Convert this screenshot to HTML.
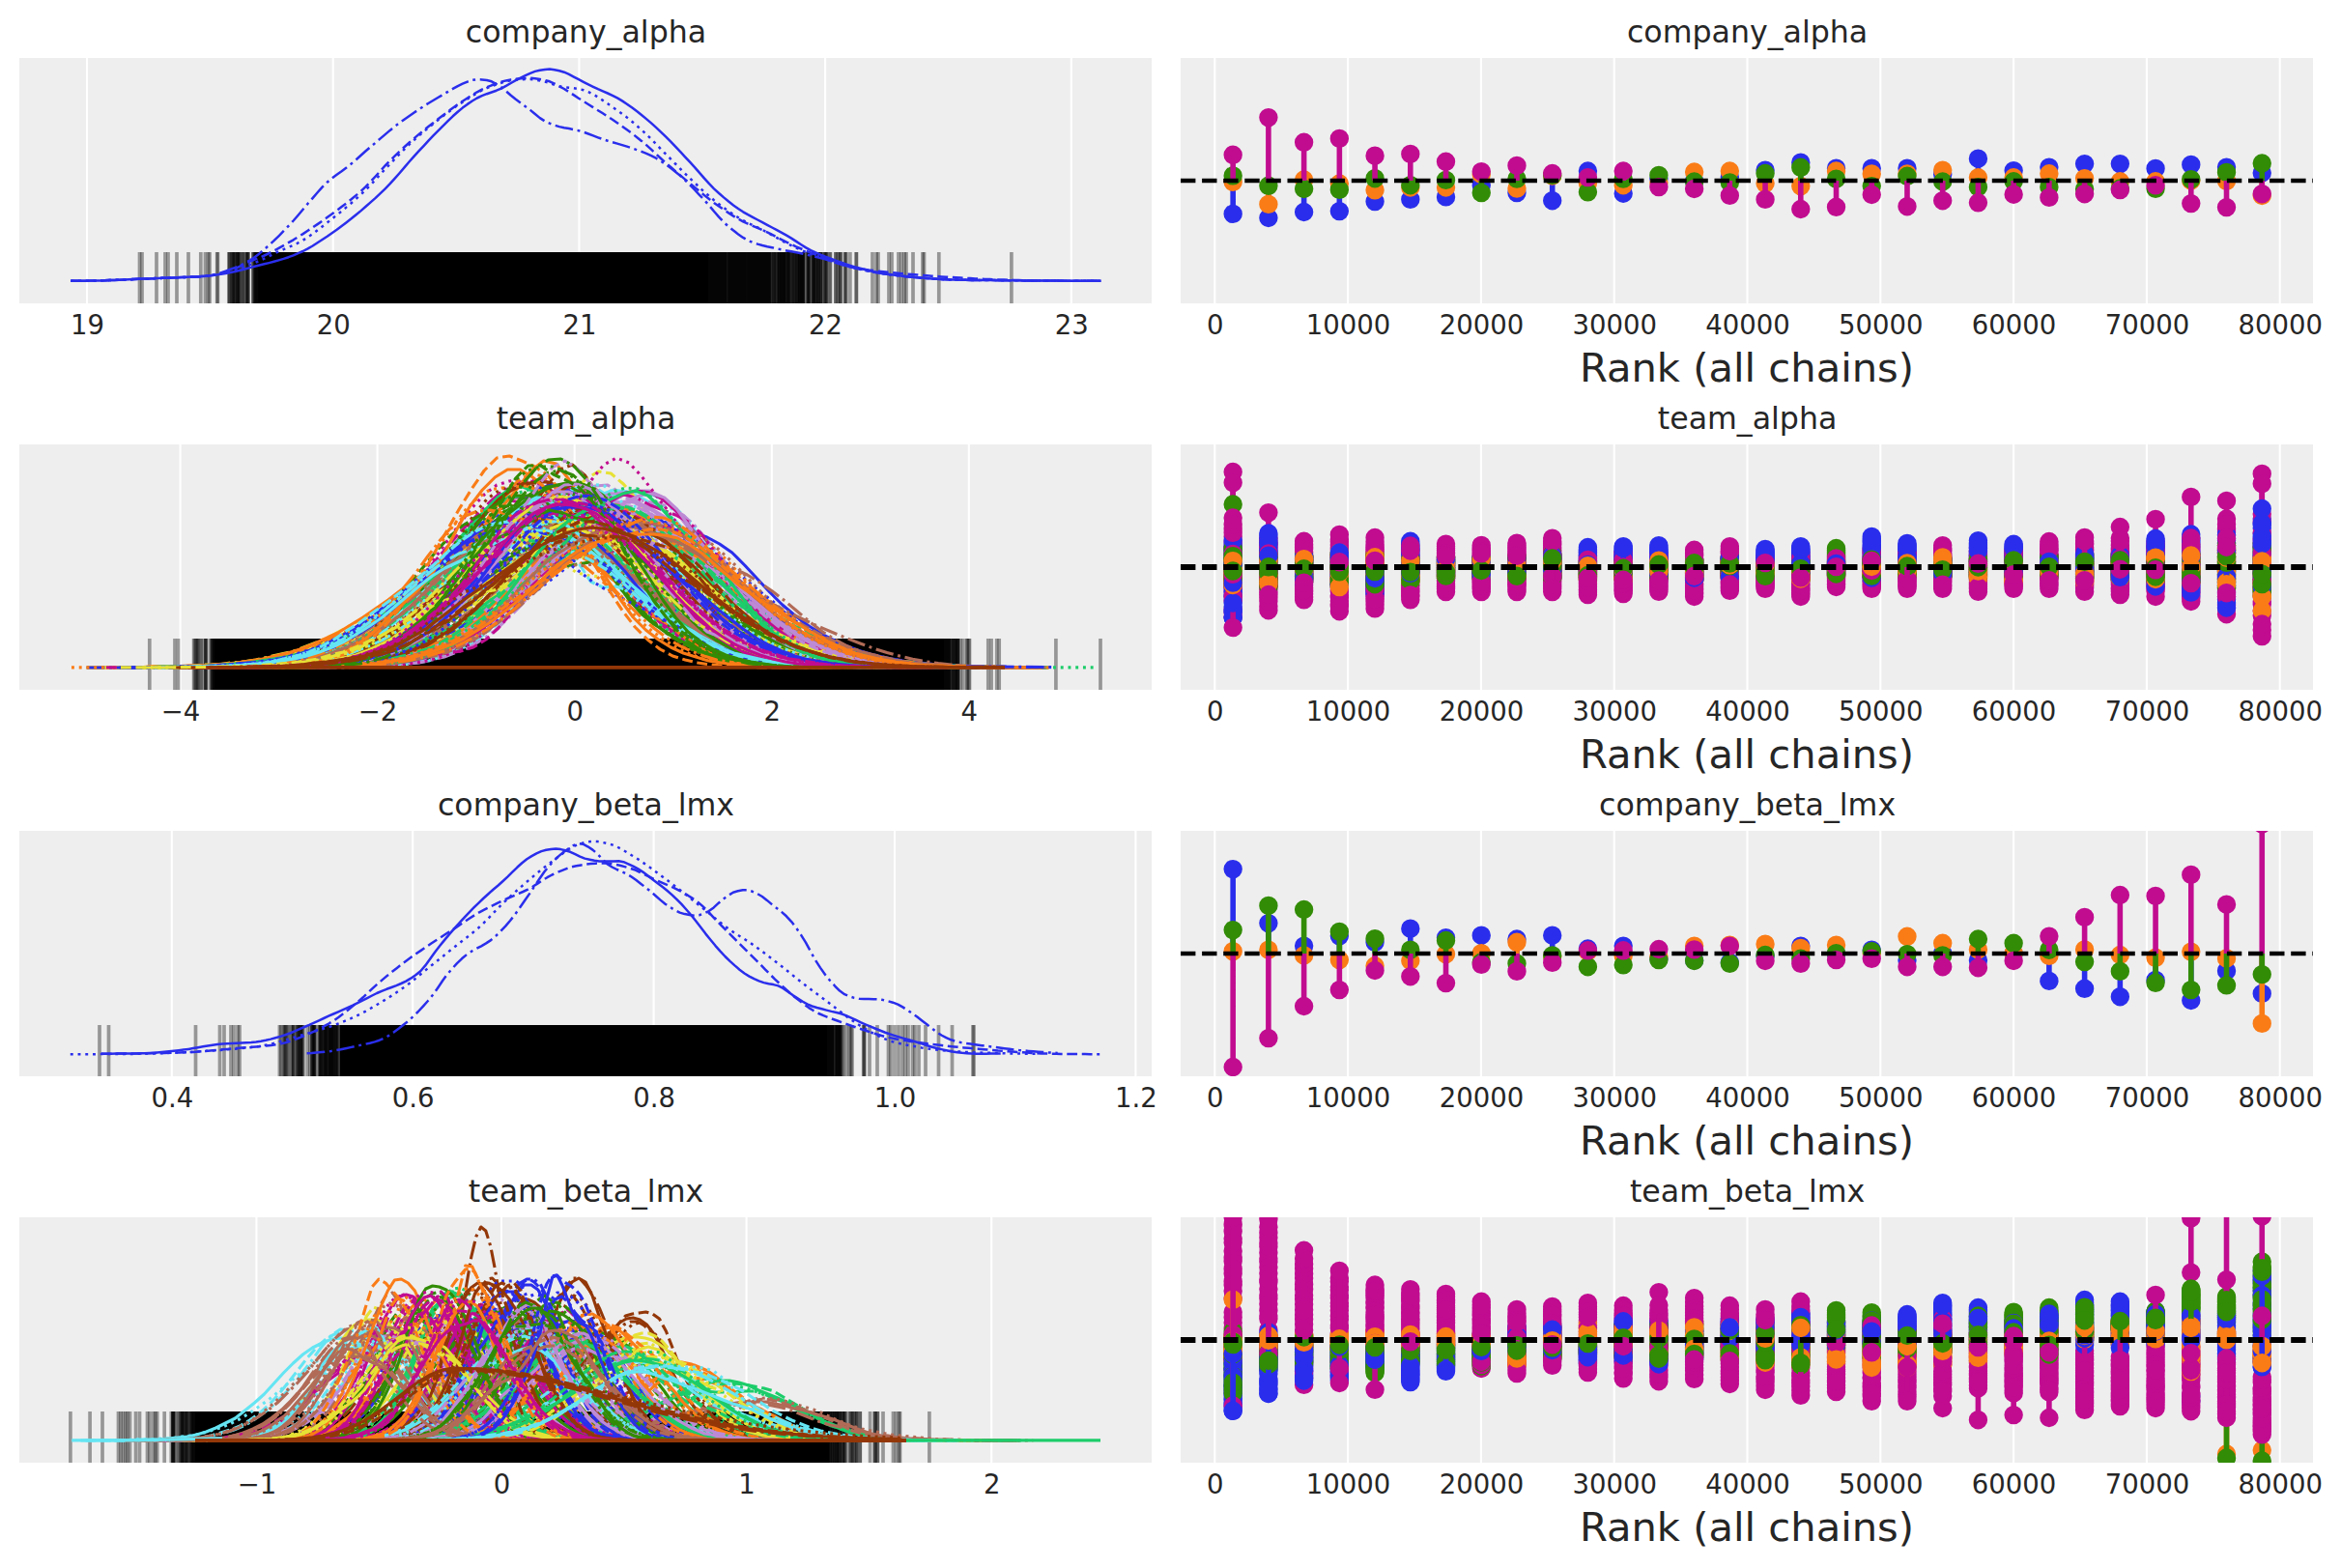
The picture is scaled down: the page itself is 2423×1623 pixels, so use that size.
<!DOCTYPE html>
<html lang="en"><head><meta charset="utf-8"><title>Trace plot</title>
<style>html,body{margin:0;padding:0;background:#fff}svg{display:block}text{font-family:"DejaVu Sans","Liberation Sans",sans-serif;fill:#262626}.tk{font-size:27.5px;text-anchor:middle}.tt{font-size:31.65px;text-anchor:middle}.xl{font-size:41.65px;text-anchor:middle}.k{fill:none;stroke-width:2.50;stroke-linejoin:round;vector-effect:non-scaling-stroke}.g{stroke:#fff;stroke-width:2.1}.d{fill:none;stroke-width:19.4;stroke-linecap:round;vector-effect:non-scaling-stroke}.s{fill:none;stroke-width:5.6;vector-effect:non-scaling-stroke}.w .k{stroke-width:3.1}.c0{stroke:#2a2eec}.c1{stroke:#fa7c17}.c2{stroke:#328c06}.c3{stroke:#c10c90}.c4{stroke:#933708}.c5{stroke:#65e5f3}.c6{stroke:#e6e135}.c7{stroke:#1ccd6a}.c8{stroke:#bd8ad5}.c9{stroke:#b16b57}.d1{stroke-dasharray:2.92 4.82}.d2{stroke-dasharray:10.80 4.67}.d3{stroke-dasharray:18.69 4.67 2.92 4.67}</style></head><body>
<svg width="2423" height="1623" viewBox="0 0 2423 1623">
<rect width="2423" height="1623" fill="#fff"/>
<defs>
<clipPath id="cl0"><rect x="20" y="60" width="1172" height="254"/></clipPath>
<clipPath id="cr0"><rect x="1222" y="60" width="1172" height="254"/></clipPath>
<clipPath id="cl1"><rect x="20" y="460" width="1172" height="254"/></clipPath>
<clipPath id="cr1"><rect x="1222" y="460" width="1172" height="254"/></clipPath>
<clipPath id="cl2"><rect x="20" y="860" width="1172" height="254"/></clipPath>
<clipPath id="cr2"><rect x="1222" y="860" width="1172" height="254"/></clipPath>
<clipPath id="cl3"><rect x="20" y="1260" width="1172" height="254"/></clipPath>
<clipPath id="cr3"><rect x="1222" y="1260" width="1172" height="254"/></clipPath>
</defs>
<rect x="20" y="60" width="1172" height="254" fill="#eee"/>
<path class="g" d="M90,60v254M344.7,60v254M599.4,60v254M854.1,60v254M1108.8,60v254"/>
<rect x="1222" y="60" width="1172" height="254" fill="#eee"/>
<path class="g" d="M1257.3,60v254M1395.1,60v254M1532.9,60v254M1670.7,60v254M1808.5,60v254M1946.3,60v254M2084.1,60v254M2221.9,60v254M2359.7,60v254"/>
<rect x="20" y="460" width="1172" height="254" fill="#eee"/>
<path class="g" d="M186.6,460v254M390.6,460v254M594.7,460v254M798.8,460v254M1002.8,460v254"/>
<rect x="1222" y="460" width="1172" height="254" fill="#eee"/>
<path class="g" d="M1257.3,460v254M1395.1,460v254M1532.9,460v254M1670.7,460v254M1808.5,460v254M1946.3,460v254M2084.1,460v254M2221.9,460v254M2359.7,460v254"/>
<rect x="20" y="860" width="1172" height="254" fill="#eee"/>
<path class="g" d="M177.8,860v254M427.2,860v254M676.6,860v254M926,860v254M1175.4,860v254"/>
<rect x="1222" y="860" width="1172" height="254" fill="#eee"/>
<path class="g" d="M1257.3,860v254M1395.1,860v254M1532.9,860v254M1670.7,860v254M1808.5,860v254M1946.3,860v254M2084.1,860v254M2221.9,860v254M2359.7,860v254"/>
<rect x="20" y="1260" width="1172" height="254" fill="#eee"/>
<path class="g" d="M265.4,1260v254M519,1260v254M772.6,1260v254M1026.2,1260v254"/>
<rect x="1222" y="1260" width="1172" height="254" fill="#eee"/>
<path class="g" d="M1257.3,1260v254M1395.1,1260v254M1532.9,1260v254M1670.7,1260v254M1808.5,1260v254M1946.3,1260v254M2084.1,1260v254M2221.9,1260v254M2359.7,1260v254"/>
<g clip-path="url(#cl0)">
<rect x="267.5" y="261" width="465.5" height="54"/>
<path d="M144.5,261v54M212.5,261v54M240,261v54M245.4,261v54M251.8,261v54M262,261v54M266,261v54M269.3,261v54M732.1,261v54M733.6,261v54M736.6,261v54M738.2,261v54M740.5,261v54M741.7,261v54M744.8,261v54M747.1,261v54M748.8,261v54M750.8,261v54M755.2,261v54M757.1,261v54M760.1,261v54M763.6,261v54M766,261v54M768.1,261v54M770.5,261v54M773.6,261v54M777,261v54M780.2,261v54M782.4,261v54M784.9,261v54M788.4,261v54M790.5,261v54M793.4,261v54M795.7,261v54M800.6,261v54M806.3,261v54M809.1,261v54M812.1,261v54M816.6,261v54M822.1,261v54M827.6,261v54M829.9,261v54M835.5,261v54M841.9,261v54M846.5,261v54M853.7,261v54M865.1,261v54M879.9,261v54M930,261v54M1046.9,261v54" stroke="#000" stroke-opacity="0.37" stroke-width="3.7" fill="none"/>
<path d="M147,261v54M215.5,261v54M240.6,261v54M246.1,261v54M253.8,261v54M263.1,261v54M266.4,261v54M269.6,261v54M732.3,261v54M733.7,261v54M736.6,261v54M738.8,261v54M740.6,261v54M741.8,261v54M745.1,261v54M747.2,261v54M749.5,261v54M751,261v54M755.5,261v54M757.4,261v54M761,261v54M763.7,261v54M766.3,261v54M768.4,261v54M770.8,261v54M775,261v54M778,261v54M780.4,261v54M783.2,261v54M785,261v54M788.7,261v54M791,261v54M794.2,261v54M796.1,261v54M801.5,261v54M806.5,261v54M809.5,261v54M812.4,261v54M817,261v54M822.8,261v54M827.8,261v54M830.8,261v54M836.5,261v54M842,261v54M846.9,261v54M853.8,261v54M867.2,261v54M886.2,261v54M933,261v54" stroke="#000" stroke-opacity="0.37" stroke-width="3.7" fill="none"/>
<path d="M162,261v54M217,261v54M241.2,261v54M246.2,261v54M255.1,261v54M264,261v54M267.9,261v54M731.2,261v54M732.8,261v54M733.9,261v54M736.7,261v54M739,261v54M740.7,261v54M742.1,261v54M745.1,261v54M747.2,261v54M749.8,261v54M751.8,261v54M755.6,261v54M758,261v54M761.3,261v54M764.1,261v54M766.4,261v54M769,261v54M771,261v54M775.1,261v54M778.3,261v54M780.7,261v54M783.3,261v54M785.5,261v54M789.1,261v54M791.3,261v54M794.4,261v54M796.1,261v54M801.5,261v54M806.6,261v54M810.1,261v54M813.6,261v54M817.9,261v54M824.1,261v54M828,261v54M831,261v54M836.8,261v54M842.2,261v54M847.5,261v54M855.1,261v54M868.8,261v54M886.5,261v54M936,261v54" stroke="#000" stroke-opacity="0.37" stroke-width="3.7" fill="none"/>
<path d="M171,261v54M224.7,261v54M241.3,261v54M247.1,261v54M255.9,261v54M264.1,261v54M268.2,261v54M731.8,261v54M733,261v54M733.9,261v54M737,261v54M739.3,261v54M740.9,261v54M742.7,261v54M745.5,261v54M747.3,261v54M749.9,261v54M752.4,261v54M756.2,261v54M758,261v54M761.4,261v54M764.3,261v54M766.8,261v54M769.2,261v54M771.8,261v54M775.1,261v54M778.5,261v54M780.9,261v54M783.3,261v54M786.2,261v54M789.1,261v54M791.3,261v54M794.8,261v54M796.2,261v54M801.5,261v54M806.9,261v54M810.8,261v54M813.8,261v54M818.8,261v54M824.8,261v54M828,261v54M831.1,261v54M837.3,261v54M842.6,261v54M849.1,261v54M855.3,261v54M870,261v54M903,261v54M938,261v54" stroke="#000" stroke-opacity="0.37" stroke-width="3.7" fill="none"/>
<path d="M174,261v54M225.4,261v54M242.1,261v54M247.5,261v54M256.1,261v54M264.9,261v54M268.4,261v54M731.8,261v54M733.1,261v54M734.6,261v54M737.6,261v54M739.4,261v54M741,261v54M742.9,261v54M745.6,261v54M747.4,261v54M749.9,261v54M752.8,261v54M756.2,261v54M758.8,261v54M761.4,261v54M764.5,261v54M766.9,261v54M769.3,261v54M772.1,261v54M775.3,261v54M779,261v54M780.9,261v54M783.4,261v54M787.1,261v54M789.2,261v54M792.4,261v54M794.8,261v54M797.8,261v54M803.2,261v54M807.1,261v54M811.1,261v54M815.4,261v54M819.6,261v54M825.3,261v54M828.2,261v54M831.2,261v54M837.4,261v54M843.8,261v54M849.4,261v54M855.7,261v54M870.1,261v54M907,261v54M945,261v54" stroke="#000" stroke-opacity="0.37" stroke-width="3.7" fill="none"/>
<path d="M183,261v54M237,261v54M243.2,261v54M248,261v54M256.9,261v54M264.9,261v54M268.6,261v54M731.9,261v54M733.1,261v54M736.1,261v54M737.8,261v54M740,261v54M741,261v54M742.9,261v54M745.7,261v54M747.5,261v54M750,261v54M754.2,261v54M756.3,261v54M759.1,261v54M762.1,261v54M765.1,261v54M767.6,261v54M770,261v54M773.1,261v54M775.7,261v54M779.1,261v54M781.1,261v54M784.2,261v54M787.4,261v54M789.7,261v54M792.7,261v54M794.9,261v54M797.9,261v54M804.2,261v54M808.3,261v54M811.3,261v54M815.4,261v54M820.8,261v54M825.4,261v54M829.7,261v54M831.4,261v54M838,261v54M844.6,261v54M849.5,261v54M858.9,261v54M874.3,261v54M909,261v54M955,261v54" stroke="#000" stroke-opacity="0.37" stroke-width="3.7" fill="none"/>
<path d="M195,261v54M237.5,261v54M243.5,261v54M250.3,261v54M257,261v54M265.5,261v54M269,261v54M731.9,261v54M733.1,261v54M736.1,261v54M737.9,261v54M740.1,261v54M741.1,261v54M743.9,261v54M745.9,261v54M747.8,261v54M750.2,261v54M754.6,261v54M756.6,261v54M759.4,261v54M762.3,261v54M765.2,261v54M767.6,261v54M770,261v54M773.1,261v54M776.1,261v54M779.2,261v54M782.1,261v54M784.7,261v54M787.8,261v54M789.7,261v54M792.9,261v54M794.9,261v54M798,261v54M804.2,261v54M808.6,261v54M811.3,261v54M815.5,261v54M820.8,261v54M825.6,261v54M829.7,261v54M832.4,261v54M841.1,261v54M845.1,261v54M850,261v54M859.5,261v54M875,261v54M920,261v54M956.5,261v54" stroke="#000" stroke-opacity="0.37" stroke-width="3.7" fill="none"/>
<path d="M207.8,261v54M237.7,261v54M245.2,261v54M251.1,261v54M261.9,261v54M265.9,261v54M269.2,261v54M731.9,261v54M733.3,261v54M736.3,261v54M738.1,261v54M740.5,261v54M741.3,261v54M744.6,261v54M747,261v54M748.6,261v54M750.4,261v54M755,261v54M756.9,261v54M759.8,261v54M762.8,261v54M765.9,261v54M767.8,261v54M770.2,261v54M773.2,261v54M776.6,261v54M780,261v54M782.3,261v54M784.8,261v54M788.2,261v54M790.3,261v54M792.9,261v54M795.2,261v54M800,261v54M805.5,261v54M808.6,261v54M811.3,261v54M815.8,261v54M821.9,261v54M827.4,261v54M829.9,261v54M835.3,261v54M841.2,261v54M845.9,261v54M851.9,261v54M864.9,261v54M876,261v54M923,261v54M971.8,261v54" stroke="#000" stroke-opacity="0.37" stroke-width="3.7" fill="none"/>
</g>
<g clip-path="url(#cl0)">
<path class="k c0" d="M73.3,290.8l5,0 5-0.1 5,0 5-0.1 5-0.1 5-0.1 5-0.2 5-0.1 5.1-0.2 5-0.2 5-0.2 5-0.3 5-0.2 5-0.3 5-0.1 5-0.2 5-0.2 5-0.2 5-0.2 5-0.1 5-0.2 5-0.2 5-0.2 5-0.3 5-0.2 5-0.2 5.1-0.3 5-0.4 5-0.5 5-0.6 5-0.8 5-0.9 5-0.9 5-1 5-1.2 5-1.3 5-1.4 5-1.3 5-1.3 5-1.2 5-1.2 5-1.3 5-1.4 5-1.5 5.1-1.7 5-1.9 5-2.1 5-2.2 5-2.6 5-2.9 5-3.2 5-3.3 5-3.3 5-3.5 5-3.5 5-3.7 5-3.8 5-3.9 5-4.1 5-4.1 5-4.3 5-4.4 5.1-4.5 5-4.7 5-4.9 5-5.1 5-5.5 5-5.7 5-5.9 5-5.8 5-5.6 5-5.5 5-5.4 5-5.4 5-5.2 5-5.1 5-5 5-5 5-4.8 5.1-4.6 5-4.1 5-3.7 5-3.4 5-3 5-2.4 5-1.9 5-1.7 5-1.8 5-2.1 5-2.7 5-2.9 5-2.8 5-2.6 5-2.5 5-2.3 5-1.9 5-1.2 5.1-0.8 5-0.3 5,0.6 5,1.1 5,1.4 5,2.2 5,2.7 5,2.6 5,2.6 5,2.5 5,2.5 5,2.4 5,2.2 5,2.1 5,2.3 5,2.6 5,3 5,3.3 5.1,3.6 5,3.8 5,3.9 5,4.1 5,4.3 5,4.5 5,4.7 5,4.8 5,5 5,5.2 5,5.3 5,5.4 5,5.4 5,5.5 5,5.7 5,5.7 5,5.6 5,5.1 5.1,4.7 5,4.4 5,4.1 5,3.9 5,3.6 5,3.3 5,2.9 5,2.7 5,2.6 5,2.6 5,2.7 5,2.7 5,2.7 5,2.7 5,2.8 5,2.9 5,3.3 5.1,3.3 5,3.2 5,2.8 5,2.3 5,2.1 5,2 5,1.9 5,1.9 5,1.8 5,1.8 5,1.6 5,1.5 5,1.4 5,1.3 5,1.3 5,1.1 5,0.9 5,0.8 5.1,0.8 5,0.7 5,0.7 5,0.6 5,0.5 5,0.5 5,0.5 5,0.4 5,0.5 5,0.4 5,0.3 5,0.3 5,0.2 5,0.2 5,0.1 5,0.1 5,0.1 5,0.1 5.1,0 5,0.1 5,0 5,0.1 5,0 5,0.1 5,0 5,0.1 5,0 5,0 5,0.1 5,0 5,0.1 5,0 5,0 5,0.1 5,0 5,0 5.1,0.1 5,0 5,0 5,0 5,0 5,0.1 5,0 5,0 5,0"/>
<path class="k c0 d1" d="M73.3,290.8l5,0 5-0.1 5,0 5-0.1 5-0.1 5-0.1 5-0.2 5-0.1 5.1-0.2 5-0.2 5-0.2 5-0.3 5-0.2 5-0.3 5-0.1 5-0.2 5-0.2 5-0.2 5-0.2 5-0.1 5-0.2 5-0.2 5-0.2 5-0.2 5-0.2 5-0.3 5.1-0.3 5-0.4 5-0.5 5-0.9 5-1.1 5-1.2 5-1.3 5-1.3 5-1.6 5-1.8 5-1.9 5-2 5-2.1 5-2.3 5-2.4 5-2.5 5-2.5 5-2.2 5.1-2.2 5-2.1 5-2.4 5-2.7 5-3.2 5-3.4 5-3.8 5-3.9 5-3.9 5-4 5-3.9 5-4 5-4.2 5-4.2 5-4.4 5-4.5 5-4.8 5-5.1 5.1-5.5 5-5.5 5-5.5 5-5.2 5-5.2 5-5.2 5-5 5-4.9 5-4.6 5-4.5 5-4.2 5-4.1 5-4.1 5-3.9 5-3.9 5-3.8 5-3.8 5.1-3.6 5-3.3 5-3.2 5-3.2 5-3 5-2.7 5-2.3 5-2 5-1.8 5-1.7 5-1.4 5-1 5-0.6 5-0.4 5-0.3 5-0.1 5,0.6 5,1 5.1,1.1 5,1.3 5,1.8 5,1.6 5,0.9 5,0.6 5,0.5 5,0.7 5,1.2 5,1.9 5,2.5 5,3 5,3.3 5,3.4 5,3.5 5,3.5 5,3.5 5,3.8 5.1,4.1 5,4.3 5,4.4 5,4.6 5,5 5,5.1 5,5.2 5,5.1 5,5 5,5.1 5,5.1 5,5 5,4.9 5,4.7 5,4.8 5,4.6 5,4.4 5,4.2 5.1,4 5,3.8 5,3.6 5,3.4 5,3.2 5,2.9 5,2.6 5,2.4 5,2.4 5,2.4 5,2.6 5,2.8 5,2.8 5,2.9 5,2.7 5,2.5 5,2.4 5.1,2.3 5,2.1 5,1.9 5,1.6 5,1.5 5,1.5 5,1.6 5,1.7 5,1.7 5,1.6 5,1.6 5,1.3 5,1.3 5,1.2 5,1.1 5,1 5,0.9 5,0.7 5.1,0.8 5,0.7 5,0.6 5,0.6 5,0.5 5,0.4 5,0.5 5,0.4 5,0.4 5,0.4 5,0.3 5,0.3 5,0.2 5,0.2 5,0.1 5,0.1 5,0.1 5,0.1 5.1,0 5,0.1 5,0 5,0.1 5,0 5,0.1 5,0 5,0.1 5,0 5,0 5,0.1 5,0 5,0.1 5,0 5,0 5,0.1 5,0 5,0 5.1,0.1 5,0 5,0 5,0 5,0 5,0.1 5,0 5,0 5,0"/>
<path class="k c0 d2" d="M73.3,290.8l5,0 5-0.1 5,0 5-0.1 5-0.1 5-0.1 5-0.2 5-0.1 5.1-0.2 5-0.2 5-0.2 5-0.3 5-0.2 5-0.3 5-0.1 5-0.2 5-0.2 5-0.2 5-0.2 5-0.1 5-0.2 5-0.2 5-0.2 5-0.2 5-0.2 5-0.3 5.1-0.3 5-0.4 5-0.6 5-1 5-1.3 5-1.4 5-1.6 5-1.8 5-2.4 5-2.5 5-2.3 5-2.1 5-2 5-2.2 5-2.4 5-2.5 5-2.7 5-2.8 5.1-2.9 5-2.9 5-3.1 5-3.1 5-3.3 5-3.3 5-3.4 5-3.4 5-3.6 5-3.6 5-3.7 5-3.7 5-3.8 5-4 5-4.2 5-4.3 5-4.6 5-5.2 5.1-5.5 5-5.6 5-5.5 5-5.2 5-4.8 5-4.8 5-4.6 5-4.5 5-4.4 5-4.2 5-4.1 5-4 5-3.8 5-3.9 5-3.9 5-3.8 5-3.7 5.1-3.6 5-3.4 5-3.2 5-3.2 5-3 5-2.7 5-2.3 5-2 5-1.8 5-1.7 5-1.4 5-1 5-0.6 5-0.5 5-0.4 5-0.1 5,0.4 5,0.8 5.1,0.9 5,1.4 5,2.3 5,2.7 5,2.7 5,3.1 5,3.3 5,3.3 5,3.2 5,3.1 5,3.1 5,3.1 5,3.1 5,3.2 5,3.3 5,3.4 5,3.5 5,3.6 5.1,3.7 5,3.9 5,4 5,4.2 5,4.6 5,4.6 5,4.7 5,4.5 5,4.3 5,4.3 5,4.3 5,4.2 5,4.1 5,4.2 5,4.1 5,4.1 5,4 5,3.8 5.1,3.6 5,3.5 5,3.4 5,3.2 5,3 5,2.7 5,2.3 5,2.2 5,2.1 5,2.2 5,2.3 5,2.5 5,2.6 5,2.6 5,2.5 5,2.4 5,2.3 5.1,2.2 5,2.1 5,2 5,2 5,2.1 5,2.1 5,2 5,1.8 5,1.8 5,1.5 5,1.2 5,1 5,0.9 5,0.7 5,0.8 5,0.6 5,0.6 5,0.5 5.1,0.6 5,0.4 5,0.5 5,0.5 5,0.5 5,0.4 5,0.4 5,0.4 5,0.4 5,0.4 5,0.3 5,0.4 5,0.3 5,0.3 5,0.3 5,0.3 5,0.3 5,0.2 5.1,0.3 5,0.3 5,0.2 5,0.2 5,0.2 5,0.2 5,0.1 5,0.2 5,0.1 5,0.1 5,0.2 5,0.1 5,0.1 5,0.1 5,0 5,0.1 5,0 5,0 5.1,0.1 5,0 5,0 5,0 5,0.1 5,0 5,0 5,0 5,0"/>
<path class="k c0 d3" d="M73.3,290.8l5,0 5-0.1 5,0 5-0.1 5-0.1 5-0.1 5-0.2 5-0.1 5.1-0.2 5-0.2 5-0.2 5-0.3 5-0.2 5-0.3 5-0.1 5-0.2 5-0.2 5-0.2 5-0.2 5-0.1 5-0.2 5-0.2 5-0.2 5-0.2 5-0.2 5-0.3 5.1-0.3 5-0.4 5-0.7 5-1.1 5-1.5 5-1.8 5-1.8 5-1.9 5-2.1 5-2.5 5-2.8 5-3.3 5-3.8 5-4.2 5-4.4 5-4.6 5-4.9 5-5.1 5.1-5.3 5-5.4 5-5.8 5-6 5-5.9 5-5.7 5-5.8 5-5.6 5-5 5-4.2 5-3.7 5-3.5 5-3.7 5-4.1 5-4.3 5-4.5 5-4.4 5-4.4 5.1-4.2 5-4.3 5-4.3 5-4.2 5-4 5-3.8 5-3.7 5-3.5 5-3.4 5-3.4 5-3.2 5-3.2 5-3 5-3 5-2.9 5-2.9 5-3 5.1-2.8 5-2.4 5-2.1 5-1.8 5-0.6 5,0.2 5,0.6 5,1.3 5,2.8 5,3.2 5,4.1 5,4.4 5,4 5,3.7 5,3.7 5,3.7 5,4.1 5,4.1 5.1,3.3 5,2.3 5,1.9 5,1.5 5,1.1 5,0.9 5,1 5,1.1 5,1.5 5,1.8 5,1.9 5,1.9 5,1.8 5,1.6 5,1.5 5,1.4 5,1.5 5,1.5 5.1,1.7 5,1.8 5,1.8 5,2 5,2.3 5,2.5 5,3 5,3.4 5,3.7 5,3.9 5,4.2 5,4.5 5,4.9 5,5.2 5,5.3 5,5.3 5,5.6 5,6 5.1,5.9 5,5.4 5,4.6 5,4 5,3.8 5,3.5 5,2.9 5,2.2 5,1.6 5,1.4 5,1.2 5,1 5,1.1 5,1.1 5,1 5,0.9 5,0.9 5.1,1.1 5,1.1 5,1.2 5,1.2 5,1.3 5,1.3 5,1.4 5,1.6 5,1.6 5,1.5 5,1.5 5,1.3 5,1.2 5,1.1 5,1.1 5,0.9 5,0.9 5,0.7 5.1,0.8 5,0.6 5,0.7 5,0.5 5,0.6 5,0.4 5,0.5 5,0.4 5,0.4 5,0.4 5,0.3 5,0.3 5,0.2 5,0.2 5,0.1 5,0.1 5,0.1 5,0.1 5.1,0 5,0.1 5,0 5,0.1 5,0 5,0.1 5,0 5,0.1 5,0 5,0 5,0.1 5,0 5,0.1 5,0 5,0 5,0.1 5,0 5,0 5.1,0.1 5,0 5,0 5,0 5,0 5,0.1 5,0 5,0 5,0"/>
</g>
<g clip-path="url(#cr0)">
<g transform="translate(1276.17 187) scale(36.7267 1)">
<path class="s c0" d="M0,0V34.4M1,0V38.5M2,0V32.5M3,0V31.6M4,0V21.6M5,0V19.4M6,0V16.9M7,0V4.7M8,0V12.6M9,0V20.7M10,0V-10M11,0V13.2M12,0V-1.9M13,0V0M14,0V-3.8M15,0V-10.9M16,0V-18.8M17,0V-12.8M18,0V-12.8M19,0V-12.8M20,0V-6.6M21,0V-22.8M22,0V-10.4M23,0V-13.9M24,0V-17.4M25,0V-17.4M26,0V-12.6M27,0V-16.6M28,0V-13.9M29,0V-8"/>
<path class="d c0" d="M0,34.4h0M1,38.5h0M2,32.5h0M3,31.6h0M4,21.6h0M5,19.4h0M6,16.9h0M7,4.7h0M8,12.6h0M9,20.7h0M10-10h0M11,13.2h0M12-1.9h0M13,0h0M14-3.8h0M15-10.9h0M16-18.8h0M17-12.8h0M18-12.8h0M19-12.8h0M20-6.6h0M21-22.8h0M22-10.4h0M23-13.9h0M24-17.4h0M25-17.4h0M26-12.6h0M27-16.6h0M28-13.9h0M29-8h0"/>
<path class="s c1" d="M0,0V1.3M1,0V24.4M2,0V-1M3,0V3M4,0V9.8M5,0V7M6,0V7M7,0V-6.6M8,0V8.1M9,0V-5M10,0V2.8M11,0V4.7M12,0V2M13,0V-9M14,0V-10M15,0V2.8M16,0V5.6M17,0V-10M18,0V-7.1M19,0V-7.1M20,0V-10.9M21,0V-3.2M22,0V-3.2M23,0V-7.2M24,0V-2.4M25,0V0.8M26,0V0.8M27,0V0M28,0V0.3M29,0V15.5"/>
<path class="d c1" d="M0,1.3h0M1,24.4h0M2-1h0M3,3h0M4,9.8h0M5,7h0M6,7h0M7-6.6h0M8,8.1h0M9-5h0M10,2.8h0M11,4.7h0M12,2h0M13-9h0M14-10h0M15,2.8h0M16,5.6h0M17-10h0M18-7.1h0M19-7.1h0M20-10.9h0M21-3.2h0M22-3.2h0M23-7.2h0M24-2.4h0M25,0.8h0M26,0.8h0M27,0h0M28,0.3h0M29,15.5h0"/>
<path class="s c2" d="M0,0V-5.1M1,0V5.3M2,0V8.5M3,0V9.4M4,0V-2.3M5,0V4.7M6,0V-0.6M7,0V12.6M8,0V-1.9M9,0V-5.6M10,0V11.8M11,0V-1.9M12,0V-5.6M13,0V1M14,0V1.9M15,0V-7.5M16,0V-13.7M17,0V-1.9M18,0V5.6M19,0V-4.7M20,0V1M21,0V6.7M22,0V0.8M23,0V6.7M24,0V8.8M25,0V8M26,0V8.3M27,0V-1.3M28,0V-8.6M29,0V-18"/>
<path class="d c2" d="M0-5.1h0M1,5.3h0M2,8.5h0M3,9.4h0M4-2.3h0M5,4.7h0M6-0.6h0M7,12.6h0M8-1.9h0M9-5.6h0M10,11.8h0M11-1.9h0M12-5.6h0M13,1h0M14,1.9h0M15-7.5h0M16-13.7h0M17-1.9h0M18,5.6h0M19-4.7h0M20,1h0M21,6.7h0M22,0.8h0M23,6.7h0M24,8.8h0M25,8h0M26,8.3h0M27-1.3h0M28-8.6h0M29-18h0"/>
<path class="s c3" d="M0,0V-26.7M1,0V-65.4M2,0V-39.7M3,0V-43.6M4,0V-25.8M5,0V-27.6M6,0V-19.7M7,0V-9.4M8,0V-15.6M9,0V-7.5M10,0V-3.4M11,0V-10M12,0V6.6M13,0V8.5M14,0V15.4M15,0V19.4M16,0V29.5M17,0V27.3M18,0V14.5M19,0V26.7M20,0V20.7M21,0V22.8M22,0V14.2M23,0V17.4M24,0V13.7M25,0V9.6M26,0V4.8M27,0V23.6M28,0V27.6M29,0V13.7"/>
<path class="d c3" d="M0-26.7h0M1-65.4h0M2-39.7h0M3-43.6h0M4-25.8h0M5-27.6h0M6-19.7h0M7-9.4h0M8-15.6h0M9-7.5h0M10-3.4h0M11-10h0M12,6.6h0M13,8.5h0M14,15.4h0M15,19.4h0M16,29.5h0M17,27.3h0M18,14.5h0M19,26.7h0M20,20.7h0M21,22.8h0M22,14.2h0M23,17.4h0M24,13.7h0M25,9.6h0M26,4.8h0M27,23.6h0M28,27.6h0M29,13.7h0"/>
</g>
<path d="M1222,187H2394" stroke="#000" stroke-width="4.3" stroke-dasharray="15.4 6.7" fill="none"/>
</g>
<g clip-path="url(#cl2)">
<rect x="352" y="1061" width="504" height="54"/>
<path d="M103,1061v54M248,1061v54M298.5,1061v54M308.1,1061v54M313.9,1061v54M325,1061v54M331.9,1061v54M337,1061v54M341.7,1061v54M343.2,1061v54M347.8,1061v54M353.5,1061v54M855.8,1061v54M857.6,1061v54M861.1,1061v54M864.2,1061v54M868.1,1061v54M871.9,1061v54M894.6,1061v54M937,1061v54M1007,1061v54" stroke="#000" stroke-opacity="0.37" stroke-width="3.7" fill="none"/>
<path d="M112.5,1061v54M289.4,1061v54M301,1061v54M308.4,1061v54M318.2,1061v54M325.4,1061v54M332.3,1061v54M337.2,1061v54M342,1061v54M343.7,1061v54M347.9,1061v54M854.1,1061v54M856.1,1061v54M857.7,1061v54M861.3,1061v54M865.9,1061v54M868.3,1061v54M873.3,1061v54M900,1061v54M940,1061v54M1008,1061v54" stroke="#000" stroke-opacity="0.37" stroke-width="3.7" fill="none"/>
<path d="M202.5,1061v54M290.8,1061v54M302.3,1061v54M310.2,1061v54M320.9,1061v54M325.7,1061v54M332.7,1061v54M337.8,1061v54M342,1061v54M344.5,1061v54M348.6,1061v54M854.4,1061v54M856.3,1061v54M858.1,1061v54M861.4,1061v54M866,1061v54M868.3,1061v54M876.5,1061v54M908,1061v54M944.5,1061v54" stroke="#000" stroke-opacity="0.37" stroke-width="3.7" fill="none"/>
<path d="M227.5,1061v54M293.3,1061v54M303.7,1061v54M310.8,1061v54M322.6,1061v54M326.4,1061v54M334.2,1061v54M337.9,1061v54M342.2,1061v54M344.5,1061v54M349.3,1061v54M855.1,1061v54M856.4,1061v54M858.4,1061v54M861.5,1061v54M866.2,1061v54M868.7,1061v54M879.3,1061v54M919.5,1061v54M947,1061v54" stroke="#000" stroke-opacity="0.37" stroke-width="3.7" fill="none"/>
<path d="M232,1061v54M294.4,1061v54M304,1061v54M311.4,1061v54M323.3,1061v54M330,1061v54M334.5,1061v54M338.8,1061v54M342.5,1061v54M345.1,1061v54M349.8,1061v54M855.3,1061v54M856.5,1061v54M858.9,1061v54M861.8,1061v54M866.3,1061v54M869.1,1061v54M880.8,1061v54M922,1061v54M951,1061v54" stroke="#000" stroke-opacity="0.37" stroke-width="3.7" fill="none"/>
<path d="M239,1061v54M295,1061v54M304,1061v54M311.7,1061v54M323.3,1061v54M330.5,1061v54M335.6,1061v54M338.9,1061v54M342.8,1061v54M345.9,1061v54M349.9,1061v54M855.3,1061v54M856.6,1061v54M859.2,1061v54M861.8,1061v54M866.4,1061v54M869.1,1061v54M882,1061v54M926,1061v54M958,1061v54" stroke="#000" stroke-opacity="0.37" stroke-width="3.7" fill="none"/>
<path d="M242,1061v54M295.9,1061v54M307.8,1061v54M311.9,1061v54M324.4,1061v54M331.3,1061v54M335.6,1061v54M340.6,1061v54M342.8,1061v54M346.6,1061v54M352.8,1061v54M855.4,1061v54M856.8,1061v54M859.6,1061v54M861.9,1061v54M866.8,1061v54M870.1,1061v54M893.7,1061v54M930,1061v54M971.5,1061v54" stroke="#000" stroke-opacity="0.37" stroke-width="3.7" fill="none"/>
<path d="M246,1061v54M297.2,1061v54M308,1061v54M313.2,1061v54M324.6,1061v54M331.8,1061v54M336.4,1061v54M340.7,1061v54M343,1061v54M346.7,1061v54M353.3,1061v54M855.4,1061v54M857,1061v54M860.9,1061v54M863.2,1061v54M866.9,1061v54M870.2,1061v54M894.5,1061v54M934,1061v54M985.5,1061v54" stroke="#000" stroke-opacity="0.37" stroke-width="3.7" fill="none"/>
</g>
<g clip-path="url(#cl2)">
<path class="k c0" d="M104.9,1090.7l5,0 5,0 5-0.1 5,0 5-0.1 5,0 5-0.1 5-0.1 5-0.1 5-0.2 5-0.3 5.1-0.4 5-0.5 5-0.5 5-0.6 5-0.5 5-0.6 5-0.7 5-0.8 5-0.9 5-0.9 5-0.9 5-0.7 5-0.6 5-0.5 5-0.3 5-0.3 5-0.2 5-0.3 5-0.3 5-0.3 5-0.5 5-0.7 5-0.9 5.1-1.2 5-1.3 5-1.4 5-1.6 5-1.8 5-2.1 5-2.2 5-2.2 5-2.1 5-2.3 5-2.3 5-2.3 5-2.3 5-2.2 5-2.2 5-2.2 5-2.3 5-2.2 5-2.4 5-2.5 5-2.6 5-2.6 5-2.5 5-2.2 5.1-2 5-1.8 5-1.9 5-2.1 5-2.4 5-2.9 5-3.4 5-4.1 5-5.8 5-6.9 5-7 5-6.4 5-6.2 5-6 5-5.8 5-5.6 5-5.4 5-5.3 5-5.1 5-4.9 5-4.8 5-4.5 5-4.5 5.1-4.3 5-4.5 5-4.6 5-4.9 5-4.9 5-4.5 5-4 5-3.2 5-2.8 5-2.2 5-1.3 5-0.9 5-0.4 5,0.6 5,1.2 5,1.5 5,2.3 5,2.5 5,2 5,1.1 5,1.1 5,0.6 5,0.2 5.1-0.1 5-0.1 5-0.1 5,0.9 5,2.1 5,2.4 5,2.6 5,3.3 5,3.7 5,3.9 5,3.7 5,3.9 5,4 5,4.3 5,4.7 5,5.1 5,5.6 5,5.7 5,6.3 5,6.6 5,6.5 5,6.2 5,6 5.1,5.8 5,5.4 5,4.9 5,4.5 5,4.3 5,3.8 5,3.1 5,2.6 5,2.2 5,1.7 5,1.1 5,0.9 5,1.3 5,2.5 5,3.5 5,3.7 5,3.2 5,3.2 5,2.9 5,2.1 5,1.5 5,1.3 5,1.3 5,1.3 5.1,1.1 5,1.3 5,1.8 5,2.2 5,2.3 5,2.5 5,2.2 5,2.1 5,2.1 5,2 5,2 5,1.8 5,1.6 5,1.5 5,1.5 5,1.4 5,1.5 5,1.5 5,1.6 5,1.6 5,1.5 5,1.3 5,1.1 5.1,1.1 5,1 5,0.7 5,0.6 5,0.4 5,0.4 5,0.1 5,0 5,0 5-0.1 5-0.1 5-0.1"/>
<path class="k c0 d1" d="M72.8,1091.2l5,0 5,0 5,0 5,0 5,0 5-0.1 5,0 5.1,0 5,0 5-0.1 5,0 5,0 5-0.1 5-0.1 5-0.1 5-0.1 5-0.1 5-0.2 5-0.1 5-0.2 5-0.2 5-0.2 5-0.2 5.1-0.2 5-0.3 5-0.3 5-0.3 5-0.3 5-0.4 5-0.4 5-0.3 5-0.4 5-0.4 5-0.4 5-0.4 5-0.5 5-0.5 5-0.6 5.1-0.6 5-0.9 5-1.1 5-1.2 5-1.4 5-1.4 5-1.5 5-1.5 5-1.5 5-1.5 5-1.4 5-1.4 5-1.5 5-1.5 5-1.5 5.1-1.7 5-1.8 5-1.9 5-2.1 5-2.1 5-2.3 5-2.4 5-2.7 5-2.8 5-2.9 5-3 5-3 5-3.1 5-3.3 5-3.3 5-3.5 5.1-3.7 5-4 5-4.1 5-4.1 5-4.1 5-4 5-4 5-4 5-4 5-4 5-3.9 5-3.9 5-3.9 5-4 5-4.1 5.1-4.5 5-5 5-5.1 5-5.3 5-5.1 5-4.8 5-4.6 5-4.6 5-4.4 5-4.3 5-4.3 5-4.2 5-4.1 5-4.1 5-3.8 5-3.7 5.1-3.8 5-3.8 5-3.6 5-2.9 5-2.1 5-1.5 5-1.2 5-0.5 5,0.3 5,0.8 5,1.2 5,1.3 5,2 5,2.6 5,3 5.1,3.2 5,3 5,3.3 5,3.5 5,3.6 5,3.6 5,3.7 5,3.7 5,3.8 5,3.8 5,3.9 5,3.9 5,4 5,4 5,4 5.1,4.1 5,4 5,4.2 5,4.1 5,4 5,3.7 5,3.5 5,3.2 5,3.1 5,3.2 5,3.3 5,3.6 5,3.7 5,3.7 5,3.9 5,3.8 5.1,3.9 5,4 5,4.1 5,4 5,4 5,3.9 5,3.8 5,3.7 5,3.7 5,3.7 5,3.8 5,3.9 5,3.9 5,3.8 5,3.7 5.1,3.4 5,3.4 5,3.2 5,3 5,2.7 5,2.5 5,2.3 5,2.1 5,1.6 5,1.3 5,1.2 5,1 5,0.9 5,0.9 5,0.9 5.1,0.8 5,0.7 5,0.6 5,0.5 5,0.5 5,0.4 5,0.4 5,0.3 5,0.3 5,0.3 5,0.2 5,0.1 5,0.2 5,0.1 5,0.2 5,0.1 5.1,0.1 5,0.2 5,0.1 5,0 5,0.1 5,0.1 5,0 5,0"/>
<path class="k c0 d2" d="M104.9,1090.7l5,0 5,0 5-0.1 5.1,0 5,0 5-0.1 5-0.1 5,0 5-0.1 5.1-0.1 5-0.1 5-0.1 5-0.1 5-0.2 5-0.1 5.1-0.1 5-0.2 5-0.2 5-0.2 5-0.4 5-0.4 5.1-0.4 5-0.4 5-0.5 5-0.5 5-0.4 5-0.5 5-0.4 5.1-0.4 5-0.4 5-0.4 5-0.4 5-0.4 5-0.5 5.1-0.6 5-0.7 5-0.8 5-1.1 5-1.5 5-1.9 5.1-2.1 5-2.1 5-2.1 5-2.3 5-2.5 5-2.6 5.1-2.9 5-3.1 5-3.5 5-3.7 5-4 5-4.1 5-4.2 5.1-4.4 5-4.7 5-4.7 5-4.5 5-4.3 5-4.2 5.1-4.1 5-3.9 5-3.9 5-3.8 5-3.6 5-3.5 5.1-3.5 5-3.4 5-3.4 5-3.3 5-3.2 5-3.3 5.1-3.2 5-3.2 5-3.4 5-3.4 5-3.3 5-3.2 5-3 5.1-2.7 5-2.5 5-2.5 5-2.4 5-2.4 5-2.3 5.1-2.1 5-2.2 5-2.2 5-2.4 5-2.8 5-3.2 5.1-3.3 5-3.1 5-2.7 5-2.3 5-2.1 5-2 5.1-1.7 5-1.2 5-0.8 5-0.7 5-0.6 5-0.4 5-0.3 5.1-0.1 5,0.4 5,0.9 5,1.1 5,1.4 5,1.4 5.1,1.7 5,2.3 5,2.4 5,2.6 5,2.4 5,2.2 5.1,2.2 5,2.1 5,2.3 5,2.4 5,2.7 5,2.9 5.1,3.2 5,3.5 5,4.2 5,4.9 5,5.4 5,5.3 5.1,5.1 5,5 5,5 5,5 5,5 5,5 5,5 5.1,5.1 5,5 5,5.1 5,5.1 5,5 5,4.7 5.1,4.6 5,4.5 5,4.3 5,3.9 5,3.9 5,3.6 5.1,3.2 5,2.7 5,2.2 5,2 5,1.8 5,1.8 5.1,1.8 5,1.8 5,1.8 5,1.7 5,1.7 5,1.6 5,1.6 5.1,1.7 5,1.5 5,1.3 5,1.1 5,1 5,0.9 5.1,0.8 5,0.8 5,0.7 5,0.7 5,0.7 5,0.6 5.1,0.6 5,0.6 5,0.6 5,0.5 5,0.5 5,0.5 5.1,0.5 5,0.4 5,0.5 5,0.4 5,0.5 5,0.4 5,0.4 5.1,0.5 5,0.3 5,0.4 5,0.4 5,0.3 5,0.3 5.1,0.4 5,0.3 5,0.3 5,0.2 5,0.2 5,0.1 5.1,0.1 5,0.1 5,0 5,0.1 5,0.1 5,0 5.1,0 5,0.1 5,0 5,0"/>
<path class="k c0 d3" d="M317.6,1090.2l5-0.2 5-0.4 5-0.5 5.1-0.5 5-0.6 5-0.8 5-0.9 5-1.1 5-1.1 5-1.1 5-1.1 5.1-1.1 5-1.1 5-1.3 5-1.7 5-2.1 5-2.9 5-3.4 5.1-3.7 5-4 5-4.1 5-4.6 5-4.9 5-5.4 5-5.6 5.1-6.2 5-7.1 5-7.4 5-6.9 5-5.8 5-5.4 5-4.9 5-4.2 5.1-3.4 5-2.8 5-2.6 5-2.9 5-3.3 5-4.2 5-4.9 5.1-5.4 5-5.8 5-6.5 5-7 5-7.3 5-7.1 5-7.6 5.1-7.6 5-7.2 5-6.2 5-5.4 5-4.8 5-4.1 5-3.5 5-3.3 5.1-2 5,0.5 5,2.6 5,3.3 5,4.3 5,5.3 5,4.9 5.1,3.4 5,2.5 5,2.2 5,2.3 5,3 5,3.5 5,3.9 5,4 5.1,4 5,4.3 5,4.4 5,4.1 5,3.3 5,3.1 5,2.5 5.1,1.5 5,1 5,0.6 5-0.4 5-1.8 5-2.4 5-3.7 5.1-4.7 5-4.2 5-3.6 5-3.1 5-1.6 5-1 5,0 5,1.6 5.1,2.3 5,2.9 5,3.9 5,4.2 5,3.9 5,3.9 5,4.4 5.1,5.5 5,6.5 5,7.3 5,8 5,9.3 5,9 5,7.7 5,7.1 5.1,6.3 5,5.5 5,5.1 5,3.6 5,2.1 5,1.6 5,0.9 5.1,0.2 5,0.1 5,0.1 5,0.2 5,0.7 5,1.2 5,1.4 5.1,1.9 5,2.8 5,3.2 5,3.4 5,3.6 5,3.9 5,3.8 5,4 5.1,4 5,3.2 5,2.6 5,2.2 5,1.6 5,1.1 5,0.9 5.1,0.7 5,0.7 5,0.6 5,0.7 5,0.6 5,0.7 5,0.7 5.1,0.6 5,0.6 5,0.6 5,0.6 5,0.4 5,0.5 5,0.4 5,0.4 5.1,0.3 5,0.4 5,0.3 5,0.2"/>
</g>
<g clip-path="url(#cr2)">
<g transform="translate(1276.17 987) scale(36.7267 1)">
<path class="s c0" d="M0,0V-87.4M1,0V-31.4M2,0V-7.9M3,0V-18.2M4,0V-11.7M5,0V-25.8M6,0V-16.4M7,0V-18.8M8,0V-15M9,0V-18.8M10,0V-5M11,0V-7.9M12,0V5M13,0V7M14,0V9M15,0V2.5M16,0V-7.9M17,0V0M18,0V-3.8M19,0V7.1M20,0V-0.4M21,0V7.1M22,0V0M23,0V28.4M24,0V36.3M25,0V44.7M26,0V27.4M27,0V48.5M28,0V17.9M29,0V41.4"/>
<path class="d c0" d="M0-87.4h0M1-31.4h0M2-7.9h0M3-18.2h0M4-11.7h0M5-25.8h0M6-16.4h0M7-18.8h0M8-15h0M9-18.8h0M10-5h0M11-7.9h0M12,5h0M13,7h0M14,9h0M15,2.5h0M16-7.9h0M17,0h0M18-3.8h0M19,7.1h0M20-0.4h0M21,7.1h0M22,0h0M23,28.4h0M24,36.3h0M25,44.7h0M26,27.4h0M27,48.5h0M28,17.9h0M29,41.4h0"/>
<path class="s c1" d="M0,0V-2.3M1,0V-3.8M2,0V1.9M3,0V6.6M4,0V12.8M5,0V7.5M6,0V0.6M7,0V-0.4M8,0V-11.7M9,0V3M10,0V-2M11,0V2.4M12,0V3M13,0V-7.9M14,0V-8.8M15,0V-9.8M16,0V-5.6M17,0V-8.8M18,0V0M19,0V-17.7M20,0V-10.7M21,0V-4.1M22,0V-0.4M23,0V2.4M24,0V-4.1M25,0V1.5M26,0V4.3M27,0V-1.9M28,0V4.9M29,0V72.4"/>
<path class="d c1" d="M0-2.3h0M1-3.8h0M2,1.9h0M3,6.6h0M4,12.8h0M5,7.5h0M6,0.6h0M7-0.4h0M8-11.7h0M9,3h0M10-2h0M11,2.4h0M12,3h0M13-7.9h0M14-8.8h0M15-9.8h0M16-5.6h0M17-8.8h0M18,0h0M19-17.7h0M20-10.7h0M21-4.1h0M22-0.4h0M23,2.4h0M24-4.1h0M25,1.5h0M26,4.3h0M27-1.9h0M28,4.9h0M29,72.4h0"/>
<path class="s c2" d="M0,0V-24.4M1,0V-49.6M2,0V-45.5M3,0V-22.6M4,0V-15.4M5,0V-3.8M6,0V-13.5M7,0V9M8,0V10.3M9,0V1.9M10,0V13.7M11,0V11.8M12,0V6.6M13,0V7.5M14,0V10.3M15,0V1.5M16,0V5.3M17,0V-0.4M18,0V-2.3M19,0V0.6M20,0V1.9M21,0V-15M22,0V-10.7M23,0V-3.8M24,0V8.6M25,0V18.4M26,0V30.3M27,0V37.6M28,0V32.9M29,0V21.6"/>
<path class="d c2" d="M0-24.4h0M1-49.6h0M2-45.5h0M3-22.6h0M4-15.4h0M5-3.8h0M6-13.5h0M7,9h0M8,10.3h0M9,1.9h0M10,13.7h0M11,11.8h0M12,6.6h0M13,7.5h0M14,10.3h0M15,1.5h0M16,5.3h0M17-0.4h0M18-2.3h0M19,0.6h0M20,1.9h0M21-15h0M22-10.7h0M23-3.8h0M24,8.6h0M25,18.4h0M26,30.3h0M27,37.6h0M28,32.9h0M29,21.6h0"/>
<path class="s c3" d="M0,0V117.5M1,0V87.6M2,0V54.5M3,0V37.6M4,0V17.5M5,0V23.7M6,0V30.6M7,0V11.3M8,0V18.4M9,0V9.4M10,0V-3.2M11,0V-3.2M12,0V-4.5M13,0V-4.1M14,0V-7.9M15,0V7.5M16,0V10.3M17,0V6.6M18,0V5.3M19,0V13.7M20,0V13.7M21,0V14.7M22,0V7.5M23,0V-17.9M24,0V-37.6M25,0V-60.5M26,0V-59.6M27,0V-81.6M28,0V-50.8M29,0V-134"/>
<path class="d c3" d="M0,117.5h0M1,87.6h0M2,54.5h0M3,37.6h0M4,17.5h0M5,23.7h0M6,30.6h0M7,11.3h0M8,18.4h0M9,9.4h0M10-3.2h0M11-3.2h0M12-4.5h0M13-4.1h0M14-7.9h0M15,7.5h0M16,10.3h0M17,6.6h0M18,5.3h0M19,13.7h0M20,13.7h0M21,14.7h0M22,7.5h0M23-17.9h0M24-37.6h0M25-60.5h0M26-59.6h0M27-81.6h0M28-50.8h0M29-134h0"/>
</g>
<path d="M1222,987H2394" stroke="#000" stroke-width="4.3" stroke-dasharray="15.4 6.7" fill="none"/>
</g>
<g clip-path="url(#cl1)">
<rect x="221.7" y="661" width="755.3" height="54"/>
<path d="M154.8,661v54M205.2,661v54M219.2,661v54M222,661v54M977.4,661v54M980.6,661v54M982,661v54M988,661v54M992,661v54M1026.1,661v54" stroke="#000" stroke-opacity="0.37" stroke-width="3.7" fill="none"/>
<path d="M181,661v54M208.1,661v54M219.3,661v54M223.6,661v54M978.2,661v54M980.8,661v54M982.9,661v54M988.1,661v54M993.9,661v54M1031.7,661v54" stroke="#000" stroke-opacity="0.37" stroke-width="3.7" fill="none"/>
<path d="M184.5,661v54M208.7,661v54M219.8,661v54M223.9,661v54M978.3,661v54M980.8,661v54M983.9,661v54M989.4,661v54M996.7,661v54M1034.2,661v54" stroke="#000" stroke-opacity="0.37" stroke-width="3.7" fill="none"/>
<path d="M200.6,661v54M212.2,661v54M220.5,661v54M975.5,661v54M978.7,661v54M981.2,661v54M984.3,661v54M989.5,661v54M1000.5,661v54M1092.9,661v54" stroke="#000" stroke-opacity="0.37" stroke-width="3.7" fill="none"/>
<path d="M201.5,661v54M212.8,661v54M221.1,661v54M976.2,661v54M979.1,661v54M981.4,661v54M985,661v54M990.9,661v54M1001.2,661v54M1139,661v54" stroke="#000" stroke-opacity="0.37" stroke-width="3.7" fill="none"/>
<path d="M202.8,661v54M213.1,661v54M221.6,661v54M976.5,661v54M979.9,661v54M981.5,661v54M986.6,661v54M990.9,661v54M1002.7,661v54" stroke="#000" stroke-opacity="0.37" stroke-width="3.7" fill="none"/>
<path d="M204,661v54M213.1,661v54M221.9,661v54M976.5,661v54M980.2,661v54M981.6,661v54M986.6,661v54M991,661v54M1003.5,661v54" stroke="#000" stroke-opacity="0.37" stroke-width="3.7" fill="none"/>
<path d="M204.8,661v54M217.2,661v54M221.9,661v54M977.1,661v54M980.4,661v54M981.9,661v54M987,661v54M991.1,661v54M1022.8,661v54" stroke="#000" stroke-opacity="0.37" stroke-width="3.7" fill="none"/>
</g>
<g class="w" clip-path="url(#cl1)">
<path class="k c0" transform="scale(13 1)" d="M14.104,690l1,0 1,0 1-1 1,0 1-1 1-2 1-1 1-3 1-2 1-4 1-4 1-5 1-6 1-7 1-8 1-9 1-10 1-10 1-10 1-10 1-8 1-8 1-9 1-9 1-7 1-2 1,2 1,2 1,1 1,0 1,2 1,5 1,8 1,8 1,10 1,12 1,13 1,12 1,11 1,8 1,7 1,6 1,6 1,5 1,4 1,3 1,3 1,3 1,1 1,2 1,1 1,0 1,1 1,0 1,0 1,1 1,0 1,0 1,0 1,0 1,0"/>
<path class="k c0 d1" transform="scale(13 1)" d="M14.997,690l1,0 1,0 1-1 1,0 1-1 1-2 1-1 1-2 1-3 1-4 1-4 1-6 1-6 1-8 1-8 1-9 1-9 1-10 1-10 1-10 1-10 1-10 1-11 1-9 1-8 1-5 1-3 1-1 1,0 1,2 1,6 1,12 1,15 1,15 1,12 1,11 1,10 1,11 1,9 1,9 1,8 1,7 1,5 1,5 1,3 1,3 1,3 1,1 1,2 1,1 1,0 1,1 1,0"/>
<path class="k c0 d2" transform="scale(13 1)" d="M16.972,690l1,0 1,0 1-1 1-1 1-1 1-1 1-3 1-3 1-3 1-5 1-6 1-8 1-9 1-10 1-11 1-13 1-14 1-15 1-16 1-14 1-12 1-7 1-6 1-4 1-3 1,0 1,2 1,7 1,11 1,15 1,16 1,16 1,15 1,13 1,12 1,11 1,10 1,9 1,7 1,5 1,4 1,3 1,3 1,2 1,2 1,1 1,1 1,1 1,0 1,0 1,1 1,0"/>
<path class="k c0 d3" transform="scale(13 1)" d="M11.662,691l1,0 1,0 1,0 1-1 1,0 1,0 1-1 1-1 1-1 1-2 1-2 1-3 1-3 1-5 1-5 1-6 1-7 1-8 1-8 1-10 1-12 1-13 1-14 1-13 1-13 1-10 1-9 1-6 1-5 1-2 1,1 1,4 1,6 1,9 1,11 1,12 1,13 1,13 1,12 1,12 1,11 1,10 1,8 1,8 1,6 1,6 1,4 1,4 1,2 1,2 1,2 1,1 1,1 1,1 1,0"/>
<path class="k c1" transform="scale(13 1)" d="M22.021,690l1,0 1,0 1-1 1,0 1-1 1-1 1-2 1-2 1-2 1-3 1-4 1-5 1-6 1-8 1-10 1-10 1-10 1-9 1-6 1-7 1-7 1-7 1-8 1-10 1-10 1-10 1-10 1-5 1-1 1,5 1,9 1,10 1,11 1,11 1,11 1,11 1,12 1,10 1,10 1,8 1,8 1,6 1,5 1,5 1,5 1,4 1,3 1,3 1,2 1,2 1,1 1,1 1,1 1,1 1,0 1,0 1,0 1,1 1,0 1,0"/>
<path class="k c1 d1" transform="scale(13 1)" d="M18.299,691l1,0 1,0 1,0 1-1 1,0 1,0 1-1 1,0 1-1 1-1 1-2 1-2 1-2 1-4 1-3 1-5 1-5 1-6 1-7 1-8 1-8 1-9 1-10 1-9 1-9 1-9 1-8 1-6 1-5 1-2 1-2 1-3 1-4 1-5 1,0 1,6 1,12 1,12 1,11 1,7 1,7 1,8 1,9 1,9 1,8 1,8 1,7 1,6 1,5 1,5 1,3 1,4 1,2 1,2 1,2 1,1 1,1 1,0 1,1 1,0 1,0"/>
<path class="k c1 d2" transform="scale(13 1)" d="M15.135,691l1,0 1,0 1,0 1,0 1,0 1,0 1-1 1,0 1,0 1-1 1,0 1-1 1-1 1-2 1-2 1-2 1-3 1-4 1-5 1-5 1-7 1-8 1-9 1-7 1-6 1-5 1-7 1-9 1-12 1-12 1-11 1-9 1-7 1-4 1-2 1,0 1,2 1,3 1,6 1,7 1,9 1,9 1,10 1,10 1,9 1,8 1,8 1,8 1,8 1,8 1,8 1,6 1,5 1,5 1,3 1,2 1,2 1,2 1,1 1,1 1,0 1,1 1,0 1,0 1,1 1,0 1,0 1,0"/>
<path class="k c1 d3" transform="scale(13 1)" d="M16.522,691l1,0 1,0 1,0 1,0 1,0 1,0 1-1 1,0 1,0 1-1 1-1 1-1 1-1 1-2 1-2 1-3 1-4 1-4 1-5 1-6 1-7 1-8 1-9 1-10 1-12 1-12 1-14 1-15 1-15 1-14 1-11 1-5 1-1 1,3 1,6 1,7 1,7 1,7 1,7 1,9 1,11 1,13 1,11 1,11 1,10 1,9 1,9 1,8 1,7 1,5 1,5 1,5 1,3 1,3 1,2 1,1 1,2 1,1 1,0 1,1 1,0 1,0 1,1 1,0 1,0 1,0 1,0"/>
<path class="k c2" transform="scale(13 1)" d="M19.414,691l1,0 1-1 1,0 1,0 1-1 1-1 1-1 1-2 1-2 1-3 1-3 1-5 1-6 1-7 1-8 1-10 1-11 1-11 1-11 1-12 1-12 1-12 1-10 1-7 1-6 1-4 1-1 1,4 1,9 1,12 1,10 1,9 1,8 1,9 1,10 1,9 1,6 1,7 1,8 1,8 1,8 1,7 1,5 1,5 1,3 1,3 1,2 1,1 1,2 1,0 1,1 1,0 1,0"/>
<path class="k c2 d1" transform="scale(13 1)" d="M22.740,690l1,0 1-1 1,0 1-1 1-2 1-2 1-3 1-3 1-5 1-6 1-7 1-8 1-10 1-11 1-12 1-13 1-12 1-10 1-6 1-9 1-13 1-14 1-9 1-3 1,1 1,4 1,7 1,10 1,11 1,11 1,11 1,13 1,13 1,13 1,12 1,10 1,9 1,8 1,6 1,6 1,4 1,3 1,3 1,2 1,1 1,1 1,1 1,0 1,0 1,1 1,0"/>
<path class="k c2 d2" transform="scale(13 1)" d="M21.296,691l1,0 1-1 1,0 1,0 1-1 1-1 1-2 1-2 1-2 1-4 1-5 1-6 1-8 1-9 1-10 1-11 1-11 1-13 1-14 1-14 1-12 1-8 1-4 1-2 1-5 1-4 1-1 1,3 1,6 1,8 1,9 1,10 1,11 1,12 1,13 1,12 1,12 1,11 1,9 1,8 1,6 1,5 1,4 1,3 1,3 1,1 1,1 1,1 1,1 1,0 1,0 1,1 1,0 1,0"/>
<path class="k c2 d3" transform="scale(13 1)" d="M19.843,691l1,0 1-1 1,0 1,0 1-1 1-1 1-1 1-2 1-2 1-4 1-4 1-5 1-6 1-8 1-9 1-10 1-12 1-12 1-13 1-14 1-14 1-14 1-14 1-10 1-5 1,2 1,8 1,10 1,9 1,6 1,6 1,8 1,8 1,10 1,10 1,11 1,11 1,11 1,10 1,9 1,7 1,6 1,5 1,4 1,3 1,2 1,2 1,1 1,1 1,1 1,0 1,0"/>
<path class="k c3" transform="scale(13 1)" d="M17.902,690l1,0 1-1 1-1 1-1 1-2 1-2 1-3 1-3 1-5 1-6 1-8 1-9 1-11 1-12 1-13 1-13 1-14 1-14 1-15 1-15 1-13 1-9 1-5 1,0 1,4 1,7 1,11 1,13 1,14 1,16 1,17 1,15 1,13 1,12 1,10 1,10 1,8 1,6 1,6 1,4 1,3 1,2 1,2 1,1 1,0 1,1"/>
<path class="k c3 d1" transform="scale(13 1)" d="M20.553,690l1,0 1-1 1-1 1-2 1-3 1-4 1-5 1-7 1-9 1-11 1-14 1-16 1-19 1-19 1-18 1-18 1-17 1-14 1-10 1-4 1-2 1,3 1,9 1,13 1,16 1,16 1,16 1,16 1,16 1,15 1,16 1,14 1,12 1,10 1,7 1,6 1,3 1,3 1,1 1,1 1,1 1,0 1,1 1,0 1,0 1,0"/>
<path class="k c3 d2" transform="scale(13 1)" d="M15.681,691l1,0 1-1 1,0 1-1 1,0 1-1 1-2 1-2 1-3 1-4 1-6 1-6 1-8 1-10 1-11 1-12 1-14 1-15 1-15 1-15 1-15 1-13 1-10 1-7 1-2 1,3 1,8 1,10 1,10 1,11 1,11 1,12 1,12 1,12 1,12 1,12 1,11 1,11 1,9 1,8 1,6 1,5 1,3 1,2 1,2 1,1 1,1 1,0 1,0 1,1 1,0 1,0 1,0"/>
<path class="k c3 d3" transform="scale(13 1)" d="M18.045,691l1,0 1-1 1,0 1,0 1-1 1-2 1-2 1-2 1-4 1-5 1-7 1-9 1-11 1-13 1-15 1-17 1-18 1-18 1-17 1-17 1-13 1-11 1-7 1-4 1-1 1,6 1,14 1,19 1,18 1,19 1,18 1,17 1,16 1,15 1,13 1,10 1,9 1,6 1,5 1,3 1,3 1,1 1,1 1,1 1,0 1,1 1,0 1,0"/>
<path class="k c4" transform="scale(13 1)" d="M13.795,691l1,0 1,0 1-1 1,0 1,0 1-1 1,0 1-2 1-1 1-2 1-3 1-4 1-4 1-5 1-6 1-6 1-7 1-9 1-12 1-14 1-16 1-16 1-14 1-12 1-9 1-4 1,2 1,8 1,7 1,3 1-1 1,0 1,4 1,9 1,10 1,12 1,13 1,12 1,12 1,10 1,10 1,8 1,6 1,6 1,4 1,4 1,2 1,2 1,2 1,1 1,0 1,1 1,0 1,1 1,0 1,0 1,0 1,0 1,0"/>
<path class="k c4 d1" transform="scale(13 1)" d="M13.317,691l1,0 1,0 1,0 1-1 1,0 1,0 1-1 1-1 1-1 1-2 1-2 1-3 1-4 1-5 1-6 1-8 1-9 1-10 1-10 1-10 1-8 1-8 1-7 1-8 1-10 1-11 1-10 1-7 1-5 1-3 1,0 1,3 1,7 1,9 1,11 1,12 1,13 1,13 1,12 1,11 1,11 1,9 1,8 1,7 1,5 1,5 1,4 1,2 1,3 1,1 1,1 1,1 1,1 1,0 1,0 1,1 1,0 1,0 1,0 1,0 1,0"/>
<path class="k c4 d2" transform="scale(13 1)" d="M13.507,691l1,0 1,0 1,0 1,0 1,0 1-1 1,0 1,0 1-1 1-1 1-2 1-2 1-3 1-4 1-6 1-6 1-9 1-10 1-12 1-14 1-16 1-16 1-16 1-15 1-15 1-13 1-6 1,3 1,9 1,9 1,4 1,2 1,2 1,6 1,10 1,14 1,15 1,15 1,14 1,13 1,11 1,9 1,7 1,6 1,5 1,4 1,3 1,2 1,2 1,1 1,1 1,0 1,0"/>
<path class="k c4 d3" transform="scale(13 1)" d="M15.934,691l1,0 1-1 1,0 1-1 1,0 1-1 1-2 1-2 1-2 1-4 1-4 1-5 1-7 1-8 1-9 1-10 1-12 1-12 1-13 1-14 1-12 1-12 1-10 1-8 1-7 1-4 1-2 1,0 1,2 1,3 1,6 1,10 1,13 1,16 1,16 1,16 1,14 1,12 1,11 1,10 1,7 1,6 1,5 1,4 1,3 1,2 1,2 1,1 1,1 1,1 1,0 1,0 1,1"/>
<path class="k c5" transform="scale(13 1)" d="M25.863,691l1-1 1,0 1-1 1,0 1-1 1-2 1-2 1-4 1-4 1-5 1-7 1-9 1-9 1-11 1-12 1-12 1-13 1-15 1-17 1-20 1-20 1-14 1-5 1,2 1,5 1,7 1,8 1,11 1,13 1,16 1,16 1,16 1,15 1,14 1,12 1,11 1,9 1,7 1,6 1,5 1,3 1,2 1,2 1,1 1,1 1,1 1,0 1,1 1,0"/>
<path class="k c5 d1" transform="scale(13 1)" d="M21.831,691l1,0 1,0 1,0 1,0 1-1 1,0 1,0 1-1 1-1 1-1 1-2 1-3 1-3 1-5 1-7 1-8 1-11 1-14 1-15 1-16 1-15 1-13 1-14 1-13 1-12 1-8 1-3 1,0 1-1 1-1 1,1 1,4 1,10 1,14 1,18 1,19 1,18 1,16 1,14 1,11 1,10 1,8 1,6 1,5 1,4 1,3 1,2 1,2 1,1 1,1 1,0 1,0 1,1 1,0 1,0"/>
<path class="k c5 d2" transform="scale(13 1)" d="M27.207,690l1,0 1,0 1-1 1-1 1-2 1-2 1-3 1-4 1-5 1-6 1-8 1-10 1-11 1-11 1-13 1-12 1-14 1-18 1-20 1-18 1-14 1-7 1-2 1,1 1,3 1,7 1,12 1,16 1,18 1,17 1,16 1,15 1,13 1,11 1,11 1,9 1,8 1,6 1,6 1,4 1,3 1,2 1,2 1,1 1,0 1,1 1,0 1,1 1,0"/>
<path class="k c5 d3" transform="scale(13 1)" d="M28.127,690l1,0 1,0 1-1 1-1 1-2 1-2 1-4 1-5 1-6 1-8 1-10 1-11 1-14 1-16 1-17 1-19 1-19 1-17 1-14 1-8 1-5 1-2 1,1 1,3 1,7 1,12 1,16 1,18 1,17 1,18 1,16 1,15 1,13 1,11 1,9 1,7 1,6 1,4 1,3 1,2 1,1 1,1 1,1 1,0 1,1 1,0 1,0 1,0"/>
<path class="k c6" transform="scale(13 1)" d="M9.218,691l1,0 1,0 1,0 1,0 1-1 1,0 1,0 1-1 1-1 1-1 1-2 1-1 1-3 1-3 1-4 1-5 1-6 1-6 1-7 1-7 1-6 1-7 1-9 1-12 1-12 1-13 1-13 1-11 1-9 1-6 1-3 1,1 1,3 1,5 1,5 1,7 1,9 1,9 1,11 1,11 1,10 1,9 1,8 1,7 1,10 1,10 1,8 1,6 1,5 1,3 1,3 1,3 1,1 1,2 1,1 1,0 1,1 1,0 1,0 1,1 1,0 1,0 1,0 1,0"/>
<path class="k c6 d1" transform="scale(13 1)" d="M8.968,691l1,0 1,0 1,0 1,0 1-1 1,0 1,0 1-1 1-1 1-1 1-1 1-1 1-2 1-3 1-3 1-3 1-3 1-3 1-4 1-8 1-10 1-11 1-12 1-10 1-11 1-10 1-9 1-9 1-8 1-6 1-5 1-1 1,2 1,6 1,11 1,12 1,8 1,3 1,1 1,2 1,5 1,6 1,7 1,7 1,8 1,10 1,9 1,8 1,7 1,5 1,5 1,3 1,3 1,2 1,2 1,1 1,1 1,1 1,1 1,0 1,0 1,0 1,1 1,0 1,0 1,0 1,0 1,0 1,0"/>
<path class="k c6 d2" transform="scale(13 1)" d="M6.900,691l1,0 1,0 1,0 1,0 1-1 1,0 1,0 1,0 1-1 1-1 1,0 1-2 1-1 1-2 1-2 1-3 1-4 1-4 1-5 1-6 1-7 1-7 1-8 1-9 1-9 1-9 1-10 1-9 1-10 1-10 1-10 1-10 1-9 1-9 1-7 1-4 1,0 1,7 1,14 1,17 1,17 1,15 1,13 1,12 1,10 1,8 1,6 1,5 1,4 1,4 1,5 1,5 1,6 1,5 1,4 1,3 1,3 1,1 1,2 1,1 1,0 1,1 1,0 1,0 1,1"/>
<path class="k c6 d3" transform="scale(13 1)" d="M7.378,691l1,0 1,0 1,0 1,0 1-1 1,0 1,0 1-1 1-1 1,0 1-2 1-1 1-2 1-3 1-3 1-3 1-5 1-5 1-6 1-7 1-7 1-7 1-7 1-6 1-7 1-10 1-10 1-10 1-8 1-6 1-5 1-4 1-4 1-2 1,0 1,2 1,4 1,6 1,7 1,8 1,10 1,10 1,9 1,10 1,10 1,8 1,8 1,7 1,6 1,5 1,5 1,4 1,3 1,2 1,2 1,2 1,1 1,1 1,1 1,1 1,0 1,0 1,0 1,1 1,0 1,0 1,0 1,0"/>
<path class="k c7" transform="scale(13 1)" d="M14.608,691l1-1 1,0 1,0 1-1 1,0 1-1 1-1 1-2 1-1 1-3 1-2 1-4 1-6 1-7 1-9 1-11 1-11 1-13 1-13 1-14 1-16 1-16 1-16 1-15 1-13 1-9 1-2 1,5 1,10 1,11 1,12 1,11 1,10 1,10 1,10 1,12 1,13 1,13 1,12 1,12 1,10 1,8 1,7 1,5 1,4 1,3 1,3 1,1 1,2 1,1 1,0 1,1 1,0 1,0 1,1 1,0 1,0 1,0"/>
<path class="k c7 d1" transform="scale(13 1)" d="M16.713,691l1-1 1,0 1-1 1,0 1-1 1-2 1-2 1-3 1-4 1-5 1-7 1-7 1-7 1-6 1-7 1-8 1-14 1-18 1-20 1-18 1-15 1-10 1-6 1,0 1,1 1,3 1,3 1,5 1,9 1,13 1,17 1,19 1,15 1,13 1,11 1,10 1,9 1,8 1,6 1,5 1,4 1,4 1,2 1,1 1,2 1,0 1,1 1,0 1,1"/>
<path class="k c7 d2" transform="scale(13 1)" d="M18.690,690l1,0 1-1 1-1 1-1 1-1 1-3 1-3 1-4 1-5 1-7 1-8 1-9 1-11 1-12 1-14 1-15 1-16 1-17 1-16 1-14 1-11 1-6 1-2 1,1 1,3 1,3 1,5 1,10 1,15 1,19 1,20 1,18 1,17 1,14 1,11 1,9 1,6 1,6 1,5 1,4 1,4 1,2 1,2 1,1 1,1 1,1 1,0 1,0"/>
<path class="k c7 d3" transform="scale(13 1)" d="M11.307,691l1,0 1,0 1,0 1,0 1-1 1,0 1,0 1-1 1,0 1-1 1-2 1-2 1-2 1-4 1-4 1-5 1-6 1-8 1-9 1-10 1-11 1-13 1-16 1-17 1-17 1-16 1-13 1-10 1-8 1-5 1-4 1,1 1,4 1,9 1,14 1,16 1,17 1,17 1,15 1,13 1,13 1,11 1,10 1,9 1,7 1,7 1,5 1,4 1,3 1,3 1,2 1,1 1,2 1,0 1,1 1,0 1,0"/>
<path class="k c8" transform="scale(13 1)" d="M25.674,690l1,0 1,0 1-1 1-1 1-1 1-2 1-2 1-4 1-4 1-5 1-7 1-8 1-9 1-11 1-12 1-13 1-15 1-14 1-13 1-13 1-13 1-11 1-11 1-8 1-4 1,0 1,6 1,13 1,17 1,20 1,19 1,18 1,15 1,12 1,8 1,6 1,6 1,7 1,7 1,8 1,6 1,5 1,3 1,2 1,2 1,1 1,1 1,0 1,0 1,1 1,0 1,0 1,0 1,0"/>
<path class="k c8 d1" transform="scale(13 1)" d="M27.213,690l1,0 1-1 1,0 1-2 1-1 1-3 1-3 1-4 1-6 1-6 1-9 1-10 1-12 1-14 1-15 1-16 1-16 1-15 1-12 1-7 1-2 1-1 1,1 1,2 1,3 1,6 1,9 1,10 1,12 1,12 1,13 1,14 1,13 1,12 1,10 1,9 1,8 1,6 1,4 1,4 1,2 1,2 1,1 1,1 1,1 1,0"/>
<path class="k c8 d2" transform="scale(13 1)" d="M20.467,691l1,0 1,0 1,0 1,0 1,0 1-1 1,0 1-1 1,0 1-1 1-2 1-2 1-2 1-4 1-4 1-5 1-7 1-9 1-10 1-13 1-14 1-14 1-16 1-15 1-14 1-11 1-7 1-2 1,3 1,6 1,5 1-1 1,0 1,4 1,9 1,12 1,14 1,14 1,14 1,12 1,12 1,10 1,9 1,7 1,6 1,5 1,3 1,3 1,2 1,2 1,1 1,0 1,1 1,0 1,1"/>
<path class="k c8 d3" transform="scale(13 1)" d="M25.379,691l1,0 1,0 1-1 1,0 1,0 1-1 1-2 1-1 1-3 1-3 1-5 1-5 1-8 1-9 1-12 1-13 1-15 1-17 1-20 1-27 1-29 1-17 1-1 1,8 1,6 1,3 1,2 1,4 1,8 1,12 1,15 1,16 1,17 1,15 1,15 1,14 1,11 1,10 1,9 1,6 1,5 1,4 1,3 1,2 1,1 1,1 1,1 1,0 1,1 1,0 1,0 1,0"/>
<path class="k c9" transform="scale(13 1)" d="M17.394,691l1,0 1,0 1,0 1-1 1,0 1,0 1-1 1-1 1-1 1-1 1-2 1-3 1-3 1-4 1-5 1-7 1-7 1-8 1-10 1-10 1-11 1-12 1-13 1-14 1-16 1-15 1-11 1-3 1,3 1,7 1,4 1,1 1,2 1,5 1,9 1,12 1,14 1,13 1,12 1,10 1,10 1,9 1,8 1,8 1,6 1,6 1,5 1,3 1,3 1,3 1,1 1,2 1,1 1,0 1,1 1,0 1,0 1,1 1,0 1,0"/>
<path class="k c9 d1" transform="scale(13 1)" d="M20.441,690l1,0 1,0 1-1 1-1 1-1 1-1 1-2 1-3 1-3 1-4 1-5 1-6 1-8 1-8 1-10 1-10 1-12 1-12 1-12 1-13 1-13 1-12 1-11 1-7 1-5 1,0 1,2 1,6 1,8 1,10 1,14 1,16 1,16 1,15 1,13 1,9 1,7 1,5 1,6 1,5 1,5 1,5 1,4 1,4 1,3 1,2 1,2 1,1 1,1 1,0 1,1 1,0 1,1 1,0 1,0 1,0 1,0"/>
<path class="k c9 d2" transform="scale(13 1)" d="M20.996,690l1,0 1,0 1-1 1-1 1-1 1-2 1-2 1-3 1-3 1-4 1-5 1-6 1-7 1-9 1-9 1-10 1-11 1-11 1-12 1-11 1-12 1-11 1-9 1-8 1-8 1-5 1-3 1,1 1,4 1,7 1,11 1,12 1,14 1,14 1,13 1,14 1,12 1,10 1,10 1,8 1,7 1,6 1,5 1,4 1,3 1,3 1,2 1,1 1,1 1,1 1,1 1,0 1,0 1,1 1,0 1,0 1,0"/>
<path class="k c9 d3" transform="scale(13 1)" d="M13.986,691l1,0 1,0 1,0 1,0 1,0 1-1 1,0 1,0 1-1 1-1 1-1 1-1 1-2 1-2 1-3 1-4 1-4 1-5 1-7 1-8 1-9 1-10 1-10 1-9 1-9 1-9 1-9 1-9 1-7 1-7 1-7 1-6 1-5 1,0 1,3 1,6 1,7 1,9 1,11 1,13 1,14 1,11 1,7 1,6 1,6 1,8 1,7 1,7 1,7 1,5 1,4 1,4 1,2 1,3 1,1 1,2 1,1 1,0 1,1 1,0 1,0 1,1 1,0 1,0 1,0 1,0"/>
<path class="k c0" transform="scale(13 1)" d="M19.686,691l1-1 1,0 1,0 1-1 1-1 1-2 1-2 1-2 1-4 1-5 1-6 1-7 1-9 1-10 1-12 1-13 1-14 1-15 1-15 1-14 1-13 1-11 1-9 1-9 1-10 1-5 1,3 1,12 1,17 1,20 1,18 1,16 1,15 1,14 1,13 1,12 1,10 1,9 1,7 1,6 1,5 1,4 1,2 1,2 1,2 1,1 1,1 1,0 1,0 1,1 1,0 1,0 1,0 1,0"/>
<path class="k c0 d1" transform="scale(13 1)" d="M16.541,691l1,0 1,0 1-1 1,0 1,0 1-1 1-1 1-1 1-2 1-2 1-3 1-4 1-4 1-7 1-8 1-9 1-12 1-12 1-13 1-15 1-14 1-14 1-14 1-13 1-10 1-8 1-2 1,3 1,7 1,8 1,8 1,10 1,13 1,16 1,17 1,14 1,11 1,9 1,9 1,8 1,7 1,6 1,5 1,4 1,4 1,3 1,3 1,2 1,1 1,1 1,0 1,0 1,1 1,0 1,0 1,0"/>
<path class="k c0 d2" transform="scale(13 1)" d="M16.580,691l1,0 1-1 1,0 1,0 1-1 1,0 1-1 1-2 1-2 1-2 1-4 1-4 1-5 1-6 1-7 1-8 1-9 1-10 1-9 1-9 1-9 1-11 1-14 1-16 1-13 1-10 1-7 1-3 1-1 1,4 1,8 1,9 1,11 1,11 1,12 1,13 1,13 1,13 1,11 1,11 1,9 1,8 1,7 1,5 1,5 1,3 1,3 1,2 1,2 1,1 1,1 1,1 1,0 1,0 1,1 1,0"/>
<path class="k c0 d3" transform="scale(13 1)" d="M16.280,691l1,0 1,0 1,0 1-1 1,0 1,0 1-1 1-1 1-1 1-2 1-3 1-4 1-5 1-5 1-7 1-9 1-9 1-12 1-13 1-16 1-16 1-16 1-14 1-11 1-9 1-7 1-5 1-2 1,1 1,4 1,7 1,10 1,13 1,16 1,18 1,17 1,16 1,13 1,12 1,10 1,8 1,6 1,5 1,4 1,3 1,2 1,1 1,1 1,1 1,0 1,0"/>
<path class="k c1" transform="scale(13 1)" d="M20.288,691l1,0 1-1 1,0 1,0 1-1 1-2 1-2 1-3 1-4 1-6 1-8 1-10 1-13 1-15 1-17 1-19 1-20 1-18 1-17 1-15 1-16 1-17 1-10 1,3 1,16 1,20 1,23 1,24 1,23 1,20 1,15 1,13 1,12 1,11 1,9 1,7 1,6 1,4 1,3 1,2 1,1 1,1 1,0 1,1 1,0 1,0"/>
<path class="k c1 d1" transform="scale(13 1)" d="M22.896,691l1-1 1,0 1-1 1-1 1-1 1-3 1-4 1-5 1-7 1-9 1-12 1-16 1-18 1-20 1-21 1-20 1-16 1-11 1-5 1-3 1-4 1-7 1-2 1,7 1,16 1,20 1,22 1,22 1,20 1,18 1,16 1,12 1,10 1,8 1,5 1,4 1,3 1,1 1,1 1,1 1,0 1,1 1,0 1,0"/>
<path class="k c1 d2" transform="scale(13 1)" d="M21.220,691l1,0 1-1 1,0 1-1 1-1 1-1 1-2 1-4 1-6 1-9 1-12 1-14 1-15 1-17 1-18 1-21 1-20 1-20 1-17 1-14 1-8 1,3 1,12 1,16 1,12 1,9 1,12 1,18 1,20 1,20 1,18 1,15 1,12 1,10 1,8 1,5 1,4 1,3 1,1 1,1 1,1 1,0 1,1 1,0 1,0"/>
<path class="k c1 d3" transform="scale(13 1)" d="M20.021,691l1,0 1,0 1-1 1,0 1-1 1-1 1-1 1-2 1-3 1-4 1-6 1-9 1-11 1-14 1-17 1-19 1-22 1-23 1-22 1-19 1-12 1-1 1,6 1,7 1,8 1,6 1,7 1,10 1,17 1,21 1,21 1,19 1,16 1,14 1,10 1,8 1,6 1,5 1,2 1,2 1,1 1,1 1,0 1,1 1,0"/>
<path class="k c2" transform="scale(13 1)" d="M19.311,691l1,0 1,0 1,0 1,0 1-1 1,0 1-1 1,0 1-1 1-2 1-2 1-3 1-4 1-5 1-6 1-7 1-9 1-11 1-12 1-13 1-14 1-14 1-15 1-13 1-12 1-10 1-7 1-4 1-1 1,3 1,7 1,9 1,11 1,13 1,13 1,11 1,11 1,11 1,12 1,13 1,12 1,12 1,9 1,7 1,5 1,2 1,1 1,1 1,1 1,1 1,1 1,0 1,0 1,1 1,0 1,0 1,0 1,0"/>
<path class="k c2 d1" transform="scale(13 1)" d="M20.844,691l1-1 1,0 1,0 1-1 1-1 1-1 1-1 1-3 1-2 1-4 1-4 1-6 1-7 1-8 1-9 1-11 1-11 1-12 1-13 1-13 1-12 1-12 1-11 1-8 1-5 1,2 1,9 1,13 1,13 1,8 1,5 1,2 1,4 1,6 1,10 1,11 1,12 1,10 1,10 1,8 1,7 1,6 1,5 1,4 1,3 1,2 1,2 1,1 1,1 1,1 1,0 1,0 1,1 1,0 1,0 1,0 1,0"/>
<path class="k c2 d2" transform="scale(13 1)" d="M14.895,691l1,0 1,0 1,0 1,0 1,0 1,0 1-1 1,0 1,0 1-1 1-1 1-1 1-2 1-2 1-3 1-4 1-4 1-6 1-8 1-8 1-10 1-10 1-11 1-11 1-13 1-13 1-15 1-15 1-13 1-9 1-5 1-1 1,2 1,3 1,5 1,6 1,9 1,9 1,8 1,7 1,8 1,11 1,15 1,16 1,15 1,13 1,9 1,7 1,6 1,4 1,4 1,2 1,2 1,2 1,1 1,1 1,1 1,0"/>
<path class="k c2 d3" transform="scale(13 1)" d="M19.864,691l1-1 1,0 1,0 1-1 1-1 1-1 1-2 1-2 1-2 1-4 1-4 1-5 1-6 1-7 1-8 1-9 1-10 1-11 1-13 1-13 1-13 1-11 1-9 1-6 1-4 1-2 1-1 1,2 1,3 1,5 1,6 1,7 1,9 1,10 1,10 1,11 1,11 1,10 1,10 1,9 1,8 1,7 1,6 1,5 1,4 1,3 1,3 1,2 1,1 1,1 1,1 1,1 1,0 1,0 1,1 1,0 1,0 1,0 1,0"/>
<path class="k c3" transform="scale(13 1)" d="M12.149,691l1,0 1,0 1-1 1,0 1,0 1,0 1-1 1-1 1-1 1-1 1-2 1-2 1-3 1-4 1-4 1-6 1-6 1-7 1-8 1-8 1-9 1-8 1-9 1-10 1-11 1-11 1-10 1-7 1-6 1-4 1-2 1,0 1,3 1,5 1,8 1,9 1,9 1,11 1,10 1,9 1,10 1,8 1,8 1,8 1,7 1,6 1,6 1,5 1,5 1,3 1,3 1,2 1,2 1,1 1,1 1,1 1,1 1,0 1,0 1,1 1,0 1,0 1,0 1,0"/>
<path class="k c3 d1" transform="scale(13 1)" d="M15.128,690l1,0 1,0 1,0 1-1 1-1 1-1 1-1 1-2 1-2 1-3 1-3 1-4 1-5 1-6 1-7 1-8 1-9 1-9 1-10 1-11 1-10 1-11 1-11 1-11 1-11 1-11 1-8 1-5 1,0 1,4 1,7 1,10 1,14 1,16 1,17 1,16 1,11 1,7 1,5 1,4 1,5 1,5 1,7 1,6 1,5 1,5 1,4 1,3 1,3 1,2 1,1 1,2 1,1 1,0 1,1 1,0 1,0 1,1 1,0 1,0 1,0 1,0"/>
<path class="k c3 d2" transform="scale(13 1)" d="M10.128,691l1,0 1,0 1,0 1,0 1-1 1,0 1,0 1-1 1,0 1-1 1-1 1-2 1-2 1-2 1-4 1-3 1-5 1-5 1-6 1-7 1-8 1-9 1-9 1-10 1-10 1-9 1-10 1-9 1-7 1-5 1-5 1-3 1-3 1-2 1,1 1,1 1,3 1,4 1,8 1,9 1,11 1,11 1,11 1,11 1,11 1,9 1,8 1,7 1,6 1,4 1,4 1,3 1,3 1,3 1,3 1,2 1,2 1,1 1,1 1,1 1,0 1,0 1,1 1,0 1,0 1,0 1,0 1,0"/>
<path class="k c3 d3" transform="scale(13 1)" d="M10.797,691l1,0 1,0 1,0 1,0 1,0 1,0 1-1 1,0 1,0 1-1 1-1 1-1 1-2 1-2 1-3 1-3 1-5 1-5 1-6 1-8 1-8 1-10 1-10 1-11 1-11 1-11 1-9 1-9 1-7 1-6 1-5 1-3 1-2 1,0 1,2 1,4 1,7 1,8 1,10 1,10 1,11 1,10 1,10 1,10 1,10 1,8 1,8 1,7 1,5 1,5 1,4 1,2 1,3 1,1 1,2 1,1 1,0 1,1 1,0 1,0 1,1 1,0 1,0 1,0"/>
<path class="k c4" transform="scale(13 1)" d="M15.618,691l1,0 1,0 1,0 1,0 1-1 1,0 1-1 1-1 1-1 1-2 1-3 1-3 1-5 1-5 1-7 1-10 1-14 1-16 1-17 1-19 1-18 1-19 1-17 1-14 1-10 1-6 1-3 1,0 1,5 1,9 1,14 1,16 1,17 1,17 1,17 1,18 1,17 1,15 1,12 1,10 1,7 1,6 1,4 1,2 1,2 1,2 1,0 1,1 1,0 1,1 1,0 1,0"/>
<path class="k c4 d1" transform="scale(13 1)" d="M20.818,690l1,0 1-1 1-1 1-1 1-2 1-3 1-4 1-4 1-6 1-7 1-11 1-16 1-18 1-21 1-22 1-22 1-20 1-15 1-9 1-5 1-1 1,3 1,7 1,11 1,14 1,17 1,19 1,18 1,19 1,16 1,15 1,13 1,10 1,8 1,6 1,5 1,3 1,2 1,1 1,1 1,1 1,0 1,1 1,0"/>
<path class="k c4 d2" transform="scale(13 1)" d="M12.674,691l1,0 1,0 1,0 1-1 1,0 1,0 1-1 1-1 1-1 1-1 1-2 1-3 1-4 1-5 1-6 1-7 1-9 1-9 1-11 1-12 1-11 1-9 1-6 1-3 1-1 1-6 1-11 1-14 1-13 1-9 1-3 1,5 1,9 1,12 1,13 1,14 1,14 1,13 1,13 1,11 1,11 1,9 1,8 1,6 1,5 1,4 1,4 1,2 1,2 1,1 1,1 1,1 1,0 1,0 1,1 1,0 1,0 1,0 1,0 1,0"/>
<path class="k c4 d3" transform="scale(13 1)" d="M13.728,691l1,0 1,0 1,0 1,0 1-1 1,0 1,0 1-1 1-1 1-1 1-2 1-3 1-4 1-5 1-6 1-7 1-9 1-9 1-11 1-14 1-16 1-19 1-19 1-18 1-15 1-13 1-11 1-6 1,0 1,6 1,11 1,14 1,15 1,15 1,16 1,15 1,15 1,15 1,13 1,12 1,11 1,9 1,5 1,5 1,4 1,3 1,2 1,1 1,2 1,0 1,1 1,0 1,1 1,0"/>
<path class="k c5" transform="scale(13 1)" d="M21.285,691l1-1 1,0 1,0 1-1 1-1 1-1 1-1 1-2 1-3 1-3 1-4 1-5 1-6 1-7 1-8 1-9 1-11 1-11 1-11 1-11 1-12 1-11 1-10 1-8 1-6 1-4 1-2 1-1 1,0 1,3 1,5 1,8 1,10 1,11 1,13 1,12 1,12 1,12 1,10 1,9 1,9 1,7 1,6 1,5 1,4 1,4 1,2 1,2 1,2 1,1 1,1 1,1 1,0 1,0 1,1 1,0 1,0 1,0 1,0 1,0 1,0"/>
<path class="k c5 d1" transform="scale(13 1)" d="M17.095,691l1,0 1,0 1-1 1,0 1,0 1-1 1,0 1-1 1-1 1-2 1-2 1-2 1-4 1-4 1-4 1-5 1-6 1-6 1-7 1-9 1-8 1-9 1-9 1-8 1-7 1-10 1-10 1-10 1-8 1-5 1-2 1,1 1,3 1,4 1,5 1,6 1,7 1,8 1,9 1,10 1,9 1,10 1,9 1,9 1,8 1,7 1,6 1,6 1,5 1,4 1,3 1,3 1,2 1,2 1,1 1,1 1,1 1,0 1,1 1,0 1,0 1,1"/>
<path class="k c5 d2" transform="scale(13 1)" d="M15.434,691l1,0 1,0 1,0 1,0 1-1 1,0 1,0 1-1 1,0 1-1 1-1 1-1 1-2 1-2 1-3 1-4 1-4 1-5 1-6 1-7 1-8 1-8 1-9 1-9 1-10 1-9 1-8 1-7 1-5 1-7 1-9 1-11 1-8 1-1 1,5 1,6 1,6 1,6 1,8 1,9 1,9 1,10 1,10 1,10 1,10 1,9 1,8 1,7 1,7 1,5 1,4 1,4 1,3 1,3 1,2 1,1 1,2 1,1 1,0 1,1 1,0 1,0"/>
<path class="k c5 d3" transform="scale(13 1)" d="M22.478,690l1,0 1,0 1-1 1-1 1-1 1-2 1-3 1-2 1-3 1-3 1-4 1-5 1-6 1-8 1-8 1-10 1-10 1-11 1-10 1-9 1-7 1-7 1-6 1-6 1-8 1-8 1-6 1-4 1,1 1,5 1,9 1,10 1,12 1,12 1,12 1,12 1,11 1,10 1,10 1,9 1,7 1,6 1,6 1,4 1,3 1,3 1,2 1,2 1,1 1,1 1,1 1,0 1,0 1,1"/>
<path class="k c6" transform="scale(13 1)" d="M19.070,691l1,0 1,0 1,0 1,0 1-1 1,0 1,0 1-1 1-1 1-2 1-2 1-2 1-4 1-5 1-6 1-7 1-9 1-10 1-11 1-13 1-14 1-14 1-13 1-11 1-10 1-8 1-7 1-4 1,0 1,5 1,8 1,8 1,7 1,6 1,9 1,10 1,13 1,13 1,13 1,12 1,10 1,9 1,7 1,7 1,4 1,4 1,3 1,2 1,2 1,1 1,0 1,1 1,0 1,1 1,0"/>
<path class="k c6 d1" transform="scale(13 1)" d="M19.174,691l1,0 1,0 1,0 1-1 1,0 1-1 1-1 1-1 1-2 1-1 1-1 1-3 1-2 1-3 1-6 1-9 1-12 1-15 1-14 1-14 1-14 1-14 1-15 1-14 1-12 1-9 1-6 1-2 1,2 1,6 1,10 1,12 1,13 1,13 1,13 1,13 1,13 1,12 1,12 1,10 1,10 1,8 1,6 1,5 1,4 1,3 1,2 1,2 1,1 1,1 1,0 1,0 1,1 1,0 1,0 1,0 1,0"/>
<path class="k c6 d2" transform="scale(13 1)" d="M22.636,691l1,0 1-1 1,0 1,0 1-1 1-1 1-2 1-2 1-2 1-4 1-4 1-6 1-7 1-9 1-12 1-15 1-19 1-22 1-23 1-18 1-12 1-11 1-12 1-12 1-8 1,2 1,11 1,15 1,17 1,16 1,15 1,14 1,13 1,11 1,11 1,13 1,15 1,14 1,9 1,8 1,5 1,4 1,3 1,2 1,2 1,1 1,1 1,0 1,0"/>
<path class="k c6 d3" transform="scale(13 1)" d="M24.120,691l1-1 1,0 1-1 1-1 1-1 1-2 1-3 1-3 1-5 1-6 1-8 1-9 1-11 1-13 1-14 1-15 1-16 1-16 1-15 1-13 1-11 1-8 1-3 1,3 1,9 1,6 1,4 1,5 1,9 1,11 1,12 1,16 1,18 1,17 1,14 1,13 1,11 1,8 1,6 1,4 1,3 1,2 1,1 1,1 1,1 1,0"/>
<path class="k c7" transform="scale(13 1)" d="M17.549,691l1,0 1,0 1,0 1,0 1-1 1,0 1,0 1-1 1-1 1-2 1-2 1-3 1-4 1-5 1-7 1-8 1-11 1-12 1-13 1-15 1-15 1-16 1-17 1-18 1-16 1-13 1-4 1,3 1,4 1,6 1,8 1,12 1,14 1,16 1,16 1,16 1,16 1,14 1,12 1,11 1,9 1,7 1,5 1,5 1,3 1,2 1,2 1,1 1,1 1,0 1,0 1,1 1,0 1,0"/>
<path class="k c7 d1" transform="scale(13 1)" d="M17.955,691l1,0 1,0 1,0 1-1 1,0 1-1 1,0 1-1 1-2 1-2 1-3 1-4 1-5 1-6 1-8 1-10 1-10 1-13 1-14 1-15 1-16 1-16 1-15 1-12 1-9 1-5 1,1 1,6 1,10 1,11 1,11 1,9 1,9 1,10 1,10 1,12 1,13 1,11 1,11 1,9 1,8 1,6 1,5 1,5 1,3 1,2 1,2 1,1 1,1 1,1 1,0 1,0"/>
<path class="k c7 d2" transform="scale(13 1)" d="M20.137,691l1-1 1,0 1,0 1-1 1-1 1-1 1-2 1-2 1-4 1-4 1-6 1-7 1-8 1-9 1-11 1-13 1-13 1-14 1-14 1-16 1-16 1-14 1-9 1-3 1-1 1,2 1,4 1,7 1,9 1,12 1,13 1,13 1,12 1,13 1,18 1,21 1,17 1,9 1,5 1,2 1,2 1,2 1,2 1,2 1,2 1,1 1,0 1,1 1,0"/>
<path class="k c7 d3" transform="scale(13 1)" d="M23.497,690l1,0 1,0 1-1 1-1 1-2 1-3 1-3 1-5 1-5 1-8 1-9 1-11 1-13 1-14 1-16 1-16 1-16 1-16 1-14 1-12 1-10 1-7 1-1 1,3 1,8 1,10 1,12 1,16 1,17 1,18 1,16 1,15 1,13 1,12 1,10 1,9 1,7 1,5 1,4 1,3 1,2 1,1 1,1 1,1 1,0"/>
<path class="k c8" transform="scale(13 1)" d="M25.924,690l1,0 1,0 1-1 1-1 1-2 1-2 1-3 1-4 1-4 1-6 1-6 1-7 1-9 1-10 1-13 1-15 1-16 1-17 1-16 1-14 1-12 1-8 1-4 1-1 1,2 1,6 1,8 1,9 1,9 1,10 1,15 1,19 1,19 1,16 1,13 1,10 1,9 1,7 1,5 1,4 1,3 1,3 1,1 1,2 1,0 1,1 1,0 1,1 1,0"/>
<path class="k c8 d1" transform="scale(13 1)" d="M21.288,691l1,0 1,0 1,0 1,0 1-1 1,0 1-1 1,0 1-2 1-1 1-3 1-3 1-5 1-5 1-7 1-8 1-9 1-9 1-11 1-13 1-17 1-19 1-17 1-14 1-7 1-2 1,2 1,1 1,1 1,0 1,2 1,7 1,10 1,13 1,14 1,15 1,15 1,13 1,12 1,11 1,9 1,7 1,6 1,4 1,4 1,2 1,2 1,1 1,1 1,1 1,0 1,1 1,0"/>
<path class="k c8 d2" transform="scale(13 1)" d="M26.611,690l1,0 1-1 1-1 1-1 1-2 1-3 1-4 1-5 1-6 1-7 1-10 1-10 1-13 1-13 1-13 1-13 1-14 1-13 1-13 1-11 1-8 1-5 1-1 1,2 1,5 1,8 1,9 1,11 1,11 1,14 1,16 1,15 1,14 1,12 1,11 1,10 1,8 1,6 1,5 1,3 1,3 1,1 1,2 1,0 1,1 1,0 1,1 1,0"/>
<path class="k c8 d3" transform="scale(13 1)" d="M20.129,691l1,0 1,0 1,0 1,0 1,0 1-1 1,0 1-1 1,0 1-2 1-1 1-3 1-3 1-5 1-5 1-6 1-7 1-7 1-9 1-13 1-18 1-19 1-16 1-14 1-10 1-9 1-8 1-8 1-5 1-1 1,3 1,7 1,10 1,13 1,15 1,16 1,17 1,16 1,15 1,13 1,11 1,8 1,7 1,6 1,4 1,3 1,2 1,2 1,1 1,1 1,0 1,0 1,1 1,0 1,0 1,0"/>
<path class="k c9" transform="scale(13 1)" d="M21.167,691l1-1 1,0 1,0 1-1 1-1 1-2 1-2 1-3 1-3 1-5 1-6 1-8 1-9 1-10 1-12 1-13 1-15 1-15 1-16 1-13 1-9 1-7 1-9 1-12 1-11 1-4 1,9 1,16 1,16 1,14 1,15 1,14 1,15 1,14 1,13 1,11 1,11 1,8 1,8 1,5 1,5 1,4 1,2 1,2 1,2 1,1 1,1 1,0 1,0 1,1"/>
<path class="k c9 d1" transform="scale(13 1)" d="M16.723,691l1,0 1,0 1,0 1,0 1,0 1-1 1,0 1,0 1-1 1-1 1-2 1-2 1-3 1-4 1-5 1-6 1-8 1-9 1-10 1-11 1-11 1-9 1-10 1-13 1-17 1-18 1-14 1-8 1-3 1,0 1,3 1,8 1,11 1,12 1,10 1,11 1,13 1,15 1,13 1,13 1,12 1,10 1,8 1,7 1,5 1,4 1,3 1,3 1,1 1,2 1,0 1,1 1,0 1,1 1,0 1,0 1,0"/>
<path class="k c9 d2" transform="scale(13 1)" d="M15.125,691l1,0 1,0 1,0 1,0 1-1 1,0 1,0 1-1 1,0 1-1 1-2 1-2 1-2 1-4 1-4 1-7 1-9 1-9 1-8 1-6 1-5 1-8 1-10 1-13 1-14 1-13 1-13 1-12 1-10 1-8 1-5 1-3 1,1 1,5 1,10 1,13 1,16 1,17 1,15 1,14 1,12 1,11 1,9 1,9 1,8 1,6 1,6 1,4 1,4 1,2 1,3 1,1 1,1 1,1 1,1 1,0 1,0 1,1 1,0 1,0"/>
<path class="k c9 d3" transform="scale(13 1)" d="M22.418,690l1,0 1-1 1,0 1-1 1-2 1-2 1-3 1-4 1-5 1-7 1-8 1-9 1-11 1-13 1-13 1-15 1-15 1-14 1-13 1-11 1-9 1-6 1-3 1,1 1,5 1,10 1,11 1,12 1,12 1,11 1,13 1,13 1,12 1,12 1,10 1,9 1,8 1,7 1,5 1,4 1,3 1,3 1,1 1,2 1,0 1,1 1,0 1,1 1,0"/>
<path class="k c0" transform="scale(13 1)" d="M20.287,691l1,0 1,0 1-1 1,0 1,0 1-1 1,0 1-1 1-2 1-1 1-3 1-3 1-4 1-6 1-6 1-6 1-5 1-6 1-7 1-8 1-10 1-10 1-10 1-10 1-10 1-9 1-7 1-7 1-5 1-4 1-2 1,0 1,1 1,1 1,3 1,4 1,7 1,9 1,13 1,14 1,14 1,13 1,11 1,10 1,8 1,7 1,6 1,5 1,4 1,3 1,3 1,2 1,1 1,2 1,1 1,0 1,1 1,0 1,0 1,1 1,0 1,0 1,0"/>
<path class="k c0 d1" transform="scale(13 1)" d="M23.569,691l1-1 1,0 1,0 1-1 1,0 1-1 1-1 1-2 1-2 1-3 1-4 1-5 1-5 1-7 1-8 1-8 1-10 1-10 1-10 1-10 1-10 1-11 1-10 1-10 1-10 1-8 1-5 1-2 1,2 1,4 1,7 1,9 1,10 1,11 1,11 1,11 1,11 1,10 1,12 1,10 1,10 1,7 1,7 1,5 1,4 1,3 1,3 1,2 1,1 1,1 1,1 1,1 1,0 1,0 1,1 1,0 1,0 1,0 1,0"/>
<path class="k c0 d2" transform="scale(13 1)" d="M17.962,691l1,0 1,0 1,0 1-1 1,0 1,0 1-1 1-1 1-1 1-1 1-2 1-3 1-3 1-4 1-4 1-5 1-6 1-5 1-7 1-8 1-8 1-10 1-10 1-10 1-10 1-8 1-8 1-6 1-5 1-4 1-2 1-2 1-1 1,0 1,2 1,3 1,5 1,7 1,9 1,10 1,11 1,11 1,10 1,9 1,9 1,8 1,7 1,6 1,6 1,5 1,3 1,4 1,2 1,2 1,2 1,1 1,1 1,1 1,1 1,0 1,0 1,0 1,1"/>
<path class="k c0 d3" transform="scale(13 1)" d="M22.530,691l1-1 1,0 1,0 1-1 1,0 1-1 1-2 1-1 1-3 1-3 1-3 1-5 1-5 1-7 1-7 1-9 1-10 1-10 1-11 1-11 1-11 1-11 1-9 1-8 1-7 1-6 1-6 1-5 1-2 1,2 1,9 1,14 1,15 1,14 1,13 1,10 1,8 1,8 1,7 1,8 1,8 1,7 1,6 1,6 1,4 1,4 1,3 1,2 1,2 1,2 1,1 1,0 1,1 1,0 1,0"/>
<path class="k c1" transform="scale(13 1)" d="M6.900,691l1,0 1,0 1,0 1,0 1-1 1,0 1,0 1-1 1,0 1-1 1-1 1-1 1-2 1-2 1-3 1-3 1-4 1-5 1-6 1-6 1-8 1-8 1-9 1-9 1-10 1-9 1-10 1-10 1-8 1-7 1-6 1-4 1-3 1-2 1-1 1,0 1,2 1,6 1,8 1,11 1,12 1,11 1,11 1,10 1,11 1,10 1,9 1,8 1,5 1,4 1,4 1,3 1,3 1,2 1,3 1,1 1,2 1,1 1,1 1,0 1,1 1,0 1,0 1,1 1,0 1,0 1,0 1,0 1,0"/>
<path class="k c1 d1" transform="scale(13 1)" d="M13.047,691l1-1 1,0 1,0 1-1 1-1 1,0 1-2 1-1 1-3 1-2 1-4 1-4 1-5 1-5 1-7 1-8 1-8 1-8 1-9 1-8 1-9 1-9 1-9 1-10 1-10 1-8 1-6 1-2 1,2 1,5 1,4 1,3 1,5 1,9 1,11 1,11 1,10 1,9 1,8 1,7 1,8 1,7 1,7 1,6 1,6 1,4 1,4 1,4 1,2 1,2 1,2 1,1 1,1 1,0 1,1 1,0 1,0 1,1 1,0 1,0"/>
<path class="k c1 d2" transform="scale(13 1)" d="M7.198,691l1,0 1,0 1,0 1,0 1,0 1,0 1-1 1,0 1,0 1-1 1-1 1-1 1-1 1-2 1-3 1-3 1-4 1-5 1-5 1-6 1-7 1-8 1-9 1-10 1-11 1-11 1-10 1-9 1-7 1-6 1-7 1-7 1-6 1-4 1,0 1,4 1,8 1,10 1,8 1,7 1,7 1,9 1,9 1,11 1,10 1,9 1,9 1,8 1,7 1,6 1,5 1,4 1,3 1,3 1,2 1,2 1,1 1,1 1,0 1,1 1,0"/>
<path class="k c1 d3" transform="scale(13 1)" d="M9.344,691l1,0 1,0 1-1 1,0 1,0 1-1 1,0 1-1 1-1 1-2 1-1 1-3 1-3 1-3 1-5 1-5 1-5 1-5 1-5 1-5 1-4 1-6 1-8 1-10 1-11 1-12 1-12 1-11 1-9 1-7 1-4 1-2 1,1 1,5 1,7 1,11 1,11 1,11 1,11 1,10 1,9 1,8 1,7 1,7 1,6 1,7 1,5 1,5 1,5 1,3 1,3 1,3 1,2 1,1 1,1 1,1 1,1 1,0 1,0 1,0 1,1 1,0 1,0 1,0 1,0"/>
<path class="k c2" transform="scale(13 1)" d="M9.992,691l1,0 1,0 1,0 1,0 1,0 1,0 1-1 1,0 1,0 1-1 1,0 1-1 1-1 1-2 1-2 1-3 1-3 1-3 1-4 1-4 1-6 1-7 1-7 1-8 1-9 1-9 1-10 1-9 1-10 1-9 1-8 1-7 1-7 1-7 1-6 1-7 1-3 1,1 1,7 1,11 1,11 1,12 1,10 1,11 1,10 1,10 1,9 1,9 1,8 1,7 1,7 1,6 1,5 1,4 1,3 1,3 1,3 1,1 1,2 1,1 1,1 1,0 1,1 1,0 1,0 1,1 1,0 1,0"/>
<path class="k c2 d1" transform="scale(13 1)" d="M15.413,691l1,0 1,0 1,0 1-1 1,0 1,0 1-1 1,0 1-1 1-2 1-1 1-3 1-3 1-3 1-5 1-5 1-7 1-8 1-9 1-10 1-12 1-12 1-11 1-11 1-9 1-8 1-6 1-5 1-5 1-3 1-1 1,0 1,3 1,5 1,7 1,9 1,11 1,11 1,12 1,12 1,11 1,11 1,9 1,7 1,6 1,6 1,4 1,4 1,3 1,3 1,2 1,2 1,1 1,1 1,0 1,1 1,0 1,0 1,1 1,0"/>
<path class="k c2 d2" transform="scale(13 1)" d="M11.450,691l1,0 1,0 1,0 1,0 1,0 1-1 1,0 1,0 1,0 1-1 1-1 1-1 1-1 1-2 1-2 1-3 1-3 1-4 1-5 1-6 1-6 1-8 1-8 1-9 1-9 1-10 1-9 1-9 1-6 1-3 1,0 1,1 1,1 1-1 1-2 1-2 1-2 1-1 1,1 1,2 1,5 1,7 1,8 1,10 1,9 1,9 1,9 1,9 1,7 1,7 1,5 1,5 1,4 1,4 1,3 1,2 1,2 1,1 1,1 1,1 1,0 1,1 1,0 1,0 1,1 1,0"/>
<path class="k c2 d3" transform="scale(13 1)" d="M17.245,691l1-1 1,0 1,0 1-1 1,0 1-1 1-1 1-2 1-1 1-3 1-3 1-3 1-5 1-5 1-6 1-7 1-8 1-9 1-9 1-10 1-10 1-10 1-8 1-6 1-7 1-7 1-9 1-8 1-4 1-1 1,3 1,5 1,7 1,9 1,10 1,10 1,10 1,11 1,10 1,10 1,9 1,7 1,7 1,6 1,6 1,4 1,5 1,3 1,3 1,3 1,1 1,2 1,1 1,1 1,0 1,1 1,0 1,0 1,1 1,0 1,0 1,0"/>
<path class="k c3" transform="scale(13 1)" d="M18.940,691l1,0 1,0 1,0 1-1 1,0 1-1 1,0 1-2 1-1 1-3 1-3 1-5 1-6 1-8 1-11 1-13 1-17 1-18 1-18 1-16 1-13 1-13 1-12 1-12 1-9 1-4 1,2 1,5 1,9 1,11 1,12 1,15 1,15 1,16 1,15 1,15 1,14 1,12 1,10 1,8 1,7 1,6 1,4 1,3 1,2 1,2 1,1 1,1 1,0"/>
<path class="k c3 d1" transform="scale(13 1)" d="M21.051,691l1-1 1,0 1,0 1-1 1-1 1-1 1-2 1-2 1-4 1-4 1-6 1-7 1-9 1-10 1-12 1-13 1-15 1-15 1-15 1-14 1-14 1-13 1-11 1-8 1-3 1,1 1,8 1,12 1,14 1,17 1,15 1,15 1,14 1,12 1,12 1,12 1,10 1,9 1,7 1,6 1,5 1,3 1,3 1,2 1,1 1,1 1,1 1,0 1,0 1,1 1,0"/>
<path class="k c3 d2" transform="scale(13 1)" d="M20.320,691l1-1 1,0 1,0 1-1 1-1 1-1 1-2 1-2 1-4 1-4 1-5 1-6 1-8 1-9 1-11 1-13 1-13 1-14 1-14 1-13 1-13 1-12 1-12 1-12 1-12 1-5 1,5 1,13 1,15 1,15 1,15 1,15 1,17 1,16 1,14 1,12 1,10 1,7 1,7 1,6 1,5 1,4 1,3 1,2 1,2 1,2 1,1 1,1 1,0 1,0 1,1 1,0 1,0 1,0 1,0 1,0"/>
<path class="k c3 d3" transform="scale(13 1)" d="M17.037,691l1,0 1,0 1,0 1,0 1-1 1,0 1,0 1-1 1-1 1-1 1-3 1-2 1-4 1-6 1-7 1-10 1-11 1-11 1-10 1-8 1-7 1-5 1-7 1-8 1-9 1-9 1-9 1-9 1-9 1-8 1-4 1,3 1,6 1,9 1,11 1,13 1,15 1,16 1,16 1,14 1,13 1,10 1,8 1,6 1,6 1,3 1,3 1,3 1,1 1,2 1,0 1,1 1,0 1,1 1,0"/>
<path class="k c4" transform="scale(13 1)" d="M18.756,690l1,0 1,0 1-1 1-1 1-1 1-2 1-3 1-4 1-4 1-5 1-6 1-6 1-8 1-10 1-12 1-13 1-14 1-13 1-12 1-11 1-10 1-10 1-8 1-7 1-3 1-1 1,4 1,6 1,9 1,12 1,12 1,13 1,13 1,13 1,13 1,12 1,10 1,10 1,8 1,8 1,7 1,6 1,4 1,2 1,1 1,0 1,1 1,0 1,1 1,0"/>
<path class="k c4 d1" transform="scale(13 1)" d="M20.057,690l1,0 1,0 1-1 1-1 1-1 1-2 1-2 1-4 1-4 1-5 1-6 1-8 1-9 1-11 1-13 1-13 1-15 1-14 1-12 1-11 1-8 1-7 1-5 1-4 1-3 1,0 1,2 1,6 1,9 1,11 1,13 1,15 1,16 1,15 1,12 1,8 1,7 1,8 1,10 1,8 1,5 1,4 1,3 1,3 1,1 1,1 1,1 1,1 1,0 1,0 1,1 1,0 1,0 1,0"/>
<path class="k c4 d2" transform="scale(13 1)" d="M20.569,691l1-1 1,0 1-1 1,0 1-1 1-2 1-2 1-4 1-4 1-5 1-7 1-8 1-10 1-12 1-13 1-14 1-15 1-15 1-15 1-14 1-14 1-14 1-17 1-17 1-5 1,11 1,19 1,19 1,15 1,14 1,17 1,19 1,17 1,15 1,12 1,11 1,9 1,8 1,6 1,5 1,4 1,3 1,2 1,1 1,1 1,1 1,0 1,0 1,1"/>
<path class="k c4 d3" transform="scale(13 1)" d="M15.158,691l1,0 1,0 1,0 1-1 1,0 1,0 1-1 1-1 1-1 1-2 1-2 1-3 1-3 1-5 1-5 1-7 1-9 1-9 1-11 1-12 1-13 1-12 1-13 1-12 1-12 1-11 1-9 1-7 1-6 1-5 1-1 1,5 1,11 1,16 1,17 1,16 1,14 1,13 1,12 1,12 1,10 1,10 1,8 1,6 1,6 1,4 1,4 1,2 1,2 1,2 1,1 1,0 1,1 1,0"/>
<path class="k c5" transform="scale(13 1)" d="M18.795,691l1,0 1,0 1-1 1,0 1,0 1-1 1-1 1-1 1-2 1-2 1-4 1-4 1-5 1-7 1-8 1-11 1-13 1-16 1-16 1-14 1-11 1-10 1-10 1-8 1-8 1-5 1-4 1-2 1,1 1,5 1,10 1,13 1,11 1,9 1,12 1,15 1,16 1,15 1,13 1,11 1,7 1,6 1,4 1,3 1,3 1,3 1,2 1,1 1,1 1,1 1,1 1,0 1,0 1,1 1,0 1,0 1,0"/>
<path class="k c5 d1" transform="scale(13 1)" d="M18.119,691l1,0 1,0 1-1 1,0 1,0 1-1 1,0 1-1 1-2 1-2 1-3 1-3 1-4 1-6 1-6 1-8 1-9 1-9 1-11 1-11 1-12 1-12 1-13 1-14 1-15 1-16 1-15 1-11 1-5 1,2 1,11 1,15 1,17 1,14 1,14 1,13 1,13 1,14 1,12 1,12 1,10 1,9 1,7 1,6 1,5 1,4 1,3 1,3 1,2 1,1 1,1 1,1 1,0 1,0 1,1 1,0 1,0 1,0"/>
<path class="k c5 d2" transform="scale(13 1)" d="M16.155,691l1,0 1,0 1,0 1,0 1,0 1-1 1,0 1,0 1-1 1-1 1-2 1-2 1-3 1-3 1-5 1-7 1-7 1-10 1-11 1-12 1-14 1-16 1-16 1-17 1-16 1-14 1-10 1-8 1-6 1-5 1-1 1,8 1,16 1,17 1,17 1,16 1,16 1,15 1,14 1,13 1,11 1,10 1,8 1,7 1,5 1,4 1,3 1,3 1,1 1,2 1,0 1,1"/>
<path class="k c5 d3" transform="scale(13 1)" d="M23.291,690l1,0 1-1 1,0 1-2 1-1 1-3 1-3 1-4 1-6 1-7 1-8 1-10 1-12 1-15 1-19 1-22 1-22 1-18 1-13 1-6 1-1 1,4 1,6 1,3 1,3 1,3 1,8 1,11 1,14 1,15 1,15 1,15 1,13 1,13 1,10 1,10 1,7 1,6 1,5 1,4 1,3 1,2 1,1 1,1 1,1 1,0 1,0"/>
<path class="k c6" transform="scale(13 1)" d="M12.422,691l1,0 1,0 1-1 1,0 1,0 1-1 1,0 1-1 1-1 1-2 1-2 1-3 1-3 1-4 1-5 1-6 1-7 1-8 1-10 1-13 1-13 1-14 1-11 1-8 1-5 1-5 1-4 1-4 1-4 1-2 1,0 1,3 1,5 1,5 1,6 1,6 1,6 1,9 1,10 1,10 1,10 1,10 1,9 1,9 1,7 1,6 1,6 1,4 1,4 1,3 1,2 1,2 1,1 1,1 1,1 1,1 1,0 1,0 1,1 1,0 1,0"/>
<path class="k c6 d1" transform="scale(13 1)" d="M14.081,690l1,0 1,0 1,0 1-1 1-1 1-1 1-1 1-1 1-3 1-2 1-3 1-4 1-5 1-5 1-5 1-6 1-6 1-6 1-7 1-8 1-9 1-9 1-10 1-11 1-10 1-9 1-7 1-5 1-3 1,0 1,2 1,4 1,5 1,7 1,8 1,8 1,10 1,10 1,10 1,11 1,9 1,9 1,8 1,7 1,6 1,5 1,4 1,4 1,2 1,3 1,2 1,1 1,1 1,1 1,0 1,1 1,0 1,0"/>
<path class="k c6 d2" transform="scale(13 1)" d="M6.900,691l1,0 1,0 1,0 1,0 1,0 1,0 1,0 1-1 1,0 1,0 1-1 1,0 1-1 1-2 1-1 1-2 1-3 1-3 1-3 1-5 1-5 1-7 1-7 1-7 1-9 1-9 1-10 1-10 1-9 1-10 1-9 1-8 1-7 1-5 1-4 1-2 1,0 1,0 1,1 1,4 1,7 1,11 1,12 1,11 1,11 1,9 1,9 1,9 1,7 1,7 1,7 1,6 1,6 1,5 1,4 1,3 1,3 1,2 1,2 1,1 1,1 1,0 1,1 1,0 1,0 1,1 1,0 1,0 1,0 1,0 1,0 1,0"/>
<path class="k c6 d3" transform="scale(13 1)" d="M7.541,691l1,0 1,0 1,0 1,0 1,0 1,0 1-1 1,0 1,0 1-1 1,0 1-1 1-1 1-1 1-2 1-2 1-3 1-3 1-4 1-5 1-6 1-6 1-7 1-8 1-8 1-8 1-8 1-8 1-7 1-8 1-8 1-7 1-8 1-8 1-8 1-7 1-6 1-4 1,0 1,7 1,11 1,14 1,14 1,13 1,11 1,11 1,10 1,9 1,8 1,7 1,7 1,6 1,5 1,4 1,4 1,3 1,2 1,2 1,2 1,1 1,1 1,0 1,1 1,0 1,0 1,1 1,0 1,0 1,0"/>
<path class="k c7" transform="scale(13 1)" d="M14.756,691l1,0 1,0 1,0 1,0 1,0 1-1 1,0 1,0 1-1 1-1 1,0 1-2 1-1 1-2 1-3 1-3 1-4 1-5 1-5 1-6 1-7 1-8 1-9 1-9 1-10 1-9 1-10 1-9 1-9 1-8 1-7 1-5 1-4 1-3 1-1 1,1 1,3 1,5 1,7 1,9 1,11 1,11 1,12 1,12 1,11 1,8 1,7 1,6 1,7 1,5 1,6 1,4 1,4 1,3 1,2 1,2 1,2 1,1 1,1 1,0 1,1 1,0 1,0 1,1 1,0"/>
<path class="k c7 d1" transform="scale(13 1)" d="M18.245,691l1,0 1,0 1-1 1,0 1,0 1-1 1,0 1-1 1-2 1-1 1-2 1-3 1-3 1-4 1-5 1-6 1-7 1-7 1-9 1-9 1-10 1-10 1-10 1-10 1-8 1-7 1-4 1-2 1-1 1-2 1-1 1-1 1,3 1,3 1,5 1,4 1,5 1,7 1,9 1,10 1,10 1,9 1,9 1,8 1,8 1,7 1,7 1,5 1,4 1,3 1,3 1,2 1,2 1,1 1,1 1,0 1,1 1,0 1,0 1,1 1,0 1,0 1,0 1,0 1,0"/>
<path class="k c7 d2" transform="scale(13 1)" d="M11.425,691l1,0 1,0 1,0 1,0 1,0 1,0 1,0 1-1 1,0 1,0 1,0 1-1 1-1 1-1 1-1 1-1 1-2 1-2 1-3 1-4 1-3 1-5 1-5 1-6 1-7 1-7 1-8 1-9 1-9 1-9 1-9 1-9 1-9 1-7 1-7 1-5 1-3 1-2 1,2 1,4 1,8 1,9 1,8 1,7 1,5 1,6 1,6 1,8 1,8 1,8 1,7 1,8 1,6 1,6 1,6 1,4 1,4 1,4 1,2 1,3 1,1 1,2 1,1 1,1 1,0 1,1 1,0 1,0 1,1 1,0 1,0 1,0"/>
<path class="k c7 d3" transform="scale(13 1)" d="M14.756,691l1,0 1,0 1,0 1,0 1,0 1-1 1,0 1,0 1-1 1,0 1-1 1-2 1-1 1-2 1-3 1-3 1-4 1-5 1-5 1-6 1-7 1-7 1-7 1-8 1-7 1-7 1-8 1-8 1-9 1-8 1-8 1-6 1-4 1-2 1,0 1,2 1,4 1,6 1,6 1,8 1,9 1,9 1,10 1,10 1,9 1,8 1,8 1,7 1,6 1,5 1,4 1,4 1,3 1,3 1,2 1,2 1,1 1,1 1,1 1,1 1,0 1,0 1,1 1,0 1,0 1,0 1,0 1,0 1,0"/>
<path class="k c8" transform="scale(13 1)" d="M20.561,691l1,0 1,0 1,0 1,0 1-1 1,0 1-1 1-1 1-1 1-1 1-3 1-3 1-4 1-6 1-7 1-8 1-10 1-12 1-13 1-13 1-14 1-14 1-14 1-14 1-13 1-12 1-9 1-6 1-1 1,6 1,13 1,17 1,13 1,12 1,13 1,15 1,15 1,14 1,12 1,11 1,9 1,7 1,6 1,5 1,4 1,3 1,2 1,1 1,1 1,1 1,0 1,0 1,1 1,0 1,0 1,0"/>
<path class="k c8 d1" transform="scale(13 1)" d="M19.665,691l1,0 1,0 1,0 1,0 1-1 1,0 1,0 1-1 1-1 1-1 1-2 1-2 1-3 1-4 1-5 1-6 1-7 1-9 1-9 1-12 1-13 1-15 1-15 1-15 1-12 1-8 1-2 1,2 1,1 1,0 1,1 1,4 1,6 1,7 1,6 1,8 1,9 1,10 1,11 1,11 1,12 1,11 1,10 1,8 1,5 1,5 1,3 1,4 1,2 1,2 1,2 1,1 1,0 1,1 1,0"/>
<path class="k c8 d2" transform="scale(13 1)" d="M19.811,691l1,0 1,0 1,0 1,0 1,0 1-1 1,0 1-1 1,0 1-1 1-2 1-2 1-3 1-4 1-5 1-6 1-7 1-9 1-10 1-12 1-13 1-16 1-19 1-22 1-21 1-15 1-5 1,4 1,6 1,4 1,1 1,0 1,3 1,8 1,11 1,14 1,15 1,15 1,15 1,13 1,12 1,11 1,9 1,7 1,7 1,5 1,3 1,3 1,3 1,1 1,1 1,1 1,1 1,0"/>
<path class="k c8 d3" transform="scale(13 1)" d="M23.622,690l1,0 1,0 1-1 1-1 1-1 1-1 1-1 1-2 1-2 1-3 1-6 1-7 1-9 1-11 1-12 1-12 1-13 1-12 1-11 1-11 1-11 1-12 1-13 1-14 1-9 1-1 1,6 1,11 1,11 1,11 1,10 1,11 1,10 1,10 1,11 1,11 1,11 1,12 1,11 1,9 1,7 1,6 1,5 1,4 1,2 1,2 1,2 1,1 1,1 1,1 1,0 1,0 1,1"/>
<path class="k c9" transform="scale(13 1)" d="M16.698,690l1,0 1,0 1-1 1,0 1-1 1-2 1-2 1-2 1-4 1-4 1-6 1-7 1-8 1-10 1-12 1-12 1-12 1-11 1-10 1-11 1-11 1-10 1-10 1-7 1-5 1-1 1,2 1,5 1,8 1,10 1,12 1,14 1,14 1,15 1,13 1,11 1,9 1,7 1,8 1,6 1,5 1,5 1,4 1,4 1,2 1,2 1,1 1,1 1,1 1,0 1,0 1,1 1,0 1,0 1,0 1,0 1,0"/>
<path class="k c9 d1" transform="scale(13 1)" d="M17.363,690l1,0 1,0 1-1 1-1 1-1 1-2 1-2 1-2 1-4 1-4 1-5 1-6 1-7 1-8 1-10 1-12 1-13 1-13 1-14 1-13 1-12 1-11 1-8 1-7 1-4 1,0 1,2 1,7 1,9 1,12 1,12 1,12 1,12 1,11 1,12 1,11 1,11 1,9 1,8 1,7 1,6 1,5 1,4 1,3 1,2 1,2 1,1 1,1 1,1 1,0 1,0 1,1"/>
<path class="k c9 d2" transform="scale(13 1)" d="M16.040,690l1,0 1,0 1-1 1,0 1-1 1-2 1-2 1-2 1-2 1-4 1-4 1-4 1-6 1-8 1-9 1-11 1-13 1-14 1-15 1-14 1-13 1-12 1-10 1-9 1-4 1,0 1,6 1,9 1,10 1,9 1,8 1,8 1,8 1,9 1,10 1,11 1,10 1,10 1,10 1,8 1,7 1,6 1,5 1,4 1,3 1,3 1,2 1,1 1,1 1,1 1,1 1,0 1,0 1,1 1,0 1,0"/>
<path class="k c9 d3" transform="scale(13 1)" d="M13.802,691l1,0 1,0 1-1 1,0 1,0 1-1 1-1 1-1 1-1 1-3 1-2 1-4 1-4 1-6 1-6 1-8 1-8 1-9 1-10 1-12 1-12 1-12 1-14 1-14 1-13 1-12 1-9 1-4 1,0 1,1 1,3 1,7 1,12 1,13 1,14 1,14 1,14 1,13 1,13 1,10 1,10 1,9 1,7 1,6 1,5 1,4 1,3 1,3 1,1 1,2 1,1 1,0 1,1 1,0"/>
<path class="k c0" transform="scale(13 1)" d="M19.964,690l1,0 1,0 1-1 1-1 1-1 1-2 1-2 1-3 1-4 1-4 1-6 1-6 1-8 1-9 1-11 1-12 1-13 1-16 1-17 1-20 1-21 1-17 1-11 1-3 1,4 1,7 1,9 1,8 1,9 1,9 1,12 1,13 1,13 1,14 1,13 1,13 1,11 1,10 1,8 1,8 1,6 1,5 1,4 1,4 1,2 1,2 1,1 1,2 1,0 1,1 1,0 1,0 1,1 1,0"/>
<path class="k c0 d1" transform="scale(13 1)" d="M19.283,691l1-1 1,0 1,0 1-1 1,0 1-2 1-1 1-2 1-3 1-3 1-5 1-5 1-7 1-8 1-9 1-11 1-11 1-11 1-10 1-10 1-9 1-8 1-10 1-10 1-9 1-7 1-3 1,1 1,5 1,10 1,11 1,11 1,12 1,14 1,14 1,13 1,10 1,9 1,8 1,7 1,7 1,5 1,5 1,4 1,2 1,3 1,1 1,1 1,1 1,1 1,0 1,0 1,1 1,0 1,0"/>
<path class="k c0 d2" transform="scale(13 1)" d="M18.327,691l1,0 1-1 1,0 1-1 1,0 1-1 1-2 1-1 1-3 1-4 1-4 1-6 1-7 1-9 1-10 1-10 1-12 1-12 1-14 1-14 1-14 1-13 1-11 1-8 1-5 1-3 1,1 1,3 1,6 1,7 1,9 1,9 1,11 1,13 1,16 1,16 1,16 1,12 1,9 1,8 1,7 1,6 1,4 1,3 1,3 1,2 1,1 1,1 1,1 1,0 1,0 1,1 1,0 1,0 1,0"/>
<path class="k c0 d3" transform="scale(13 1)" d="M21.025,690l1,0 1,0 1-1 1-1 1-1 1-2 1-2 1-4 1-4 1-5 1-6 1-7 1-9 1-10 1-11 1-10 1-11 1-8 1-8 1-8 1-10 1-13 1-12 1-9 1-4 1,1 1,6 1,10 1,13 1,13 1,12 1,9 1,9 1,9 1,10 1,10 1,10 1,9 1,8 1,7 1,5 1,4 1,3 1,3 1,2 1,1 1,1 1,1 1,0 1,0 1,1 1,0"/>
<path class="k c1" transform="scale(13 1)" d="M21.432,691l1,0 1-1 1,0 1,0 1-1 1-1 1-1 1-1 1-2 1-3 1-3 1-4 1-5 1-5 1-7 1-7 1-9 1-9 1-10 1-11 1-10 1-9 1-8 1-6 1-5 1-4 1-6 1-5 1-4 1-2 1,3 1,6 1,8 1,7 1,7 1,8 1,11 1,10 1,11 1,10 1,9 1,9 1,7 1,7 1,5 1,5 1,4 1,3 1,2 1,2 1,1 1,1 1,1 1,1 1,0 1,0 1,1 1,0 1,0"/>
<path class="k c1 d1" transform="scale(13 1)" d="M20.796,691l1-1 1,0 1,0 1,0 1-1 1-1 1-1 1-1 1-2 1-2 1-3 1-4 1-4 1-5 1-6 1-5 1-6 1-8 1-9 1-12 1-13 1-13 1-11 1-9 1-9 1-7 1-5 1-4 1-2 1-1 1,0 1,2 1,2 1,4 1,5 1,8 1,12 1,14 1,14 1,15 1,12 1,10 1,9 1,7 1,6 1,6 1,4 1,3 1,3 1,2 1,2 1,1 1,1 1,1 1,1 1,0 1,0 1,1 1,0"/>
<path class="k c1 d2" transform="scale(13 1)" d="M22.197,691l1-1 1,0 1,0 1-1 1,0 1-1 1-2 1-2 1-2 1-3 1-4 1-5 1-7 1-7 1-8 1-10 1-11 1-12 1-13 1-14 1-15 1-15 1-15 1-13 1-7 1-2 1,2 1,5 1,7 1,7 1,9 1,10 1,12 1,12 1,12 1,12 1,12 1,11 1,10 1,9 1,8 1,7 1,6 1,4 1,4 1,3 1,2 1,2 1,1 1,1 1,1 1,0 1,0"/>
<path class="k c1 d3" transform="scale(13 1)" d="M19.374,691l1,0 1-1 1,0 1,0 1,0 1-1 1-1 1-1 1-1 1-2 1-2 1-2 1-4 1-4 1-4 1-6 1-6 1-8 1-8 1-10 1-11 1-13 1-14 1-11 1-8 1-5 1-3 1-2 1-2 1-1 1,0 1,2 1,2 1,3 1,4 1,4 1,6 1,8 1,9 1,10 1,10 1,9 1,10 1,8 1,8 1,6 1,6 1,5 1,5 1,3 1,3 1,3 1,1 1,2 1,1 1,1 1,0 1,1 1,0 1,0 1,1 1,0 1,0"/>
<path class="k c2" transform="scale(13 1)" d="M17.038,691l1,0 1-1 1,0 1-1 1,0 1-2 1-1 1-3 1-3 1-5 1-6 1-8 1-9 1-12 1-12 1-14 1-12 1-11 1-9 1-10 1-13 1-14 1-14 1-8 1-1 1,4 1,6 1,8 1,10 1,15 1,17 1,20 1,18 1,15 1,11 1,8 1,8 1,7 1,6 1,5 1,3 1,3 1,1 1,2 1,1 1,0 1,0 1,1"/>
<path class="k c2 d1" transform="scale(13 1)" d="M13.782,691l1,0 1,0 1,0 1,0 1-1 1,0 1,0 1-1 1-1 1-2 1-2 1-3 1-4 1-5 1-7 1-9 1-10 1-12 1-14 1-16 1-18 1-17 1-15 1-11 1-8 1-7 1-6 1-5 1-3 1,1 1,7 1,10 1,15 1,16 1,18 1,17 1,16 1,15 1,13 1,11 1,9 1,7 1,6 1,5 1,3 1,2 1,2 1,2 1,0 1,1 1,0 1,1 1,0 1,0 1,0 1,0"/>
<path class="k c2 d2" transform="scale(13 1)" d="M16.835,690l1,0 1,0 1-1 1-1 1-1 1-2 1-3 1-4 1-5 1-6 1-7 1-9 1-11 1-12 1-13 1-15 1-15 1-16 1-14 1-11 1-8 1-7 1-5 1,0 1,4 1,6 1,8 1,9 1,9 1,10 1,12 1,15 1,17 1,15 1,13 1,11 1,9 1,7 1,7 1,6 1,5 1,2 1,1 1,0 1,0 1,0 1,0"/>
<path class="k c2 d3" transform="scale(13 1)" d="M20.081,690l1,0 1-1 1-1 1-2 1-2 1-3 1-5 1-6 1-7 1-10 1-11 1-13 1-13 1-12 1-11 1-13 1-19 1-20 1-15 1-9 1-4 1,0 1,2 1,7 1,12 1,15 1,17 1,18 1,18 1,16 1,14 1,13 1,10 1,9 1,8 1,5 1,4 1,4 1,2 1,1 1,1 1,1 1,0"/>
<path class="k c3" transform="scale(13 1)" d="M23.769,691l1,0 1,0 1-1 1,0 1,0 1-1 1-1 1-2 1-2 1-3 1-4 1-5 1-7 1-8 1-10 1-11 1-13 1-15 1-15 1-14 1-14 1-12 1-12 1-13 1-10 1-8 1-2 1,2 1,7 1,11 1,14 1,17 1,17 1,18 1,17 1,15 1,13 1,11 1,10 1,7 1,7 1,4 1,4 1,3 1,2 1,1 1,1 1,1 1,0 1,0 1,1"/>
<path class="k c3 d1" transform="scale(13 1)" d="M29.081,690l1,0 1-1 1-1 1-2 1-2 1-4 1-5 1-6 1-9 1-10 1-13 1-15 1-17 1-20 1-21 1-23 1-23 1-21 1-16 1-7 1,5 1,14 1,17 1,17 1,18 1,17 1,16 1,15 1,16 1,15 1,13 1,11 1,11 1,9 1,7 1,5 1,4 1,2 1,2 1,1 1,1 1,0"/>
<path class="k c3 d2" transform="scale(13 1)" d="M20.686,691l1,0 1,0 1,0 1,0 1-1 1,0 1-1 1,0 1-1 1-2 1-1 1-3 1-2 1-2 1-2 1-2 1-4 1-8 1-12 1-15 1-17 1-17 1-13 1-12 1-11 1-12 1-13 1-9 1-2 1,6 1,7 1,3 1,2 1,7 1,12 1,15 1,15 1,14 1,13 1,12 1,10 1,10 1,8 1,6 1,6 1,4 1,3 1,3 1,2 1,1 1,1 1,1 1,0 1,0 1,1"/>
<path class="k c3 d3" transform="scale(13 1)" d="M20.787,691l1,0 1,0 1,0 1,0 1-1 1,0 1,0 1-1 1-1 1-1 1-2 1-2 1-3 1-4 1-6 1-6 1-9 1-9 1-11 1-13 1-13 1-14 1-15 1-15 1-14 1-15 1-13 1-9 1-2 1,4 1,7 1,5 1,5 1,7 1,12 1,17 1,18 1,18 1,15 1,14 1,12 1,9 1,9 1,6 1,6 1,4 1,3 1,2 1,2 1,1 1,1 1,1 1,0 1,0"/>
<path class="k c4" transform="scale(13 1)" d="M13.879,691l1,0 1,0 1,0 1,0 1,0 1-1 1,0 1,0 1-1 1,0 1-1 1-2 1-2 1-3 1-3 1-4 1-6 1-6 1-8 1-9 1-11 1-11 1-13 1-13 1-13 1-14 1-13 1-12 1-8 1-4 1-1 1,2 1,3 1,4 1,6 1,7 1,7 1,6 1,6 1,10 1,15 1,18 1,18 1,16 1,11 1,8 1,5 1,4 1,3 1,2 1,2 1,2 1,1 1,1 1,1 1,0 1,0 1,1 1,0 1,0 1,0 1,0"/>
<path class="k c4 d1" transform="scale(13 1)" d="M19.005,691l1-1 1,0 1,0 1-1 1-1 1-1 1-1 1-3 1-2 1-4 1-5 1-6 1-7 1-9 1-10 1-11 1-11 1-13 1-12 1-11 1-11 1-11 1-11 1-9 1-7 1-3 1-1 1,3 1,3 1,5 1,8 1,9 1,13 1,14 1,16 1,15 1,14 1,12 1,11 1,9 1,7 1,6 1,5 1,3 1,3 1,2 1,1 1,1 1,0 1,1 1,0 1,0 1,1"/>
<path class="k c4 d2" transform="scale(13 1)" d="M18.453,691l1-1 1,0 1-1 1,0 1-1 1-2 1-1 1-3 1-3 1-4 1-5 1-6 1-7 1-8 1-10 1-11 1-11 1-12 1-12 1-11 1-11 1-9 1-8 1-9 1-8 1-6 1-3 1,1 1,6 1,7 1,9 1,9 1,11 1,11 1,13 1,14 1,14 1,13 1,12 1,9 1,8 1,6 1,5 1,4 1,3 1,2 1,2 1,1 1,1 1,1 1,0 1,0"/>
<path class="k c4 d3" transform="scale(13 1)" d="M18.269,691l1,0 1-1 1,0 1,0 1-1 1-1 1-1 1-2 1-2 1-3 1-4 1-5 1-6 1-8 1-8 1-10 1-12 1-12 1-13 1-14 1-14 1-14 1-14 1-12 1-12 1-10 1-9 1-3 1,8 1,18 1,18 1,15 1,13 1,12 1,13 1,13 1,13 1,12 1,11 1,9 1,8 1,6 1,5 1,5 1,3 1,2 1,2 1,2 1,1 1,0 1,1 1,0 1,1 1,0 1,0 1,0"/>
<path class="k c5" transform="scale(13 1)" d="M16.687,690l1,0 1,0 1-1 1,0 1-1 1-2 1-2 1-2 1-4 1-4 1-5 1-7 1-7 1-9 1-10 1-11 1-12 1-12 1-12 1-11 1-12 1-12 1-13 1-12 1-8 1-4 1,2 1,7 1,11 1,13 1,14 1,14 1,13 1,14 1,13 1,11 1,10 1,9 1,8 1,7 1,6 1,5 1,4 1,4 1,2 1,2 1,2 1,1 1,0 1,1 1,0 1,0 1,1 1,0 1,0 1,0"/>
<path class="k c5 d1" transform="scale(13 1)" d="M12.897,691l1,0 1,0 1,0 1,0 1-1 1,0 1-1 1,0 1-1 1-2 1-2 1-3 1-3 1-4 1-6 1-6 1-6 1-7 1-8 1-10 1-11 1-12 1-12 1-11 1-12 1-12 1-12 1-9 1-6 1-2 1,2 1,7 1,10 1,11 1,12 1,11 1,11 1,10 1,12 1,12 1,11 1,11 1,8 1,7 1,6 1,5 1,3 1,3 1,2 1,2 1,1 1,0 1,1 1,0 1,0 1,1"/>
<path class="k c5 d2" transform="scale(13 1)" d="M14.026,691l1,0 1,0 1,0 1,0 1-1 1,0 1,0 1-1 1-1 1-2 1-2 1-3 1-3 1-5 1-7 1-8 1-9 1-11 1-11 1-10 1-10 1-9 1-11 1-14 1-16 1-16 1-13 1-7 1,2 1,10 1,21 1,28 1,20 1,6 1-1 1,4 1,8 1,11 1,10 1,11 1,9 1,7 1,6 1,5 1,4 1,3 1,2 1,1 1,1 1,1 1,0"/>
<path class="k c5 d3" transform="scale(13 1)" d="M20.532,690l1,0 1-1 1-1 1-1 1-3 1-2 1-4 1-5 1-5 1-6 1-8 1-9 1-10 1-12 1-13 1-15 1-17 1-19 1-17 1-13 1-10 1-4 1,0 1,4 1,8 1,11 1,13 1,15 1,16 1,16 1,15 1,14 1,13 1,11 1,9 1,8 1,6 1,5 1,3 1,3 1,2 1,1 1,1 1,1 1,0"/>
<path class="k c6" transform="scale(13 1)" d="M14.661,691l1,0 1,0 1,0 1,0 1,0 1-1 1,0 1,0 1-1 1,0 1-1 1-2 1-1 1-3 1-3 1-3 1-5 1-6 1-8 1-9 1-11 1-11 1-11 1-11 1-10 1-9 1-9 1-8 1-9 1-8 1-9 1-7 1-4 1,1 1,4 1,9 1,11 1,12 1,12 1,11 1,11 1,11 1,9 1,9 1,9 1,8 1,7 1,7 1,6 1,5 1,4 1,4 1,3 1,2 1,2 1,1 1,1 1,0 1,0 1,0 1,1"/>
<path class="k c6 d1" transform="scale(13 1)" d="M13.700,691l1,0 1,0 1,0 1,0 1,0 1-1 1,0 1,0 1-1 1,0 1-1 1-1 1-1 1-2 1-3 1-3 1-4 1-6 1-7 1-8 1-8 1-8 1-8 1-8 1-8 1-9 1-10 1-10 1-9 1-8 1-6 1-4 1-1 1,2 1,4 1,5 1,5 1,6 1,6 1,8 1,9 1,11 1,10 1,9 1,7 1,6 1,6 1,6 1,6 1,5 1,5 1,4 1,3 1,3 1,2 1,2 1,1 1,1 1,1 1,1 1,0 1,0 1,0 1,1"/>
<path class="k c6 d2" transform="scale(13 1)" d="M16.106,691l1,0 1,0 1-1 1,0 1,0 1,0 1-1 1-1 1-1 1-1 1-2 1-2 1-3 1-4 1-4 1-5 1-6 1-7 1-7 1-8 1-8 1-6 1-7 1-8 1-10 1-13 1-13 1-10 1-7 1-5 1-4 1-2 1-1 1,2 1,6 1,10 1,11 1,10 1,11 1,10 1,11 1,10 1,9 1,9 1,8 1,7 1,6 1,6 1,4 1,4 1,3 1,2 1,2 1,2 1,1 1,1 1,0 1,1 1,0 1,0"/>
<path class="k c6 d3" transform="scale(13 1)" d="M16.604,691l1,0 1-1 1,0 1,0 1,0 1-1 1-1 1-1 1-1 1-1 1-2 1-3 1-3 1-4 1-5 1-5 1-6 1-7 1-8 1-9 1-9 1-9 1-10 1-10 1-9 1-9 1-7 1-6 1-5 1-4 1-1 1-1 1,1 1,3 1,4 1,6 1,9 1,10 1,11 1,10 1,10 1,11 1,10 1,9 1,7 1,6 1,5 1,5 1,4 1,4 1,3 1,2 1,2 1,1 1,2 1,1 1,0 1,1 1,0 1,0"/>
<path class="k c7" transform="scale(13 1)" d="M10.736,691l1,0 1-1 1,0 1,0 1,0 1-1 1-1 1-1 1-1 1-2 1-2 1-2 1-3 1-4 1-5 1-5 1-6 1-7 1-8 1-9 1-9 1-9 1-10 1-9 1-10 1-8 1-8 1-6 1-6 1-5 1-3 1,0 1,3 1,5 1,7 1,8 1,8 1,10 1,11 1,10 1,10 1,10 1,8 1,7 1,6 1,4 1,4 1,4 1,3 1,4 1,4 1,4 1,3 1,3 1,1 1,1 1,1 1,1 1,0 1,0 1,0 1,1 1,0 1,0 1,0"/>
<path class="k c7 d1" transform="scale(13 1)" d="M13.876,691l1,0 1-1 1,0 1,0 1-1 1,0 1-1 1-2 1-2 1-2 1-3 1-3 1-4 1-5 1-6 1-7 1-8 1-9 1-10 1-10 1-12 1-11 1-11 1-11 1-9 1-8 1-6 1-4 1-1 1,1 1,6 1,9 1,11 1,9 1,6 1,6 1,7 1,10 1,10 1,11 1,10 1,9 1,8 1,7 1,5 1,5 1,4 1,3 1,2 1,2 1,2 1,1 1,1 1,0 1,1 1,0 1,0"/>
<path class="k c7 d2" transform="scale(13 1)" d="M17.174,690l1,0 1,0 1-1 1-1 1-1 1-2 1-2 1-3 1-3 1-5 1-5 1-6 1-8 1-8 1-10 1-11 1-11 1-12 1-13 1-13 1-13 1-12 1-10 1-8 1-4 1,0 1,3 1,6 1,8 1,9 1,10 1,12 1,13 1,12 1,10 1,11 1,11 1,10 1,8 1,8 1,7 1,6 1,4 1,4 1,3 1,2 1,2 1,1 1,1 1,0 1,1 1,0 1,0 1,1 1,0 1,0 1,0 1,0 1,0"/>
<path class="k c7 d3" transform="scale(13 1)" d="M9.482,691l1,0 1,0 1,0 1,0 1,0 1-1 1,0 1,0 1-1 1,0 1-1 1,0 1,0 1-1 1-1 1-3 1-4 1-7 1-8 1-9 1-10 1-10 1-10 1-9 1-10 1-11 1-12 1-11 1-8 1-5 1-1 1,1 1,1 1,1 1-2 1,0 1,2 1,5 1,8 1,9 1,10 1,10 1,12 1,12 1,13 1,10 1,6 1,5 1,4 1,5 1,4 1,4 1,3 1,2 1,2 1,2 1,1 1,1 1,0 1,1 1,0 1,0 1,1 1,0 1,0 1,0 1,0 1,0"/>
<path class="k c8" transform="scale(13 1)" d="M16.888,691l1,0 1,0 1,0 1,0 1,0 1,0 1-1 1,0 1,0 1-1 1-1 1-1 1-1 1-2 1-3 1-3 1-4 1-6 1-6 1-7 1-9 1-9 1-11 1-11 1-12 1-11 1-12 1-11 1-11 1-10 1-10 1-10 1-9 1-6 1-2 1,4 1,12 1,18 1,18 1,17 1,15 1,13 1,12 1,11 1,11 1,9 1,8 1,6 1,6 1,5 1,3 1,3 1,3 1,2 1,1 1,1 1,0 1,1 1,0"/>
<path class="k c8 d1" transform="scale(13 1)" d="M19.379,691l1,0 1,0 1,0 1,0 1,0 1-1 1,0 1,0 1-1 1-1 1-1 1-2 1-3 1-3 1-4 1-5 1-6 1-8 1-9 1-10 1-11 1-12 1-13 1-13 1-12 1-12 1-10 1-9 1-6 1-3 1,2 1,4 1,5 1,3 1,5 1,7 1,12 1,16 1,16 1,14 1,12 1,8 1,8 1,7 1,7 1,5 1,5 1,4 1,3 1,4 1,3 1,1 1,2 1,0 1,1 1,0 1,1 1,0 1,0 1,0"/>
<path class="k c8 d2" transform="scale(13 1)" d="M24.940,690l1,0 1,0 1-1 1-1 1-1 1-2 1-3 1-3 1-4 1-4 1-6 1-8 1-8 1-10 1-10 1-11 1-11 1-12 1-12 1-12 1-11 1-11 1-7 1-3 1,1 1,4 1,3 1,4 1,5 1,9 1,11 1,12 1,13 1,13 1,12 1,12 1,10 1,9 1,8 1,6 1,5 1,4 1,3 1,2 1,2 1,1 1,1 1,1 1,0 1,0 1,1 1,0 1,0 1,0 1,0 1,0"/>
<path class="k c8 d3" transform="scale(13 1)" d="M22.729,691l1-1 1,0 1,0 1-1 1-1 1-1 1-1 1-2 1-3 1-3 1-4 1-4 1-6 1-7 1-8 1-10 1-12 1-13 1-14 1-15 1-13 1-13 1-11 1-8 1-2 1,3 1,7 1,7 1,6 1,5 1,4 1,5 1,6 1,9 1,10 1,11 1,11 1,11 1,10 1,9 1,8 1,7 1,5 1,5 1,3 1,3 1,2 1,2 1,1 1,1 1,1 1,0 1,0 1,1 1,0 1,0"/>
<path class="k c9" transform="scale(13 1)" d="M12.804,691l1,0 1,0 1,0 1-1 1,0 1,0 1-1 1,0 1-1 1-2 1-2 1-2 1-3 1-5 1-5 1-6 1-8 1-8 1-10 1-11 1-13 1-14 1-16 1-16 1-12 1-5 1-1 1,1 1-1 1-2 1-2 1,0 1,4 1,7 1,10 1,12 1,12 1,13 1,12 1,11 1,11 1,9 1,9 1,7 1,7 1,5 1,4 1,3 1,3 1,2 1,1 1,2 1,0 1,1 1,0 1,0"/>
<path class="k c9 d1" transform="scale(13 1)" d="M8.963,691l1,0 1,0 1,0 1,0 1,0 1-1 1,0 1,0 1-1 1,0 1-1 1-1 1-2 1-2 1-2 1-3 1-4 1-5 1-5 1-6 1-6 1-8 1-8 1-9 1-10 1-12 1-12 1-12 1-11 1-11 1-7 1-5 1-1 1,0 1,3 1,3 1,5 1,6 1,7 1,9 1,9 1,10 1,10 1,11 1,9 1,10 1,8 1,8 1,7 1,5 1,5 1,5 1,3 1,3 1,2 1,2 1,1 1,1 1,1 1,1 1,0 1,0 1,0 1,1"/>
<path class="k c9 d2" transform="scale(13 1)" d="M14.908,691l1,0 1-1 1,0 1,0 1-1 1-1 1-1 1-1 1-2 1-3 1-3 1-4 1-6 1-6 1-7 1-9 1-10 1-11 1-12 1-13 1-13 1-14 1-13 1-11 1-8 1-4 1,2 1,6 1,9 1,7 1,4 1,3 1,4 1,8 1,10 1,11 1,11 1,11 1,11 1,10 1,9 1,7 1,7 1,5 1,5 1,3 1,3 1,2 1,2 1,1 1,1 1,1 1,0 1,0 1,1 1,0 1,0 1,0"/>
<path class="k c9 d3" transform="scale(13 1)" d="M14.530,690l1,0 1,0 1,0 1-1 1-1 1-1 1-1 1-2 1-3 1-3 1-4 1-4 1-6 1-6 1-8 1-8 1-10 1-10 1-10 1-11 1-12 1-11 1-10 1-7 1-6 1-5 1-3 1-2 1,1 1,3 1,5 1,7 1,8 1,9 1,10 1,9 1,9 1,11 1,11 1,12 1,9 1,8 1,7 1,5 1,5 1,4 1,3 1,2 1,2 1,2 1,1 1,1 1,1 1,0 1,0 1,0 1,1"/>
<path class="k c9 d3" d="M268.2,690.3l13.3-0.3 13.3-0.4 13.2-0.6 13.3-0.7 13.2-1 13.3-1.4 13.3-1.7 13.2-2.3 13.3-2.8 13.3-3.5 13.2-4.3 13.3-5.1 13.2-6 13.3-6.9 13.3-7.8 13.2-8.8 13.3-9.5 13.3-10.1 13.2-10.6 13.3-10.7 13.3-10.6 13.2-10.2 13.3-9.4 13.2-8.3 13.3-6.8 13.3-5.2 13.2-3.2 13.3-1.3 13.3,0.9 13.2,2.8 13.3,4.7 13.2,6.3 13.3,7.6 13.3,8.6 13.2,9.2 13.3,9.4 13.3,9.2 13.2,8.9 13.3,8.4 13.2,7.7 13.3,7.1 13.3,6.6 13.2,6.3 13.3,5.9 13.3,5.6 13.2,5.4 13.3,5.1 13.2,4.8 13.3,4.2 13.3,3.6 13.2,3.1 13.3,2.5 13.3,1.9 13.2,1.4 13.3,1 13.2,0.7 13.3,0.4 13.3,0.3"/>
<path class="k c0" transform="scale(13 1)" d="M9.734,691l1,0 1,0 1,0 1,0 1,0 1-1 1,0 1,0 1-1 1,0 1-1 1-2 1-2 1-2 1-4 1-4 1-5 1-7 1-7 1-9 1-10 1-11 1-12 1-13 1-12 1-13 1-11 1-11 1-8 1-6 1-4 1-2 1,0 1,4 1,5 1,6 1,7 1,10 1,12 1,14 1,16 1,15 1,13 1,11 1,9 1,8 1,6 1,5 1,4 1,4 1,2 1,2 1,2 1,1 1,0 1,1 1,0 1,0"/>
<path class="k c0 d1" transform="scale(13 1)" d="M10.070,691l1,0 1,0 1,0 1-1 1,0 1,0 1-1 1-1 1-1 1-1 1-2 1-2 1-3 1-4 1-4 1-6 1-6 1-7 1-8 1-9 1-8 1-9 1-9 1-10 1-11 1-12 1-11 1-8 1-6 1-2 1,1 1,5 1,7 1,9 1,10 1,10 1,10 1,8 1,7 1,7 1,6 1,7 1,7 1,7 1,8 1,6 1,6 1,6 1,4 1,3 1,2 1,2 1,1 1,0 1,1 1,1 1,0 1,0 1,0 1,1"/>
<path class="k c0 d2" transform="scale(13 1)" d="M10.228,691l1,0 1,0 1,0 1,0 1-1 1,0 1,0 1-1 1-1 1-1 1-2 1-2 1-3 1-3 1-5 1-5 1-6 1-7 1-7 1-9 1-9 1-10 1-11 1-11 1-13 1-12 1-10 1-8 1-4 1-1 1,0 1,1 1,2 1,2 1,5 1,8 1,10 1,12 1,12 1,12 1,12 1,10 1,10 1,9 1,7 1,7 1,5 1,4 1,4 1,2 1,2 1,2 1,1 1,1 1,1 1,0 1,0 1,1 1,0 1,0"/>
<path class="k c0 d3" transform="scale(13 1)" d="M6.900,691l1,0 1,0 1,0 1,0 1,0 1,0 1-1 1,0 1,0 1-1 1-1 1-1 1-1 1-1 1-2 1-3 1-3 1-5 1-5 1-7 1-7 1-9 1-9 1-10 1-10 1-12 1-11 1-11 1-11 1-10 1-9 1-6 1-3 1-1 1,2 1,3 1,5 1,6 1,8 1,8 1,9 1,10 1,11 1,12 1,12 1,10 1,10 1,8 1,7 1,6 1,5 1,4 1,3 1,3 1,2 1,2 1,1 1,1 1,0 1,1 1,0 1,0 1,1 1,0 1,0 1,0"/>
<path class="k c1" transform="scale(13 1)" d="M15.410,691l1,0 1,0 1,0 1,0 1-1 1,0 1-1 1-1 1-2 1-2 1-4 1-5 1-7 1-10 1-12 1-13 1-12 1-12 1-15 1-22 1-25 1-23 1-17 1-13 1-8 1,0 1,8 1,11 1,13 1,18 1,22 1,22 1,21 1,20 1,18 1,13 1,10 1,8 1,6 1,4 1,4 1,2 1,2 1,1 1,1 1,0 1,1 1,0 1,0"/>
<path class="k c1 d1" transform="scale(13 1)" d="M17.977,691l1,0 1-1 1,0 1-1 1-1 1-2 1-2 1-3 1-4 1-7 1-10 1-11 1-14 1-15 1-17 1-19 1-19 1-19 1-17 1-13 1-9 1-2 1-1 1-1 1,5 1,12 1,17 1,19 1,20 1,19 1,18 1,16 1,14 1,11 1,9 1,8 1,6 1,5 1,3 1,2 1,2 1,0 1,1 1,0 1,1"/>
<path class="k c1 d2" transform="scale(13 1)" d="M19.554,691l1,0 1-1 1,0 1-1 1-1 1-3 1-3 1-5 1-7 1-9 1-12 1-15 1-18 1-20 1-23 1-23 1-23 1-21 1-19 1-13 1-2 1,5 1,6 1,8 1,16 1,25 1,29 1,28 1,23 1,20 1,17 1,13 1,10 1,7 1,4 1,3 1,2 1,1 1,1 1,0 1,1 1,0 1,0"/>
<path class="k c1 d3" transform="scale(13 1)" d="M15.047,691l1,0 1,0 1-1 1,0 1-1 1-1 1-1 1-2 1-3 1-3 1-5 1-6 1-8 1-9 1-12 1-13 1-16 1-16 1-18 1-17 1-15 1-10 1-5 1-1 1,3 1,5 1,3 1-2 1,2 1,11 1,14 1,16 1,17 1,15 1,14 1,13 1,11 1,10 1,8 1,6 1,5 1,4 1,2 1,2 1,1 1,1 1,1 1,0 1,1 1,0"/>
<path class="k c2" transform="scale(13 1)" d="M18.050,691l1,0 1,0 1,0 1-1 1,0 1,0 1-1 1-1 1-2 1-2 1-4 1-4 1-7 1-9 1-11 1-15 1-18 1-18 1-19 1-16 1-14 1-13 1-10 1-10 1-7 1-6 1-3 1,0 1,4 1,9 1,16 1,20 1,22 1,22 1,19 1,17 1,13 1,12 1,9 1,7 1,6 1,5 1,3 1,2 1,2 1,1 1,1 1,0 1,0 1,1 1,0 1,0"/>
<path class="k c2 d1" transform="scale(13 1)" d="M22.232,691l1-1 1,0 1-1 1-1 1-1 1-2 1-4 1-4 1-5 1-8 1-9 1-11 1-13 1-15 1-16 1-17 1-15 1-11 1-6 1-9 1-16 1-12 1-4 1,4 1,7 1,10 1,12 1,16 1,18 1,18 1,16 1,16 1,14 1,11 1,10 1,8 1,6 1,4 1,4 1,2 1,2 1,1 1,1 1,0 1,0 1,1 1,0"/>
<path class="k c2 d2" transform="scale(13 1)" d="M20.523,691l1,0 1-1 1,0 1-1 1-1 1-1 1-2 1-3 1-3 1-5 1-7 1-8 1-10 1-12 1-14 1-17 1-19 1-21 1-20 1-17 1-12 1-8 1-5 1-2 1,3 1,7 1,10 1,14 1,15 1,16 1,16 1,17 1,16 1,14 1,13 1,11 1,9 1,7 1,6 1,5 1,3 1,2 1,2 1,1 1,1 1,0 1,0 1,1 1,0 1,0"/>
<path class="k c2 d3" transform="scale(13 1)" d="M22.656,690l1,0 1-1 1-1 1-1 1-2 1-3 1-4 1-5 1-7 1-8 1-11 1-13 1-14 1-17 1-18 1-19 1-19 1-18 1-17 1-14 1-9 1-2 1,5 1,13 1,16 1,18 1,17 1,18 1,17 1,16 1,16 1,14 1,12 1,10 1,8 1,7 1,5 1,4 1,2 1,2 1,2 1,0 1,1 1,0 1,1 1,0 1,0"/>
<path class="k c3" transform="scale(13 1)" d="M23.192,691l1-1 1,0 1-1 1-1 1-2 1-2 1-3 1-5 1-6 1-9 1-11 1-15 1-15 1-15 1-15 1-18 1-18 1-17 1-13 1-8 1-1 1,4 1,11 1,17 1,11 1,2 1,4 1,11 1,15 1,16 1,16 1,15 1,12 1,11 1,8 1,7 1,5 1,3 1,3 1,2 1,1 1,1 1,0 1,0 1,1 1,0 1,0"/>
<path class="k c3 d1" transform="scale(13 1)" d="M21.516,691l1-1 1,0 1-1 1,0 1-2 1-1 1-3 1-3 1-4 1-6 1-7 1-8 1-10 1-12 1-14 1-16 1-18 1-19 1-18 1-14 1-11 1-5 1-1 1,0 1,1 1,3 1,8 1,9 1,10 1,12 1,16 1,19 1,18 1,16 1,12 1,11 1,9 1,8 1,5 1,5 1,4 1,2 1,2 1,1 1,1 1,1 1,0 1,1 1,0 1,0 1,0 1,0 1,0"/>
<path class="k c3 d2" transform="scale(13 1)" d="M21.503,690l1,0 1,0 1-1 1-1 1-1 1-2 1-3 1-3 1-5 1-5 1-8 1-9 1-10 1-10 1-11 1-11 1-15 1-18 1-18 1-14 1-10 1-5 1-3 1-6 1-3 1,4 1,8 1,11 1,13 1,18 1,20 1,18 1,15 1,11 1,10 1,8 1,8 1,7 1,6 1,4 1,4 1,2 1,2 1,1 1,1 1,1 1,0 1,0 1,1 1,0 1,0"/>
<path class="k c3 d3" transform="scale(13 1)" d="M18.583,691l1,0 1-1 1,0 1,0 1-1 1-1 1-1 1-2 1-2 1-3 1-4 1-5 1-6 1-8 1-10 1-12 1-14 1-13 1-12 1-14 1-15 1-16 1-10 1-6 1-3 1-1 1,2 1,4 1,5 1,5 1,7 1,10 1,12 1,15 1,19 1,18 1,12 1,5 1,6 1,7 1,7 1,6 1,5 1,4 1,3 1,2 1,2 1,1 1,1 1,1 1,0 1,0 1,1 1,0 1,0 1,0"/>
<path class="k c4" transform="scale(13 1)" d="M16.602,691l1,0 1,0 1,0 1,0 1,0 1,0 1-1 1,0 1-1 1,0 1-1 1-2 1-2 1-2 1-3 1-5 1-5 1-7 1-8 1-10 1-11 1-13 1-14 1-14 1-11 1-11 1-9 1-9 1-9 1-6 1-3 1,2 1,4 1,5 1,6 1,7 1,9 1,11 1,13 1,13 1,12 1,12 1,11 1,10 1,9 1,7 1,6 1,5 1,4 1,3 1,2 1,2 1,1 1,1 1,1 1,0 1,0 1,1 1,0"/>
<path class="k c4 d1" transform="scale(13 1)" d="M23.048,690l1,0 1,0 1-1 1-1 1-1 1-2 1-2 1-3 1-4 1-5 1-7 1-7 1-9 1-10 1-11 1-12 1-12 1-11 1-11 1-9 1-8 1-8 1-4 1-2 1,2 1,4 1,5 1,4 1,5 1,5 1,8 1,9 1,11 1,12 1,10 1,10 1,9 1,8 1,7 1,8 1,6 1,5 1,4 1,3 1,2 1,1 1,1 1,1 1,0"/>
<path class="k c4 d2" transform="scale(13 1)" d="M18.189,691l1,0 1,0 1-1 1,0 1,0 1-1 1-1 1-1 1-2 1-2 1-2 1-4 1-4 1-5 1-6 1-7 1-8 1-10 1-10 1-10 1-11 1-11 1-10 1-9 1-8 1-6 1-4 1-1 1,1 1,2 1,3 1,3 1,3 1,5 1,7 1,9 1,11 1,12 1,11 1,9 1,8 1,8 1,8 1,7 1,5 1,5 1,4 1,3 1,3 1,2 1,1 1,1 1,1 1,1 1,0 1,0 1,1 1,0 1,0 1,0 1,0 1,0"/>
<path class="k c4 d3" transform="scale(13 1)" d="M17.008,691l1,0 1,0 1,0 1,0 1,0 1-1 1,0 1,0 1-1 1,0 1-2 1-1 1-2 1-3 1-3 1-5 1-5 1-8 1-8 1-11 1-12 1-13 1-14 1-14 1-13 1-15 1-14 1-12 1-7 1-3 1,1 1,3 1,4 1,7 1,9 1,12 1,13 1,14 1,16 1,15 1,13 1,10 1,7 1,6 1,6 1,7 1,7 1,5 1,4 1,2 1,2 1,1 1,1 1,1 1,0 1,0 1,1 1,0 1,0 1,0"/>
<path class="k c5" transform="scale(13 1)" d="M13.425,691l1,0 1-1 1,0 1,0 1-1 1,0 1-1 1-2 1-2 1-2 1-3 1-4 1-5 1-6 1-8 1-8 1-9 1-11 1-11 1-11 1-10 1-8 1-6 1-6 1-7 1-7 1-7 1-5 1-5 1-5 1,0 1,6 1,11 1,13 1,12 1,13 1,12 1,11 1,11 1,11 1,9 1,8 1,8 1,6 1,5 1,3 1,3 1,3 1,2 1,1 1,1 1,0 1,1 1,0 1,0 1,1 1,0 1,0"/>
<path class="k c5 d1" transform="scale(13 1)" d="M12.285,691l1,0 1-1 1,0 1,0 1-1 1,0 1-1 1-1 1-2 1-2 1-3 1-4 1-4 1-5 1-7 1-7 1-9 1-10 1-10 1-11 1-12 1-13 1-12 1-13 1-10 1-6 1-4 1-3 1,0 1,2 1,5 1,5 1,6 1,7 1,11 1,13 1,15 1,13 1,10 1,9 1,8 1,8 1,8 1,6 1,5 1,5 1,4 1,3 1,2 1,2 1,1 1,1 1,0 1,1 1,0 1,0 1,1"/>
<path class="k c5 d2" transform="scale(13 1)" d="M12.588,691l1,0 1,0 1-1 1,0 1,0 1-1 1-1 1-1 1-2 1-3 1-3 1-4 1-6 1-7 1-9 1-8 1-10 1-9 1-10 1-10 1-11 1-11 1-12 1-11 1-9 1-7 1-4 1-1 1,4 1,7 1,8 1,7 1,6 1,5 1,7 1,8 1,11 1,13 1,12 1,10 1,10 1,8 1,7 1,7 1,5 1,4 1,3 1,2 1,2 1,2 1,1 1,0 1,1 1,0 1,0 1,1"/>
<path class="k c5 d3" transform="scale(13 1)" d="M14.545,691l1-1 1,0 1,0 1-1 1-1 1-1 1-2 1-2 1-2 1-4 1-4 1-6 1-7 1-8 1-9 1-11 1-10 1-11 1-11 1-11 1-9 1-7 1-4 1-4 1-5 1-5 1-4 1-2 1,0 1,3 1,5 1,9 1,10 1,11 1,12 1,12 1,12 1,11 1,10 1,9 1,7 1,7 1,5 1,5 1,3 1,3 1,2 1,2 1,1 1,1 1,1 1,0 1,0 1,1 1,0 1,0"/>
<path class="k c6" transform="scale(13 1)" d="M19.326,691l1-1 1,0 1-1 1,0 1-1 1-2 1-2 1-3 1-3 1-5 1-6 1-7 1-10 1-10 1-12 1-13 1-14 1-14 1-14 1-14 1-13 1-11 1-10 1-7 1-4 1,1 1,5 1,9 1,11 1,12 1,11 1,12 1,14 1,15 1,15 1,14 1,12 1,11 1,9 1,7 1,5 1,4 1,3 1,2 1,2 1,1 1,0 1,1 1,0 1,1 1,0"/>
<path class="k c6 d1" transform="scale(13 1)" d="M11.407,691l1,0 1,0 1,0 1,0 1,0 1,0 1-1 1,0 1,0 1-1 1-1 1-1 1-1 1-3 1-2 1-4 1-4 1-5 1-7 1-7 1-9 1-9 1-11 1-11 1-10 1-11 1-11 1-10 1-11 1-9 1-7 1-5 1-1 1,1 1,4 1,6 1,7 1,9 1,10 1,11 1,12 1,11 1,10 1,8 1,7 1,8 1,9 1,9 1,9 1,6 1,4 1,3 1,2 1,2 1,1 1,1 1,1 1,0 1,0 1,1 1,0 1,0 1,0 1,0 1,0"/>
<path class="k c6 d2" transform="scale(13 1)" d="M11.317,691l1,0 1,0 1,0 1,0 1,0 1-1 1,0 1,0 1-1 1-1 1-1 1-1 1-2 1-2 1-4 1-3 1-5 1-6 1-6 1-7 1-8 1-7 1-8 1-6 1-5 1-3 1-1 1-2 1-6 1-12 1-16 1-15 1-10 1-4 1,1 1,5 1,7 1,9 1,10 1,11 1,11 1,11 1,11 1,10 1,10 1,8 1,8 1,6 1,5 1,5 1,3 1,3 1,3 1,1 1,2 1,1 1,0 1,1 1,0 1,0 1,1 1,0 1,0 1,0 1,0"/>
<path class="k c6 d3" transform="scale(13 1)" d="M13.853,691l1,0 1,0 1,0 1-1 1,0 1,0 1-1 1,0 1-1 1-2 1-2 1-2 1-4 1-4 1-5 1-7 1-8 1-9 1-10 1-12 1-13 1-14 1-13 1-12 1-9 1-6 1-2 1,0 1-2 1-5 1-5 1-2 1,2 1,7 1,9 1,12 1,13 1,15 1,14 1,13 1,13 1,10 1,8 1,8 1,6 1,4 1,5 1,3 1,2 1,2 1,2 1,1 1,0 1,1 1,0 1,0 1,1 1,0 1,0"/>
<path class="k c7" transform="scale(13 1)" d="M26.587,690l1,0 1,0 1-1 1-1 1-2 1-2 1-3 1-5 1-5 1-8 1-9 1-12 1-14 1-16 1-18 1-18 1-16 1-14 1-10 1-8 1-6 1-5 1-6 1-3 1,5 1,12 1,15 1,13 1,11 1,13 1,15 1,18 1,17 1,16 1,12 1,10 1,7 1,6 1,4 1,2 1,3 1,1 1,1 1,1 1,0 1,0 1,1 1,0 1,0"/>
<path class="k c7 d1" transform="scale(13 1)" d="M23.790,691l1,0 1,0 1-1 1,0 1-1 1-1 1-1 1-2 1-2 1-3 1-5 1-6 1-7 1-9 1-10 1-11 1-13 1-12 1-13 1-14 1-16 1-16 1-15 1-14 1-10 1-4 1,1 1,8 1,12 1,15 1,15 1,15 1,14 1,14 1,15 1,15 1,14 1,11 1,9 1,7 1,6 1,4 1,3 1,3 1,1 1,2 1,0 1,1 1,0 1,1 1,0 1,0"/>
<path class="k c7 d2" transform="scale(13 1)" d="M20.996,691l1,0 1,0 1,0 1-1 1,0 1,0 1-1 1-1 1-1 1-2 1-3 1-4 1-5 1-7 1-8 1-9 1-11 1-11 1-13 1-14 1-15 1-15 1-14 1-13 1-10 1-7 1-3 1,0 1,2 1,5 1,8 1,10 1,12 1,13 1,11 1,12 1,13 1,14 1,15 1,13 1,10 1,8 1,7 1,4 1,3 1,3 1,1 1,2 1,0 1,1 1,0 1,1 1,0"/>
<path class="k c7 d3" transform="scale(13 1)" d="M21.438,691l1,0 1,0 1,0 1-1 1,0 1-1 1-1 1-2 1-2 1-3 1-3 1-4 1-4 1-5 1-7 1-8 1-10 1-10 1-12 1-11 1-12 1-13 1-13 1-13 1-13 1-9 1-6 1-3 1,3 1,7 1,12 1,13 1,13 1,12 1,14 1,14 1,15 1,12 1,9 1,8 1,6 1,6 1,5 1,4 1,3 1,3 1,2 1,2 1,1 1,0 1,1 1,0 1,1 1,0 1,0 1,0"/>
<path class="k c8" transform="scale(13 1)" d="M18.943,691l1,0 1,0 1,0 1-1 1,0 1,0 1-1 1-1 1-2 1-2 1-3 1-4 1-5 1-7 1-8 1-10 1-11 1-13 1-15 1-16 1-17 1-18 1-17 1-17 1-13 1-8 1-1 1,5 1,9 1,11 1,13 1,13 1,14 1,15 1,16 1,15 1,14 1,13 1,11 1,9 1,8 1,6 1,5 1,4 1,3 1,2 1,1 1,1 1,1 1,0 1,0 1,1 1,0 1,0 1,0"/>
<path class="k c8 d1" transform="scale(13 1)" d="M17.350,691l1,0 1,0 1,0 1,0 1-1 1,0 1,0 1-1 1-1 1-1 1-2 1-3 1-3 1-5 1-6 1-8 1-9 1-11 1-13 1-14 1-15 1-15 1-16 1-16 1-15 1-14 1-9 1-3 1,2 1,6 1,8 1,12 1,15 1,18 1,17 1,14 1,12 1,12 1,11 1,10 1,10 1,8 1,7 1,5 1,4 1,3 1,2 1,2 1,1 1,1 1,0 1,0 1,1 1,0"/>
<path class="k c8 d2" transform="scale(13 1)" d="M20.964,691l1,0 1-1 1,0 1-1 1-1 1-1 1-2 1-2 1-4 1-5 1-6 1-7 1-10 1-12 1-13 1-16 1-18 1-19 1-19 1-17 1-17 1-19 1-17 1-7 1,8 1,15 1,14 1,14 1,16 1,17 1,17 1,16 1,16 1,15 1,13 1,11 1,10 1,8 1,6 1,5 1,4 1,3 1,2 1,1 1,1 1,1"/>
<path class="k c8 d3" transform="scale(13 1)" d="M23.311,690l1,0 1-1 1-1 1-1 1-2 1-3 1-4 1-5 1-7 1-8 1-10 1-12 1-13 1-15 1-16 1-16 1-17 1-16 1-15 1-12 1-7 1,0 1,7 1,13 1,15 1,16 1,16 1,13 1,11 1,12 1,15 1,16 1,11 1,5 1,5 1,6 1,5 1,5 1,3 1,3 1,1 1,2 1,0 1,1 1,0 1,1 1,0 1,0"/>
<path class="k c9" transform="scale(13 1)" d="M21.274,691l1,0 1,0 1-1 1,0 1,0 1-1 1-1 1-1 1-2 1-2 1-2 1-4 1-4 1-4 1-6 1-7 1-8 1-11 1-12 1-14 1-14 1-13 1-10 1-8 1-8 1-6 1-5 1-2 1,0 1,3 1,5 1,5 1,5 1,6 1,8 1,10 1,11 1,11 1,11 1,11 1,10 1,9 1,8 1,7 1,5 1,5 1,4 1,3 1,2 1,2 1,2 1,1 1,0 1,1 1,0 1,0 1,1 1,0 1,0 1,0 1,0 1,0"/>
<path class="k c9 d1" transform="scale(13 1)" d="M20.150,691l1,0 1,0 1,0 1-1 1,0 1,0 1-1 1-1 1-1 1-1 1-2 1-3 1-3 1-4 1-4 1-6 1-7 1-9 1-11 1-12 1-13 1-12 1-10 1-6 1-1 1,3 1-2 1-10 1-15 1-11 1-5 1-1 1,1 1,2 1,5 1,8 1,10 1,12 1,13 1,14 1,13 1,12 1,10 1,9 1,8 1,6 1,6 1,4 1,4 1,3 1,2 1,2 1,1 1,1 1,1 1,1 1,0 1,0"/>
<path class="k c9 d2" transform="scale(13 1)" d="M18.624,691l1,0 1,0 1,0 1,0 1-1 1,0 1,0 1-1 1,0 1-1 1-1 1-1 1-2 1-1 1-2 1-2 1-4 1-5 1-7 1-8 1-10 1-11 1-12 1-12 1-12 1-11 1-11 1-10 1-10 1-7 1-6 1-2 1,0 1,3 1,6 1,7 1,8 1,9 1,12 1,12 1,13 1,11 1,8 1,8 1,7 1,7 1,7 1,6 1,5 1,5 1,3 1,3 1,3 1,2 1,1 1,1 1,1 1,1 1,0 1,0 1,0 1,1 1,0 1,0"/>
<path class="k c9 d3" transform="scale(13 1)" d="M22.495,691l1,0 1-1 1,0 1,0 1,0 1-1 1,0 1-1 1-1 1-3 1-3 1-4 1-4 1-5 1-7 1-7 1-8 1-10 1-10 1-12 1-12 1-14 1-12 1-11 1-9 1-6 1-4 1-1 1,3 1,5 1,7 1,7 1,6 1,4 1,6 1,6 1,6 1,8 1,9 1,10 1,11 1,11 1,10 1,8 1,7 1,5 1,4 1,3 1,3 1,2 1,1 1,1 1,1 1,1 1,0 1,0 1,1 1,0 1,0 1,0"/>
<path class="k c0" transform="scale(13 1)" d="M16.273,691l1,0 1,0 1,0 1,0 1,0 1-1 1,0 1,0 1-1 1-1 1-2 1-1 1-3 1-4 1-4 1-6 1-7 1-8 1-11 1-12 1-15 1-16 1-18 1-18 1-14 1-11 1-7 1-4 1-2 1,0 1,2 1,5 1,8 1,12 1,13 1,13 1,11 1,11 1,10 1,11 1,11 1,10 1,10 1,9 1,7 1,6 1,5 1,4 1,2 1,2 1,1 1,1 1,1 1,0 1,0 1,1 1,0 1,0 1,0"/>
<path class="k c0 d1" transform="scale(13 1)" d="M22.657,691l1-1 1,0 1,0 1-1 1-1 1-2 1-2 1-3 1-4 1-5 1-7 1-8 1-10 1-11 1-13 1-14 1-15 1-16 1-15 1-14 1-11 1-9 1-5 1-1 1,1 1,5 1,7 1,12 1,16 1,15 1,12 1,12 1,13 1,14 1,13 1,10 1,8 1,7 1,6 1,4 1,4 1,3 1,2 1,1 1,1 1,1 1,0 1,0 1,1"/>
<path class="k c0 d2" transform="scale(13 1)" d="M20.248,691l1,0 1-1 1,0 1,0 1-1 1-1 1-1 1-2 1-3 1-4 1-4 1-6 1-7 1-9 1-10 1-12 1-13 1-13 1-14 1-14 1-14 1-14 1-12 1-11 1-8 1-4 1,1 1,4 1,8 1,11 1,14 1,15 1,16 1,17 1,17 1,14 1,13 1,10 1,8 1,7 1,5 1,5 1,3 1,3 1,2 1,2 1,1 1,1 1,0 1,0 1,1"/>
<path class="k c0 d3" transform="scale(13 1)" d="M17.481,691l1,0 1,0 1,0 1,0 1-1 1,0 1-1 1,0 1-2 1-1 1-2 1-3 1-5 1-5 1-9 1-11 1-11 1-11 1-11 1-12 1-15 1-16 1-16 1-14 1-10 1-8 1-4 1-2 1,0 1,4 1,7 1,10 1,12 1,13 1,13 1,13 1,11 1,11 1,13 1,13 1,11 1,9 1,7 1,6 1,4 1,4 1,3 1,2 1,1 1,1 1,1 1,0 1,0 1,1"/>
<path class="k c1" transform="scale(13 1)" d="M22.942,691l1,0 1-1 1,0 1,0 1-1 1-1 1-1 1-2 1-2 1-3 1-3 1-5 1-5 1-6 1-8 1-8 1-10 1-10 1-11 1-12 1-11 1-11 1-9 1-7 1-5 1-3 1-2 1-1 1,0 1,1 1,3 1,7 1,9 1,12 1,11 1,11 1,9 1,9 1,8 1,8 1,8 1,8 1,7 1,6 1,6 1,3 1,3 1,3 1,1 1,2 1,1 1,0 1,1 1,0 1,0 1,1 1,0 1,0 1,0 1,0"/>
<path class="k c1 d1" transform="scale(13 1)" d="M21.691,691l1,0 1-1 1,0 1,0 1-1 1,0 1-2 1-1 1-2 1-2 1-3 1-4 1-5 1-6 1-7 1-8 1-9 1-10 1-11 1-11 1-12 1-10 1-10 1-9 1-8 1-7 1-5 1-5 1-2 1,0 1,2 1,6 1,6 1,8 1,9 1,12 1,14 1,14 1,13 1,12 1,10 1,9 1,7 1,6 1,5 1,5 1,3 1,3 1,2 1,1 1,1 1,1 1,1 1,0 1,0 1,1 1,0 1,0 1,0 1,0 1,0 1,0"/>
<path class="k c1 d2" transform="scale(13 1)" d="M20.694,691l1,0 1,0 1-1 1,0 1,0 1-1 1,0 1-1 1-1 1-2 1-2 1-3 1-4 1-5 1-5 1-7 1-7 1-9 1-10 1-10 1-9 1-9 1-8 1-9 1-10 1-9 1-6 1-5 1-3 1-4 1-3 1,0 1,3 1,6 1,9 1,10 1,12 1,12 1,13 1,11 1,11 1,9 1,9 1,7 1,7 1,5 1,5 1,3 1,3 1,2 1,2 1,1 1,1 1,1 1,0 1,0 1,0 1,1 1,0"/>
<path class="k c1 d3" transform="scale(13 1)" d="M19.813,691l1,0 1,0 1,0 1,0 1,0 1-1 1,0 1,0 1-1 1-1 1-1 1-2 1-2 1-3 1-4 1-4 1-6 1-7 1-8 1-9 1-10 1-12 1-11 1-11 1-10 1-9 1-9 1-9 1-9 1-7 1-6 1-4 1,1 1,5 1,9 1,11 1,13 1,12 1,11 1,11 1,11 1,10 1,10 1,9 1,9 1,7 1,6 1,5 1,4 1,3 1,2 1,2 1,2 1,1 1,0 1,1 1,0"/>
<path class="k c2" transform="scale(13 1)" d="M22.775,690l1,0 1,0 1-1 1-2 1-2 1-3 1-4 1-6 1-7 1-11 1-12 1-15 1-17 1-17 1-17 1-13 1-7 1-5 1-7 1-10 1-6 1,3 1,5 1,3 1,2 1,8 1,13 1,18 1,20 1,21 1,18 1,15 1,10 1,8 1,6 1,4 1,3 1,2 1,2 1,1 1,0"/>
<path class="k c2 d1" transform="scale(13 1)" d="M20.996,691l1,0 1,0 1-1 1,0 1-1 1-1 1-2 1-3 1-4 1-6 1-8 1-10 1-14 1-17 1-21 1-22 1-23 1-22 1-22 1-17 1-10 1-4 1,0 1,5 1,10 1,15 1,19 1,20 1,22 1,21 1,20 1,17 1,15 1,12 1,10 1,7 1,5 1,3 1,3 1,1 1,1 1,1 1,0 1,1"/>
<path class="k c2 d2" transform="scale(13 1)" d="M23.052,691l1-1 1,0 1-1 1-2 1-2 1-3 1-6 1-8 1-10 1-11 1-11 1-14 1-17 1-19 1-22 1-23 1-24 1-22 1-13 1,0 1,9 1,6 1,7 1,13 1,18 1,21 1,23 1,22 1,21 1,17 1,13 1,9 1,8 1,6 1,5 1,4 1,2 1,2 1,1 1,1 1,0"/>
<path class="k c2 d3" transform="scale(13 1)" d="M22.656,691l1,0 1-1 1,0 1-1 1-1 1-1 1-3 1-4 1-6 1-8 1-10 1-14 1-17 1-20 1-22 1-22 1-22 1-20 1-19 1-15 1-9 1-1 1,7 1,14 1,19 1,24 1,29 1,26 1,20 1,18 1,17 1,14 1,9 1,5 1,4 1,3 1,3 1,1 1,2 1,0 1,0"/>
<path class="k c3" transform="scale(13 1)" d="M17.518,691l1,0 1,0 1,0 1-1 1,0 1,0 1-1 1-1 1-2 1-2 1-3 1-4 1-5 1-7 1-8 1-9 1-11 1-11 1-12 1-13 1-14 1-15 1-16 1-14 1-11 1-6 1-3 1,1 1,3 1,6 1,10 1,11 1,14 1,15 1,15 1,15 1,14 1,12 1,12 1,9 1,8 1,6 1,5 1,4 1,3 1,2 1,1 1,1 1,1 1,0 1,0 1,1"/>
<path class="k c3 d1" transform="scale(13 1)" d="M14.397,691l1,0 1,0 1,0 1,0 1,0 1-1 1,0 1,0 1-1 1-1 1-1 1-2 1-3 1-3 1-4 1-6 1-8 1-10 1-12 1-14 1-14 1-14 1-13 1-12 1-10 1-10 1-8 1-7 1-4 1,0 1,2 1,5 1,6 1,6 1,8 1,9 1,10 1,13 1,13 1,12 1,13 1,11 1,10 1,8 1,7 1,6 1,5 1,4 1,3 1,2 1,1 1,2 1,0 1,1 1,0 1,0 1,1 1,0 1,0 1,0"/>
<path class="k c3 d2" transform="scale(13 1)" d="M15.914,691l1,0 1,0 1,0 1-1 1,0 1,0 1-1 1-1 1-1 1-1 1-2 1-3 1-4 1-5 1-5 1-7 1-9 1-10 1-11 1-12 1-13 1-11 1-11 1-12 1-15 1-14 1-11 1-8 1-3 1,0 1,3 1,7 1,10 1,12 1,14 1,15 1,14 1,14 1,13 1,12 1,11 1,9 1,8 1,7 1,5 1,4 1,4 1,2 1,2 1,2 1,1 1,0 1,1 1,0 1,1 1,0 1,0 1,0 1,0 1,0"/>
<path class="k c3 d3" transform="scale(13 1)" d="M18.815,691l1,0 1-1 1,0 1-1 1,0 1-1 1-2 1-2 1-2 1-4 1-5 1-5 1-7 1-9 1-9 1-11 1-13 1-15 1-17 1-19 1-18 1-15 1-9 1-6 1-3 1,0 1,5 1,7 1,11 1,11 1,11 1,11 1,12 1,12 1,13 1,13 1,12 1,10 1,10 1,8 1,6 1,6 1,4 1,3 1,3 1,2 1,1 1,1 1,1 1,0"/>
<path class="k c4" transform="scale(13 1)" d="M15.011,691l1,0 1,0 1,0 1,0 1-1 1,0 1,0 1-1 1-1 1-2 1-1 1-2 1-2 1-2 1-4 1-4 1-6 1-7 1-8 1-10 1-10 1-10 1-9 1-9 1-10 1-9 1-10 1-8 1-7 1-6 1-4 1-2 1,1 1,3 1,4 1,7 1,7 1,8 1,10 1,11 1,11 1,11 1,10 1,9 1,8 1,8 1,7 1,6 1,5 1,4 1,4 1,2 1,3 1,1 1,2 1,1 1,0 1,1 1,0 1,0 1,1 1,0 1,0"/>
<path class="k c4 d1" transform="scale(13 1)" d="M14.933,691l1,0 1,0 1,0 1-1 1,0 1,0 1-1 1,0 1-1 1-1 1-2 1-1 1-3 1-3 1-4 1-4 1-6 1-8 1-10 1-12 1-12 1-9 1-5 1-5 1-6 1-7 1-8 1-7 1-5 1-5 1-3 1-3 1-2 1,0 1,2 1,4 1,7 1,8 1,10 1,10 1,10 1,10 1,10 1,10 1,8 1,8 1,7 1,6 1,5 1,4 1,3 1,3 1,2 1,2 1,1 1,1 1,1 1,1 1,0"/>
<path class="k c4 d2" transform="scale(13 1)" d="M14.218,691l1,0 1,0 1,0 1,0 1,0 1-1 1,0 1,0 1-1 1,0 1-1 1-1 1-2 1-2 1-3 1-3 1-4 1-5 1-7 1-7 1-8 1-9 1-10 1-11 1-11 1-11 1-11 1-11 1-10 1-10 1-7 1-5 1,0 1,3 1,5 1,6 1,5 1,4 1,4 1,5 1,8 1,13 1,15 1,15 1,13 1,11 1,8 1,7 1,6 1,5 1,4 1,4 1,2 1,2 1,2 1,1 1,1 1,1 1,0 1,0"/>
<path class="k c4 d3" transform="scale(13 1)" d="M13.437,691l1,0 1,0 1,0 1,0 1,0 1,0 1-1 1,0 1,0 1-1 1,0 1-1 1-2 1-1 1-2 1-3 1-3 1-4 1-6 1-8 1-8 1-9 1-9 1-10 1-10 1-11 1-11 1-11 1-10 1-8 1-5 1-3 1,0 1,1 1,0 1,1 1,4 1,8 1,10 1,11 1,10 1,8 1,8 1,9 1,8 1,9 1,9 1,7 1,7 1,6 1,4 1,4 1,3 1,3 1,2 1,1 1,1 1,1 1,1 1,0 1,0 1,1"/>
<path class="k c1 d1" d="M74,690.9l36,0"/>
<path class="k c3 d2" d="M110,690.9l15,0"/>
<path class="k c6 d2" d="M125,690.9l35,0 55-0.5"/>
<path class="k c0 d3" d="M1000,689.9l90,0.7"/>
<path class="k c7 d1" d="M1090,690.9l46,0"/>
<path d="M225,690.9H1040" stroke="#933708" stroke-width="3.6" fill="none"/>
</g>
<g clip-path="url(#cr1)">
<g transform="translate(1276.17 587) scale(36.7267 1)">
<path class="s c0" d="M2,0V-12M19,0V-24.6"/>
<path class="d c0" d="M0,29h0M1-22.3h0M2-12h0M3,11.6h0M4-3.2h0M5,7.9h0M6-1.7h0M7-2h0M8-4.5h0M9-3.5h0M10-6h0M11-1.8h0M12-12.5h0M13-2.5h0M14,5.7h0M15-0.6h0M16,1.7h0M17,2.7h0M18-11h0M19-24.6h0M20,8.7h0M21,3.2h0M22,0.4h0M23-2.4h0M24-5.8h0M25-10h0M26,1.9h0M27-13h0M28,25.7h0M29,13.9h0"/>
<path class="s c1" d="M4,0V-13.7M27,0V-13.5M28,0V-22.5"/>
<path class="d c1" d="M0-0.1h0M1-9.1h0M2,10.4h0M3-3.1h0M4-13.7h0M5-4.7h0M6-3.3h0M7-1.6h0M8,2.5h0M9,0.5h0M10,4h0M11-0.1h0M12,0h0M13-4.9h0M14-7.8h0M15,5.1h0M16,2.3h0M17,7.4h0M18,10.1h0M19,8.9h0M20-2.9h0M21-8h0M22-1.2h0M23,5.6h0M24,4h0M25,3.1h0M26,7.5h0M27-13.5h0M28-22.5h0M29,20.4h0"/>
<path class="s c2" d="M0,0V20"/>
<path class="d c2" d="M0,20h0M1-5h0M2,8.6h0M3-5.1h0M4-12h0M5-0.5h0M6,2.7h0M7,8.7h0M8-4.6h0M9-1.6h0M10-6.8h0M11-1.4h0M12-1.4h0M13,8.4h0M14,11h0M15,3.2h0M16,5.6h0M17-16.7h0M18,6.6h0M19,3.6h0M20-10.1h0M21-3.8h0M22,0.8h0M23-1.5h0M24,2h0M25,5.6h0M26,11.1h0M27,2.1h0M28-15.2h0M29-4.7h0"/>
<path class="s c3" d="M4,0V38.9M5,0V33.8M12,0V23.1M17,0V20.5M21,0V22.4M29,0V65"/>
<path class="d c3" d="M0,43.5h0M1-3.1h0M2-13.9h0M3-22.7h0M4,38.9h0M5,33.8h0M6,0.2h0M7,4h0M8-2h0M9,5.6h0M10-3.7h0M11,20.1h0M12,23.1h0M13-0.3h0M14-10.3h0M15-0.7h0M16-5.3h0M17,20.5h0M18,16.9h0M19-7.7h0M20-16.5h0M21,22.4h0M22,11h0M23,11.8h0M24,11.6h0M25,22.8h0M26-8.8h0M27-16.1h0M28,15.7h0M29,65h0"/>
<path class="s c0" d="M18,0V-29.2M29,0V-50"/>
<path class="d c0" d="M0-0.2h0M1-1.8h0M2-1.2h0M3-2.2h0M4,12.8h0M5-1.7h0M6,8.7h0M7-4h0M8,10.5h0M9,5.3h0M10-17.4h0M11-5.3h0M12,2.1h0M13,10h0M14,9.1h0M15-1.7h0M16-11.8h0M17,6.7h0M18-29.2h0M19,1.4h0M20-4.1h0M21-9.2h0M22-11.8h0M23-8.9h0M24-1.9h0M25-4.9h0M26,3.8h0M27,4.3h0M28,19.6h0M29-50h0"/>
<path class="s c1" d="M24,0V15.7M25,0V-12.2"/>
<path class="d c1" d="M0,13.2h0M1,2.6h0M2-2.2h0M3-10.1h0M4-2h0M5-8.2h0M6,11.5h0M7-7.3h0M8,5.8h0M9,5.1h0M10-5.7h0M11,6.6h0M12,2.8h0M13-6.7h0M14-9.6h0M15-0.3h0M16,6.3h0M17,0.5h0M18,0.9h0M19-6.2h0M20,2.5h0M21,7.3h0M22,9.6h0M23-11.9h0M24,15.7h0M25-12.2h0M26,4.4h0M27,11.1h0M28-2.6h0M29,12.8h0"/>
<path class="s c2" d="M2,0V13.6M28,0V-19.8"/>
<path class="d c2" d="M0,14.4h0M1-3.6h0M2,13.6h0M3-8.9h0M4,16h0M5-9.9h0M6,8.4h0M7,7.7h0M8-4h0M9,9.3h0M10,2.7h0M11-3.3h0M12-6.8h0M13-5.2h0M14-6.8h0M15,7.9h0M16,11.1h0M17-13.5h0M18,3.9h0M19,7.6h0M20,5.1h0M21,11.4h0M22,2.6h0M23,1.1h0M24,1.1h0M25-1.8h0M26,8.5h0M27-11.7h0M28-19.8h0M29,16.3h0"/>
<path class="s c3" d="M1,0V40.5M7,0V22.5M12,0V-15M14,0V-19M15,0V20.3M20,0V22.4M21,0V25.4"/>
<path class="d c3" d="M0,46.9h0M1,40.5h0M2-11.1h0M3-26.3h0M4,35.5h0M5,15.3h0M6,9.8h0M7,22.5h0M8,9.6h0M9-5.9h0M10,8.9h0M11,15.4h0M12-15h0M13-3.5h0M14-19h0M15,20.3h0M16,16.1h0M17-2.6h0M18,6.7h0M19,3.9h0M20,22.4h0M21,25.4h0M22-13.7h0M23,6.9h0M24,3h0M25-2.2h0M26,14.5h0M27,14.8h0M28-25.1h0M29,45.2h0"/>
<path class="s c0" d="M3,0V20.6M15,0V-17.1M21,0V-27.4"/>
<path class="d c0" d="M0,9.4h0M1,15.1h0M2-7.6h0M3,20.6h0M4-0.4h0M5,2.3h0M6-7h0M7,2.8h0M8-6.6h0M9-10h0M10,0.3h0M11-8.5h0M12,9.7h0M13,5.7h0M14-1.3h0M15-17.1h0M16-15.4h0M17-5.4h0M18-4.7h0M19-20.4h0M20-10.1h0M21-27.4h0M22-2.4h0M23-0.3h0M24,6h0M25-1.5h0M26-0.4h0M27,16h0M28-24.8h0M29-34.4h0"/>
<path class="s c1" d="M2,0V13.6M9,0V-13.5M13,0V12.3M28,0V21.9"/>
<path class="d c1" d="M0-5.2h0M1,10.1h0M2,13.6h0M3-9.3h0M4,15.9h0M5,4.9h0M6-9.6h0M7-8.8h0M8-0.4h0M9-13.5h0M10,3.3h0M11-2.2h0M12,11.4h0M13,12.3h0M14,11h0M15-0.8h0M16-4.1h0M17,4.5h0M18-4.2h0M19-1.7h0M20,10.1h0M21-5.6h0M22,11.7h0M23,7.8h0M24,9h0M25-9.2h0M26,8.3h0M27-7.3h0M28,21.9h0M29,7.4h0"/>
<path class="s c2" d="M4,0V-13.7M26,0V-12.2"/>
<path class="d c2" d="M0-5.4h0M1,3.8h0M2-4.3h0M3,14.8h0M4-13.7h0M5,7h0M6,6h0M7,4.5h0M8,5h0M9,7.2h0M10-2h0M11-7.2h0M12,5.5h0M13,6.6h0M14,6.7h0M15-5.4h0M16-0.8h0M17-0.7h0M18,2.5h0M19,8.3h0M20,6.4h0M21,0.6h0M22-2.1h0M23,7.7h0M24,4.2h0M25,4h0M26-12.2h0M27-6.3h0M28-1.4h0M29-13.3h0"/>
<path class="s c3" d="M3,0V-28.8M4,0V42.9M8,0V-24.8M13,0V27.7"/>
<path class="d c3" d="M0-21.8h0M1,8.3h0M2,4.5h0M3-28.8h0M4,42.9h0M5,11.7h0M6-15.1h0M7,20.7h0M8-24.8h0M9,15.5h0M10-9.5h0M11,11.9h0M12-3.7h0M13,27.7h0M14-0.7h0M15-12h0M16-7.4h0M17,16.1h0M18,8.6h0M19-0.8h0M20-12.5h0M21,17.6h0M22-3.6h0M23,4.4h0M24-8.1h0M25-22.6h0M26,22.8h0M27,24.5h0M28,8.9h0M29,21.8h0"/>
<path class="s c0" d="M1,0V-33M12,0V-20.5"/>
<path class="d c0" d="M0-18.6h0M1-33h0M2-6.4h0M3,2.4h0M4,15.3h0M5,10h0M6,4.9h0M7-0.6h0M8-1.7h0M9-6h0M10,3.5h0M11-14.5h0M12-20.5h0M13,0.8h0M14,11h0M15,6.5h0M16-10.9h0M17,9.2h0M18-16.7h0M19-15.1h0M20-5.7h0M21,2h0M22-14.7h0M23-10.5h0M24-7.7h0M25-6h0M26-7.6h0M27-20.8h0M28-15.1h0M29-29.4h0"/>
<path class="s c1" d="M28,0V-19.5"/>
<path class="d c1" d="M0,3.4h0M1,11.5h0M2-10.7h0M3-5h0M4-5.5h0M5,2.2h0M6-7.1h0M7,6.1h0M8-9.6h0M9-7.3h0M10-5h0M11-7.2h0M12,6.7h0M13-1.1h0M14,2.8h0M15-1.4h0M16,5.4h0M17-4.1h0M18,3h0M19-4.7h0M20,8.8h0M21,1.8h0M22,8.4h0M23-1.2h0M24,0.7h0M25,6.3h0M26,2.1h0M27,13.2h0M28-19.5h0M29,8.9h0"/>
<path class="s c2" d="M10,0V12.9"/>
<path class="d c2" d="M0,7h0M1,9h0M2,4h0M3,10h0M4-9.2h0M5,1.5h0M6,4h0M7,10.3h0M8-0.9h0M9,6.1h0M10,12.9h0M11-4.6h0M12,3.4h0M13-2.3h0M14-0.7h0M15,8.7h0M16-2.6h0M17-6.5h0M18-0.4h0M19-5.5h0M20,1.8h0M21-8h0M22-4h0M23,4.6h0M24-0.4h0M25-3h0M26-8.7h0M27-7h0M28-13.5h0M29-11.2h0"/>
<path class="s c3" d="M0,0V-98.5M9,0V25.6M14,0V24.4M18,0V22.4M20,0V-19.5M27,0V35.5"/>
<path class="d c3" d="M0-98.5h0M1-4.8h0M2-15.8h0M3,38.5h0M4,7.7h0M5,22.2h0M6-7.3h0M7,14h0M8-6.4h0M9,25.6h0M10,16.3h0M11,21.7h0M12,6.1h0M13,14.3h0M14,24.4h0M15,6.8h0M16,21h0M17,14.6h0M18,22.4h0M19-4.6h0M20-19.5h0M21,0.5h0M22-1.2h0M23,17.5h0M24,7.1h0M25,4.5h0M26-10.3h0M27,35.5h0M28,24h0M29-7.4h0"/>
<path class="s c0" d="M25,0V12.9"/>
<path class="d c0" d="M0,30.7h0M1,6.8h0M2,3.2h0M3,0.4h0M4,0.7h0M5-18.5h0M6,0.8h0M7,11.5h0M8,11.5h0M9,11.5h0M10-16.6h0M11-6.1h0M12-8.3h0M13,9.3h0M14-4.4h0M15,3.7h0M16,8h0M17,1.1h0M18-0.7h0M19-18h0M20,5h0M21-3.7h0M22-16.7h0M23,1.4h0M24,11.4h0M25,12.9h0M26-1.8h0M27-15.8h0M28-22h0M29-0.3h0"/>
<path class="s c1" d="M1,0V18M2,0V15.2M13,0V13.7M22,0V17"/>
<path class="d c1" d="M0,7.6h0M1,18h0M2,15.2h0M3,1h0M4,4.6h0M5,6.1h0M6-10.8h0M7,2.8h0M8-2.9h0M9,11.5h0M10-0.6h0M11-6.1h0M12,7.7h0M13,13.7h0M14,5.6h0M15,0.3h0M16-6.8h0M17-3.3h0M18,3.7h0M19-2.9h0M20,5.1h0M21-3.8h0M22,17h0M23,2.7h0M24,3h0M25-10.2h0M26-4.4h0M27,7.4h0M28,13.9h0M29-4.3h0"/>
<path class="s c2" d="M27,0V-13.5"/>
<path class="d c2" d="M0-13.4h0M1-8.7h0M2-3.1h0M3-5.8h0M4-8h0M5,8.2h0M6,7.9h0M7-5.8h0M8-2.8h0M9,4.5h0M10-4.1h0M11,2h0M12-2.4h0M13,7.7h0M14-2.2h0M15,6.3h0M16-0.3h0M17,4.6h0M18,1h0M19,5.9h0M20-4.3h0M21-0.8h0M22,7.1h0M23,3.8h0M24,5.9h0M25,6.5h0M26,1.2h0M27-13.5h0M28-18h0M29,21.9h0"/>
<path class="s c3" d="M4,0V-26.2M14,0V-21.4M29,0V-96.6"/>
<path class="d c3" d="M0-4.2h0M1-17.3h0M2-4.7h0M3,13.4h0M4-26.2h0M5-12h0M6,19.5h0M7,17.2h0M8,15.2h0M9-24.4h0M10,7.4h0M11,3.4h0M12-4.9h0M13,18h0M14-21.4h0M15,12.5h0M16,26.4h0M17,17.6h0M18-4.2h0M19,8.1h0M20-6.5h0M21-6.9h0M22,4.1h0M23-8.8h0M24,9.2h0M25,12.2h0M26-3.4h0M27,28.6h0M28-14.4h0M29-96.6h0"/>
<path class="s c0" d="M1,0V20M28,0V-38"/>
<path class="d c0" d="M0-9.4h0M1,20h0M2-0.3h0M3-6h0M4,18.6h0M5-7.3h0M6,4.4h0M7-1.2h0M8-8h0M9-11h0M10,5.6h0M11-16.1h0M12,12h0M13,8.2h0M14,4.2h0M15-13.8h0M16-1.9h0M17,1.6h0M18-13.3h0M19-3.9h0M20,8h0M21-7.5h0M22-15.6h0M23,4.6h0M24-3.5h0M25,3.2h0M26-10h0M27,23.5h0M28-38h0M29-5.2h0"/>
<path class="s c1" d="M0,0V20M3,0V18.1M26,0V-12.2"/>
<path class="d c1" d="M0,20h0M1-5.4h0M2,9.7h0M3,18.1h0M4,3.6h0M5,1.4h0M6-6.1h0M7,10.3h0M8-7h0M9-11.3h0M10-4.3h0M11,0.8h0M12,9.8h0M13,1h0M14,6.7h0M15,8.7h0M16-5.3h0M17-2.2h0M18,8h0M19,1h0M20,8.1h0M21-4.7h0M22,12.6h0M23,1h0M24,5.6h0M25-7h0M26-12.2h0M27,11.9h0M28,9.3h0M29,3.2h0"/>
<path class="d c2" d="M0,1.1h0M1,16.9h0M2-0.7h0M3,1.9h0M4,7.5h0M5,2.9h0M6-3.4h0M7,0.4h0M8-8.2h0M9,8.1h0M10-5h0M11,5.1h0M12,10.4h0M13,4.2h0M14,4.9h0M15-4.6h0M16,0.9h0M17,4.1h0M18-5h0M19-6.1h0M20-5.2h0M21-5.5h0M22,7.8h0M23-4.6h0M24-10.2h0M25-4.1h0M26-10.4h0M27-2.7h0M28,17.9h0M29-7.7h0"/>
<path class="s c3" d="M0,0V51.7M1,0V-56.4M2,0V30.9M10,0V25.9M14,0V21.7M20,0V-22.4M22,0V-18M23,0V19.1M25,0V-30M26,0V-27M28,0V48.7"/>
<path class="d c3" d="M0,51.7h0M1-56.4h0M2,30.9h0M3,10.5h0M4,28h0M5,19.5h0M6,3.1h0M7,8h0M8,7.6h0M9-17.6h0M10,25.9h0M11,1.7h0M12-6.5h0M13-9h0M14,21.7h0M15,8.7h0M16,3h0M17,5.2h0M18,0.4h0M19-10.8h0M20-22.4h0M21,19.1h0M22-18h0M23,19.1h0M24-24.7h0M25-30h0M26-27h0M27,3.7h0M28,48.7h0M29,6.4h0"/>
<path class="s c0" d="M0,0V52M22,0V-21.6"/>
<path class="d c0" d="M0,52h0M1-5.8h0M2-3.2h0M3,17.1h0M4,7.8h0M5-0.4h0M6-6.2h0M7,1.8h0M8-11.2h0M9,1.7h0M10-6.7h0M11-13.6h0M12-1.7h0M13-8h0M14-3.8h0M15,8.3h0M16-6h0M17,4.3h0M18,6.2h0M19-21.6h0M20-1.3h0M21-12.7h0M22-21.6h0M23,8h0M24-11.5h0M25-9.2h0M26-24.5h0M27-27.6h0M28-27.8h0M29-16.5h0"/>
<path class="s c1" d="M1,0V20.1M5,0V15.2M28,0V19.4"/>
<path class="d c1" d="M0-0.9h0M1,20.1h0M2-6.6h0M3-1h0M4,9.7h0M5,15.2h0M6,7h0M7-0.8h0M8-1.9h0M9,10h0M10,12h0M11-5.5h0M12-2.3h0M13,4.3h0M14-0.7h0M15,1.4h0M16,7.1h0M17,1.2h0M18-5.7h0M19-2.2h0M20,5.9h0M21,5.4h0M22,6.6h0M23,6.4h0M24,12.5h0M25-5.6h0M26,3.4h0M27,9.7h0M28,19.4h0M29,21.3h0"/>
<path class="s c2" d="M4,0V19.3M29,0V-21.5"/>
<path class="d c2" d="M0,2.1h0M1,8.2h0M2-7.5h0M3,9.2h0M4,19.3h0M5-4.7h0M6-1.8h0M7,11.5h0M8,2.4h0M9-11.2h0M10-5.5h0M11,0.9h0M12,2.1h0M13-3.5h0M14,0.3h0M15,7.6h0M16,4.9h0M17-10h0M18,0.2h0M19,1.2h0M20-8.3h0M21,4.7h0M22-1.4h0M23-8h0M24-1.7h0M25,9.2h0M26,9.1h0M27,2.8h0M28-5.9h0M29-21.5h0"/>
<path class="s c3" d="M2,0V-23.3M12,0V25.4M19,0V-16M23,0V22.4M25,0V-41.5"/>
<path class="d c3" d="M0-8.9h0M1,23.3h0M2-23.3h0M3,31.3h0M4-22.9h0M5-8.5h0M6-6.1h0M7-8.7h0M8,10.9h0M9-20.2h0M10,24.1h0M11-1.4h0M12,25.4h0M13,4.1h0M14,20.1h0M15,4.5h0M16-0.6h0M17-1.2h0M18,10.1h0M19-16h0M20-2.9h0M21-12.2h0M22,13.9h0M23,22.4h0M24-10h0M25-41.5h0M26-23.5h0M27,1.5h0M28,39.3h0M29-55h0"/>
<path class="d c0" d="M0-5.6h0M1,12.9h0M2,5.1h0M3,14.4h0M4-5.3h0M5-17.8h0M6,9.2h0M7,3.7h0M8,9.3h0M9,9h0M10,10h0M11,10h0M12-13.8h0M13,0h0M14,7.4h0M15,5h0M16,0.8h0M17-1.1h0M18-18.4h0M19-13.7h0M20-7.5h0M21,6.3h0M22-18.5h0M23,5.5h0M24,8.9h0M25-3.8h0M26,12.8h0M27-25.7h0M28,21.5h0M29-40.2h0"/>
<path class="s c1" d="M4,0V17.6"/>
<path class="d c1" d="M0,8.4h0M1-2.6h0M2-7h0M3,2.4h0M4,17.6h0M5,11h0M6-0.1h0M7,7.5h0M8,6.6h0M9-7.9h0M10,5.1h0M11,8.4h0M12-2.8h0M13,5.1h0M14-8.4h0M15-2.6h0M16-2.6h0M17,3.2h0M18-2.9h0M19,4.4h0M20-1.1h0M21,3.3h0M22,3.8h0M23-2.3h0M24,1.2h0M25,8.4h0M26-1h0M27-4.7h0M28,10.9h0M29,24.6h0"/>
<path class="s c2" d="M1,0V17.9M13,0V12.5M17,0V-17.7"/>
<path class="d c2" d="M0,16.1h0M1,17.9h0M2,5.5h0M3,3.4h0M4,3.1h0M5-8.6h0M6,11.5h0M7-0.6h0M8,8.6h0M9-7.4h0M10-1h0M11,11.1h0M12-4.9h0M13,12.5h0M14,7.2h0M15-2.1h0M16,8h0M17-17.7h0M18,5.5h0M19,4.9h0M20-5.9h0M21,8.9h0M22,8.9h0M23,5.6h0M24-11.6h0M25-8h0M26,4.5h0M27-9.9h0M28,15.5h0M29,0.9h0"/>
<path class="s c3" d="M7,0V25.6M12,0V-12.8M20,0V19.8M26,0V-49.6M28,0V42.1"/>
<path class="d c3" d="M0,16.8h0M1-0.2h0M2,21.5h0M3,4.1h0M4-11.4h0M5-10.2h0M6,17.5h0M7,25.6h0M8,16.9h0M9-23h0M10,17.2h0M11,17.9h0M12-12.8h0M13-7.1h0M14-13.9h0M15,0.5h0M16,22.7h0M17-5.5h0M18-1.5h0M19,15.5h0M20,19.8h0M21,8.4h0M22,18.2h0M23-19.4h0M24-3.8h0M25-3.9h0M26-49.6h0M27,8.8h0M28,42.1h0M29-47.1h0"/>
<path class="s c0" d="M27,0V30"/>
<path class="d c0" d="M0,5.4h0M1-27.4h0M2-8.6h0M3,10.4h0M4,21.3h0M5-21.6h0M6,2.3h0M7,1.2h0M8,0.4h0M9-4.1h0M10-12.8h0M11,1.2h0M12-6.1h0M13-6.7h0M14-5.4h0M15-4.8h0M16-0.3h0M17-2.8h0M18,7.5h0M19,2.2h0M20-3.4h0M21-0.5h0M22-20.7h0M23-11.9h0M24,4.3h0M25-0.9h0M26-11.4h0M27,30h0M28-2.8h0M29-3.7h0"/>
<path class="s c1" d="M25,0V-13.5"/>
<path class="d c1" d="M0,17.4h0M1,12.6h0M2-5.5h0M3,17.4h0M4,12h0M5,3h0M6-7.9h0M7,5.3h0M8,1.3h0M9-10.1h0M10,5.6h0M11,5.8h0M12,4.2h0M13,8.5h0M14,1h0M15,9.3h0M16-1.5h0M17,6h0M18-6.5h0M19,7.6h0M20-8.1h0M21-7.1h0M22,9.1h0M23,10.1h0M24,2.1h0M25-13.5h0M26,1.3h0M27-2.8h0M28,5.5h0M29,4.5h0"/>
<path class="s c2" d="M3,0V20.6M24,0V-13.8"/>
<path class="d c2" d="M0,8.1h0M1,1.6h0M2,6.5h0M3,20.6h0M4-3.8h0M5,9.2h0M6,10.3h0M7-3.9h0M8,4.2h0M9-5.4h0M10,0.3h0M11,6.8h0M12,1.2h0M13,10.8h0M14-7.8h0M15,0.7h0M16,10.2h0M17,0.5h0M18,4.6h0M19,3.1h0M20-0.3h0M21-3h0M22-3.4h0M23-3.9h0M24-13.8h0M25-0.8h0M26,6.3h0M27,6.5h0M28,7.5h0M29,9.2h0"/>
<path class="s c3" d="M8,0V25.6M10,0V-12.8M11,0V27.6M23,0V-26.5M25,0V28.6M27,0V-72.6"/>
<path class="d c3" d="M0,25h0M1,17.8h0M2-0.5h0M3-17.7h0M4-18.5h0M5,18.2h0M6-9.6h0M7-1.2h0M8,25.6h0M9,11.8h0M10-12.8h0M11,27.6h0M12,18.2h0M13-12.9h0M14,7.6h0M15,19.1h0M16,2.1h0M17-10.2h0M18-2.5h0M19,17.6h0M20-14.2h0M21-8.6h0M22,1.8h0M23-26.5h0M24-1.8h0M25,28.6h0M26,9.9h0M27-72.6h0M28,1.2h0M29-35.4h0"/>
<path class="s c0" d="M0,0V-24.9M11,0V-21.4M27,0V-30.3"/>
<path class="d c0" d="M0-24.9h0M1-20.1h0M2,7.5h0M3,15.4h0M4-6.3h0M5-5.2h0M6,3.6h0M7-7.4h0M8,5.7h0M9-0.7h0M10-9.1h0M11-21.4h0M12-9.9h0M13,3.5h0M14-1.9h0M15,7h0M16-18.4h0M17-0.5h0M18,9.9h0M19,6h0M20-1.8h0M21,8h0M22-7.1h0M23-6.5h0M24,2.9h0M25,1h0M26,9.8h0M27-30.3h0M28,30.8h0M29-45.3h0"/>
<path class="s c1" d="M4,0V19.3M16,0V12.7"/>
<path class="d c1" d="M0,9.9h0M1,1.1h0M2,6.2h0M3,7.3h0M4,19.3h0M5,4h0M6,3.3h0M7-4.7h0M8-3.6h0M9,2.3h0M10,0.3h0M11-1.6h0M12,6.1h0M13-4.3h0M14,3.7h0M15,0.9h0M16,12.7h0M17-1.9h0M18-3.3h0M19,10.1h0M20-2.1h0M21-6.2h0M22-3.9h0M23-2.9h0M24,7.4h0M25-2.6h0M26-3.9h0M27,5.1h0M28-13h0M29-0.3h0"/>
<path class="d c2" d="M0-8.9h0M1-1.2h0M2,3.2h0M3,7.8h0M4,5.7h0M5,10.1h0M6-7.8h0M7-10.2h0M8-7.1h0M9,3.5h0M10,1.2h0M11-5.3h0M12,8.9h0M13-8h0M14-5.1h0M15,5h0M16,8.7h0M17-11h0M18-9h0M19,10.1h0M20,4.2h0M21,4.2h0M22,4.2h0M23-5.7h0M24-9.5h0M25,0.1h0M26-9.6h0M27,13.2h0M28,2.3h0M29,11.9h0"/>
<path class="s c3" d="M0,0V-87.4M5,0V-19.1M28,0V-68.6"/>
<path class="d c3" d="M0-87.4h0M1-10.5h0M2,27.8h0M3,0.7h0M4-15.7h0M5-19.1h0M6,11.8h0M7,9.3h0M8,4.7h0M9,1.4h0M10,12.9h0M11,23.8h0M12,4.4h0M13,21.9h0M14,10.9h0M15,13.5h0M16-2h0M17,6.2h0M18-16.1h0M19,2.7h0M20-3.9h0M21,13.6h0M22-11.2h0M23,3.2h0M24-18.3h0M25,0.2h0M26,7.5h0M27-9.2h0M28-68.6h0M29,38.6h0"/>
<path class="s c0" d="M4,0V28M9,0V-13.5"/>
<path class="d c0" d="M0,44.8h0M1,11.1h0M2,11.8h0M3,3.4h0M4,28h0M5-12.1h0M6,10.4h0M7,8.8h0M8-0.5h0M9-13.5h0M10,2.3h0M11,4.7h0M12-16.1h0M13,4.3h0M14,8.2h0M15-2.5h0M16-7.4h0M17-4.4h0M18,4.7h0M19-1.7h0M20-4.9h0M21,4.8h0M22-10.6h0M23,3h0M24,7.8h0M25,4.3h0M26-19.5h0M27,1h0M28-29.5h0M29-8.9h0"/>
<path class="s c1" d="M1,0V-13.5M27,0V16"/>
<path class="d c1" d="M0-2.2h0M1-13.5h0M2,5.3h0M3,3.3h0M4,13.8h0M5-0.6h0M6-0.7h0M7,11.5h0M8-11.2h0M9-1.5h0M10-3.5h0M11-3h0M12,8.2h0M13-2.7h0M14,7.2h0M15,3.3h0M16-0.1h0M17-0.1h0M18,1.4h0M19,0.2h0M20-6.5h0M21-2.2h0M22,14.8h0M23-3.8h0M24,4.6h0M25,4.1h0M26-5.8h0M27,16h0M28-18.3h0M29,6.5h0"/>
<path class="s c2" d="M0,0V-65M16,0V13.7M24,0V-12.6M25,0V-13.5"/>
<path class="d c2" d="M0-65h0M1,13h0M2-10.4h0M3-7.3h0M4-6.4h0M5,0.1h0M6,1.6h0M7,6.9h0M8,3.4h0M9,0.3h0M10,3.4h0M11,9h0M12-0.2h0M13,5.1h0M14,8.1h0M15,0.1h0M16,13.7h0M17-15.4h0M18-3.3h0M19-0.1h0M20-1.2h0M21,2.6h0M22-0.9h0M23-7.2h0M24-12.6h0M25-13.5h0M26,3.5h0M27,8.7h0M28,6.1h0M29-15.8h0"/>
<path class="s c3" d="M10,0V-15M17,0V18.4M24,0V21.5"/>
<path class="d c3" d="M0-19.4h0M1,14.7h0M2,25.2h0M3,19h0M4-8.9h0M5-14.2h0M6-17.3h0M7-3h0M8-13.7h0M9,19.8h0M10-15h0M11-11.3h0M12,19.8h0M13,2.1h0M14-11.2h0M15-6.4h0M16,18.8h0M17,18.4h0M18,13.7h0M19,9.6h0M20,11.1h0M21,7.5h0M22,14.9h0M23-5.3h0M24,21.5h0M25-16h0M26-21.8h0M27-13h0M28,4.4h0M29-28.6h0"/>
<path class="s c0" d="M18,0V-31.6M24,0V-12.6"/>
<path class="d c0" d="M0,34.1h0M1-13.9h0M2,2.4h0M3-10.3h0M4,24.3h0M5,5h0M6-4.5h0M7,10.2h0M8,1.5h0M9-7.1h0M10,1h0M11,1.9h0M12-15.3h0M13-1.7h0M14,6.6h0M15-12.5h0M16,4.4h0M17,0.1h0M18-31.6h0M19-16.7h0M20,0.2h0M21-11.4h0M22-13.2h0M23-7.5h0M24-12.6h0M25,6.5h0M26-15.7h0M27,11.6h0M28-8.5h0M29-19.8h0"/>
<path class="d c1" d="M0,14.3h0M1,8.8h0M2,11.5h0M3-8h0M4-9.7h0M5-1.6h0M6,6.1h0M7,0.5h0M8,7.6h0M9-4.6h0M10,9.4h0M11-4h0M12,8.9h0M13-1.7h0M14,8.8h0M15-3.9h0M16-4.7h0M17-0.7h0M18,7.6h0M19-0.9h0M20-4.5h0M21,5h0M22-2.9h0M23,0.5h0M24-3h0M25,2.2h0M26,6.1h0M27,8.6h0M28-16.7h0M29-1.9h0"/>
<path class="s c2" d="M2,0V15.2M13,0V13.7M26,0V12.1"/>
<path class="d c2" d="M0-0.9h0M1,10.7h0M2,15.2h0M3,12.7h0M4-5.1h0M5,4h0M6,7h0M7,1.9h0M8-11.2h0M9,2.6h0M10-0.2h0M11-4h0M12-5.8h0M13,13.7h0M14-6.3h0M15,5.6h0M16-5.8h0M17-3.9h0M18,8.2h0M19-7.2h0M20,8.9h0M21-6.9h0M22-5.5h0M23-10.8h0M24,7.1h0M25,3.2h0M26,12.1h0M27-1.3h0M28,11.1h0M29-2.7h0"/>
<path class="s c3" d="M8,0V23.1M22,0V22.4M29,0V-86.3"/>
<path class="d c3" d="M0-51h0M1,19.6h0M2,18.5h0M3-13h0M4,18.7h0M5-5.6h0M6-19.3h0M7-10.8h0M8,23.1h0M9,13.7h0M10-10.9h0M11,4.6h0M12-1.4h0M13,7.9h0M14-3.1h0M15-9.7h0M16-3.5h0M17,1.3h0M18-12.3h0M19,5.6h0M20-7.8h0M21,1.7h0M22,22.4h0M23-3.2h0M24,0.5h0M25-6h0M26-19.8h0M27-21.3h0M28,13.3h0M29-86.3h0"/>
<path class="s c0" d="M15,0V-18.6M16,0V-19.6M19,0V-22.9M26,0V17.5"/>
<path class="d c0" d="M0,22.8h0M1,0.3h0M2,1h0M3,13h0M4-10h0M5-14.7h0M6-7.6h0M7-4.8h0M8,8.6h0M9,0.6h0M10,8.1h0M11-2.6h0M12,4.6h0M13-0.8h0M14-6.1h0M15-18.6h0M16-19.6h0M17,5h0M18-7.4h0M19-22.9h0M20-2.8h0M21-22.5h0M22,6h0M23-4.5h0M24-9.4h0M25-2.7h0M26,17.5h0M27-7.6h0M28,33.4h0M29-11.2h0"/>
<path class="s c1" d="M5,0V14"/>
<path class="d c1" d="M0,4.2h0M1,3.9h0M2-9.6h0M3,4.5h0M4,14.7h0M5,14h0M6,4.9h0M7,9.3h0M8,0.6h0M9,3.6h0M10,6.2h0M11-0.8h0M12,3.3h0M13,7.7h0M14,8.3h0M15,7.6h0M16,10.3h0M17-1.1h0M18-1.5h0M19-3.6h0M20-4.9h0M21,6.3h0M22,2.1h0M23-4.8h0M24,13.9h0M25,5.6h0M26,10.1h0M27-9.6h0M28-4.6h0M29,23.5h0"/>
<path class="s c2" d="M0,0V18.1"/>
<path class="d c2" d="M0,18.1h0M1-6.7h0M2-6.5h0M3,17.5h0M4,11h0M5-3.5h0M6-8.8h0M7-2.1h0M8-6.2h0M9-4.5h0M10-3.4h0M11,10.4h0M12,7.4h0M13,9.1h0M14,6h0M15,2.5h0M16-6.8h0M17,1.7h0M18,3.2h0M19,1.8h0M20-3.5h0M21-4.9h0M22-8.1h0M23,0.6h0M24-2.6h0M25-9.1h0M26,5.3h0M27,11.7h0M28-8h0M29,13.2h0"/>
<path class="s c3" d="M1,0V-30M5,0V30.4M11,0V24.6M16,0V-15M19,0V22.4M22,0V-15.7M29,0V71.6"/>
<path class="d c3" d="M0,21.2h0M1-30h0M2-7.1h0M3,17.2h0M4-4.4h0M5,30.4h0M6,13.6h0M7,1.1h0M8,1.8h0M9-1.2h0M10,23h0M11,24.6h0M12,9.3h0M13-5.3h0M14-8.5h0M15,16.4h0M16-15h0M17,9.8h0M18,1.8h0M19,22.4h0M20,5.9h0M21-13.4h0M22-15.7h0M23,15.9h0M24,19.7h0M25,15.6h0M26,20.7h0M27-1.5h0M28-33h0M29,71.6h0"/>
<path class="s c0" d="M21,0V-25.2"/>
<path class="d c0" d="M0,25.9h0M1-15.9h0M2,12.3h0M3-1.1h0M4-1.6h0M5-22.9h0M6-2.6h0M7-8.9h0M8-9h0M9,6.3h0M10-11.6h0M11,8.4h0M12-3h0M13-6h0M14-8.7h0M15,0.4h0M16,3.2h0M17,8.5h0M18-27.3h0M19,3.3h0M20-0.3h0M21-25.2h0M22-4.4h0M23,10.1h0M24,10.2h0M25,11.6h0M26,5.7h0M27-18.1h0M28,7.5h0M29,5.1h0"/>
<path class="s c1" d="M2,0V-12M26,0V13.7"/>
<path class="d c1" d="M0-8h0M1,15.9h0M2-12h0M3,15.4h0M4,11.2h0M5,7.7h0M6,0.7h0M7-10.2h0M8,11.5h0M9-11.9h0M10-2.5h0M11,3.8h0M12-1.4h0M13,10.7h0M14-2.7h0M15,6.9h0M16-3.1h0M17,2.1h0M18-5.1h0M19,6.4h0M20-5.8h0M21-0.9h0M22,4.9h0M23-8.1h0M24,10.9h0M25-5.2h0M26,13.7h0M27,3.3h0M28-11.1h0M29,1.5h0"/>
<path class="s c2" d="M3,0V-15.1M9,0V-12.1"/>
<path class="d c2" d="M0-9.6h0M1-7.7h0M2,0.1h0M3-15.1h0M4,14.6h0M5,11.6h0M6,0.2h0M7-4.8h0M8-0.3h0M9-12.1h0M10,5.9h0M11-6h0M12,2.9h0M13,3.5h0M14,3.5h0M15-3.2h0M16,9.2h0M17,5.7h0M18,7.3h0M19-3.5h0M20,3.5h0M21-2.1h0M22-0.1h0M23-6.3h0M24-6.3h0M25-5.2h0M26-2.9h0M27,7.2h0M28,0.6h0M29-8.6h0"/>
<path class="s c3" d="M13,0V-14.6M18,0V-20"/>
<path class="d c3" d="M0-40.1h0M1-8.2h0M2,9h0M3-1.4h0M4,16.1h0M5,0.8h0M6-4.2h0M7-17.8h0M8,2.9h0M9-16.2h0M10-0.6h0M11-8.1h0M12,3.3h0M13-14.6h0M14,16.4h0M15,3.6h0M16,13.7h0M17-6.4h0M18-20h0M19-6.2h0M20-0.4h0M21-5.4h0M22-4.9h0M23-16.7h0M24,4.7h0M25,13.6h0M26,11.8h0M27,26.5h0M28,21h0M29,26.9h0"/>
<path class="s c0" d="M3,0V-13.5M29,0V16"/>
<path class="d c0" d="M0,46.4h0M1-8h0M2,6.2h0M3-13.5h0M4,6.6h0M5,0.9h0M6,11.5h0M7,6h0M8,7.8h0M9-2.1h0M10,7.4h0M11-3.6h0M12,0.7h0M13,7.7h0M14,3.4h0M15-16.1h0M16-9.3h0M17-1.8h0M18-14.9h0M19-5.1h0M20,10.1h0M21,0.5h0M22-5.7h0M23,0.3h0M24-0.8h0M25,8.1h0M26-16.6h0M27-5.9h0M28-10.9h0M29,16h0"/>
<path class="s c1" d="M24,0V17"/>
<path class="d c1" d="M0,15.3h0M1-10.6h0M2-2.9h0M3,11.7h0M4,5.7h0M5-2.4h0M6-5.2h0M7,4.6h0M8-5.3h0M9,7.1h0M10-1.9h0M11,9h0M12,2h0M13,6h0M14-7.1h0M15,10.1h0M16,4.8h0M17-3h0M18,5.5h0M19,5.6h0M20-9.1h0M21,8.1h0M22,7.3h0M23,3.8h0M24,17h0M25-11h0M26-2.5h0M27,1h0M28-1.5h0M29,27.9h0"/>
<path class="s c2" d="M1,0V-13.5M2,0V-12M17,0V-19.5M28,0V21.9M29,0V25.8"/>
<path class="d c2" d="M0,5.4h0M1-13.5h0M2-12h0M3-0.5h0M4,13.6h0M5-5.7h0M6,0.8h0M7-1.3h0M8-5.6h0M9,1.6h0M10,11.8h0M11,3.6h0M12,8.4h0M13-5.7h0M14,9.6h0M15,1.6h0M16,11.9h0M17-19.5h0M18,10.1h0M19,2.4h0M20,7.6h0M21,5.5h0M22,6h0M23,6.5h0M24,9.2h0M25,7.1h0M26-7.6h0M27-10.5h0M28,21.9h0M29,25.8h0"/>
<path class="s c3" d="M3,0V45.7M7,0V-19.8M11,0V-16M18,0V20.3M26,0V24.9"/>
<path class="d c3" d="M0,35.1h0M1,3h0M2,13.9h0M3,45.7h0M4,13h0M5,9.7h0M6,7.4h0M7-19.8h0M8,20.4h0M9-13.3h0M10,19.1h0M11-16h0M12,15.1h0M13,19.9h0M14-15.4h0M15,15.5h0M16-11.1h0M17-4.1h0M18,20.3h0M19,0.6h0M20-11.6h0M21,15.8h0M22-12.8h0M23,7.8h0M24,18.1h0M25-19.8h0M26,24.9h0M27,18.7h0M28-6.1h0M29-21.1h0"/>
<path class="s c0" d="M5,0V-26.7M12,0V-22.4"/>
<path class="d c0" d="M0-21.7h0M1,3.2h0M2-5.2h0M3-4.8h0M4,22.9h0M5-26.7h0M6-9.7h0M7,0.2h0M8-7h0M9,2.2h0M10-10.7h0M11-9.9h0M12-22.4h0M13-3.1h0M14,0.4h0M15-14.5h0M16-12.7h0M17-2.1h0M18-21.9h0M19,8h0M20-8.1h0M21-5h0M22-9.7h0M23,8.6h0M24,1.4h0M25-8.2h0M26-5.3h0M27,9.6h0M28,28.1h0M29-13.3h0"/>
<path class="d c1" d="M0-3.2h0M1,6.5h0M2-0.1h0M3,14.5h0M4,2.4h0M5,9.9h0M6,8.7h0M7,7.1h0M8,10.2h0M9-9.2h0M10,10.8h0M11,9.9h0M12-4.9h0M13,9.2h0M14-5.3h0M15,8.1h0M16,8h0M17,3.8h0M18,4.7h0M19-7.2h0M20,3.5h0M21,8.8h0M22-5h0M23-6.2h0M24,13h0M25-7.8h0M26-1.6h0M27-5.8h0M28-15h0M29,10.3h0"/>
<path class="s c2" d="M16,0V12.7"/>
<path class="d c2" d="M0-14.7h0M1-11.7h0M2-1.9h0M3-12.1h0M4-2.9h0M5,6.2h0M6-0.9h0M7,2.5h0M8,1.5h0M9-2.1h0M10,4.9h0M11,7.5h0M12,0.5h0M13,9.9h0M14-2.8h0M15,10.1h0M16,12.7h0M17-8.4h0M18-7h0M19,4.6h0M20,1.2h0M21-6h0M22,5.4h0M23,1.9h0M24-8.5h0M25-11.1h0M26-0.6h0M27,0.4h0M28,12.4h0M29-0.6h0"/>
<path class="s c3" d="M1,0V44.7M2,0V33.8M16,0V-12.8M21,0V-20"/>
<path class="d c3" d="M0,2.4h0M1,44.7h0M2,33.8h0M3,25.3h0M4-1.3h0M5,6.6h0M6,2.2h0M7,2h0M8-0.6h0M9-2.9h0M10-2.9h0M11-10.4h0M12-11.1h0M13,13.1h0M14,6.2h0M15-7.6h0M16-12.8h0M17,3.6h0M18-9.7h0M19-12.6h0M20,2.3h0M21-20h0M22,0.2h0M23-10.6h0M24-5.5h0M25,9.7h0M26,4.8h0M27-6.2h0M28-39.7h0M29,35.8h0"/>
<path class="s c0" d="M25,0V-13.5"/>
<path class="d c0" d="M0-16.8h0M1-30.1h0M2,4.1h0M3,6.1h0M4-7.8h0M5-16.2h0M6-5.3h0M7,4.6h0M8-5.6h0M9,10.1h0M10-3.5h0M11-17h0M12,8.7h0M13,2.4h0M14-3h0M15,10h0M16,6.2h0M17,7.9h0M18-3.1h0M19-6.1h0M20,2h0M21-1.9h0M22-8.6h0M23,7h0M24,5.1h0M25-13.5h0M26,15.1h0M27-23.3h0M28,16.2h0M29,10.5h0"/>
<path class="s c1" d="M25,0V12.9M27,0V14.5"/>
<path class="d c1" d="M0,5.6h0M1,5.5h0M2,7.1h0M3,12.7h0M4-6.4h0M5-3.7h0M6,9.4h0M7-2.8h0M8,3.5h0M9,1.6h0M10,1.3h0M11,4.4h0M12,10.6h0M13-8h0M14,4h0M15-4.4h0M16,9.4h0M17,7.7h0M18-7.3h0M19-0.1h0M20,0.5h0M21,9.4h0M22-0.3h0M23-10.9h0M24-1.2h0M25,12.9h0M26,5.3h0M27,14.5h0M28-8h0M29,15h0"/>
<path class="s c2" d="M3,0V18.3M9,0V-13.5M28,0V-22.5"/>
<path class="d c2" d="M0-17.5h0M1,12h0M2,1.1h0M3,18.3h0M4,2.4h0M5-1.8h0M6-2.6h0M7,1h0M8,7h0M9-13.5h0M10,9.4h0M11,8.4h0M12,4.9h0M13,11.8h0M14-9.6h0M15,2.1h0M16,7.2h0M17-7.8h0M18,6h0M19-4.7h0M20-6.5h0M21,3.1h0M22,3.6h0M23-2.3h0M24,3.4h0M25-11.9h0M26-1.9h0M27-5h0M28-22.5h0M29,3.7h0"/>
<path class="s c3" d="M10,0V28.6M13,0V-17.7M16,0V28M24,0V-30.6"/>
<path class="d c3" d="M0-26.8h0M1-20.4h0M2-9.1h0M3-20.1h0M4,30.5h0M5,13.1h0M6,20.7h0M7,18.9h0M8-20.2h0M9,7.6h0M10,28.6h0M11,10h0M12-7.9h0M13-17.7h0M14,14.9h0M15-3.7h0M16,28h0M17,7.1h0M18,5.5h0M19-3.5h0M20,7.7h0M21,5.2h0M22-9.9h0M23-21.9h0M24-30.6h0M25,7h0M26,16.5h0M27,21.8h0M28-36.1h0M29-10.5h0"/>
<path class="s c0" d="M3,0V18.4M10,0V-18.8M18,0V14M28,0V-33.3"/>
<path class="d c0" d="M0,41h0M1,4.3h0M2,10.6h0M3,18.4h0M4,13.7h0M5-10.3h0M6-10.8h0M7-8.2h0M8,6.6h0M9,4.2h0M10-18.8h0M11-11h0M12-18.8h0M13,5.1h0M14,5h0M15-5.8h0M16-16.4h0M17,6.2h0M18,14h0M19,4.6h0M20,1h0M21-6.7h0M22,1.3h0M23-4.1h0M24-10.4h0M25-10.9h0M26-20.8h0M27,5.9h0M28-33.3h0M29-31.9h0"/>
<path class="s c1" d="M22,0V15.5"/>
<path class="d c1" d="M0-4.2h0M1-8.1h0M2-4.1h0M3-1.8h0M4-2.7h0M5,0h0M6,1.5h0M7,2.1h0M8-6.2h0M9-2.4h0M10,2.1h0M11,10.5h0M12,1.4h0M13,9.9h0M14,5h0M15,3.8h0M16,3.7h0M17,5.2h0M18-9h0M19-5.7h0M20,4h0M21-3.1h0M22,15.5h0M23-9.9h0M24,11.4h0M25,7.4h0M26,11.1h0M27,4.3h0M28-6.1h0M29,18.2h0"/>
<path class="s c2" d="M0,0V-20M5,0V15.2M11,0V12.4M25,0V12.9"/>
<path class="d c2" d="M0-20h0M1-2.6h0M2,11.5h0M3-10.6h0M4,12.7h0M5,15.2h0M6-10.8h0M7-6.3h0M8,10.3h0M9-10.2h0M10,2h0M11,12.4h0M12-3.8h0M13-1.9h0M14,4h0M15-0.8h0M16-3.2h0M17-12.3h0M18-4h0M19-2.9h0M20-7.6h0M21,7.9h0M22,8.5h0M23,10.1h0M24-4.4h0M25,12.9h0M26-6.5h0M27,10.6h0M28-16.9h0M29,24.4h0"/>
<path class="s c3" d="M6,0V-23.9M16,0V30.5M26,0V30.5M27,0V32"/>
<path class="d c3" d="M0-31.4h0M1-23.2h0M2,2h0M3-10.6h0M4,24.9h0M5-3.9h0M6-23.9h0M7-12.6h0M8-18.4h0M9-12.3h0M10,0.5h0M11-5h0M12-0.6h0M13,5.9h0M14,0.7h0M15,10.1h0M16,30.5h0M17,2.5h0M18-10.8h0M19,6.7h0M20-17.7h0M21-1.7h0M22,11.9h0M23-12.9h0M24,15.2h0M25-17.9h0M26,30.5h0M27,32h0M28-10.6h0M29,1.5h0"/>
<path class="s c0" d="M1,0V16.3M5,0V-24.8M13,0V13.7"/>
<path class="d c0" d="M0,18.8h0M1,16.3h0M2-4h0M3-3.8h0M4,9.4h0M5-24.8h0M6,6.6h0M7-5.8h0M8,3.9h0M9-5.3h0M10-14.3h0M11,5.6h0M12-0.4h0M13,13.7h0M14,2.7h0M15-10.1h0M16-2.8h0M17,3.8h0M18,1.2h0M19-11.7h0M20,7.5h0M21-16.1h0M22,8h0M23,6.1h0M24-4.4h0M25,2.2h0M26,7.1h0M27-3h0M28,11.9h0M29-21.7h0"/>
<path class="s c1" d="M3,0V-13.1M10,0V12.9M16,0V13.7"/>
<path class="d c1" d="M0,11.1h0M1-11.9h0M2,4h0M3-13.1h0M4-11.7h0M5-9.9h0M6-1.9h0M7,3.5h0M8,5.1h0M9-5.4h0M10,12.9h0M11,1.6h0M12-0.7h0M13,11.6h0M14,0.1h0M15-5.4h0M16,13.7h0M17,2.8h0M18-2.2h0M19,7h0M20,7.5h0M21-9h0M22,10.8h0M23-9.2h0M24-5h0M25,9h0M26,9.3h0M27-3.7h0M28,7.2h0M29,16.7h0"/>
<path class="d c2" d="M0,12.9h0M1,15.8h0M2,9.7h0M3-2h0M4-10.7h0M5-2.4h0M6-4.4h0M7-8h0M8-9h0M9,11.5h0M10-2.4h0M11-0.2h0M12,6.7h0M13,2.2h0M14,1.9h0M15,6.9h0M16,2.3h0M17-3.2h0M18-1.5h0M19,6.6h0M20-9h0M21,10.3h0M22-2.8h0M23-11.9h0M24-7.6h0M25,1h0M26,2.2h0M27,3.8h0M28,4.4h0M29,19.9h0"/>
<path class="s c3" d="M6,0V25.6M22,0V19.7M23,0V-23.6"/>
<path class="d c3" d="M0-0.5h0M1,26.1h0M2,12h0M3,29.6h0M4,4.4h0M5,25.9h0M6,25.6h0M7,12.2h0M8-5h0M9,17.8h0M10,2.7h0M11,17h0M12,7.2h0M13,26.3h0M14-4.5h0M15,11.1h0M16,6.8h0M17,13.6h0M18-14.7h0M19,18.8h0M20-9.3h0M21,12.1h0M22,19.7h0M23-23.6h0M24-23.5h0M25,21.2h0M26-12.9h0M27,11.9h0M28-3.1h0M29,30.7h0"/>
<path class="s c0" d="M13,0V12.3M16,0V-21.4M26,0V-26.6"/>
<path class="d c0" d="M0,2.6h0M1-10.1h0M2-1.8h0M3-9.1h0M4,19.5h0M5-13h0M6,7.4h0M7,9.6h0M8-1.3h0M9,7.3h0M10-15.5h0M11,7.1h0M12-4.6h0M13,12.3h0M14,1.8h0M15-3.7h0M16-21.4h0M17,3.5h0M18-23.4h0M19-12.9h0M20,4.1h0M21-10.7h0M22,3.8h0M23,2.1h0M24-6.3h0M25,7.4h0M26-26.6h0M27,21.3h0M28,3.4h0M29-43.7h0"/>
<path class="d c1" d="M0,6.9h0M1,8.2h0M2-0.7h0M3,9h0M4,7.5h0M5,7.3h0M6-2.7h0M7-2.2h0M8-9.2h0M9,8h0M10,8.1h0M11,5.4h0M12-3.6h0M13-6h0M14-3.5h0M15,2h0M16-0.9h0M17,5.4h0M18,9h0M19,5.2h0M20,6.4h0M21,2.3h0M22,0.5h0M23,9h0M24-2.2h0M25-0.6h0M26-6.8h0M27-10.9h0M28,2.8h0M29-7.6h0"/>
<path class="s c2" d="M29,0V29.2"/>
<path class="d c2" d="M0,10.3h0M1,13.9h0M2-9.7h0M3-3.6h0M4,0.5h0M5,12.9h0M6,3.4h0M7,9.2h0M8,11.5h0M9-8.4h0M10,4h0M11-1h0M12-4.3h0M13-0.8h0M14,8.9h0M15-2.7h0M16,4h0M17,2.8h0M18-5.8h0M19-4.2h0M20-2.8h0M21,7h0M22-4.9h0M23,8.7h0M24,0h0M25-10.2h0M26-5.8h0M27-4.2h0M28-9.7h0M29,29.2h0"/>
<path class="s c3" d="M6,0V-21.4M11,0V-13.6M21,0V-17.1M28,0V-50"/>
<path class="d c3" d="M0,30.4h0M1,10.9h0M2-20.6h0M3,35.1h0M4-20.3h0M5,4.7h0M6-21.4h0M7,6.2h0M8,18.4h0M9-7.6h0M10,20.7h0M11-13.6h0M12,1.3h0M13-1.9h0M14,2.6h0M15,17.4h0M16,11.9h0M17-7.3h0M18,15.1h0M19-9.6h0M20,0.9h0M21-17.1h0M22,2.8h0M23,1.1h0M24-14.7h0M25,18.3h0M26-6h0M27-18.7h0M28-50h0M29,13h0"/>
<path class="s c0" d="M0,0V52M10,0V-20.5M26,0V-29.5M27,0V-34M29,0V-60.5"/>
<path class="d c0" d="M0,52h0M1-24.2h0M2,9.4h0M3,9h0M4,2.7h0M5-8.8h0M6,5.8h0M7-3.1h0M8-3.7h0M9-11.8h0M10-20.5h0M11-7.5h0M12,3.1h0M13-4.1h0M14,1.1h0M15,1.6h0M16,5.2h0M17,0.4h0M18-25.9h0M19-9.3h0M20,3.4h0M21-14.4h0M22,2.2h0M23-2.9h0M24,0.1h0M25,0.3h0M26-29.5h0M27-34h0M28-0.4h0M29-60.5h0"/>
<path class="d c1" d="M0,12.1h0M1-3.7h0M2,8.6h0M3-6.1h0M4,8.8h0M5,13h0M6,10.3h0M7-5.5h0M8-8.3h0M9,4.6h0M10,7.2h0M11-4.4h0M12-5.6h0M13,3.3h0M14-1.2h0M15-2.1h0M16,0.5h0M17,8.4h0M18,0h0M19,2.4h0M20,1h0M21,0.7h0M22,13.9h0M23-7.1h0M24-0.3h0M25-3.9h0M26-8.7h0M27,1.7h0M28,12.3h0M29,30h0"/>
<path class="s c2" d="M26,0V13.7"/>
<path class="d c2" d="M0-7h0M1-9.9h0M2,7.2h0M3,6.2h0M4-1.3h0M5,2.4h0M6-9.7h0M7,5.2h0M8,0.7h0M9-3.6h0M10,6.6h0M11-2.1h0M12,9.8h0M13-6.7h0M14-4.6h0M15-1.4h0M16-4.1h0M17,10h0M18,1.8h0M19-2.3h0M20,5.8h0M21,6.3h0M22,4.7h0M23-3.2h0M24,11.4h0M25,2.4h0M26,13.7h0M27-0.1h0M28,14.6h0M29-17.9h0"/>
<path class="s c3" d="M3,0V40.4M13,0V30.5M18,0V-18M19,0V-13.5"/>
<path class="d c3" d="M0,12.4h0M1-25.5h0M2,6.9h0M3,40.4h0M4,1.5h0M5-1.3h0M6-1.5h0M7-6.8h0M8-8.7h0M9-9.6h0M10,6.1h0M11,8.2h0M12-9.6h0M13,30.5h0M14,9.5h0M15-8.6h0M16,24.3h0M17,8.4h0M18-18h0M19-13.5h0M20,9.6h0M21-10.7h0M22,9.4h0M23-7.1h0M24-12h0M25-10.3h0M26,19h0M27,6.6h0M28-17.4h0M29-25.2h0"/>
<path class="s c0" d="M0,0V-28M4,0V25.7M22,0V-23.7M27,0V26.1"/>
<path class="d c0" d="M0-28h0M1-3.5h0M2-10.6h0M3,5h0M4,25.7h0M5,4h0M6-3.7h0M7,7h0M8,3.4h0M9-9.2h0M10-1.3h0M11-12.3h0M12,6.3h0M13-4.8h0M14-0.6h0M15,3.1h0M16-8.6h0M17-3.9h0M18,2.8h0M19-7.4h0M20-6.6h0M21-18.9h0M22-23.7h0M23-9.9h0M24-8.4h0M25,5.3h0M26,10.9h0M27,26.1h0M28-5.9h0M29,7.3h0"/>
<path class="d c1" d="M0,1.4h0M1-1.4h0M2,1.3h0M3-11.9h0M4-7.7h0M5,9.2h0M6-8.8h0M7-6.4h0M8,9.3h0M9,9.2h0M10,10.1h0M11,11.1h0M12-4.4h0M13-3.6h0M14,2.1h0M15,6.3h0M16,8.5h0M17-5.4h0M18,6h0M19,3.9h0M20-3.3h0M21,11.4h0M22,5.7h0M23,7h0M24-3.6h0M25,0.2h0M26-7.7h0M27,6.4h0M28,0.5h0M29-3.3h0"/>
<path class="s c2" d="M3,0V-13.3M27,0V14.5M29,0V-24.8"/>
<path class="d c2" d="M0-3.8h0M1,5.6h0M2,10.8h0M3-13.3h0M4-0.8h0M5,11h0M6-7.2h0M7,6.1h0M8,7.6h0M9,5.1h0M10,8.1h0M11,9.6h0M12,6h0M13,5.9h0M14,2.5h0M15-3.7h0M16,6.5h0M17-5.5h0M18-2h0M19-1.5h0M20,0.4h0M21-1.6h0M22,10.1h0M23,2.8h0M24,5h0M25,11.1h0M26,7.4h0M27,14.5h0M28,8.8h0M29-24.8h0"/>
<path class="s c3" d="M0,0V62.6M7,0V-22.6M9,0V-29.9"/>
<path class="d c3" d="M0,62.6h0M1,31.2h0M2-2.3h0M3,6.7h0M4,22.4h0M5,3.1h0M6,14.8h0M7-22.6h0M8-16.1h0M9-29.9h0M10-6.2h0M11-3h0M12,11.8h0M13-11.6h0M14,3.7h0M15,5.6h0M16,5.1h0M17,11.3h0M18,18.6h0M19-2.4h0M20,4.4h0M21,10.3h0M22-6.8h0M23,10.5h0M24-20.3h0M25-13.6h0M26-14.8h0M27-2.9h0M28-44.3h0M29,16.5h0"/>
<path class="s c0" d="M1,0V-35M2,0V15.2M28,0V36.9"/>
<path class="d c0" d="M0-13h0M1-35h0M2,15.2h0M3,7.7h0M4,17.2h0M5-20h0M6,1.6h0M7-10.2h0M8,2.6h0M9,7.9h0M10-8.5h0M11-18.5h0M12-11.1h0M13,6.7h0M14-7.6h0M15-9.5h0M16-5.1h0M17,7.2h0M18-6.4h0M19-10.5h0M20-9h0M21-20h0M22-3.8h0M23,3.6h0M24-2.5h0M25-12h0M26-4.1h0M27,13.8h0M28,36.9h0M29-27h0"/>
<path class="s c1" d="M3,0V-15.1M11,0V12.4"/>
<path class="d c1" d="M0,16h0M1-6.4h0M2,3.1h0M3-15.1h0M4-0.5h0M5-7.3h0M6,7.5h0M7,8.6h0M8-4.4h0M9-0.4h0M10,8.9h0M11,12.4h0M12,0.6h0M13,2.7h0M14,9.9h0M15,4.3h0M16,10.8h0M17,6.7h0M18-8.1h0M19,1.8h0M20-10.1h0M21-1.7h0M22,1.2h0M23,1.8h0M24,7.9h0M25,11.2h0M26,0.1h0M27-1.4h0M28,3.6h0M29-10h0"/>
<path class="s c2" d="M1,0V20.1"/>
<path class="d c2" d="M0,11.8h0M1,20.1h0M2-8.3h0M3,15.7h0M4,8.9h0M5-6.5h0M6-5.4h0M7-2.9h0M8-1.9h0M9-6.2h0M10,10.9h0M11,2.9h0M12-0.6h0M13-0.3h0M14-8.3h0M15,4.6h0M16-1.8h0M17-2.1h0M18-6.6h0M19,9h0M20-2.1h0M21,9.6h0M22,1.2h0M23-9h0M24-3.5h0M25,10.3h0M26-3.9h0M27,5.4h0M28-3.2h0M29-20h0"/>
<path class="s c3" d="M2,0V-26.7M3,0V-33.6M6,0V22.4M27,0V-30"/>
<path class="d c3" d="M0-35.7h0M1,5.5h0M2-26.7h0M3-33.6h0M4,32.8h0M5,24.4h0M6,22.4h0M7-5.2h0M8-9.8h0M9,3.1h0M10,14.5h0M11,6.6h0M12,10.6h0M13,17.1h0M14,12.5h0M15,2h0M16,17.9h0M17-12h0M18,11.5h0M19,14h0M20,15.9h0M21-15.7h0M22-7.9h0M23-13.8h0M24-17.2h0M25-27h0M26-16.5h0M27-30h0M28-30h0M29-14.9h0"/>
<path class="s c0" d="M3,0V-15.1M24,0V-13.8M26,0V20M29,0V20"/>
<path class="d c0" d="M0,37.1h0M1-17.1h0M2,8.6h0M3-15.1h0M4,3.8h0M5-3.2h0M6,0.1h0M7,5.4h0M8-9.8h0M9-1.6h0M10-4.8h0M11-0.3h0M12-18h0M13,11.8h0M14-6.8h0M15-8.3h0M16-14.3h0M17,5.5h0M18,11h0M19-2.8h0M20,2.8h0M21-24h0M22-1h0M23-8.2h0M24-13.8h0M25,9.1h0M26,20h0M27-0.7h0M28,9.9h0M29,20h0"/>
<path class="s c1" d="M0,0V18.5M26,0V12.5M29,0V30.6"/>
<path class="d c1" d="M0,18.5h0M1-0.1h0M2,12.8h0M3,10.2h0M4,1h0M5,11.8h0M6,4.4h0M7-3.7h0M8,8.3h0M9,6.2h0M10-6.8h0M11,7.3h0M12,5.3h0M13-0.2h0M14-4.7h0M15,2.6h0M16,1.6h0M17-4.5h0M18,2.2h0M19,8.6h0M20,1.7h0M21,10h0M22,3.1h0M23-5.6h0M24,14.6h0M25,10.3h0M26,12.5h0M27-8.1h0M28,15.8h0M29,30.6h0"/>
<path class="s c2" d="M4,0V17.7M5,0V13.6M28,0V19.7"/>
<path class="d c2" d="M0-2.3h0M1,2.4h0M2-5h0M3,12h0M4,17.7h0M5,13.6h0M6-6h0M7-9.1h0M8-9.9h0M9,9.8h0M10,7h0M11,6.1h0M12,4h0M13,1.4h0M14,1h0M15-0.4h0M16-4.6h0M17-14.6h0M18-2.6h0M19,7.3h0M20,10.1h0M21-9h0M22,1.9h0M23-9.8h0M24,10.1h0M25-5.9h0M26-4.5h0M27-8.5h0M28,19.7h0M29,5.9h0"/>
<path class="s c3" d="M5,0V-22M8,0V-22.4M9,0V-26.4M24,0V-27"/>
<path class="d c3" d="M0-13.6h0M1,35.3h0M2,23.8h0M3,23.3h0M4,10.4h0M5-22h0M6-14h0M7-15.9h0M8-22.4h0M9-26.4h0M10-7.6h0M11-7.2h0M12,21.1h0M13,10.9h0M14-6h0M15-1.8h0M16-8.9h0M17-9.1h0M18-7.3h0M19,11h0M20,14.4h0M21,20.8h0M22,5.7h0M23-17.7h0M24-27h0M25-8.8h0M26,0.3h0M27-11.7h0M28,30.6h0M29,50.1h0"/>
<path class="s c0" d="M11,0V-19.7M28,0V42"/>
<path class="d c0" d="M0,16.1h0M1-25.4h0M2-9.6h0M3-11.8h0M4,5.3h0M5,6.3h0M6-0.8h0M7,7.8h0M8-2.9h0M9,3.4h0M10,4.5h0M11-19.7h0M12-7.6h0M13,1.5h0M14,9.8h0M15-6.8h0M16-3.6h0M17-3.6h0M18-19.7h0M19-0.2h0M20,6.4h0M21-16.9h0M22,4.7h0M23-1.4h0M24,2.2h0M25-7.1h0M26-13.8h0M27-10.6h0M28,42h0M29-24.1h0"/>
<path class="s c1" d="M3,0V20.6M29,0V45"/>
<path class="d c1" d="M0,2.5h0M1,14.6h0M2,2.1h0M3,20.6h0M4-4.5h0M5-5.7h0M6-4.2h0M7,1.2h0M8,3.9h0M9-3.4h0M10,2.5h0M11,3h0M12-6.8h0M13,1.5h0M14-6.3h0M15,5.6h0M16,12h0M17,9.2h0M18,6.8h0M19,3.2h0M20-0.5h0M21-0.1h0M22,13h0M23-0.4h0M24,9.6h0M25,0.9h0M26-10.8h0M27-0.2h0M28,17.7h0M29,45h0"/>
<path class="d c2" d="M0-11.4h0M1,6.7h0M2,12.6h0M3,0.7h0M4,10.1h0M5-7.4h0M6,9.1h0M7-7.4h0M8,5.6h0M9-0.7h0M10,10.2h0M11,4.3h0M12,11.4h0M13-4.2h0M14-1.3h0M15,3.7h0M16,3.2h0M17,8.3h0M18,9.1h0M19,0.3h0M20,8.3h0M21,1.7h0M22-6.5h0M23,7.2h0M24,7.9h0M25,8.1h0M26,10h0M27,9.9h0M28-4.6h0M29,17.6h0"/>
<path class="s c3" d="M4,0V-30.5M15,0V22.4M24,0V25.4M25,0V25.1"/>
<path class="d c3" d="M0,7.3h0M1-14h0M2-18.8h0M3-7h0M4-30.5h0M5,29h0M6,5.1h0M7,15.4h0M8,12.5h0M9,9.5h0M10,4.1h0M11,0h0M12,16.5h0M13,23.6h0M14,18h0M15,22.4h0M16,8.8h0M17,12.1h0M18,3.5h0M19,13.1h0M20,12.8h0M21,3.3h0M22,17.1h0M23-1.6h0M24,25.4h0M25,25.1h0M26-1.7h0M27-23.8h0M28,26.7h0M29-2.3h0"/>
<path class="s c0" d="M2,0V13.5"/>
<path class="d c0" d="M0-3.3h0M1-11.9h0M2,13.5h0M3-7.6h0M4,11.5h0M5-5.9h0M6-8.6h0M7-6.3h0M8,5.2h0M9-8.1h0M10-2.5h0M11,3.5h0M12,7.1h0M13,11h0M14-9.6h0M15-11.2h0M16-17.8h0M17,2.3h0M18-9.8h0M19-19.2h0M20,6h0M21-21.2h0M22-19.4h0M23-5.6h0M24,6.8h0M25,10.3h0M26-22.5h0M27,19.1h0M28-17.9h0M29,1.8h0"/>
<path class="d c1" d="M0-6.4h0M1,17.2h0M2-8.4h0M3,5.8h0M4-10.2h0M5-6.5h0M6,2.6h0M7-8.3h0M8-1.3h0M9-6.4h0M10-1.3h0M11,2.3h0M12,4.8h0M13,6.4h0M14-2.1h0M15-3.1h0M16,3.2h0M17,1.7h0M18-0.5h0M19-4.1h0M20-7.3h0M21,4h0M22-2.1h0M23,4.8h0M24,6.5h0M25-2.1h0M26-9.8h0M27-12h0M28-9.8h0M29-6h0"/>
<path class="s c2" d="M27,0V16"/>
<path class="d c2" d="M0,4h0M1-0.2h0M2,1.8h0M3,4.8h0M4,4.6h0M5,5.1h0M6,5.3h0M7,3.5h0M8,9.3h0M9-9h0M10,8.5h0M11,1.3h0M12-2.7h0M13,0.7h0M14-3.9h0M15,9.3h0M16,1.6h0M17,7h0M18-7.9h0M19-1h0M20,2.6h0M21,0h0M22-7h0M23-0.3h0M24-5.6h0M25-7h0M26,0.6h0M27,16h0M28-11.1h0M29,7.1h0"/>
<path class="s c3" d="M9,0V22.3M19,0V19.9"/>
<path class="d c3" d="M0-44.3h0M1,28.5h0M2,16.1h0M3-5.3h0M4-6.6h0M5-17h0M6-11.6h0M7-14.2h0M8-11.6h0M9,22.3h0M10,11.3h0M11,13.3h0M12,14h0M13,9.3h0M14-16.5h0M15-4.4h0M16,10.9h0M17-0.4h0M18-6.5h0M19,19.9h0M20,18.2h0M21-3.7h0M22,7.6h0M23,13.6h0M24,13.7h0M25,2.2h0M26,2.8h0M27,16.6h0M28-20.8h0M29,59h0"/>
</g>
<path d="M1222,587H2394" stroke="#000" stroke-width="5.8" stroke-dasharray="15.4 6.7" fill="none"/>
</g>
<g clip-path="url(#cl3)">
<rect x="202" y="1461" width="656" height="54"/>
<path d="M72.9,1461v54M134.5,1461v54M170.2,1461v54M183.1,1461v54M189.9,1461v54M197.2,1461v54M200.5,1461v54M203.6,1461v54M857.4,1461v54M861.7,1461v54M866.3,1461v54M871.8,1461v54M882.3,1461v54M900.6,1461v54M927.5,1461v54" stroke="#000" stroke-opacity="0.37" stroke-width="3.7" fill="none"/>
<path d="M93.1,1461v54M140.5,1461v54M177.3,1461v54M184.4,1461v54M190.9,1461v54M197.3,1461v54M200.6,1461v54M203.9,1461v54M857.6,1461v54M862,1461v54M867.6,1461v54M873.3,1461v54M882.5,1461v54M905.2,1461v54M930.5,1461v54" stroke="#000" stroke-opacity="0.37" stroke-width="3.7" fill="none"/>
<path d="M106,1461v54M144.5,1461v54M178.9,1461v54M186.7,1461v54M191,1461v54M197.7,1461v54M200.8,1461v54M203.9,1461v54M858.3,1461v54M863.3,1461v54M868.2,1461v54M874,1461v54M884.2,1461v54M905.6,1461v54M931.5,1461v54" stroke="#000" stroke-opacity="0.37" stroke-width="3.7" fill="none"/>
<path d="M122.5,1461v54M152.5,1461v54M179,1461v54M187.3,1461v54M192.7,1461v54M198,1461v54M201,1461v54M203.9,1461v54M858.8,1461v54M863.7,1461v54M868.5,1461v54M874.8,1461v54M886,1461v54M906.1,1461v54M961.9,1461v54" stroke="#000" stroke-opacity="0.37" stroke-width="3.7" fill="none"/>
<path d="M125,1461v54M155,1461v54M179.2,1461v54M187.4,1461v54M193.2,1461v54M198.5,1461v54M203,1461v54M204,1461v54M859.3,1461v54M864.8,1461v54M869.2,1461v54M874.9,1461v54M886.4,1461v54M908.2,1461v54" stroke="#000" stroke-opacity="0.37" stroke-width="3.7" fill="none"/>
<path d="M127.5,1461v54M158.8,1461v54M179.2,1461v54M188.4,1461v54M193.8,1461v54M199.5,1461v54M203.4,1461v54M856.2,1461v54M859.5,1461v54M865.2,1461v54M869.3,1461v54M878.4,1461v54M887,1461v54M908.5,1461v54" stroke="#000" stroke-opacity="0.37" stroke-width="3.7" fill="none"/>
<path d="M130,1461v54M160.8,1461v54M179.7,1461v54M188.7,1461v54M194,1461v54M200.3,1461v54M203.4,1461v54M856.7,1461v54M861.3,1461v54M866,1461v54M871.7,1461v54M880.1,1461v54M890.2,1461v54M914,1461v54" stroke="#000" stroke-opacity="0.37" stroke-width="3.7" fill="none"/>
<path d="M132,1461v54M162.7,1461v54M180.5,1461v54M189.2,1461v54M194,1461v54M200.4,1461v54M203.5,1461v54M856.7,1461v54M861.6,1461v54M866.1,1461v54M871.8,1461v54M881.3,1461v54M890.3,1461v54M924.5,1461v54" stroke="#000" stroke-opacity="0.37" stroke-width="3.7" fill="none"/>
</g>
<g class="w" clip-path="url(#cl3)">
<path class="k c0" transform="scale(7 1)" d="M40.918,1491l1,0 1-1 1,0 1,0 1-1 1-1 1-1 1-2 1-2 1-4 1-4 1-6 1-6 1-8 1-9 1-10 1-11 1-11 1-11 1-11 1-9 1-9 1-7 1-5 1-3 1,0 1,1 1,6 1,10 1,14 1,16 1,15 1,14 1,11 1,9 1,7 1,7 1,5 1,5 1,3 1,3 1,2 1,1 1,1 1,1 1,0 1,0 1,1 1,0"/>
<path class="k c0 d1" transform="scale(7 1)" d="M36.929,1491l1,0 1,0 1,0 1,0 1,0 1-1 1,0 1,0 1-1 1-1 1-2 1-2 1-3 1-4 1-5 1-6 1-10 1-13 1-16 1-18 1-18 1-16 1-13 1-7 1,0 1,2 1,3 1,2 1,3 1,6 1,8 1,10 1,11 1,12 1,12 1,12 1,11 1,9 1,8 1,7 1,5 1,4 1,4 1,2 1,2 1,1 1,1 1,0 1,0 1,1 1,0 1,0 1,0 1,0 1,0 1,0"/>
<path class="k c0 d2" transform="scale(7 1)" d="M42.230,1491l1,0 1-1 1,0 1,0 1-1 1-2 1-2 1-3 1-3 1-6 1-7 1-8 1-10 1-12 1-13 1-14 1-12 1-11 1-7 1-5 1-5 1-7 1,0 1,6 1,7 1,7 1,9 1,12 1,14 1,13 1,12 1,10 1,9 1,8 1,7 1,5 1,3 1,3 1,1 1,1 1,1 1,0 1,1 1,0 1,0 1,0"/>
<path class="k c0 d3" transform="scale(7 1)" d="M33.069,1491l1,0 1,0 1,0 1,0 1,0 1,0 1,0 1,0 1,0 1-1 1,0 1-1 1-1 1-1 1-2 1-3 1-3 1-5 1-5 1-7 1-9 1-11 1-11 1-12 1-12 1-9 1-5 1-2 1-4 1-10 1-10 1-5 1,0 1,5 1,8 1,13 1,14 1,13 1,13 1,12 1,10 1,9 1,7 1,6 1,5 1,4 1,3 1,2 1,2 1,1 1,1 1,0 1,0 1,1 1,0 1,0"/>
<path class="k c1" transform="scale(7 1)" d="M48.509,1491l1,0 1,0 1,0 1,0 1-1 1,0 1-1 1-1 1-1 1-2 1-3 1-4 1-5 1-6 1-9 1-10 1-12 1-14 1-14 1-14 1-12 1-10 1-7 1-6 1-3 1,0 1,2 1,5 1,8 1,11 1,13 1,15 1,14 1,13 1,12 1,10 1,9 1,7 1,5 1,3 1,2 1,2 1,1 1,1 1,1 1,0 1,1 1,0 1,0"/>
<path class="k c1 d1" transform="scale(7 1)" d="M46.985,1491l1,0 1,0 1,0 1,0 1-1 1,0 1,0 1-1 1-1 1-2 1-2 1-3 1-4 1-5 1-6 1-8 1-9 1-10 1-12 1-13 1-12 1-9 1-5 1-7 1-9 1-7 1-1 1,2 1,6 1,8 1,9 1,11 1,10 1,9 1,7 1,8 1,11 1,12 1,10 1,8 1,4 1,4 1,2 1,2 1,2 1,0 1,1 1,0 1,1 1,0 1,0 1,0 1,0 1,0"/>
<path class="k c1 d2" transform="scale(7 1)" d="M49.996,1491l1-1 1,0 1,0 1-1 1-1 1-1 1-2 1-3 1-4 1-4 1-6 1-7 1-9 1-10 1-11 1-13 1-14 1-12 1-10 1-7 1-5 1-4 1-2 1,0 1,3 1,7 1,10 1,11 1,11 1,12 1,12 1,11 1,10 1,9 1,7 1,6 1,5 1,4 1,3 1,2 1,1 1,1 1,1 1,0 1,0 1,1"/>
<path class="k c1 d3" transform="scale(7 1)" d="M43.754,1491l1,0 1,0 1,0 1,0 1,0 1,0 1-1 1,0 1,0 1-1 1-1 1-1 1-2 1-2 1-3 1-4 1-5 1-5 1-7 1-8 1-9 1-10 1-12 1-12 1-12 1-11 1-11 1-9 1-5 1,0 1,4 1,7 1,9 1,10 1,10 1,10 1,10 1,10 1,9 1,6 1,4 1,6 1,9 1,10 1,5 1,4 1,2 1,2 1,1 1,1 1,1 1,0 1,0 1,1 1,0 1,0 1,0 1,0"/>
<path class="k c2" transform="scale(7 1)" d="M57.231,1491l1,0 1,0 1,0 1,0 1,0 1-1 1,0 1,0 1-1 1,0 1-1 1-2 1-1 1-3 1-3 1-3 1-5 1-5 1-6 1-7 1-8 1-9 1-8 1-9 1-9 1-8 1-8 1-6 1-4 1-3 1-1 1,0 1,3 1,3 1,4 1,6 1,7 1,8 1,10 1,10 1,9 1,10 1,8 1,7 1,6 1,5 1,3 1,3 1,3 1,1 1,2 1,1 1,0 1,1 1,0 1,0 1,1 1,0 1,0"/>
<path class="k c2 d1" transform="scale(7 1)" d="M61.385,1491l1,0 1-1 1,0 1,0 1-1 1-1 1-1 1-2 1-2 1-3 1-5 1-6 1-9 1-11 1-13 1-13 1-12 1-9 1-6 1-4 1-2 1-3 1-3 1-3 1-2 1,0 1,0 1,0 1,1 1,3 1,8 1,12 1,12 1,10 1,9 1,9 1,8 1,7 1,6 1,6 1,5 1,3 1,4 1,2 1,2 1,1 1,1 1,1 1,1 1,0 1,0 1,1 1,0 1,0 1,0 1,0 1,0 1,0"/>
<path class="k c2 d2" transform="scale(10 1)" d="M40.121,1491l1,0 1,0 1-1 1,0 1-1 1-1 1-2 1-2 1-4 1-5 1-6 1-7 1-6 1-5 1-6 1-9 1-11 1-9 1-10 1-12 1-10 1-5 1,3 1,10 1,13 1,14 1,13 1,12 1,10 1,9 1,7 1,6 1,5 1,3 1,2 1,2 1,1 1,1 1,0 1,1 1,0 1,0 1,0 1,0 1,0"/>
<path class="k c2 d3" transform="scale(10 1)" d="M38.477,1491l1,0 1,0 1,0 1,0 1-1 1,0 1-1 1-1 1-1 1-2 1-3 1-4 1-5 1-8 1-9 1-10 1-10 1-10 1-9 1-10 1-8 1-7 1-4 1-2 1,0 1,2 1,5 1,8 1,12 1,14 1,14 1,13 1,10 1,7 1,6 1,4 1,3 1,3 1,1 1,1 1,1 1,0 1,1 1,0"/>
<path class="k c3" transform="scale(7 1)" d="M52.746,1491l1,0 1,0 1,0 1-1 1,0 1,0 1-1 1-1 1-1 1-1 1-3 1-2 1-4 1-5 1-6 1-6 1-7 1-8 1-7 1-6 1-7 1-6 1-9 1-11 1-10 1-8 1-5 1-1 1,2 1,4 1,6 1,9 1,11 1,12 1,13 1,11 1,10 1,7 1,6 1,4 1,5 1,3 1,3 1,3 1,2 1,1 1,2 1,0 1,1 1,0 1,1 1,0 1,0 1,0 1,0 1,0 1,0 1,0 1,0 1,0"/>
<path class="k c3 d1" transform="scale(7 1)" d="M51.506,1491l1,0 1,0 1,0 1-1 1,0 1-1 1,0 1-1 1-2 1-1 1-3 1-3 1-4 1-6 1-8 1-10 1-10 1-9 1-5 1-3 1-3 1-2 1-4 1-5 1-6 1-6 1-6 1-3 1,0 1,3 1,6 1,7 1,7 1,7 1,7 1,8 1,7 1,8 1,7 1,7 1,5 1,5 1,5 1,3 1,3 1,2 1,1 1,1 1,1 1,1 1,0 1,0 1,1 1,0 1,0 1,0"/>
<path class="k c3 d2" transform="scale(7 1)" d="M51.360,1491l1,0 1,0 1-1 1,0 1,0 1-1 1-1 1-1 1-1 1-2 1-2 1-3 1-4 1-4 1-5 1-6 1-7 1-8 1-7 1-9 1-8 1-8 1-8 1-7 1-7 1-5 1-4 1-3 1-3 1,0 1,2 1,5 1,7 1,8 1,8 1,10 1,10 1,10 1,9 1,9 1,8 1,6 1,5 1,4 1,4 1,2 1,2 1,2 1,1 1,1 1,0 1,1 1,0 1,0 1,1 1,0 1,0 1,0 1,0 1,0 1,0 1,0"/>
<path class="k c3 d3" transform="scale(7 1)" d="M48.163,1491l1,0 1,0 1,0 1,0 1,0 1,0 1,0 1,0 1-1 1,0 1-1 1,0 1-2 1-1 1-2 1-3 1-4 1-4 1-6 1-6 1-6 1-7 1-6 1-7 1-8 1-11 1-13 1-10 1-8 1-7 1-7 1-6 1,2 1,11 1,15 1,11 1,10 1,10 1,10 1,9 1,9 1,7 1,7 1,6 1,5 1,3 1,3 1,3 1,1 1,1 1,1 1,1 1,0 1,0 1,1 1,0 1,0 1,0 1,0 1,0 1,0 1,0 1,0"/>
<path class="k c4" transform="scale(7 1)" d="M33.016,1491l1,0 1,0 1,0 1,0 1,0 1,0 1,0 1-1 1,0 1,0 1-1 1,0 1-1 1-1 1-2 1-1 1-3 1-3 1-5 1-6 1-8 1-10 1-9 1-10 1-10 1-9 1-7 1-5 1-3 1-2 1-2 1-4 1-3 1,0 1,2 1,6 1,8 1,8 1,10 1,9 1,10 1,8 1,8 1,7 1,7 1,5 1,4 1,4 1,2 1,3 1,1 1,1 1,1 1,1 1,0 1,0 1,1 1,0 1,0 1,0 1,0 1,0 1,0 1,0 1,0"/>
<path class="k c4 d1" transform="scale(7 1)" d="M34.985,1491l1,0 1,0 1-1 1,0 1,0 1-1 1-1 1-1 1-2 1-2 1-2 1-4 1-4 1-6 1-6 1-7 1-7 1-7 1-9 1-10 1-12 1-11 1-10 1-9 1-8 1-6 1-3 1,1 1,5 1,8 1,12 1,11 1,10 1,10 1,10 1,10 1,9 1,8 1,7 1,6 1,5 1,4 1,4 1,2 1,2 1,2 1,1 1,0 1,1 1,0 1,0 1,1 1,0 1,0 1,0 1,0 1,0 1,0 1,0 1,0"/>
<path class="k c4 d2" transform="scale(7 1)" d="M37.510,1491l1,0 1,0 1,0 1-1 1,0 1-1 1,0 1-1 1-2 1-2 1-2 1-4 1-4 1-5 1-7 1-7 1-9 1-10 1-12 1-14 1-13 1-13 1-9 1-6 1-2 1,0 1,2 1,4 1,6 1,10 1,12 1,11 1,10 1,8 1,7 1,7 1,7 1,7 1,7 1,5 1,5 1,4 1,3 1,3 1,2 1,1 1,1 1,1 1,0 1,0 1,1 1,0 1,0 1,0 1,0 1,0 1,0"/>
<path class="k c4 d3" transform="scale(7 1)" d="M33.904,1491l1,0 1,0 1,0 1,0 1,0 1-1 1,0 1,0 1-1 1-1 1-1 1-2 1-2 1-3 1-4 1-5 1-6 1-7 1-9 1-11 1-13 1-15 1-14 1-9 1-3 1-1 1,0 1-2 1-2 1,0 1,2 1,3 1,3 1,6 1,7 1,9 1,10 1,11 1,10 1,10 1,8 1,7 1,6 1,5 1,4 1,3 1,2 1,2 1,1 1,1 1,1 1,0 1,0 1,1 1,0 1,0 1,0 1,0 1,0"/>
<path class="k c5" transform="scale(10 1)" d="M8.347,1491l1,0 1,0 1,0 1,0 1,0 1-1 1,0 1,0 1-1 1-1 1-1 1-2 1-3 1-4 1-5 1-5 1-8 1-8 1-9 1-11 1-11 1-10 1-9 1-7 1-5 1-4 1-1 1,1 1,6 1,5 1,6 1,9 1,10 1,11 1,10 1,9 1,8 1,7 1,6 1,5 1,4 1,3 1,2 1,1 1,1 1,1 1,0 1,0 1,1 1,0 1,0 1,0 1,0"/>
<path class="k c5 d1" transform="scale(10 1)" d="M11.778,1491l1,0 1-1 1,0 1,0 1-1 1,0 1-2 1-1 1-2 1-3 1-3 1-4 1-5 1-6 1-7 1-7 1-8 1-9 1-8 1-8 1-7 1-6 1-3 1,0 1,1 1-2 1-1 1,2 1,7 1,8 1,9 1,9 1,9 1,10 1,8 1,7 1,5 1,3 1,4 1,3 1,2 1,2 1,1 1,2 1,0 1,1 1,0 1,0 1,1 1,0 1,0 1,0 1,0 1,0 1,0"/>
<path class="k c5 d2" transform="scale(10 1)" d="M8.844,1491l1,0 1,0 1,0 1,0 1,0 1,0 1,0 1-1 1,0 1,0 1-1 1-1 1-2 1-3 1-3 1-4 1-6 1-7 1-9 1-11 1-12 1-13 1-13 1-11 1-9 1-5 1-3 1,1 1,3 1,6 1,9 1,10 1,12 1,11 1,11 1,9 1,8 1,7 1,6 1,6 1,4 1,3 1,3 1,2 1,1 1,1 1,0 1,0 1,1 1,0 1,0 1,0"/>
<path class="k c5 d3" transform="scale(10 1)" d="M14.217,1491l1,0 1,0 1-1 1,0 1,0 1-1 1-1 1-2 1-3 1-3 1-4 1-6 1-7 1-8 1-10 1-10 1-13 1-13 1-14 1-12 1-7 1,1 1,5 1,4 1,7 1,10 1,10 1,11 1,10 1,10 1,10 1,8 1,7 1,6 1,4 1,4 1,3 1,1 1,2 1,1 1,0 1,0 1,1"/>
<path class="k c6" transform="scale(7 1)" d="M45.538,1491l1,0 1,0 1,0 1,0 1,0 1-1 1,0 1,0 1-1 1-1 1-1 1-2 1-3 1-3 1-3 1-3 1-3 1-5 1-5 1-7 1-7 1-8 1-8 1-8 1-9 1-8 1-6 1-6 1-5 1-2 1-2 1,1 1,2 1,4 1,5 1,8 1,8 1,10 1,10 1,9 1,8 1,7 1,6 1,4 1,4 1,4 1,3 1,3 1,3 1,2 1,1 1,2 1,1 1,0 1,1 1,0 1,0 1,1 1,0 1,0 1,0 1,0 1,0 1,0"/>
<path class="k c6 d1" transform="scale(7 1)" d="M44.735,1491l1,0 1,0 1,0 1,0 1,0 1,0 1,0 1-1 1,0 1,0 1-1 1,0 1-1 1-1 1-2 1-2 1-3 1-3 1-4 1-5 1-6 1-6 1-8 1-8 1-8 1-7 1-7 1-4 1-2 1,2 1,2 1,2 1-2 1-5 1-7 1-5 1-2 1,2 1,5 1,7 1,7 1,8 1,8 1,9 1,8 1,8 1,7 1,6 1,4 1,4 1,3 1,2 1,2 1,1 1,1 1,1 1,0 1,0 1,0 1,1"/>
<path class="k c6 d2" transform="scale(7 1)" d="M51.405,1491l1,0 1,0 1,0 1-1 1,0 1-1 1,0 1-2 1-1 1-2 1-3 1-4 1-5 1-6 1-8 1-9 1-11 1-12 1-11 1-8 1-8 1-7 1-9 1-8 1-8 1-2 1,4 1,7 1,9 1,8 1,9 1,10 1,11 1,10 1,10 1,9 1,8 1,6 1,6 1,5 1,4 1,3 1,2 1,1 1,2 1,0 1,1 1,0 1,1 1,0 1,0 1,0 1,0 1,0"/>
<path class="k c6 d3" transform="scale(7 1)" d="M44.695,1491l1,0 1,0 1,0 1,0 1,0 1,0 1,0 1,0 1-1 1,0 1,0 1-1 1,0 1-2 1-1 1-2 1-3 1-3 1-4 1-5 1-6 1-7 1-8 1-9 1-10 1-10 1-10 1-8 1-8 1-7 1-5 1-3 1-2 1,0 1,2 1,4 1,5 1,7 1,8 1,8 1,10 1,9 1,10 1,10 1,8 1,7 1,5 1,3 1,3 1,3 1,3 1,3 1,3 1,1 1,1 1,1 1,0 1,1 1,0 1,0 1,0 1,0 1,0 1,0"/>
<path class="k c7" transform="scale(7 1)" d="M51.897,1491l1,0 1,0 1-1 1,0 1-1 1-1 1-2 1-2 1-3 1-5 1-6 1-7 1-10 1-11 1-12 1-14 1-14 1-13 1-13 1-10 1-8 1-3 1,0 1,4 1,7 1,9 1,9 1,12 1,12 1,14 1,14 1,13 1,11 1,8 1,7 1,5 1,3 1,3 1,2 1,1 1,1 1,0 1,1 1,0 1,0 1,0 1,0"/>
<path class="k c7 d1" transform="scale(7 1)" d="M47.052,1491l1,0 1,0 1,0 1,0 1-1 1,0 1,0 1-1 1-1 1-1 1-2 1-3 1-3 1-5 1-5 1-7 1-8 1-10 1-10 1-12 1-12 1-11 1-11 1-10 1-8 1-7 1-4 1,0 1,5 1,10 1,10 1,6 1,5 1,7 1,11 1,15 1,15 1,13 1,9 1,7 1,5 1,4 1,3 1,2 1,2 1,1 1,1 1,0 1,0 1,1"/>
<path class="k c7 d2" transform="scale(7 1)" d="M47.473,1491l1,0 1,0 1,0 1,0 1,0 1-1 1,0 1-1 1-1 1-2 1-2 1-4 1-4 1-5 1-7 1-11 1-14 1-16 1-15 1-13 1-13 1-11 1-9 1-5 1-2 1,1 1,3 1,7 1,9 1,12 1,13 1,14 1,14 1,13 1,11 1,10 1,7 1,7 1,4 1,4 1,2 1,2 1,1 1,1 1,0 1,1 1,0 1,0 1,0"/>
<path class="k c7 d3" transform="scale(7 1)" d="M45.371,1491l1,0 1,0 1,0 1,0 1,0 1-1 1,0 1-1 1,0 1-1 1-2 1-2 1-3 1-4 1-5 1-7 1-7 1-9 1-10 1-11 1-12 1-11 1-11 1-10 1-9 1-5 1,0 1,3 1,3 1,3 1,4 1,8 1,9 1,9 1,11 1,12 1,11 1,10 1,8 1,7 1,6 1,5 1,3 1,3 1,2 1,1 1,1 1,1 1,0 1,0 1,1 1,0 1,0 1,0 1,0 1,0 1,0 1,0"/>
<path class="k c8" transform="scale(7 1)" d="M45.096,1491l1,0 1-1 1,0 1,0 1-1 1-1 1-1 1-2 1-3 1-4 1-4 1-6 1-7 1-7 1-9 1-10 1-12 1-12 1-10 1-10 1-9 1-6 1-4 1-2 1,0 1,2 1,5 1,7 1,10 1,10 1,11 1,12 1,11 1,10 1,8 1,8 1,7 1,5 1,4 1,3 1,2 1,2 1,1 1,1 1,1 1,0 1,1 1,0"/>
<path class="k c8 d1" transform="scale(7 1)" d="M43.378,1491l1,0 1,0 1,0 1-1 1,0 1,0 1-1 1-1 1-2 1-2 1-2 1-4 1-5 1-6 1-7 1-8 1-9 1-13 1-14 1-15 1-13 1-11 1-8 1-3 1,0 1,3 1,5 1,7 1,6 1,6 1,7 1,9 1,10 1,11 1,11 1,9 1,9 1,7 1,7 1,4 1,4 1,3 1,2 1,2 1,1 1,1 1,0 1,0 1,1 1,0 1,0 1,0"/>
<path class="k c8 d2" transform="scale(7 1)" d="M43.834,1491l1,0 1-1 1,0 1,0 1-1 1-1 1-2 1-2 1-3 1-4 1-5 1-7 1-7 1-9 1-9 1-9 1-10 1-11 1-11 1-11 1-10 1-8 1-5 1-2 1,1 1,2 1,4 1,9 1,13 1,15 1,15 1,12 1,11 1,10 1,8 1,7 1,5 1,4 1,4 1,2 1,2 1,1 1,1 1,1 1,0 1,1 1,0 1,0 1,0 1,0 1,0"/>
<path class="k c8 d3" transform="scale(7 1)" d="M41.567,1491l1,0 1,0 1,0 1-1 1,0 1,0 1-1 1-1 1-1 1-2 1-3 1-3 1-5 1-5 1-7 1-7 1-9 1-10 1-11 1-11 1-10 1-9 1-9 1-7 1-6 1-2 1,2 1,4 1,7 1,8 1,8 1,8 1,8 1,10 1,9 1,10 1,8 1,8 1,7 1,5 1,5 1,3 1,3 1,2 1,2 1,1 1,1 1,0 1,0 1,1 1,0 1,0 1,0 1,0 1,0"/>
<path class="k c9" transform="scale(10 1)" d="M16.184,1491l1,0 1,0 1,0 1-1 1,0 1-1 1-1 1-2 1-3 1-4 1-5 1-7 1-8 1-10 1-11 1-12 1-12 1-11 1-10 1-8 1-4 1-1 1,2 1,5 1,8 1,11 1,14 1,15 1,11 1,8 1,6 1,7 1,6 1,5 1,4 1,3 1,2 1,2 1,1 1,0 1,0 1,1 1,0 1,0 1,0 1,0 1,0 1,0"/>
<path class="k c9 d1" transform="scale(10 1)" d="M14.919,1491l1,0 1-1 1,0 1,0 1-1 1-1 1-2 1-2 1-4 1-4 1-5 1-7 1-8 1-9 1-10 1-10 1-10 1-11 1-12 1-11 1-9 1-4 1,3 1,10 1,15 1,14 1,11 1,8 1,8 1,8 1,8 1,8 1,6 1,6 1,4 1,4 1,2 1,2 1,2 1,0 1,1 1,0 1,1 1,0 1,0 1,0 1,0 1,0 1,0"/>
<path class="k c9 d2" transform="scale(7 1)" d="M22.646,1491l1,0 1,0 1,0 1,0 1,0 1-1 1,0 1,0 1-1 1,0 1-1 1-2 1-2 1-2 1-3 1-3 1-5 1-5 1-6 1-7 1-8 1-8 1-9 1-9 1-9 1-7 1-4 1-2 1-1 1,1 1-1 1-2 1-2 1-2 1,0 1,2 1,5 1,7 1,8 1,8 1,8 1,8 1,10 1,8 1,8 1,6 1,5 1,4 1,3 1,3 1,2 1,2 1,1 1,1 1,0 1,1 1,0 1,0 1,1 1,0 1,0 1,0"/>
<path class="k c9 d3" transform="scale(10 1)" d="M13.825,1491l1,0 1,0 1-1 1,0 1,0 1-1 1-1 1-2 1-2 1-3 1-4 1-5 1-6 1-7 1-8 1-10 1-10 1-11 1-13 1-12 1-11 1-8 1-2 1,3 1,7 1,9 1,10 1,8 1,5 1,6 1,6 1,9 1,11 1,11 1,9 1,7 1,5 1,3 1,3 1,1 1,2 1,0 1,1 1,0 1,1 1,0 1,0"/>
<path class="k c0" transform="scale(7 1)" d="M42.299,1491l1,0 1,0 1,0 1,0 1,0 1,0 1,0 1,0 1,0 1-1 1,0 1,0 1-1 1,0 1-1 1-2 1-1 1-3 1-3 1-3 1-4 1-4 1-3 1-4 1-5 1-8 1-11 1-12 1-13 1-10 1-9 1-8 1-5 1-3 1,0 1,3 1,3 1,5 1,7 1,8 1,8 1,9 1,9 1,9 1,9 1,7 1,7 1,7 1,6 1,5 1,4 1,4 1,2 1,2 1,0 1,0 1,0 1,0 1,0 1,0 1,0 1,0 1,0"/>
<path class="k c0 d1" transform="scale(7 1)" d="M49.976,1491l1,0 1,0 1,0 1-1 1,0 1,0 1-1 1-1 1-1 1-2 1-2 1-2 1-4 1-4 1-5 1-5 1-7 1-7 1-8 1-7 1-8 1-8 1-9 1-8 1-8 1-5 1-4 1-2 1,0 1,2 1,3 1,6 1,9 1,11 1,12 1,9 1,5 1,5 1,5 1,7 1,6 1,6 1,5 1,4 1,3 1,3 1,2 1,2 1,1 1,1 1,0 1,1 1,0 1,0 1,1 1,0"/>
<path class="k c0 d2" transform="scale(7 1)" d="M50.154,1491l1,0 1,0 1,0 1-1 1,0 1,0 1-1 1-1 1-1 1-2 1-3 1-4 1-5 1-5 1-6 1-6 1-7 1-8 1-9 1-12 1-16 1-16 1-6 1,4 1,7 1,0 1-7 1-6 1-1 1,4 1,7 1,11 1,12 1,12 1,12 1,9 1,7 1,6 1,5 1,4 1,5 1,4 1,3 1,3 1,2 1,2 1,1 1,1 1,1 1,0 1,0 1,1 1,0 1,0 1,0"/>
<path class="k c0 d3" transform="scale(10 1)" d="M30.810,1491l1,0 1,0 1,0 1,0 1,0 1-1 1,0 1-1 1-1 1-2 1-3 1-3 1-5 1-6 1-7 1-9 1-10 1-12 1-12 1-11 1-6 1-4 1-4 1-4 1,0 1,5 1,8 1,9 1,10 1,10 1,11 1,10 1,9 1,7 1,6 1,5 1,3 1,3 1,2 1,1 1,1 1,0 1,1 1,0 1,0 1,0 1,0 1,0 1,0 1,0 1,0"/>
<path class="k c1" transform="scale(7 1)" d="M66.658,1491l1,0 1,0 1,0 1,0 1,0 1,0 1,0 1,0 1,0 1,0 1-1 1,0 1,0 1,0 1-1 1-1 1-1 1-1 1-2 1-2 1-3 1-3 1-3 1-4 1-5 1-5 1-6 1-5 1-6 1-7 1-6 1-8 1-6 1-3 1,0 1,1 1,3 1,3 1,5 1,6 1,7 1,6 1,5 1,4 1,4 1,3 1,4 1,3 1,4 1,4 1,3 1,3 1,3 1,2 1,1 1,2 1,0 1,1 1,1 1,0 1,0 1,1 1,0 1,0 1,0 1,0 1,0 1,0 1,0 1,0 1,0"/>
<path class="k c1 d1" transform="scale(10 1)" d="M44.312,1491l1,0 1,0 1,0 1,0 1,0 1,0 1,0 1,0 1-1 1,0 1-1 1-1 1-1 1-3 1-3 1-3 1-5 1-7 1-7 1-9 1-10 1-9 1-8 1-4 1-3 1,0 1,1 1,2 1,4 1,7 1,8 1,10 1,10 1,8 1,6 1,4 1,3 1,3 1,3 1,2 1,1 1,1 1,1 1,0 1,1 1,0 1,0 1,0 1,0 1,0 1,0"/>
<path class="k c1 d2" transform="scale(10 1)" d="M50.443,1491l1,0 1-1 1,0 1,0 1-1 1-1 1-2 1-2 1-3 1-4 1-5 1-6 1-5 1-7 1-9 1-9 1-7 1-4 1-1 1,0 1,1 1,2 1,3 1,4 1,5 1,6 1,7 1,7 1,7 1,6 1,5 1,4 1,3 1,2 1,2 1,1 1,1 1,0 1,0 1,1 1,0 1,0 1,0"/>
<path class="k c1 d3" transform="scale(10 1)" d="M47.575,1491l1,0 1,0 1,0 1,0 1,0 1-1 1,0 1-1 1,0 1-2 1-2 1-2 1-4 1-4 1-5 1-7 1-7 1-8 1-9 1-9 1-9 1-6 1-5 1,2 1,7 1,8 1,5 1,5 1,7 1,8 1,7 1,7 1,6 1,5 1,4 1,3 1,2 1,2 1,1 1,1 1,0 1,1 1,0 1,0 1,0 1,0 1,0 1,0"/>
<path class="k c2" transform="scale(7 1)" d="M38.532,1491l1,0 1-1 1,0 1,0 1-1 1-1 1-2 1-2 1-3 1-5 1-5 1-7 1-8 1-9 1-10 1-10 1-10 1-10 1-8 1-5 1-3 1-3 1-2 1-1 1,0 1,2 1,5 1,7 1,9 1,10 1,11 1,11 1,10 1,9 1,8 1,6 1,5 1,4 1,3 1,2 1,1 1,1 1,1 1,0 1,1 1,0 1,0 1,0 1,0"/>
<path class="k c2 d1" transform="scale(7 1)" d="M35.744,1491l1,0 1,0 1,0 1-1 1,0 1,0 1-1 1-1 1-2 1-2 1-3 1-4 1-5 1-6 1-7 1-9 1-10 1-11 1-12 1-13 1-13 1-14 1-12 1-8 1-2 1,5 1,12 1,14 1,12 1,11 1,11 1,10 1,11 1,12 1,11 1,3 1,2 1,3 1,5 1,4 1,3 1,2 1,2 1,1 1,1 1,0 1,0 1,1 1,0 1,0"/>
<path class="k c2 d2" transform="scale(7 1)" d="M33.747,1491l1,0 1,0 1,0 1,0 1,0 1,0 1-1 1,0 1-1 1-1 1-1 1-2 1-3 1-4 1-5 1-6 1-8 1-8 1-8 1-9 1-15 1-19 1-18 1-14 1-9 1-4 1,1 1,4 1,7 1,8 1,9 1,11 1,13 1,14 1,12 1,12 1,10 1,8 1,7 1,6 1,4 1,3 1,2 1,2 1,1 1,1 1,0 1,1 1,0 1,0 1,0 1,0"/>
<path class="k c2 d3" transform="scale(7 1)" d="M33.400,1491l1,0 1,0 1,0 1,0 1,0 1-1 1,0 1,0 1-1 1-1 1-1 1-2 1-3 1-4 1-5 1-6 1-8 1-10 1-11 1-11 1-10 1-11 1-10 1-10 1-8 1-6 1-5 1-1 1,1 1,5 1,7 1,8 1,10 1,11 1,12 1,12 1,11 1,9 1,9 1,7 1,6 1,5 1,3 1,3 1,2 1,1 1,1 1,1 1,0 1,1 1,0 1,0 1,0 1,0 1,0"/>
<path class="k c3" transform="scale(7 1)" d="M25.878,1491l1,0 1,0 1,0 1,0 1-1 1,0 1,0 1-1 1,0 1-1 1-2 1-1 1-2 1-3 1-4 1-4 1-5 1-7 1-7 1-7 1-7 1-7 1-5 1-5 1-6 1-6 1-8 1-7 1-7 1-4 1-1 1,2 1,4 1,5 1,6 1,7 1,7 1,8 1,6 1,7 1,8 1,8 1,8 1,7 1,6 1,5 1,3 1,3 1,2 1,2 1,1 1,1 1,0 1,1 1,0 1,0 1,1 1,0 1,0 1,0 1,0 1,0 1,0 1,0 1,0"/>
<path class="k c3 d1" transform="scale(7 1)" d="M24.068,1491l1,0 1,0 1,0 1,0 1,0 1,0 1,0 1-1 1,0 1,0 1-1 1-1 1-1 1-1 1-2 1-3 1-3 1-4 1-5 1-6 1-7 1-8 1-9 1-9 1-8 1-8 1-6 1-4 1-5 1-6 1-5 1-3 1,0 1,1 1,3 1,4 1,6 1,7 1,9 1,9 1,9 1,8 1,8 1,8 1,6 1,6 1,5 1,4 1,3 1,3 1,2 1,1 1,1 1,1 1,1 1,0 1,0 1,1 1,0 1,0 1,0 1,0"/>
<path class="k c3 d2" transform="scale(10 1)" d="M16.371,1491l1,0 1,0 1,0 1-1 1,0 1-1 1-1 1-2 1-2 1-3 1-4 1-5 1-6 1-8 1-9 1-9 1-10 1-8 1-7 1-9 1-7 1-4 1-1 1,2 1,2 1,4 1,6 1,9 1,11 1,13 1,11 1,9 1,7 1,6 1,5 1,4 1,2 1,2 1,2 1,0 1,1 1,0 1,1"/>
<path class="k c3 d3" transform="scale(7 1)" d="M28.557,1491l1,0 1-1 1,0 1,0 1-1 1,0 1-1 1-2 1-1 1-2 1-3 1-4 1-4 1-6 1-6 1-7 1-7 1-7 1-7 1-7 1-7 1-7 1-7 1-7 1-7 1-6 1-5 1-2 1,1 1,4 1,8 1,12 1,15 1,14 1,6 1,0 1,2 1,6 1,6 1,7 1,6 1,5 1,5 1,4 1,3 1,2 1,2 1,2 1,1 1,1 1,0 1,1 1,0 1,0 1,1 1,0 1,0 1,0 1,0 1,0 1,0"/>
<path class="k c4" transform="scale(7 1)" d="M56.009,1491l1,0 1,0 1-1 1,0 1-1 1-1 1-2 1-2 1-4 1-4 1-5 1-5 1-5 1-7 1-10 1-13 1-13 1-15 1-22 1-22 1-11 1-3 1,3 1,6 1,10 1,12 1,14 1,15 1,15 1,15 1,13 1,10 1,8 1,7 1,5 1,5 1,2 1,2 1,2 1,1 1,0 1,0 1,1 1,0 1,0 1,0 1,0 1,0"/>
<path class="k c4 d1" transform="scale(7 1)" d="M49.404,1491l1,0 1,0 1,0 1,0 1,0 1,0 1,0 1-1 1,0 1-1 1-1 1-1 1-2 1-4 1-4 1-7 1-8 1-9 1-10 1-10 1-12 1-10 1-9 1-8 1-11 1-13 1-11 1-5 1,0 1,4 1,6 1,8 1,8 1,10 1,16 1,19 1,16 1,12 1,10 1,7 1,6 1,4 1,4 1,2 1,2 1,1 1,1 1,0 1,1 1,0 1,0 1,0 1,0 1,0 1,0 1,0"/>
<path class="k c4 d2" transform="scale(7 1)" d="M51.432,1491l1,0 1,0 1,0 1,0 1,0 1,0 1-1 1,0 1-1 1-1 1-2 1-2 1-4 1-4 1-7 1-8 1-10 1-12 1-14 1-14 1-5 1-3 1-11 1-15 1-7 1,1 1,3 1,1 1,0 1,5 1,9 1,13 1,14 1,14 1,13 1,11 1,9 1,8 1,6 1,4 1,4 1,2 1,1 1,1 1,1 1,0 1,1"/>
<path class="k c4 d3" transform="scale(7 1)" d="M51.432,1491l1,0 1,0 1,0 1,0 1,0 1-1 1,0 1-1 1,0 1-2 1-1 1-3 1-2 1-4 1-5 1-7 1-8 1-10 1-12 1-12 1-13 1-11 1-9 1-7 1-3 1,0 1,4 1,7 1,9 1,7 1,4 1,2 1,3 1,6 1,10 1,10 1,10 1,9 1,7 1,6 1,5 1,3 1,3 1,2 1,1 1,1 1,1 1,0 1,1 1,0 1,0 1,0 1,0 1,0 1,0 1,0 1,0"/>
<path class="k c5" transform="scale(10 1)" d="M36.512,1491l1,0 1,0 1-1 1,0 1,0 1-1 1-1 1-2 1-2 1-3 1-4 1-5 1-6 1-8 1-8 1-9 1-10 1-9 1-10 1-8 1-6 1-5 1-2 1,1 1,5 1,7 1,10 1,9 1,9 1,10 1,9 1,8 1,7 1,6 1,5 1,4 1,3 1,2 1,2 1,1 1,1 1,0 1,0 1,1 1,0 1,0"/>
<path class="k c5 d1" transform="scale(10 1)" d="M33.946,1491l1,0 1,0 1,0 1,0 1,0 1-1 1,0 1-1 1-1 1-2 1-2 1-3 1-4 1-4 1-7 1-7 1-8 1-10 1-9 1-10 1-9 1-7 1-6 1-4 1-2 1,1 1,3 1,6 1,7 1,10 1,12 1,12 1,9 1,7 1,6 1,6 1,5 1,4 1,2 1,3 1,1 1,1 1,1 1,0 1,1 1,0 1,0"/>
<path class="k c5 d2" transform="scale(10 1)" d="M33.100,1491l1,0 1,0 1,0 1,0 1,0 1,0 1-1 1,0 1,0 1-1 1-1 1-2 1-3 1-3 1-4 1-6 1-7 1-9 1-9 1-10 1-11 1-9 1-9 1-6 1-6 1-4 1-1 1,2 1,5 1,10 1,11 1,11 1,11 1,11 1,9 1,7 1,7 1,5 1,4 1,3 1,2 1,1 1,1 1,1 1,0 1,1 1,0"/>
<path class="k c5 d3" transform="scale(7 1)" d="M54.511,1491l1,0 1,0 1,0 1,0 1,0 1-1 1,0 1,0 1-1 1,0 1-1 1-2 1-1 1-3 1-3 1-3 1-4 1-6 1-5 1-7 1-8 1-7 1-8 1-7 1-7 1-8 1-9 1-7 1-5 1-3 1-1 1,1 1,2 1,4 1,6 1,7 1,8 1,8 1,9 1,8 1,8 1,8 1,7 1,6 1,5 1,4 1,4 1,3 1,2 1,2 1,2 1,1 1,0 1,1 1,0 1,0 1,1 1,0 1,0 1,0 1,0 1,0 1,0 1,0 1,0 1,0"/>
<path class="k c6" transform="scale(7 1)" d="M38.533,1491l1,0 1,0 1,0 1,0 1-1 1,0 1,0 1-1 1,0 1-2 1-1 1-2 1-3 1-4 1-4 1-6 1-6 1-8 1-8 1-10 1-9 1-11 1-10 1-11 1-12 1-12 1-9 1-3 1,2 1,6 1,8 1,9 1,9 1,10 1,8 1,8 1,8 1,10 1,11 1,10 1,8 1,7 1,4 1,4 1,3 1,2 1,2 1,1 1,1 1,1 1,0 1,0 1,1 1,0 1,0 1,0 1,0 1,0"/>
<path class="k c6 d1" transform="scale(7 1)" d="M35.548,1491l1,0 1,0 1,0 1,0 1,0 1,0 1,0 1,0 1-1 1,0 1,0 1-1 1-1 1-1 1-2 1-2 1-3 1-4 1-5 1-5 1-4 1-1 1-2 1-9 1-16 1-18 1-15 1-12 1-10 1-8 1-5 1-2 1,1 1,6 1,7 1,9 1,10 1,11 1,11 1,10 1,10 1,10 1,8 1,7 1,6 1,5 1,4 1,4 1,2 1,2 1,1 1,1 1,1 1,0 1,0 1,1"/>
<path class="k c6 d2" transform="scale(7 1)" d="M42.946,1491l1,0 1-1 1,0 1,0 1-1 1-1 1-2 1-3 1-3 1-5 1-6 1-8 1-9 1-11 1-12 1-14 1-13 1-12 1-11 1-7 1-5 1-1 1-3 1-5 1-2 1,10 1,17 1,15 1,14 1,13 1,13 1,11 1,10 1,8 1,6 1,5 1,4 1,3 1,2 1,2 1,0 1,1 1,0 1,1"/>
<path class="k c6 d3" transform="scale(7 1)" d="M38.603,1491l1,0 1,0 1,0 1,0 1,0 1,0 1-1 1,0 1-1 1-1 1-1 1-1 1-2 1-1 1-2 1-4 1-7 1-10 1-12 1-11 1-12 1-11 1-11 1-9 1-9 1-7 1-7 1-9 1-7 1,4 1,16 1,16 1,14 1,11 1,12 1,10 1,10 1,9 1,8 1,6 1,5 1,4 1,4 1,2 1,2 1,1 1,1 1,0 1,0 1,1 1,0"/>
<path class="k c7" transform="scale(10 1)" d="M40.822,1491l1,0 1-1 1,0 1,0 1-1 1-1 1-1 1-3 1-2 1-4 1-4 1-6 1-6 1-8 1-8 1-8 1-9 1-8 1-8 1-8 1-6 1-4 1-1 1,0 1,4 1,7 1,11 1,13 1,13 1,11 1,8 1,6 1,6 1,4 1,4 1,3 1,2 1,2 1,1 1,1 1,0 1,0 1,1 1,0 1,0"/>
<path class="k c7 d1" transform="scale(10 1)" d="M32.342,1491l1,0 1,0 1,0 1,0 1,0 1,0 1,0 1,0 1,0 1-1 1,0 1,0 1-1 1-1 1-1 1-2 1-3 1-3 1-4 1-5 1-6 1-7 1-8 1-8 1-8 1-6 1-4 1-4 1-4 1-4 1-3 1-2 1,0 1,3 1,6 1,7 1,8 1,8 1,8 1,7 1,7 1,6 1,6 1,4 1,4 1,3 1,3 1,1 1,1 1,1 1,1 1,0 1,0 1,1 1,0 1,0 1,0 1,0 1,0"/>
<path class="k c7 d2" transform="scale(10 1)" d="M34.038,1491l1,0 1,0 1,0 1,0 1,0 1,0 1-1 1,0 1,0 1-1 1-1 1-1 1-2 1-2 1-3 1-3 1-5 1-5 1-6 1-7 1-7 1-8 1-8 1-7 1-6 1-5 1-4 1-4 1-3 1-1 1,2 1,6 1,8 1,9 1,9 1,8 1,8 1,7 1,7 1,5 1,5 1,4 1,3 1,3 1,1 1,2 1,1 1,1 1,0 1,0 1,1 1,0 1,0 1,0 1,0 1,0"/>
<path class="k c7 d3" transform="scale(10 1)" d="M36.422,1491l1,0 1,0 1,0 1,0 1,0 1-1 1,0 1-1 1-1 1-1 1-1 1-3 1-2 1-4 1-5 1-5 1-7 1-7 1-8 1-8 1-8 1-8 1-8 1-7 1-5 1-3 1,0 1,2 1,4 1,5 1,5 1,6 1,6 1,8 1,10 1,10 1,9 1,7 1,6 1,4 1,3 1,2 1,2 1,1 1,1 1,1 1,0 1,0 1,1 1,0 1,0 1,0 1,0 1,0 1,0 1,0"/>
<path class="k c8" transform="scale(7 1)" d="M51.409,1491l1,0 1,0 1,0 1,0 1,0 1,0 1,0 1-1 1,0 1-1 1,0 1-2 1-2 1-3 1-4 1-6 1-7 1-8 1-8 1-7 1-7 1-9 1-11 1-13 1-13 1-11 1-8 1-5 1-1 1,1 1,4 1,7 1,8 1,10 1,11 1,11 1,13 1,11 1,10 1,9 1,8 1,6 1,5 1,4 1,3 1,2 1,1 1,1 1,1 1,0 1,1 1,0 1,0"/>
<path class="k c8 d1" transform="scale(7 1)" d="M55.500,1491l1,0 1-1 1,0 1,0 1-1 1,0 1-1 1,0 1-1 1-1 1-1 1-2 1-4 1-5 1-8 1-9 1-11 1-12 1-13 1-11 1-11 1-9 1-7 1-5 1-2 1-1 1,1 1,0 1,2 1,4 1,10 1,12 1,13 1,10 1,10 1,9 1,8 1,7 1,6 1,5 1,4 1,4 1,3 1,2 1,2 1,1 1,1 1,1 1,0 1,0 1,1 1,0 1,0 1,0 1,0 1,0 1,0 1,0"/>
<path class="k c8 d2" transform="scale(7 1)" d="M56.010,1491l1,0 1,0 1,0 1,0 1,0 1-1 1,0 1-1 1-1 1-1 1-1 1-3 1-3 1-4 1-5 1-6 1-7 1-8 1-10 1-11 1-13 1-14 1-14 1-10 1-6 1-3 1-1 1,0 1,2 1,4 1,6 1,7 1,10 1,10 1,11 1,11 1,10 1,10 1,8 1,8 1,6 1,5 1,4 1,3 1,2 1,2 1,1 1,1 1,1 1,0 1,0 1,1 1,0 1,0"/>
<path class="k c8 d3" transform="scale(7 1)" d="M51.736,1491l1,0 1,0 1,0 1,0 1,0 1-1 1,0 1,0 1-1 1-1 1-1 1-3 1-3 1-4 1-7 1-7 1-8 1-9 1-9 1-9 1-10 1-10 1-10 1-10 1-8 1-6 1-4 1-2 1,1 1,4 1,8 1,12 1,12 1,10 1,9 1,9 1,8 1,9 1,8 1,8 1,6 1,5 1,4 1,3 1,2 1,2 1,1 1,1 1,0 1,0 1,1 1,0 1,0 1,0 1,0 1,0 1,0"/>
<path class="k c9" transform="scale(7 1)" d="M52.409,1491l1,0 1,0 1,0 1-1 1,0 1-1 1-1 1-1 1-2 1-2 1-3 1-4 1-6 1-6 1-8 1-9 1-10 1-11 1-12 1-11 1-11 1-10 1-9 1-5 1-3 1,0 1,2 1,4 1,8 1,10 1,11 1,12 1,12 1,11 1,10 1,9 1,8 1,6 1,5 1,5 1,4 1,3 1,2 1,1 1,1 1,1 1,0 1,0 1,1 1,0 1,0 1,0 1,0 1,0"/>
<path class="k c9 d1" transform="scale(7 1)" d="M46.413,1491l1,0 1,0 1,0 1,0 1,0 1,0 1,0 1,0 1-1 1,0 1,0 1-1 1-1 1-1 1-2 1-2 1-3 1-4 1-5 1-6 1-7 1-8 1-8 1-10 1-10 1-10 1-9 1-9 1-8 1-6 1-5 1-5 1-2 1,2 1,7 1,9 1,10 1,10 1,10 1,10 1,9 1,9 1,9 1,7 1,7 1,5 1,5 1,4 1,2 1,3 1,1 1,1 1,1 1,1 1,0 1,0 1,1 1,0 1,0 1,0 1,0 1,0 1,0"/>
<path class="k c9 d2" transform="scale(7 1)" d="M44.134,1491l1,0 1,0 1,0 1,0 1,0 1,0 1,0 1,0 1-1 1,0 1,0 1-1 1-1 1-1 1-1 1-2 1-2 1-3 1-3 1-5 1-5 1-5 1-7 1-7 1-8 1-8 1-9 1-8 1-7 1-9 1-9 1-10 1-9 1-5 1,1 1,7 1,12 1,15 1,13 1,10 1,8 1,5 1,5 1,6 1,6 1,6 1,5 1,6 1,4 1,4 1,3 1,3 1,1 1,2 1,1 1,1 1,1 1,0 1,0 1,1 1,0 1,0"/>
<path class="k c9 d3" transform="scale(7 1)" d="M46.724,1491l1,0 1,0 1,0 1,0 1,0 1-1 1,0 1,0 1-1 1-1 1-1 1-2 1-2 1-3 1-3 1-4 1-4 1-4 1-4 1-5 1-9 1-13 1-15 1-13 1-10 1-7 1-5 1-3 1-3 1,0 1,1 1,3 1,6 1,8 1,9 1,9 1,10 1,8 1,8 1,7 1,7 1,6 1,6 1,6 1,4 1,4 1,3 1,2 1,2 1,1 1,1 1,0 1,1 1,0 1,1 1,0 1,0 1,0 1,0 1,0 1,0 1,0 1,0"/>
<path class="k c0" transform="scale(7 1)" d="M43.410,1491l1,0 1,0 1,0 1,0 1,0 1,0 1,0 1-1 1,0 1,0 1-1 1-1 1-2 1-3 1-3 1-5 1-6 1-8 1-10 1-12 1-14 1-16 1-16 1-13 1-10 1-9 1-6 1-3 1,0 1,4 1,7 1,9 1,11 1,13 1,13 1,14 1,12 1,12 1,10 1,8 1,7 1,5 1,4 1,3 1,3 1,1 1,1 1,1 1,0 1,1 1,0 1,0 1,0 1,0"/>
<path class="k c0 d1" transform="scale(7 1)" d="M44.649,1491l1,0 1,0 1,0 1,0 1,0 1,0 1-1 1,0 1,0 1-1 1-2 1-1 1-3 1-3 1-4 1-6 1-7 1-9 1-9 1-12 1-12 1-12 1-13 1-13 1-12 1-10 1-8 1-4 1,1 1,6 1,9 1,12 1,12 1,13 1,12 1,13 1,12 1,11 1,9 1,8 1,7 1,5 1,3 1,3 1,2 1,1 1,1 1,1 1,0 1,1"/>
<path class="k c0 d2" transform="scale(7 1)" d="M48.274,1491l1,0 1,0 1-1 1,0 1-1 1-1 1-2 1-2 1-3 1-4 1-5 1-7 1-8 1-9 1-10 1-10 1-11 1-12 1-14 1-13 1-10 1-7 1-3 1,1 1,4 1,7 1,11 1,14 1,17 1,16 1,11 1,8 1,7 1,9 1,8 1,7 1,6 1,2 1,2 1,0 1,1 1,1 1,0 1,0 1,1 1,0 1,0 1,0 1,0 1,0"/>
<path class="k c0 d3" transform="scale(7 1)" d="M42.366,1491l1,0 1,0 1,0 1,0 1,0 1,0 1,0 1-1 1,0 1,0 1-1 1-1 1-2 1-2 1-2 1-4 1-5 1-5 1-7 1-8 1-9 1-9 1-8 1-6 1-5 1-5 1-7 1-8 1-8 1-6 1-3 1,0 1,4 1,5 1,8 1,9 1,10 1,10 1,11 1,10 1,9 1,7 1,7 1,5 1,5 1,3 1,3 1,2 1,1 1,1 1,1 1,0 1,0 1,1 1,0 1,0 1,0 1,0"/>
<path class="k c1" transform="scale(7 1)" d="M36.431,1491l1,0 1,0 1,0 1,0 1-1 1,0 1-1 1,0 1-1 1-2 1-2 1-3 1-4 1-5 1-5 1-7 1-7 1-7 1-8 1-8 1-9 1-11 1-12 1-12 1-11 1-10 1-11 1-8 1,0 1,8 1,14 1,13 1,12 1,13 1,13 1,14 1,12 1,10 1,8 1,7 1,5 1,4 1,4 1,2 1,2 1,1 1,1 1,1 1,0 1,0 1,1 1,0 1,0 1,0 1,0 1,0 1,0 1,0"/>
<path class="k c1 d1" transform="scale(7 1)" d="M32.480,1491l1,0 1,0 1,0 1,0 1,0 1,0 1,0 1,0 1-1 1,0 1,0 1-1 1-1 1-2 1-2 1-3 1-3 1-4 1-4 1-7 1-11 1-13 1-13 1-14 1-14 1-16 1-15 1-8 1-2 1,3 1,1 1,1 1,1 1,4 1,8 1,13 1,15 1,17 1,14 1,12 1,11 1,8 1,6 1,6 1,4 1,3 1,2 1,2 1,1 1,1 1,0 1,0 1,1 1,0 1,0 1,0 1,0 1,0 1,0"/>
<path class="k c1 d2" transform="scale(7 1)" d="M41.746,1491l1,0 1-1 1,0 1-1 1-1 1-2 1-3 1-4 1-5 1-7 1-9 1-10 1-13 1-13 1-15 1-15 1-14 1-13 1-11 1-7 1-2 1,7 1,16 1,20 1,17 1,11 1,8 1,9 1,10 1,11 1,9 1,8 1,6 1,5 1,3 1,2 1,1 1,1 1,1 1,0 1,1 1,0 1,0 1,0 1,0"/>
<path class="k c1 d3" transform="scale(7 1)" d="M39.647,1491l1,0 1,0 1-1 1,0 1,0 1-1 1-1 1-2 1-2 1-4 1-4 1-5 1-7 1-8 1-10 1-11 1-11 1-12 1-10 1-7 1-5 1-5 1-6 1-8 1-4 1,1 1,6 1,10 1,11 1,12 1,11 1,12 1,11 1,11 1,9 1,8 1,6 1,4 1,3 1,3 1,2 1,1 1,1 1,1 1,0 1,1 1,0 1,0 1,0 1,0 1,0"/>
<path class="k c2" transform="scale(7 1)" d="M46.806,1491l1,0 1,0 1,0 1,0 1,0 1,0 1,0 1-1 1,0 1,0 1-1 1-1 1-2 1-2 1-4 1-4 1-6 1-8 1-9 1-11 1-13 1-15 1-16 1-16 1-13 1-8 1-5 1-3 1,0 1,3 1,7 1,9 1,11 1,14 1,14 1,15 1,13 1,10 1,9 1,8 1,7 1,5 1,4 1,3 1,2 1,1 1,1 1,1 1,0 1,1 1,0 1,0 1,0 1,0 1,0"/>
<path class="k c2 d1" transform="scale(7 1)" d="M49.146,1491l1,0 1,0 1,0 1,0 1,0 1-1 1,0 1-1 1,0 1-2 1-1 1-2 1-3 1-3 1-3 1-6 1-7 1-9 1-9 1-10 1-11 1-11 1-13 1-14 1-15 1-14 1-9 1-1 1,5 1,8 1,10 1,11 1,11 1,13 1,12 1,11 1,11 1,10 1,9 1,7 1,6 1,6 1,4 1,3 1,2 1,2 1,1 1,1 1,1 1,0 1,0 1,1 1,0 1,0 1,0 1,0 1,0"/>
<path class="k c2 d2" transform="scale(7 1)" d="M49.042,1491l1,0 1,0 1,0 1,0 1,0 1,0 1-1 1,0 1,0 1-1 1-2 1-1 1-3 1-3 1-5 1-6 1-8 1-10 1-12 1-13 1-14 1-13 1-10 1-7 1-4 1-2 1-3 1-1 1,2 1,4 1,6 1,7 1,9 1,11 1,12 1,13 1,11 1,10 1,8 1,6 1,6 1,4 1,3 1,2 1,2 1,1 1,1 1,0 1,0 1,1 1,0 1,0 1,0 1,0 1,0 1,0 1,0"/>
<path class="k c2 d3" transform="scale(7 1)" d="M44.375,1491l1,0 1,0 1,0 1,0 1,0 1,0 1,0 1,0 1-1 1,0 1-1 1-1 1-1 1-1 1-3 1-3 1-4 1-5 1-6 1-8 1-9 1-9 1-10 1-9 1-9 1-12 1-12 1-8 1-1 1,6 1,5 1-2 1-4 1,1 1,7 1,9 1,11 1,10 1,11 1,11 1,9 1,8 1,7 1,6 1,5 1,4 1,2 1,2 1,2 1,1 1,1 1,0 1,0 1,1 1,0 1,0 1,0 1,0 1,0 1,0"/>
<path class="k c3" transform="scale(7 1)" d="M57.106,1491l1,0 1,0 1-1 1,0 1,0 1-1 1-1 1-2 1-2 1-3 1-4 1-7 1-9 1-11 1-11 1-11 1-8 1-6 1-8 1-8 1-9 1-8 1-6 1-2 1,1 1,5 1,5 1,6 1,6 1,7 1,8 1,8 1,9 1,10 1,9 1,9 1,7 1,7 1,5 1,4 1,4 1,2 1,2 1,1 1,1 1,1 1,0 1,0 1,1 1,0"/>
<path class="k c3 d1" transform="scale(7 1)" d="M51.586,1491l1,0 1,0 1,0 1,0 1,0 1,0 1-1 1,0 1,0 1-1 1,0 1-1 1-2 1-2 1-2 1-3 1-4 1-5 1-6 1-7 1-8 1-9 1-9 1-10 1-10 1-10 1-9 1-8 1-6 1-4 1-4 1-1 1,1 1,5 1,7 1,9 1,10 1,11 1,11 1,10 1,10 1,9 1,8 1,7 1,5 1,5 1,3 1,3 1,2 1,2 1,1 1,1 1,1 1,0 1,0 1,1 1,0 1,0 1,0 1,0 1,0 1,0 1,0 1,0"/>
<path class="k c3 d2" transform="scale(7 1)" d="M59.887,1491l1,0 1,0 1-1 1,0 1,0 1-1 1-1 1-2 1-2 1-3 1-4 1-5 1-6 1-7 1-8 1-8 1-10 1-10 1-11 1-12 1-13 1-14 1-13 1-5 1,7 1,16 1,17 1,14 1,11 1,10 1,9 1,9 1,8 1,7 1,7 1,5 1,4 1,4 1,2 1,2 1,1 1,1 1,1 1,0 1,0 1,1 1,0"/>
<path class="k c3 d3" transform="scale(7 1)" d="M57.739,1491l1,0 1,0 1,0 1,0 1-1 1,0 1,0 1-1 1-1 1-2 1-2 1-3 1-4 1-6 1-6 1-8 1-9 1-10 1-11 1-12 1-11 1-10 1-9 1-10 1-13 1-7 1,4 1,9 1,11 1,15 1,14 1,12 1,13 1,10 1,8 1,7 1,8 1,7 1,5 1,4 1,3 1,2 1,1 1,1 1,1 1,0 1,1 1,0 1,0"/>
<path class="k c4" transform="scale(7 1)" d="M66.618,1491l1,0 1,0 1,0 1-1 1,0 1-1 1,0 1-2 1-1 1-3 1-3 1-4 1-6 1-6 1-8 1-9 1-10 1-11 1-10 1-8 1-8 1-8 1-8 1-8 1-7 1-4 1-1 1,2 1,5 1,9 1,13 1,15 1,15 1,14 1,10 1,9 1,8 1,6 1,6 1,4 1,3 1,3 1,1 1,2 1,0 1,1 1,0 1,1 1,0 1,0 1,0"/>
<path class="k c4 d1" transform="scale(7 1)" d="M62.508,1491l1,0 1,0 1,0 1,0 1,0 1,0 1,0 1,0 1-1 1,0 1,0 1-1 1-1 1-2 1-2 1-2 1-4 1-4 1-6 1-6 1-8 1-8 1-9 1-9 1-9 1-7 1-7 1-9 1-9 1-10 1-6 1-2 1,3 1,6 1,8 1,9 1,11 1,10 1,10 1,9 1,9 1,9 1,8 1,8 1,6 1,5 1,3 1,3 1,2 1,1 1,1 1,0 1,0 1,1"/>
<path class="k c4 d2" transform="scale(7 1)" d="M65.492,1491l1,0 1,0 1,0 1,0 1,0 1,0 1-1 1,0 1-1 1-1 1-1 1-2 1-2 1-4 1-4 1-6 1-7 1-9 1-10 1-10 1-10 1-10 1-9 1-11 1-12 1-11 1-8 1-2 1-1 1-1 1,2 1,5 1,13 1,18 1,18 1,15 1,12 1,10 1,9 1,7 1,6 1,5 1,4 1,3 1,2 1,1 1,1 1,1 1,0 1,0 1,1 1,0 1,0 1,0 1,0 1,0"/>
<path class="k c4 d3" transform="scale(7 1)" d="M65.263,1491l1,0 1,0 1,0 1,0 1,0 1-1 1,0 1-1 1,0 1-1 1-2 1-2 1-3 1-4 1-5 1-6 1-7 1-9 1-9 1-11 1-10 1-11 1-9 1-7 1-7 1-8 1-7 1-3 1,0 1,4 1,6 1,8 1,8 1,7 1,8 1,12 1,13 1,12 1,10 1,9 1,6 1,5 1,4 1,3 1,3 1,1 1,2 1,0 1,1 1,0 1,1 1,0 1,0 1,0 1,0 1,0"/>
<path class="k c5" transform="scale(7 1)" d="M26.943,1491l1,0 1,0 1,0 1,0 1,0 1,0 1,0 1-1 1,0 1,0 1-1 1-1 1-1 1-2 1-2 1-3 1-4 1-4 1-5 1-7 1-7 1-7 1-8 1-8 1-8 1-8 1-7 1-7 1-5 1-1 1,2 1,7 1,8 1,8 1,9 1,7 1,8 1,7 1,7 1,6 1,6 1,5 1,4 1,4 1,2 1,2 1,2 1,1 1,0 1,1 1,0 1,1 1,0 1,0 1,0 1,0 1,0 1,0"/>
<path class="k c5 d1" transform="scale(7 1)" d="M29.397,1491l1,0 1,0 1,0 1,0 1,0 1-1 1,0 1-1 1,0 1-2 1-1 1-2 1-3 1-4 1-5 1-5 1-7 1-7 1-8 1-9 1-9 1-8 1-8 1-6 1-5 1-4 1-1 1,1 1,5 1,7 1,8 1,7 1,8 1,8 1,7 1,8 1,7 1,7 1,6 1,4 1,4 1,2 1,2 1,2 1,1 1,1 1,0 1,0 1,1 1,0 1,0 1,0 1,0 1,0"/>
<path class="k c5 d2" transform="scale(7 1)" d="M29.807,1491l1,0 1,0 1,0 1,0 1-1 1,0 1-1 1,0 1-2 1-1 1-2 1-3 1-3 1-4 1-5 1-7 1-8 1-9 1-10 1-8 1-8 1-6 1-6 1-4 1-2 1,0 1,0 1,1 1,3 1,7 1,7 1,8 1,9 1,8 1,8 1,8 1,6 1,6 1,4 1,4 1,3 1,2 1,2 1,1 1,1 1,1 1,0 1,0 1,1 1,0 1,0 1,0 1,0 1,0 1,0"/>
<path class="k c5 d3" transform="scale(7 1)" d="M30.378,1491l1,0 1,0 1-1 1,0 1,0 1-1 1-1 1-1 1-1 1-2 1-2 1-3 1-3 1-4 1-5 1-5 1-6 1-6 1-6 1-7 1-6 1-6 1-6 1-4 1-4 1-2 1-2 1-1 1,1 1,2 1,5 1,7 1,8 1,6 1,6 1,5 1,5 1,5 1,6 1,6 1,6 1,4 1,4 1,2 1,2 1,1 1,1 1,1 1,1 1,0 1,0 1,1 1,0 1,0"/>
<path class="k c6" transform="scale(7 1)" d="M58.385,1491l1,0 1,0 1,0 1,0 1,0 1,0 1,0 1,0 1,0 1-1 1,0 1,0 1-1 1-1 1-1 1-1 1-2 1-3 1-3 1-3 1-4 1-3 1-5 1-7 1-9 1-9 1-9 1-9 1-8 1-8 1-6 1-6 1-4 1-3 1-1 1,0 1,1 1,2 1,4 1,5 1,7 1,8 1,9 1,10 1,10 1,9 1,8 1,7 1,5 1,5 1,4 1,3 1,2 1,2 1,2 1,1 1,1 1,1 1,0 1,0 1,0 1,1 1,0 1,0 1,0 1,0 1,0"/>
<path class="k c6 d1" transform="scale(7 1)" d="M63.403,1491l1,0 1,0 1,0 1,0 1,0 1-1 1,0 1,0 1-1 1-1 1-1 1-1 1-2 1-3 1-3 1-5 1-5 1-6 1-8 1-8 1-9 1-9 1-9 1-8 1-4 1-2 1,0 1-2 1-1 1-1 1-1 1,0 1,0 1,2 1,2 1,4 1,6 1,8 1,8 1,8 1,8 1,7 1,7 1,6 1,5 1,5 1,3 1,3 1,2 1,2 1,2 1,1 1,0 1,1 1,0 1,0 1,1 1,0 1,0"/>
<path class="k c6 d2" transform="scale(7 1)" d="M61.871,1491l1,0 1,0 1,0 1,0 1,0 1,0 1,0 1,0 1-1 1,0 1,0 1-1 1-1 1-1 1-2 1-2 1-3 1-4 1-4 1-5 1-7 1-7 1-7 1-8 1-9 1-7 1-8 1-7 1-7 1-7 1-6 1-5 1-2 1,0 1,3 1,5 1,8 1,9 1,10 1,8 1,8 1,8 1,8 1,8 1,7 1,6 1,5 1,4 1,4 1,2 1,2 1,1 1,1 1,1 1,1 1,0 1,1 1,0 1,1 1,0 1,0 1,0 1,0 1,0 1,0 1,0 1,0"/>
<path class="k c6 d3" transform="scale(10 1)" d="M40.349,1491l1,0 1,0 1,0 1,0 1,0 1-1 1,0 1-1 1-1 1-1 1-2 1-3 1-3 1-5 1-6 1-7 1-9 1-8 1-10 1-9 1-8 1-5 1-3 1-3 1-7 1-8 1-1 1,9 1,12 1,10 1,9 1,9 1,8 1,7 1,6 1,6 1,6 1,5 1,5 1,3 1,3 1,1 1,1 1,0 1,1 1,0 1,0 1,0 1,0 1,0 1,0"/>
<path class="k c7" transform="scale(10 1)" d="M44.497,1491l1,0 1,0 1,0 1,0 1,0 1,0 1,0 1,0 1,0 1-1 1,0 1,0 1-1 1-1 1-1 1-1 1-2 1-3 1-3 1-4 1-5 1-5 1-6 1-5 1-5 1-6 1-4 1-4 1-3 1-2 1,0 1,2 1,3 1,5 1,4 1,4 1,5 1,4 1,5 1,6 1,5 1,5 1,4 1,3 1,2 1,1 1,1 1,1 1,1 1,0 1,0 1,1 1,0 1,0 1,0 1,0 1,0 1,0 1,0 1,0 1,0"/>
<path class="k c7 d1" transform="scale(10 1)" d="M47.153,1491l1,0 1,0 1,0 1,0 1,0 1-1 1,0 1,0 1-1 1,0 1-1 1-1 1-2 1-2 1-3 1-3 1-4 1-5 1-6 1-6 1-5 1-5 1-5 1-5 1-6 1-3 1,0 1,3 1,4 1,3 1,3 1,4 1,3 1,4 1,5 1,5 1,5 1,5 1,4 1,3 1,3 1,3 1,1 1,2 1,1 1,1 1,1 1,0 1,0 1,1 1,0 1,0 1,0 1,0 1,0 1,0 1,0 1,0"/>
<path class="k c7 d2" transform="scale(10 1)" d="M49.076,1491l1,0 1,0 1,0 1,0 1,0 1,0 1-1 1,0 1,0 1-1 1-1 1-1 1-2 1-2 1-3 1-3 1-4 1-5 1-5 1-4 1-4 1-5 1-5 1-6 1-5 1-2 1,0 1,1 1,2 1,2 1,3 1,6 1,6 1,6 1,6 1,5 1,5 1,4 1,3 1,3 1,2 1,1 1,2 1,0 1,1 1,0 1,1 1,0 1,0"/>
<path class="k c7 d3" transform="scale(10 1)" d="M43.067,1491l1,0 1,0 1,0 1,0 1,0 1,0 1,0 1,0 1,0 1,0 1-1 1,0 1,0 1-1 1-1 1-1 1-1 1-2 1-3 1-4 1-5 1-5 1-4 1-5 1-4 1-5 1-4 1-3 1-2 1,0 1,1 1,0 1,0 1-1 1,0 1,3 1,4 1,4 1,6 1,5 1,5 1,5 1,4 1,3 1,3 1,3 1,1 1,2 1,1 1,0 1,1 1,0 1,1 1,0 1,0 1,0 1,0 1,0 1,0 1,0 1,0 1,0 1,0"/>
<path class="k c8" transform="scale(7 1)" d="M49.877,1491l1,0 1,0 1,0 1-1 1,0 1,0 1-1 1-1 1-2 1-2 1-3 1-4 1-5 1-5 1-6 1-6 1-8 1-10 1-12 1-14 1-13 1-13 1-11 1-9 1-4 1-1 1,3 1,7 1,8 1,11 1,12 1,12 1,12 1,12 1,11 1,9 1,9 1,6 1,6 1,4 1,3 1,2 1,1 1,1 1,1 1,0 1,1 1,0 1,0 1,0 1,0 1,0 1,0"/>
<path class="k c8 d1" transform="scale(7 1)" d="M47.087,1491l1,0 1,0 1,0 1,0 1,0 1,0 1,0 1,0 1-1 1,0 1-1 1-1 1-2 1-2 1-3 1-4 1-6 1-7 1-8 1-10 1-11 1-14 1-16 1-21 1-21 1-15 1-3 1,4 1,5 1,10 1,16 1,15 1,13 1,12 1,11 1,11 1,10 1,9 1,8 1,6 1,4 1,4 1,3 1,1 1,2 1,1 1,0 1,0 1,1 1,0"/>
<path class="k c8 d2" transform="scale(7 1)" d="M48.073,1491l1,0 1,0 1,0 1,0 1,0 1,0 1-1 1,0 1-1 1-1 1-2 1-2 1-3 1-4 1-6 1-7 1-9 1-10 1-11 1-13 1-13 1-13 1-13 1-10 1-9 1-6 1-3 1-1 1,1 1,2 1,6 1,15 1,20 1,19 1,15 1,12 1,11 1,9 1,7 1,6 1,4 1,4 1,2 1,2 1,1 1,1 1,0 1,0 1,1 1,0"/>
<path class="k c8 d3" transform="scale(7 1)" d="M49.047,1491l1,0 1,0 1,0 1-1 1,0 1-1 1-1 1-2 1-2 1-3 1-5 1-5 1-8 1-9 1-11 1-12 1-13 1-14 1-14 1-12 1-11 1-8 1-5 1-1 1,4 1,9 1,16 1,20 1,22 1,18 1,10 1,4 1,2 1,4 1,6 1,5 1,5 1,4 1,3 1,2 1,2 1,0 1,1 1,0 1,1 1,0 1,0 1,0 1,0 1,0"/>
<path class="k c9" transform="scale(10 1)" d="M52.233,1491l1,0 1,0 1,0 1,0 1-1 1,0 1,0 1-1 1-1 1-1 1-1 1-2 1-3 1-3 1-4 1-4 1-3 1-3 1-2 1-2 1-2 1-2 1-2 1-2 1-1 1,0 1,0 1,2 1,2 1,3 1,2 1,3 1,3 1,3 1,4 1,4 1,4 1,3 1,2 1,1 1,1 1,1 1,0 1,1 1,0 1,0 1,1 1,0 1,0 1,0 1,0 1,0 1,0"/>
<path class="k c9 d1" transform="scale(10 1)" d="M46.190,1491l1,0 1,0 1,0 1,0 1,0 1,0 1,0 1,0 1,0 1,0 1,0 1-1 1,0 1,0 1-1 1,0 1-1 1-2 1-1 1-2 1-3 1-2 1-4 1-3 1-4 1-3 1-3 1-2 1-2 1-3 1-3 1-3 1-1 1,1 1,2 1,3 1,3 1,3 1,4 1,5 1,4 1,4 1,3 1,2 1,2 1,2 1,1 1,1 1,1 1,1 1,1 1,0 1,0 1,1 1,0 1,0 1,0"/>
<path class="k c9 d2" transform="scale(10 1)" d="M49.246,1491l1,0 1,0 1,0 1,0 1,0 1,0 1,0 1,0 1,0 1-1 1,0 1,0 1-1 1-1 1-1 1-2 1-3 1-2 1-4 1-3 1-5 1-4 1-4 1-3 1,0 1,2 1,0 1-5 1-5 1-1 1,2 1,3 1,3 1,3 1,4 1,4 1,4 1,5 1,5 1,3 1,2 1,1 1,1 1,1 1,1 1,0 1,0 1,1 1,0 1,0 1,0 1,0 1,0 1,0"/>
<path class="k c9 d3" transform="scale(10 1)" d="M45.936,1491l1,0 1,0 1,0 1,0 1,0 1,0 1,0 1,0 1,0 1-1 1,0 1,0 1-1 1-1 1,0 1-2 1-1 1-2 1-2 1-2 1-3 1-3 1-4 1-3 1-3 1-3 1-3 1-2 1-2 1-1 1-1 1,1 1,1 1,2 1,2 1,3 1,4 1,4 1,4 1,3 1,2 1,2 1,2 1,2 1,2 1,1 1,2 1,0 1,1 1,1 1,0 1,0 1,1 1,0 1,0 1,0 1,0 1,0 1,0 1,0 1,0"/>
<path class="k c0" transform="scale(7 1)" d="M58.327,1491l1,0 1,0 1,0 1,0 1-1 1,0 1,0 1-1 1-1 1-1 1-2 1-3 1-3 1-5 1-5 1-7 1-9 1-9 1-11 1-13 1-13 1-13 1-12 1-9 1-4 1-2 1,1 1,3 1,3 1,5 1,6 1,9 1,9 1,11 1,11 1,11 1,10 1,9 1,8 1,7 1,5 1,4 1,4 1,2 1,2 1,1 1,1 1,1 1,0 1,0 1,1"/>
<path class="k c0 d1" transform="scale(7 1)" d="M59.226,1491l1,0 1,0 1-1 1,0 1,0 1-1 1-1 1-1 1-2 1-2 1-4 1-4 1-5 1-6 1-8 1-8 1-10 1-9 1-10 1-9 1-8 1-7 1-8 1-7 1-4 1-1 1,3 1,6 1,8 1,7 1,7 1,7 1,9 1,10 1,9 1,10 1,8 1,7 1,6 1,5 1,4 1,2 1,3 1,1 1,2 1,0 1,1 1,0 1,1 1,0"/>
<path class="k c0 d2" transform="scale(7 1)" d="M55.982,1491l1,0 1,0 1,0 1,0 1-1 1,0 1,0 1-1 1-1 1-1 1-2 1-2 1-3 1-4 1-5 1-5 1-7 1-9 1-10 1-12 1-12 1-13 1-11 1-8 1-6 1-3 1-1 1,1 1,3 1,4 1,5 1,5 1,5 1,7 1,8 1,8 1,9 1,8 1,9 1,9 1,7 1,7 1,5 1,5 1,3 1,2 1,2 1,2 1,1 1,0 1,1 1,0 1,1 1,0 1,0 1,0 1,0"/>
<path class="k c0 d3" transform="scale(7 1)" d="M50.157,1491l1,0 1,0 1,0 1,0 1,0 1,0 1,0 1,0 1,0 1-1 1,0 1,0 1-1 1-1 1-1 1-2 1-2 1-2 1-4 1-4 1-5 1-6 1-7 1-6 1-5 1-5 1-7 1-13 1-18 1-14 1-6 1-1 1,2 1,2 1,1 1,2 1,4 1,5 1,6 1,8 1,9 1,10 1,9 1,8 1,8 1,7 1,7 1,5 1,4 1,4 1,2 1,2 1,2 1,1 1,1 1,1 1,0 1,0 1,1 1,0 1,0 1,0"/>
<path class="k c1" transform="scale(7 1)" d="M62.947,1491l1,0 1,0 1-1 1,0 1,0 1-1 1-1 1-1 1-1 1-2 1-2 1-4 1-3 1-5 1-5 1-6 1-6 1-6 1-7 1-9 1-9 1-9 1-10 1-10 1-9 1-7 1-3 1,1 1,4 1,7 1,7 1,7 1,8 1,8 1,9 1,9 1,8 1,9 1,7 1,7 1,5 1,5 1,4 1,3 1,2 1,2 1,2 1,1 1,0 1,1 1,0 1,0 1,1"/>
<path class="k c1 d1" transform="scale(7 1)" d="M60.004,1491l1,0 1,0 1,0 1,0 1,0 1-1 1,0 1,0 1-1 1-1 1-1 1-2 1-2 1-2 1-4 1-4 1-5 1-6 1-8 1-8 1-11 1-12 1-13 1-12 1-11 1-8 1-5 1-4 1-1 1,3 1,6 1,6 1,6 1,6 1,5 1,7 1,9 1,11 1,11 1,10 1,8 1,7 1,5 1,5 1,4 1,3 1,3 1,2 1,1 1,1 1,1 1,1 1,0 1,0 1,1 1,0 1,0 1,0 1,0 1,0 1,0 1,0 1,0"/>
<path class="k c1 d2" transform="scale(10 1)" d="M37.147,1491l1,0 1,0 1,0 1,0 1,0 1,0 1,0 1-1 1,0 1-1 1-1 1-1 1-1 1-3 1-3 1-6 1-9 1-9 1-10 1-11 1-11 1-11 1-13 1-14 1-11 1-4 1,4 1,8 1,8 1,8 1,9 1,10 1,14 1,15 1,11 1,9 1,6 1,5 1,4 1,3 1,2 1,2 1,1 1,0 1,0 1,1 1,0 1,0 1,0 1,0 1,0 1,0"/>
<path class="k c1 d3" transform="scale(10 1)" d="M37.126,1491l1,0 1,0 1,0 1,0 1,0 1,0 1-1 1,0 1-1 1-1 1-2 1-2 1-4 1-5 1-6 1-7 1-9 1-9 1-5 1-4 1-13 1-16 1-10 1-3 1,3 1,5 1,4 1,5 1,6 1,10 1,13 1,12 1,9 1,6 1,5 1,5 1,5 1,3 1,2 1,2 1,1 1,1 1,0 1,1 1,0 1,0"/>
<path class="k c2" transform="scale(7 1)" d="M44.000,1491l1,0 1,0 1,0 1-1 1,0 1,0 1-1 1-1 1-1 1-2 1-3 1-3 1-5 1-5 1-7 1-8 1-10 1-10 1-11 1-11 1-11 1-10 1-8 1-7 1-5 1-4 1-2 1,0 1,6 1,10 1,12 1,13 1,12 1,11 1,11 1,10 1,8 1,8 1,6 1,5 1,4 1,3 1,2 1,2 1,1 1,1 1,0 1,0 1,1 1,0"/>
<path class="k c2 d1" transform="scale(7 1)" d="M42.520,1491l1,0 1,0 1,0 1,0 1,0 1,0 1-1 1,0 1,0 1-1 1-1 1-1 1-2 1-3 1-3 1-5 1-5 1-7 1-8 1-9 1-10 1-11 1-13 1-14 1-12 1-8 1-6 1-5 1-1 1,2 1,5 1,7 1,9 1,10 1,12 1,12 1,12 1,12 1,10 1,8 1,6 1,5 1,3 1,4 1,2 1,2 1,2 1,1 1,1 1,0 1,0 1,1 1,0 1,0"/>
<path class="k c2 d2" transform="scale(7 1)" d="M40.616,1491l1,0 1,0 1,0 1,0 1,0 1-1 1,0 1,0 1-1 1-1 1-1 1-2 1-2 1-3 1-4 1-4 1-6 1-6 1-7 1-9 1-8 1-9 1-9 1-9 1-8 1-8 1-6 1-7 1-6 1-5 1-4 1,0 1,7 1,12 1,14 1,13 1,12 1,11 1,8 1,7 1,6 1,4 1,5 1,6 1,5 1,5 1,4 1,2 1,2 1,1 1,1 1,0 1,1 1,0 1,0 1,0 1,0 1,0 1,0"/>
<path class="k c2 d3" transform="scale(7 1)" d="M44.058,1491l1,0 1-1 1,0 1,0 1-1 1-1 1-1 1-1 1-2 1-3 1-3 1-4 1-5 1-6 1-6 1-7 1-8 1-9 1-9 1-8 1-9 1-8 1-6 1-5 1-1 1,2 1,4 1,5 1,2 1,2 1,2 1,4 1,6 1,8 1,9 1,9 1,8 1,7 1,7 1,6 1,5 1,4 1,3 1,3 1,2 1,2 1,1 1,1 1,0 1,1 1,0 1,0 1,1 1,0 1,0 1,0 1,0 1,0 1,0 1,0"/>
<path class="k c3" transform="scale(7 1)" d="M45.746,1491l1,0 1,0 1,0 1,0 1-1 1,0 1-1 1,0 1-2 1-2 1-2 1-4 1-5 1-6 1-7 1-9 1-11 1-12 1-13 1-14 1-15 1-13 1-10 1-5 1-1 1,1 1,5 1,7 1,7 1,9 1,11 1,12 1,12 1,12 1,11 1,10 1,9 1,7 1,5 1,5 1,3 1,2 1,2 1,1 1,1 1,0 1,0 1,1 1,0 1,0 1,0 1,0 1,0 1,0 1,0"/>
<path class="k c3 d1" transform="scale(7 1)" d="M47.806,1491l1,0 1-1 1,0 1,0 1-1 1-1 1-1 1-2 1-3 1-3 1-3 1-4 1-4 1-4 1-4 1-4 1-6 1-10 1-11 1-13 1-11 1-11 1-8 1-7 1-4 1,0 1,2 1,5 1,8 1,9 1,11 1,13 1,12 1,12 1,8 1,7 1,5 1,4 1,4 1,4 1,3 1,2 1,2 1,2 1,1 1,0 1,1 1,0 1,1 1,0 1,0 1,0 1,0 1,0 1,0 1,0 1,0"/>
<path class="k c3 d2" transform="scale(7 1)" d="M40.745,1491l1,0 1,0 1,0 1,0 1,0 1,0 1,0 1,0 1-1 1,0 1-1 1,0 1-1 1-2 1-2 1-3 1-4 1-4 1-6 1-7 1-9 1-9 1-10 1-11 1-11 1-10 1-10 1-9 1-7 1-6 1-6 1-4 1,4 1,10 1,12 1,12 1,12 1,11 1,10 1,9 1,10 1,8 1,8 1,6 1,5 1,4 1,4 1,2 1,2 1,1 1,1 1,1 1,0 1,0 1,1 1,0"/>
<path class="k c3 d3" transform="scale(7 1)" d="M41.147,1491l1,0 1,0 1,0 1,0 1,0 1,0 1,0 1,0 1-1 1,0 1,0 1-1 1-1 1-1 1-2 1-2 1-2 1-5 1-7 1-8 1-8 1-9 1-10 1-11 1-12 1-13 1-15 1-16 1-13 1-4 1,4 1,8 1,8 1,7 1,9 1,9 1,11 1,11 1,11 1,10 1,10 1,9 1,8 1,7 1,6 1,5 1,2 1,1 1,1 1,1 1,1 1,1 1,0 1,1 1,0 1,0"/>
<path class="k c4" transform="scale(7 1)" d="M61.573,1491l1,0 1,0 1,0 1,0 1-1 1,0 1-1 1-1 1-1 1-3 1-4 1-5 1-7 1-10 1-11 1-14 1-16 1-17 1-17 1-17 1-16 1-13 1-10 1-4 1,4 1,14 1,21 1,18 1,17 1,18 1,17 1,14 1,12 1,9 1,8 1,5 1,4 1,3 1,1 1,1 1,1 1,0 1,1 1,0 1,0"/>
<path class="k c4 d1" transform="scale(7 1)" d="M61.821,1491l1,0 1,0 1,0 1-1 1,0 1-1 1-1 1-1 1-3 1-4 1-5 1-7 1-10 1-12 1-14 1-15 1-13 1-11 1-6 1-8 1-16 1-15 1-7 1,3 1,8 1,13 1,14 1,14 1,14 1,17 1,17 1,14 1,12 1,8 1,5 1,4 1,3 1,1 1,1 1,1 1,0 1,1 1,0 1,0 1,0 1,0"/>
<path class="k c4 d2" transform="scale(7 1)" d="M62.899,1491l1-1 1,0 1,0 1-1 1-2 1-2 1-3 1-4 1-6 1-8 1-10 1-11 1-14 1-15 1-15 1-15 1-14 1-13 1-10 1-7 1-1 1,4 1,9 1,13 1,17 1,20 1,21 1,16 1,10 1,8 1,8 1,7 1,6 1,4 1,3 1,2 1,2 1,1 1,0 1,0 1,1 1,0 1,0 1,0 1,0 1,0"/>
<path class="k c4 d3" transform="scale(7 1)" d="M60.695,1491l1,0 1,0 1,0 1,0 1,0 1,0 1-1 1,0 1-1 1-2 1-2 1-3 1-3 1-2 1-8 1-16 1-18 1-18 1-16 1-17 1-17 1-19 1-16 1-9 1,0 1,8 1,10 1,14 1,17 1,20 1,21 1,20 1,16 1,13 1,9 1,7 1,4 1,4 1,2 1,1 1,1 1,0 1,1 1,0 1,0 1,0 1,0"/>
<path class="k c5" transform="scale(10 1)" d="M39.175,1491l1,0 1,0 1-1 1,0 1,0 1-1 1,0 1-1 1-2 1-1 1-2 1-3 1-4 1-4 1-5 1-5 1-7 1-6 1-7 1-7 1-6 1-6 1-5 1-5 1-3 1-1 1,1 1,1 1,1 1,3 1,6 1,8 1,8 1,8 1,7 1,7 1,6 1,5 1,5 1,3 1,3 1,3 1,2 1,1 1,1 1,1 1,1 1,0 1,0 1,1 1,0 1,0 1,0 1,0 1,0 1,0 1,0"/>
<path class="k c5 d1" transform="scale(10 1)" d="M28.279,1491l1,0 1,0 1,0 1,0 1,0 1,0 1,0 1,0 1,0 1,0 1,0 1-1 1,0 1,0 1-1 1,0 1-1 1-1 1-1 1-2 1-2 1-3 1-3 1-3 1-4 1-5 1-5 1-5 1-6 1-6 1-6 1-5 1-6 1-4 1-4 1-1 1,0 1,2 1,2 1,2 1,4 1,4 1,5 1,5 1,6 1,5 1,5 1,6 1,4 1,5 1,3 1,4 1,3 1,2 1,2 1,1 1,2 1,0 1,1 1,1 1,0 1,0 1,1 1,0 1,0 1,0 1,0 1,0 1,0 1,0 1,0"/>
<path class="k c5 d2" transform="scale(10 1)" d="M32.327,1491l1,0 1,0 1,0 1,0 1,0 1,0 1,0 1,0 1,0 1-1 1,0 1,0 1-1 1-1 1-1 1-1 1-2 1-3 1-3 1-4 1-6 1-8 1-8 1-8 1-7 1-6 1-4 1-3 1-3 1-4 1-5 1-4 1-4 1-1 1,2 1,3 1,3 1,6 1,8 1,9 1,8 1,7 1,6 1,6 1,5 1,4 1,5 1,3 1,3 1,2 1,2 1,2 1,1 1,1 1,0 1,1 1,0 1,0 1,1 1,0 1,0 1,0 1,0 1,0 1,0 1,0 1,0"/>
<path class="k c5 d3" transform="scale(10 1)" d="M32.806,1491l1,0 1,0 1,0 1,0 1,0 1,0 1,0 1-1 1,0 1,0 1,0 1-1 1-1 1-1 1-1 1-2 1-2 1-2 1-3 1-3 1-4 1-5 1-5 1-5 1-6 1-5 1-6 1-5 1-5 1-4 1-3 1-2 1,0 1,1 1,2 1,1 1,4 1,6 1,8 1,7 1,6 1,4 1,3 1,3 1,3 1,3 1,4 1,3 1,3 1,3 1,2 1,1 1,1 1,1 1,1 1,1 1,0 1,0 1,0 1,1 1,0 1,0 1,0"/>
<path class="k c6" transform="scale(7 1)" d="M32.306,1491l1,0 1-1 1,0 1,0 1-1 1-2 1-2 1-2 1-4 1-7 1-9 1-11 1-11 1-9 1-9 1-10 1-11 1-12 1-10 1-8 1-4 1-2 1,0 1,1 1,3 1,6 1,10 1,12 1,13 1,13 1,13 1,11 1,10 1,8 1,7 1,5 1,4 1,3 1,2 1,1 1,1 1,1 1,0 1,1 1,0 1,0 1,0"/>
<path class="k c6 d1" transform="scale(7 1)" d="M34.336,1491l1,0 1,0 1,0 1-1 1,0 1-1 1-1 1-1 1-3 1-3 1-4 1-6 1-7 1-8 1-10 1-11 1-12 1-15 1-15 1-14 1-10 1-4 1,5 1,9 1,7 1,3 1,1 1,6 1,12 1,16 1,15 1,11 1,7 1,7 1,5 1,6 1,5 1,3 1,3 1,2 1,1 1,1 1,0 1,0 1,1 1,0 1,0 1,0"/>
<path class="k c6 d2" transform="scale(7 1)" d="M33.238,1491l1,0 1,0 1,0 1,0 1,0 1-1 1,0 1-1 1-1 1-3 1-2 1-5 1-5 1-8 1-11 1-15 1-16 1-17 1-16 1-15 1-13 1-9 1,3 1,13 1,2 1-10 1,1 1,11 1,16 1,17 1,16 1,15 1,13 1,11 1,9 1,7 1,4 1,4 1,2 1,2 1,1 1,0 1,1 1,0 1,0 1,0 1,0 1,0"/>
<path class="k c6 d3" transform="scale(7 1)" d="M31.493,1491l1,0 1,0 1,0 1-1 1,0 1,0 1-1 1-1 1-2 1-2 1-2 1-4 1-4 1-5 1-6 1-8 1-9 1-12 1-12 1-11 1-9 1-7 1-7 1-3 1,0 1,3 1,3 1,0 1,1 1,3 1,8 1,10 1,12 1,10 1,10 1,10 1,8 1,7 1,5 1,5 1,3 1,3 1,1 1,2 1,0 1,1 1,0 1,1"/>
<path class="k c7" transform="scale(7 1)" d="M42.927,1491l1,0 1,0 1,0 1,0 1,0 1,0 1-1 1,0 1-1 1-2 1-2 1-4 1-5 1-7 1-10 1-11 1-15 1-17 1-21 1-25 1-15 1-7 1-3 1-3 1-1 1,4 1,10 1,15 1,17 1,16 1,15 1,15 1,13 1,12 1,10 1,7 1,6 1,3 1,3 1,2 1,1 1,0 1,1 1,0 1,0 1,0 1,0 1,0"/>
<path class="k c7 d1" transform="scale(7 1)" d="M47.095,1491l1,0 1,0 1-1 1,0 1-1 1-2 1-2 1-4 1-5 1-8 1-10 1-12 1-16 1-18 1-20 1-19 1-17 1-11 1-7 1-4 1-1 1,4 1,9 1,15 1,19 1,23 1,22 1,18 1,14 1,10 1,8 1,6 1,3 1,3 1,2 1,1 1,0 1,1 1,0 1,0 1,0"/>
<path class="k c7 d2" transform="scale(7 1)" d="M39.790,1491l1,0 1,0 1,0 1,0 1,0 1,0 1,0 1-1 1,0 1-1 1-1 1-2 1-3 1-3 1-5 1-7 1-8 1-10 1-12 1-13 1-15 1-15 1-16 1-15 1-13 1-9 1-5 1,0 1,7 1,13 1,15 1,15 1,15 1,15 1,14 1,13 1,11 1,9 1,8 1,5 1,5 1,3 1,2 1,1 1,1 1,1 1,0 1,1 1,0 1,0"/>
<path class="k c7 d3" transform="scale(7 1)" d="M46.759,1491l1,0 1,0 1-1 1,0 1-1 1-2 1-2 1-4 1-6 1-7 1-10 1-13 1-15 1-17 1-18 1-18 1-16 1-13 1-9 1-2 1,3 1,7 1,5 1,8 1,20 1,24 1,19 1,16 1,14 1,11 1,8 1,7 1,4 1,3 1,2 1,1 1,1 1,0"/>
<path class="k c8" transform="scale(10 1)" d="M20.414,1491l1,0 1,0 1-1 1,0 1-1 1-1 1-1 1-2 1-3 1-5 1-5 1-7 1-9 1-9 1-11 1-12 1-11 1-11 1-8 1-6 1-2 1,2 1,4 1,7 1,9 1,10 1,10 1,11 1,11 1,9 1,8 1,7 1,5 1,4 1,2 1,2 1,2 1,1 1,0 1,0 1,1 1,0 1,0"/>
<path class="k c8 d1" transform="scale(7 1)" d="M31.279,1491l1,0 1,0 1,0 1,0 1-1 1,0 1,0 1-1 1,0 1-1 1-1 1-1 1-2 1-4 1-5 1-7 1-9 1-10 1-10 1-11 1-10 1-8 1-7 1-6 1-7 1-9 1-7 1-5 1,2 1,6 1,10 1,11 1,12 1,11 1,10 1,10 1,9 1,8 1,8 1,6 1,4 1,4 1,3 1,3 1,1 1,1 1,1 1,1 1,0 1,1 1,0"/>
<path class="k c8 d2" transform="scale(7 1)" d="M27.248,1491l1,0 1,0 1,0 1,0 1,0 1,0 1-1 1,0 1,0 1-1 1,0 1-1 1-1 1-2 1-2 1-3 1-3 1-4 1-5 1-5 1-6 1-6 1-6 1-5 1-5 1-4 1-5 1-9 1-10 1-9 1-7 1-5 1-1 1,1 1,2 1,4 1,5 1,6 1,5 1,7 1,6 1,7 1,8 1,8 1,8 1,7 1,7 1,6 1,4 1,4 1,3 1,2 1,2 1,1 1,1 1,1 1,0 1,0 1,1 1,0 1,0 1,0 1,0 1,0 1,0 1,0 1,0 1,0 1,0"/>
<path class="k c8 d3" transform="scale(10 1)" d="M15.924,1491l1,0 1,0 1,0 1,0 1,0 1,0 1-1 1,0 1,0 1-1 1-2 1-2 1-2 1-4 1-5 1-7 1-8 1-9 1-12 1-14 1-17 1-15 1-8 1-1 1,1 1,2 1,2 1,4 1,6 1,10 1,12 1,13 1,11 1,11 1,9 1,7 1,7 1,6 1,4 1,1 1,0 1,0 1,1 1,0 1,1 1,0 1,0 1,0 1,0 1,0"/>
<path class="k c9" transform="scale(7 1)" d="M31.394,1491l1,0 1,0 1,0 1,0 1-1 1,0 1-1 1-1 1-1 1-3 1-3 1-4 1-6 1-8 1-10 1-11 1-12 1-13 1-12 1-11 1-9 1-2 1-2 1-5 1-2 1,0 1,1 1,4 1,8 1,13 1,15 1,14 1,13 1,11 1,10 1,8 1,6 1,4 1,4 1,2 1,1 1,1 1,1 1,0 1,1 1,0 1,0 1,0 1,0 1,0 1,0 1,0"/>
<path class="k c9 d1" transform="scale(7 1)" d="M28.631,1491l1,0 1,0 1,0 1,0 1,0 1,0 1,0 1-1 1,0 1-1 1,0 1-2 1-2 1-2 1-4 1-4 1-6 1-8 1-9 1-10 1-11 1-11 1-11 1-9 1-10 1-12 1-14 1-11 1-4 1,2 1,8 1,11 1,13 1,15 1,16 1,15 1,13 1,10 1,8 1,6 1,5 1,5 1,4 1,3 1,3 1,2 1,1 1,1 1,0 1,0 1,1 1,0 1,0 1,0 1,0 1,0 1,0"/>
<path class="k c9 d2" transform="scale(7 1)" d="M29.052,1491l1,0 1,0 1,0 1,0 1,0 1,0 1-1 1,0 1,0 1-1 1-1 1-2 1-2 1-3 1-4 1-5 1-6 1-7 1-9 1-11 1-11 1-11 1-13 1-12 1-13 1-12 1-14 1-12 1-3 1,11 1,17 1,18 1,16 1,13 1,8 1,7 1,8 1,10 1,9 1,8 1,7 1,5 1,5 1,3 1,2 1,2 1,2 1,0 1,1 1,0 1,1 1,0"/>
<path class="k c9 d3" transform="scale(7 1)" d="M35.759,1491l1,0 1,0 1-1 1,0 1,0 1-1 1-2 1-2 1-2 1-4 1-5 1-7 1-8 1-10 1-11 1-12 1-12 1-9 1-7 1-5 1-5 1-7 1-9 1-7 1-1 1,3 1,9 1,10 1,12 1,12 1,12 1,13 1,12 1,12 1,9 1,7 1,5 1,4 1,2 1,2 1,1 1,1 1,0 1,1 1,0 1,0 1,0 1,0 1,0"/>
<path class="k c0" transform="scale(7 1)" d="M58.551,1491l1,0 1-1 1,0 1-1 1-1 1-2 1-4 1-5 1-9 1-11 1-13 1-13 1-14 1-16 1-18 1-18 1-16 1-12 1-7 1,0 1,5 1,13 1,18 1,21 1,19 1,16 1,13 1,13 1,11 1,10 1,7 1,6 1,5 1,2 1,1 1,0 1,0 1,1 1,0 1,0 1,0 1,0"/>
<path class="k c0 d1" transform="scale(7 1)" d="M50.917,1491l1,0 1,0 1,0 1,0 1,0 1,0 1,0 1-1 1,0 1-1 1-1 1-1 1-3 1-3 1-5 1-6 1-8 1-9 1-11 1-13 1-14 1-14 1-14 1-13 1-13 1-10 1-8 1-3 1,1 1,6 1,10 1,14 1,17 1,19 1,17 1,15 1,12 1,10 1,8 1,6 1,5 1,4 1,2 1,2 1,1 1,1 1,0 1,1"/>
<path class="k c0 d2" transform="scale(5 1)" d="M80.565,1491l1,0 1,0 1,0 1,0 1,0 1-1 1,0 1,0 1-1 1-1 1-2 1-2 1-3 1-4 1-5 1-7 1-8 1-10 1-11 1-13 1-13 1-14 1-14 1-13 1-11 1-11 1-13 1-8 1-2 1,3 1,5 1,6 1,9 1,12 1,15 1,18 1,17 1,15 1,12 1,11 1,10 1,8 1,6 1,6 1,4 1,3 1,2 1,2 1,1 1,1 1,0 1,0 1,1 1,0 1,0 1,0"/>
<path class="k c0 d3" transform="scale(7 1)" d="M58.885,1491l1-1 1,0 1-1 1-1 1-1 1-3 1-4 1-6 1-7 1-10 1-12 1-15 1-17 1-19 1-21 1-21 1-15 1-9 1-4 1,0 1,5 1,14 1,22 1,23 1,21 1,17 1,14 1,12 1,10 1,8 1,7 1,5 1,4 1,2 1,1 1,1 1,0 1,1"/>
<path class="k c1" transform="scale(7 1)" d="M61.615,1491l1,0 1,0 1,0 1-1 1,0 1,0 1-1 1-1 1-2 1-2 1-3 1-4 1-6 1-6 1-8 1-9 1-10 1-11 1-11 1-12 1-11 1-11 1-10 1-8 1-4 1,0 1,4 1,6 1,8 1,10 1,12 1,13 1,15 1,14 1,12 1,9 1,7 1,5 1,5 1,3 1,2 1,2 1,1 1,1 1,1 1,0 1,1 1,0"/>
<path class="k c1 d1" transform="scale(7 1)" d="M62.830,1491l1,0 1,0 1-1 1,0 1,0 1-1 1-1 1-2 1-2 1-4 1-4 1-6 1-7 1-9 1-11 1-13 1-14 1-15 1-13 1-9 1-8 1-5 1-4 1-2 1,1 1,5 1,7 1,8 1,9 1,12 1,15 1,16 1,13 1,10 1,8 1,7 1,6 1,4 1,3 1,2 1,2 1,1 1,1 1,0 1,1 1,0 1,0 1,0 1,0 1,0 1,0"/>
<path class="k c1 d2" transform="scale(7 1)" d="M59.730,1491l1,0 1,0 1,0 1,0 1,0 1-1 1,0 1-1 1,0 1-1 1-1 1-1 1-4 1-5 1-8 1-11 1-12 1-12 1-13 1-12 1-13 1-11 1-9 1-4 1,1 1,8 1,10 1,8 1,3 1-1 1,1 1,6 1,10 1,12 1,12 1,10 1,10 1,7 1,6 1,5 1,3 1,3 1,2 1,1 1,1 1,0 1,0 1,1"/>
<path class="k c1 d3" transform="scale(7 1)" d="M61.802,1491l1,0 1,0 1-1 1,0 1,0 1-1 1-1 1-2 1-2 1-3 1-3 1-5 1-6 1-7 1-8 1-9 1-11 1-12 1-12 1-11 1-10 1-8 1-5 1-2 1,3 1,4 1,4 1,4 1,6 1,8 1,10 1,9 1,9 1,9 1,9 1,9 1,7 1,7 1,5 1,4 1,3 1,3 1,2 1,1 1,1 1,1 1,0 1,0 1,1"/>
<path class="k c2" transform="scale(7 1)" d="M55.317,1491l1,0 1,0 1,0 1,0 1,0 1-1 1,0 1-1 1,0 1-2 1-2 1-2 1-4 1-5 1-6 1-8 1-10 1-11 1-12 1-13 1-14 1-13 1-11 1-10 1-6 1-3 1,1 1,3 1,5 1,5 1,8 1,13 1,17 1,16 1,13 1,12 1,9 1,8 1,7 1,5 1,4 1,2 1,2 1,2 1,0 1,1 1,0 1,1 1,0 1,0 1,0"/>
<path class="k c2 d1" transform="scale(7 1)" d="M53.744,1491l1,0 1,0 1,0 1,0 1,0 1,0 1-1 1,0 1-1 1,0 1-2 1-2 1-2 1-4 1-5 1-6 1-8 1-9 1-11 1-12 1-13 1-13 1-12 1-12 1-10 1-8 1-7 1-3 1,2 1,8 1,12 1,15 1,17 1,16 1,12 1,10 1,8 1,8 1,8 1,6 1,6 1,4 1,3 1,2 1,1 1,1 1,1 1,0 1,1 1,0 1,0 1,0 1,0 1,0"/>
<path class="k c2 d2" transform="scale(7 1)" d="M59.293,1491l1,0 1,0 1-1 1,0 1,0 1-1 1-1 1-2 1-3 1-4 1-4 1-7 1-8 1-10 1-13 1-15 1-18 1-18 1-15 1-12 1-7 1-3 1-1 1,3 1,5 1,8 1,11 1,12 1,14 1,13 1,14 1,13 1,11 1,9 1,8 1,6 1,5 1,3 1,3 1,2 1,1 1,1 1,0 1,0 1,1"/>
<path class="k c2 d3" transform="scale(7 1)" d="M59.484,1491l1,0 1-1 1,0 1-1 1-1 1-2 1-3 1-4 1-5 1-8 1-9 1-11 1-12 1-14 1-13 1-14 1-13 1-13 1-12 1-9 1-5 1,5 1,13 1,17 1,14 1,11 1,13 1,13 1,12 1,10 1,9 1,8 1,6 1,6 1,4 1,3 1,2 1,2 1,0 1,1 1,0 1,1 1,0 1,0 1,0"/>
<path class="k c3" transform="scale(7 1)" d="M41.061,1491l1-1 1,0 1,0 1-2 1-1 1-3 1-3 1-6 1-7 1-10 1-12 1-15 1-18 1-18 1-18 1-15 1-12 1-8 1-2 1,2 1,6 1,9 1,12 1,14 1,17 1,16 1,16 1,14 1,12 1,10 1,7 1,6 1,3 1,3 1,1 1,2 1,0 1,0 1,1 1,0 1,0"/>
<path class="k c3 d1" transform="scale(7 1)" d="M37.532,1491l1,0 1,0 1-1 1,0 1,0 1-1 1-2 1-2 1-3 1-4 1-6 1-8 1-9 1-12 1-14 1-16 1-18 1-18 1-16 1-12 1-6 1-2 1,2 1,5 1,9 1,12 1,14 1,16 1,14 1,12 1,13 1,14 1,12 1,8 1,6 1,4 1,3 1,2 1,2 1,1 1,0 1,0 1,1 1,0 1,0 1,0 1,0 1,0"/>
<path class="k c3 d2" transform="scale(7 1)" d="M41.292,1491l1,0 1,0 1-1 1,0 1-1 1-1 1-3 1-3 1-4 1-7 1-8 1-11 1-13 1-15 1-17 1-16 1-17 1-14 1-11 1-2 1,9 1,12 1,0 1-5 1,1 1,14 1,24 1,21 1,15 1,14 1,10 1,9 1,6 1,5 1,3 1,2 1,2 1,1 1,0 1,1 1,0"/>
<path class="k c3 d3" transform="scale(7 1)" d="M37.641,1491l1,0 1-1 1,0 1,0 1-1 1-1 1-2 1-3 1-4 1-5 1-7 1-9 1-9 1-11 1-11 1-11 1-10 1-12 1-17 1-18 1-14 1-5 1,3 1,9 1,13 1,13 1,14 1,13 1,13 1,14 1,12 1,11 1,9 1,7 1,6 1,4 1,4 1,2 1,1 1,1 1,1 1,0 1,1 1,0 1,0 1,0 1,0"/>
<path class="k c4" transform="scale(7 1)" d="M50.628,1491l1,0 1,0 1-1 1,0 1-1 1-1 1-2 1-4 1-5 1-6 1-7 1-9 1-10 1-18 1-26 1-25 1-17 1-15 1-11 1-5 1,2 1,8 1,11 1,16 1,18 1,20 1,18 1,17 1,14 1,12 1,9 1,6 1,4 1,3 1,2 1,1 1,1 1,0 1,1 1,0 1,0"/>
<path class="k c4 d1" transform="scale(7 1)" d="M50.181,1491l1,0 1,0 1-1 1,0 1-1 1-2 1-2 1-4 1-5 1-8 1-11 1-17 1-23 1-27 1-23 1-13 1-6 1-5 1-4 1-3 1,2 1,12 1,22 1,22 1,17 1,11 1,8 1,9 1,10 1,10 1,10 1,7 1,5 1,4 1,2 1,2 1,1 1,0 1,1 1,0 1,0 1,0 1,0"/>
<path class="k c4 d2" transform="scale(5 1)" d="M72.899,1491l1,0 1,0 1,0 1,0 1-1 1,0 1,0 1-1 1-2 1-1 1-3 1-4 1-4 1-7 1-8 1-11 1-15 1-18 1-19 1-18 1-15 1-13 1-10 1-6 1,0 1-1 1-4 1-6 1-1 1,5 1,11 1,14 1,16 1,17 1,17 1,16 1,14 1,13 1,11 1,8 1,7 1,6 1,4 1,3 1,2 1,1 1,1 1,1 1,0 1,1 1,0 1,0 1,0 1,0 1,0 1,0"/>
<path class="k c4 d3" transform="scale(5 1)" d="M83.558,1491l1,0 1-1 1,0 1-1 1-3 1-4 1-8 1-11 1-17 1-23 1-29 1-32 1-32 1-29 1-21 1-10 1,4 1,16 1,26 1,31 1,33 1,31 1,25 1,20 1,14 1,9 1,5 1,4 1,1 1,1 1,1 1,0"/>
<path class="k c5" transform="scale(7 1)" d="M28.669,1491l1,0 1,0 1,0 1,0 1-1 1,0 1-1 1,0 1-2 1-2 1-3 1-3 1-5 1-6 1-7 1-9 1-10 1-13 1-16 1-11 1-6 1-5 1-6 1-3 1-3 1-4 1-1 1,11 1,17 1,17 1,12 1,11 1,10 1,9 1,7 1,6 1,5 1,4 1,2 1,2 1,2 1,0 1,1 1,0 1,1 1,0"/>
<path class="k c5 d1" transform="scale(7 1)" d="M29.079,1491l1,0 1,0 1-1 1,0 1,0 1-1 1-1 1-1 1-2 1-2 1-2 1-3 1-3 1-3 1-4 1-5 1-10 1-13 1-16 1-15 1-11 1-8 1-4 1-2 1,0 1,4 1,6 1,8 1,9 1,10 1,10 1,10 1,9 1,8 1,7 1,7 1,5 1,4 1,3 1,2 1,2 1,1 1,0 1,1 1,0 1,1 1,0 1,0 1,0 1,0"/>
<path class="k c5 d2" transform="scale(7 1)" d="M22.473,1491l1,0 1,0 1,0 1,0 1,0 1,0 1,0 1,0 1-1 1,0 1,0 1-1 1-1 1-1 1-2 1-2 1-4 1-4 1-4 1-6 1-6 1-7 1-8 1-9 1-10 1-11 1-10 1-8 1-5 1-1 1,2 1,5 1,5 1,6 1,5 1,6 1,6 1,6 1,6 1,8 1,10 1,10 1,7 1,5 1,4 1,3 1,2 1,2 1,1 1,1 1,0 1,0 1,1 1,0 1,0 1,0 1,0 1,0 1,0"/>
<path class="k c5 d3" transform="scale(7 1)" d="M26.188,1491l1,0 1,0 1,0 1,0 1,0 1,0 1-1 1,0 1-1 1-1 1-1 1-2 1-3 1-4 1-4 1-6 1-7 1-8 1-9 1-10 1-10 1-10 1-8 1-6 1-4 1-1 1-2 1-1 1,0 1,3 1,8 1,11 1,12 1,10 1,7 1,8 1,8 1,7 1,6 1,5 1,4 1,3 1,2 1,2 1,1 1,1 1,0 1,0 1,1 1,0"/>
<path class="k c6" transform="scale(10 1)" d="M45.090,1491l1,0 1,0 1-1 1,0 1-1 1,0 1-2 1-2 1-2 1-3 1-5 1-5 1-7 1-8 1-8 1-8 1-8 1-7 1-9 1-10 1-8 1-3 1,3 1,8 1,10 1,10 1,9 1,9 1,8 1,9 1,7 1,6 1,5 1,4 1,3 1,2 1,1 1,1 1,1 1,0 1,1 1,0 1,0 1,0 1,0 1,0 1,0 1,0"/>
<path class="k c6 d1" transform="scale(10 1)" d="M44.276,1491l1,0 1-1 1,0 1,0 1-1 1-1 1-1 1-2 1-3 1-3 1-4 1-5 1-5 1-7 1-7 1-7 1-8 1-7 1-5 1-4 1-4 1-6 1-5 1-1 1,2 1,5 1,6 1,7 1,8 1,8 1,7 1,7 1,6 1,6 1,6 1,4 1,4 1,3 1,2 1,2 1,1 1,1 1,1 1,0 1,0 1,1 1,0 1,0 1,0 1,0 1,0 1,0 1,0"/>
<path class="k c6 d2" transform="scale(10 1)" d="M39.990,1491l1,0 1,0 1,0 1,0 1,0 1-1 1,0 1,0 1-1 1-1 1-1 1-1 1-3 1-3 1-4 1-6 1-8 1-8 1-7 1-6 1-6 1-8 1-9 1-7 1-4 1-2 1-1 1,1 1,1 1,2 1,4 1,6 1,6 1,8 1,7 1,8 1,7 1,7 1,6 1,5 1,5 1,5 1,4 1,3 1,1 1,0 1,0 1,0 1,0 1,0 1,1 1,0 1,0 1,0"/>
<path class="k c6 d3" transform="scale(10 1)" d="M37.624,1491l1,0 1,0 1,0 1,0 1,0 1,0 1,0 1-1 1,0 1,0 1-1 1-1 1-1 1-1 1-2 1-2 1-3 1-4 1-4 1-6 1-6 1-6 1-7 1-7 1-6 1-5 1-5 1-4 1-5 1-3 1,0 1,2 1,5 1,6 1,7 1,5 1,3 1,4 1,5 1,7 1,6 1,5 1,5 1,5 1,3 1,3 1,2 1,2 1,2 1,1 1,0 1,1 1,0 1,0 1,1 1,0 1,0 1,0 1,0 1,0 1,0 1,0 1,0 1,0"/>
<path class="k c7" transform="scale(10 1)" d="M38.485,1491l1,0 1-1 1,0 1,0 1-1 1-1 1-2 1-3 1-5 1-6 1-6 1-7 1-8 1-10 1-11 1-11 1-11 1-9 1-6 1-4 1-1 1,1 1,6 1,9 1,11 1,12 1,10 1,10 1,9 1,8 1,7 1,6 1,4 1,3 1,3 1,1 1,1 1,1 1,0 1,1 1,0 1,0 1,0 1,0 1,0"/>
<path class="k c7 d1" transform="scale(10 1)" d="M30.678,1491l1,0 1,0 1,0 1,0 1,0 1,0 1,0 1,0 1-1 1,0 1,0 1-1 1-1 1-2 1-2 1-3 1-4 1-4 1-6 1-7 1-8 1-9 1-10 1-11 1-12 1-12 1-11 1-6 1,0 1,7 1,8 1,8 1,8 1,8 1,9 1,10 1,9 1,8 1,8 1,6 1,5 1,5 1,3 1,2 1,2 1,1 1,1 1,1 1,0 1,1 1,0 1,0 1,0"/>
<path class="k c7 d2" transform="scale(10 1)" d="M34.540,1491l1,0 1,0 1,0 1,0 1-1 1,0 1-1 1-1 1-2 1-2 1-3 1-3 1-5 1-5 1-7 1-7 1-9 1-9 1-9 1-9 1-8 1-7 1-5 1-4 1-3 1,0 1,4 1,7 1,11 1,11 1,11 1,10 1,9 1,8 1,7 1,6 1,5 1,3 1,3 1,2 1,1 1,1 1,0 1,0 1,1 1,0"/>
<path class="k c7 d3" transform="scale(10 1)" d="M34.722,1491l1,0 1,0 1,0 1,0 1-1 1,0 1,0 1-1 1-2 1-1 1-3 1-3 1-5 1-5 1-5 1-5 1-7 1-9 1-11 1-11 1-9 1-9 1-6 1-4 1,0 1,2 1,5 1,8 1,9 1,10 1,10 1,9 1,8 1,8 1,7 1,6 1,5 1,3 1,2 1,2 1,1 1,1 1,0 1,1 1,0 1,0 1,0 1,0 1,0 1,0 1,0 1,0"/>
<path class="k c8" transform="scale(7 1)" d="M53.207,1491l1,0 1,0 1,0 1,0 1,0 1,0 1-1 1,0 1,0 1-1 1-1 1-1 1-1 1-2 1-2 1-3 1-4 1-5 1-7 1-9 1-9 1-6 1-4 1-5 1-6 1-6 1-8 1-7 1-7 1-6 1-6 1-3 1-1 1,3 1,4 1,6 1,7 1,7 1,7 1,8 1,8 1,8 1,8 1,7 1,6 1,6 1,5 1,4 1,4 1,3 1,3 1,1 1,2 1,1 1,1 1,0 1,1 1,0 1,0 1,1"/>
<path class="k c8 d1" transform="scale(7 1)" d="M55.917,1491l1,0 1,0 1,0 1,0 1,0 1-1 1,0 1,0 1-1 1-1 1-1 1-1 1-2 1-2 1-3 1-3 1-4 1-5 1-6 1-6 1-7 1-8 1-8 1-8 1-8 1-7 1-7 1-6 1-5 1-4 1-2 1,0 1,0 1,1 1,3 1,4 1,6 1,8 1,11 1,11 1,10 1,10 1,8 1,7 1,5 1,4 1,3 1,3 1,3 1,2 1,2 1,1 1,1 1,1 1,1 1,0 1,0 1,1 1,0"/>
<path class="k c8 d2" transform="scale(10 1)" d="M37.970,1491l1,0 1,0 1,0 1,0 1-1 1,0 1-1 1-1 1-1 1-3 1-3 1-4 1-6 1-8 1-11 1-11 1-11 1-10 1-10 1-9 1-9 1-5 1-3 1,2 1,5 1,7 1,9 1,11 1,12 1,10 1,9 1,10 1,9 1,7 1,5 1,3 1,3 1,2 1,1 1,1 1,0 1,1 1,0"/>
<path class="k c8 d3" transform="scale(10 1)" d="M36.122,1491l1,0 1,0 1,0 1,0 1,0 1-1 1,0 1,0 1-1 1-1 1-2 1-3 1-3 1-5 1-6 1-7 1-9 1-9 1-10 1-11 1-10 1-9 1-7 1-3 1,4 1,5 1,1 1,1 1,7 1,10 1,10 1,11 1,10 1,8 1,7 1,6 1,5 1,4 1,2 1,2 1,2 1,1 1,0 1,0 1,1 1,0 1,0"/>
<path class="k c9" transform="scale(7 1)" d="M31.841,1491l1,0 1,0 1-1 1,0 1-1 1-1 1-2 1-2 1-3 1-5 1-6 1-8 1-9 1-11 1-12 1-12 1-12 1-11 1-7 1-3 1,0 1-2 1-1 1,4 1,9 1,11 1,11 1,10 1,9 1,10 1,10 1,9 1,7 1,5 1,5 1,3 1,2 1,1 1,1 1,1 1,0 1,1 1,0 1,0 1,0 1,0 1,0 1,0"/>
<path class="k c9 d1" transform="scale(7 1)" d="M31.347,1491l1,0 1,0 1-1 1,0 1,0 1-1 1-1 1-2 1-2 1-3 1-4 1-4 1-6 1-6 1-9 1-10 1-11 1-12 1-12 1-12 1-12 1-8 1-3 1,3 1,4 1,6 1,8 1,10 1,10 1,11 1,10 1,10 1,9 1,8 1,7 1,6 1,5 1,3 1,3 1,2 1,1 1,1 1,1 1,0 1,1 1,0 1,0 1,0 1,0 1,0 1,0"/>
<path class="k c9 d2" transform="scale(7 1)" d="M31.903,1491l1,0 1,0 1-1 1,0 1-1 1-1 1-1 1-2 1-3 1-4 1-6 1-7 1-8 1-9 1-9 1-9 1-10 1-13 1-16 1-13 1-9 1-3 1,4 1,10 1,14 1,14 1,13 1,13 1,11 1,10 1,9 1,7 1,6 1,4 1,3 1,3 1,1 1,1 1,1 1,0 1,1 1,0 1,0 1,0 1,0 1,0"/>
<path class="k c9 d3" transform="scale(7 1)" d="M27.578,1491l1,0 1,0 1,0 1,0 1,0 1,0 1-1 1,0 1-1 1-1 1-1 1-2 1-3 1-4 1-4 1-6 1-8 1-8 1-10 1-10 1-11 1-11 1-10 1-10 1-9 1-9 1-6 1,1 1,7 1,11 1,13 1,12 1,11 1,12 1,11 1,10 1,9 1,7 1,5 1,4 1,3 1,3 1,2 1,1 1,1 1,1 1,0 1,1 1,0 1,0 1,0 1,0 1,0 1,0"/>
<path class="k c0" transform="scale(7 1)" d="M54.329,1491l1,0 1,0 1-1 1,0 1-1 1-1 1-1 1-3 1-4 1-6 1-8 1-11 1-13 1-15 1-15 1-12 1-8 1-10 1-14 1-6 1,9 1,4 1-6 1-1 1,9 1,14 1,16 1,17 1,16 1,14 1,10 1,9 1,6 1,4 1,3 1,2 1,1 1,1 1,0 1,1 1,0 1,0 1,0"/>
<path class="k c0 d1" transform="scale(5 1)" d="M78.743,1491l1-1 1,0 1,0 1-1 1-1 1-1 1-2 1-3 1-3 1-5 1-5 1-6 1-7 1-6 1-8 1-10 1-15 1-17 1-17 1-16 1-14 1-11 1-9 1-5 1-2 1,0 1,0 1,0 1,3 1,10 1,19 1,20 1,17 1,13 1,13 1,14 1,13 1,11 1,8 1,6 1,5 1,3 1,3 1,2 1,2 1,1 1,1 1,0 1,0 1,1 1,0 1,0 1,0"/>
<path class="k c0 d2" transform="scale(7 1)" d="M48.883,1491l1,0 1,0 1,0 1,0 1,0 1,0 1,0 1-1 1,0 1-1 1-1 1-2 1-3 1-4 1-4 1-5 1-11 1-15 1-17 1-18 1-18 1-18 1-16 1-13 1-7 1-1 1,4 1,8 1,11 1,14 1,16 1,17 1,16 1,15 1,13 1,11 1,9 1,6 1,5 1,4 1,2 1,2 1,1 1,0 1,0 1,1 1,0 1,0 1,0 1,0 1,0"/>
<path class="k c0 d3" transform="scale(7 1)" d="M52.049,1491l1,0 1,0 1,0 1,0 1,0 1-1 1,0 1-1 1-2 1-2 1-4 1-5 1-7 1-8 1-9 1-12 1-16 1-20 1-23 1-23 1-13 1-4 1-4 1,0 1,4 1,10 1,15 1,17 1,18 1,16 1,14 1,13 1,12 1,10 1,8 1,6 1,4 1,2 1,2 1,1 1,1 1,0"/>
<path class="k c1" transform="scale(7 1)" d="M39.336,1491l1,0 1,0 1-1 1,0 1-1 1-2 1-3 1-4 1-6 1-8 1-11 1-13 1-16 1-18 1-19 1-19 1-18 1-16 1-11 1-1 1,4 1,8 1,16 1,20 1,18 1,14 1,13 1,16 1,18 1,15 1,9 1,6 1,4 1,2 1,2 1,1 1,0 1,1 1,0"/>
<path class="k c1 d1" transform="scale(7 1)" d="M39.342,1491l1,0 1-1 1,0 1-1 1-2 1-2 1-4 1-6 1-7 1-10 1-13 1-14 1-16 1-19 1-19 1-15 1-2 1,10 1-4 1-19 1-5 1,10 1,16 1,18 1,18 1,18 1,16 1,13 1,11 1,9 1,7 1,5 1,3 1,2 1,1 1,1 1,0 1,1 1,0"/>
<path class="k c1 d2" transform="scale(7 1)" d="M36.014,1491l1,0 1,0 1,0 1-1 1,0 1-1 1-2 1-2 1-4 1-5 1-8 1-10 1-13 1-15 1-15 1-17 1-20 1-24 1-22 1-8 1,4 1,8 1,8 1,11 1,15 1,19 1,19 1,18 1,16 1,14 1,10 1,8 1,6 1,4 1,3 1,2 1,1 1,0 1,1 1,0"/>
<path class="k c1 d3" transform="scale(7 1)" d="M37.640,1491l1,0 1,0 1-1 1,0 1-1 1-1 1-2 1-4 1-4 1-6 1-8 1-10 1-12 1-14 1-12 1-8 1-5 1-10 1-19 1-20 1-10 1,2 1,12 1,14 1,10 1,13 1,18 1,19 1,16 1,11 1,7 1,5 1,5 1,5 1,3 1,3 1,1 1,1 1,1 1,0 1,1 1,0 1,0 1,0 1,0"/>
<path class="k c2" transform="scale(7 1)" d="M45.952,1491l1,0 1-1 1,0 1-1 1-2 1-2 1-4 1-6 1-8 1-10 1-13 1-15 1-19 1-22 1-23 1-20 1-11 1-3 1,1 1,3 1,6 1,11 1,14 1,17 1,20 1,19 1,17 1,14 1,11 1,9 1,6 1,4 1,3 1,2 1,1 1,1 1,0 1,1"/>
<path class="k c2 d1" transform="scale(5 1)" d="M58.866,1491l1,0 1,0 1,0 1,0 1,0 1,0 1-1 1,0 1,0 1-1 1-1 1-2 1-2 1-2 1-4 1-4 1-6 1-8 1-8 1-10 1-12 1-13 1-14 1-14 1-13 1-12 1-8 1-1 1,4 1,3 1-5 1-7 1-1 1,4 1,5 1,6 1,10 1,14 1,15 1,15 1,13 1,12 1,10 1,8 1,7 1,6 1,5 1,3 1,3 1,2 1,1 1,1 1,1 1,0 1,0 1,1 1,0 1,0 1,0"/>
<path class="k c2 d2" transform="scale(7 1)" d="M43.950,1491l1-1 1,0 1-1 1-1 1-1 1-2 1-4 1-4 1-6 1-8 1-10 1-11 1-12 1-14 1-18 1-21 1-18 1-10 1-6 1-4 1-2 1,5 1,11 1,15 1,16 1,16 1,16 1,14 1,13 1,12 1,9 1,8 1,6 1,4 1,3 1,2 1,2 1,1 1,0 1,0 1,1 1,0 1,0 1,0"/>
<path class="k c2 d3" transform="scale(7 1)" d="M41.385,1491l1,0 1,0 1,0 1,0 1-1 1,0 1-1 1-1 1-2 1-3 1-4 1-5 1-8 1-9 1-12 1-16 1-20 1-21 1-15 1-10 1-9 1-8 1-4 1,1 1,6 1,11 1,15 1,15 1,14 1,14 1,14 1,13 1,11 1,10 1,7 1,6 1,4 1,3 1,2 1,1 1,1 1,0 1,1 1,0 1,0 1,0"/>
<path class="k c3" transform="scale(7 1)" d="M42.701,1491l1-1 1,0 1-1 1-1 1-1 1-2 1-4 1-5 1-7 1-11 1-15 1-19 1-16 1-11 1-5 1-6 1-9 1-14 1-12 1-8 1-2 1,6 1,11 1,14 1,15 1,15 1,16 1,14 1,13 1,10 1,7 1,7 1,5 1,5 1,4 1,4 1,2 1,1 1,0 1,1 1,0 1,0 1,0 1,0 1,0"/>
<path class="k c3 d1" transform="scale(7 1)" d="M43.074,1491l1,0 1,0 1-1 1,0 1-1 1-2 1-2 1-4 1-5 1-9 1-13 1-16 1-16 1-16 1-17 1-18 1-14 1-11 1-6 1-3 1,1 1,6 1,11 1,14 1,16 1,17 1,18 1,15 1,14 1,12 1,9 1,7 1,5 1,3 1,2 1,2 1,1 1,0 1,1 1,0 1,0 1,0 1,0"/>
<path class="k c3 d2" transform="scale(7 1)" d="M41.534,1491l1,0 1,0 1-1 1,0 1-1 1-1 1-2 1-2 1-4 1-5 1-6 1-8 1-10 1-12 1-13 1-13 1-9 1-7 1-14 1-18 1-12 1-6 1-2 1,2 1,8 1,14 1,15 1,17 1,16 1,15 1,13 1,11 1,9 1,7 1,6 1,4 1,3 1,2 1,2 1,0 1,1 1,0 1,1 1,0 1,0 1,0"/>
<path class="k c3 d3" transform="scale(7 1)" d="M36.220,1491l1,0 1,0 1,0 1,0 1,0 1,0 1,0 1-1 1,0 1-1 1-1 1-2 1-2 1-3 1-5 1-6 1-8 1-9 1-13 1-14 1-15 1-15 1-12 1-9 1-7 1-6 1-7 1-9 1-9 1,7 1,20 1,19 1,18 1,17 1,15 1,13 1,11 1,9 1,7 1,5 1,4 1,3 1,2 1,1 1,1 1,1 1,0 1,1 1,0 1,0 1,0 1,0 1,0"/>
<path class="k c4" transform="scale(7 1)" d="M51.221,1491l1,0 1,0 1,0 1-1 1,0 1-1 1-1 1-2 1-2 1-4 1-6 1-8 1-9 1-13 1-15 1-20 1-24 1-25 1-21 1-10 1-1 1,3 1,5 1,8 1,11 1,13 1,16 1,16 1,15 1,15 1,14 1,12 1,11 1,7 1,6 1,4 1,3 1,1 1,1 1,1 1,0 1,1 1,0 1,0 1,0 1,0 1,0"/>
<path class="k c4 d1" transform="scale(7 1)" d="M49.972,1491l1,0 1,0 1,0 1,0 1,0 1,0 1-1 1,0 1-1 1-1 1-2 1-4 1-5 1-7 1-9 1-12 1-15 1-17 1-19 1-21 1-28 1-21 1,3 1,7 1-5 1-1 1,13 1,17 1,15 1,18 1,24 1,21 1,14 1,11 1,9 1,6 1,4 1,3 1,2 1,1 1,0 1,1 1,0 1,0 1,0 1,0"/>
<path class="k c4 d2" transform="scale(7 1)" d="M51.008,1491l1,0 1,0 1,0 1,0 1-1 1,0 1-1 1-1 1-2 1-3 1-5 1-6 1-8 1-10 1-13 1-16 1-19 1-19 1-14 1-10 1-10 1-8 1-7 1-7 1-3 1,8 1,21 1,29 1,27 1,19 1,14 1,11 1,9 1,7 1,6 1,4 1,3 1,2 1,1 1,1 1,0 1,1 1,0 1,0 1,0 1,0"/>
<path class="k c4 d3" transform="scale(7 1)" d="M50.169,1491l1,0 1,0 1,0 1,0 1,0 1-1 1,0 1-1 1-1 1-1 1-3 1-4 1-6 1-8 1-10 1-12 1-15 1-16 1-17 1-18 1-18 1-16 1-12 1-4 1,3 1,6 1,8 1,12 1,21 1,24 1,22 1,17 1,13 1,11 1,8 1,6 1,4 1,3 1,2 1,1 1,1 1,0 1,1 1,0 1,0"/>
<path class="k c5" transform="scale(7 1)" d="M40.996,1491l1,0 1,0 1,0 1,0 1,0 1,0 1,0 1,0 1,0 1-1 1,0 1,0 1-1 1-1 1-1 1-1 1-2 1-2 1-2 1-4 1-4 1-5 1-5 1-6 1-7 1-7 1-7 1-7 1-5 1-5 1-3 1-4 1-3 1-4 1-4 1-3 1-2 1,0 1,3 1,5 1,6 1,6 1,8 1,7 1,8 1,8 1,7 1,6 1,6 1,5 1,4 1,4 1,3 1,2 1,2 1,2 1,1 1,1 1,0 1,1 1,0 1,0 1,1 1,0 1,0 1,0 1,0 1,0 1,0 1,0 1,0 1,0 1,0"/>
<path class="k c5 d1" transform="scale(7 1)" d="M42.482,1491l1,0 1,0 1,0 1,0 1,0 1,0 1,0 1,0 1,0 1-1 1,0 1,0 1-1 1-1 1-1 1-1 1-2 1-2 1-3 1-4 1-4 1-5 1-6 1-7 1-7 1-8 1-8 1-9 1-9 1-10 1-8 1-8 1-5 1-3 1,0 1,3 1,5 1,6 1,6 1,5 1,5 1,6 1,7 1,10 1,10 1,9 1,7 1,6 1,5 1,5 1,4 1,3 1,3 1,2 1,2 1,1 1,1 1,0 1,1 1,0 1,0 1,1 1,0 1,0 1,0 1,0 1,0 1,0"/>
<path class="k c5 d2" transform="scale(10 1)" d="M31.273,1491l1,0 1,0 1,0 1-1 1,0 1-1 1-1 1-2 1-2 1-3 1-5 1-6 1-7 1-9 1-10 1-11 1-11 1-10 1-9 1-7 1-6 1-5 1-2 1,3 1,9 1,13 1,13 1,12 1,11 1,9 1,9 1,7 1,6 1,5 1,4 1,2 1,2 1,1 1,1 1,0 1,1 1,0 1,0 1,0 1,0 1,0 1,0 1,0"/>
<path class="k c5 d3" transform="scale(7 1)" d="M44.570,1491l1,0 1,0 1,0 1,0 1,0 1,0 1,0 1,0 1,0 1-1 1,0 1,0 1-1 1-1 1-1 1-1 1-2 1-3 1-4 1-4 1-5 1-6 1-8 1-8 1-9 1-9 1-10 1-10 1-9 1-8 1-7 1-5 1-4 1-1 1,1 1,2 1,4 1,5 1,8 1,9 1,11 1,12 1,10 1,10 1,9 1,8 1,6 1,5 1,4 1,4 1,2 1,2 1,2 1,1 1,0 1,1 1,0 1,0 1,1 1,0"/>
<path class="k c6" transform="scale(7 1)" d="M27.839,1491l1,0 1,0 1,0 1,0 1,0 1,0 1,0 1,0 1,0 1-1 1,0 1,0 1-1 1-1 1-1 1-1 1-2 1-3 1-4 1-4 1-5 1-6 1-5 1-5 1-6 1-7 1-10 1-12 1-12 1-10 1-7 1-3 1,0 1,1 1,2 1,1 1,2 1,4 1,8 1,9 1,10 1,10 1,9 1,9 1,8 1,8 1,6 1,6 1,4 1,3 1,1 1,1 1,1 1,1 1,1 1,0 1,0 1,1 1,0 1,0 1,0 1,0 1,0 1,0"/>
<path class="k c6 d1" transform="scale(7 1)" d="M30.289,1491l1,0 1,0 1,0 1,0 1,0 1,0 1,0 1-1 1,0 1-1 1,0 1-1 1-2 1-1 1-3 1-2 1-2 1-2 1-5 1-7 1-11 1-11 1-10 1-12 1-12 1-11 1-10 1-7 1-4 1-2 1,1 1,3 1,6 1,8 1,8 1,7 1,6 1,6 1,7 1,8 1,9 1,9 1,7 1,7 1,5 1,5 1,4 1,3 1,2 1,2 1,1 1,1 1,1 1,0 1,0 1,1 1,0 1,0 1,0 1,0 1,0 1,0 1,0 1,0 1,0"/>
<path class="k c6 d2" transform="scale(7 1)" d="M27.051,1491l1,0 1,0 1,0 1,0 1,0 1,0 1,0 1,0 1,0 1-1 1,0 1,0 1-1 1,0 1-1 1-2 1-2 1-2 1-3 1-4 1-5 1-6 1-7 1-8 1-9 1-9 1-9 1-10 1-9 1-8 1-6 1-5 1-2 1,1 1,5 1,7 1,5 1,2 1,2 1,5 1,8 1,9 1,9 1,8 1,8 1,8 1,7 1,5 1,5 1,4 1,3 1,2 1,2 1,1 1,1 1,1 1,0 1,0 1,1 1,0"/>
<path class="k c6 d3" transform="scale(7 1)" d="M27.419,1491l1,0 1,0 1,0 1,0 1,0 1,0 1,0 1,0 1,0 1-1 1,0 1,0 1-1 1-1 1-1 1-1 1-2 1-2 1-4 1-3 1-5 1-5 1-7 1-7 1-8 1-8 1-9 1-9 1-8 1-7 1-6 1-3 1-2 1-1 1,1 1,2 1,4 1,4 1,3 1,4 1,6 1,8 1,9 1,8 1,8 1,7 1,7 1,6 1,5 1,5 1,3 1,3 1,2 1,2 1,1 1,1 1,0 1,1 1,0 1,0 1,1 1,0 1,0 1,0 1,0"/>
<path class="k c7" transform="scale(10 1)" d="M33.686,1491l1,0 1,0 1,0 1,0 1,0 1,0 1,0 1,0 1,0 1-1 1,0 1-1 1,0 1-1 1-2 1-2 1-3 1-3 1-3 1-4 1-4 1-5 1-5 1-5 1-6 1-6 1-8 1-7 1-6 1-6 1-3 1-2 1,1 1,2 1,3 1,5 1,5 1,6 1,7 1,8 1,7 1,7 1,6 1,5 1,5 1,4 1,3 1,2 1,2 1,1 1,2 1,0 1,1 1,0 1,0 1,1 1,0 1,0 1,0 1,0 1,0 1,0"/>
<path class="k c7 d1" transform="scale(10 1)" d="M38.506,1491l1,0 1,0 1,0 1,0 1-1 1,0 1,0 1-1 1-1 1-1 1-1 1-3 1-2 1-4 1-3 1-4 1-5 1-5 1-7 1-8 1-9 1-8 1-6 1-6 1-4 1-3 1-3 1-4 1-3 1,1 1,9 1,12 1,11 1,9 1,8 1,7 1,7 1,5 1,5 1,5 1,3 1,3 1,2 1,1 1,1 1,1 1,1 1,0 1,0 1,1 1,0 1,0 1,0 1,0"/>
<path class="k c7 d2" transform="scale(10 1)" d="M42.203,1491l1,0 1-1 1,0 1,0 1-1 1-1 1-2 1-2 1-2 1-4 1-4 1-5 1-6 1-7 1-8 1-8 1-8 1-9 1-8 1-7 1-6 1-3 1,0 1,3 1,6 1,8 1,10 1,10 1,10 1,6 1,5 1,4 1,5 1,6 1,4 1,4 1,3 1,2 1,2 1,1 1,1 1,1 1,0 1,1 1,0"/>
<path class="k c7 d3" transform="scale(10 1)" d="M37.613,1491l1,0 1,0 1,0 1,0 1,0 1,0 1-1 1,0 1,0 1-1 1-1 1-1 1-2 1-2 1-3 1-4 1-5 1-5 1-6 1-8 1-8 1-7 1-5 1-7 1-6 1-6 1-4 1-3 1,0 1,1 1,2 1,5 1,5 1,7 1,8 1,8 1,7 1,8 1,6 1,6 1,5 1,4 1,3 1,3 1,2 1,1 1,2 1,0 1,1 1,0 1,0 1,1 1,0 1,0 1,0 1,0 1,0 1,0"/>
<path class="k c8" transform="scale(7 1)" d="M53.958,1491l1,0 1,0 1-1 1,0 1-1 1-1 1-1 1-2 1-2 1-4 1-5 1-8 1-9 1-10 1-9 1-11 1-12 1-12 1-11 1-11 1-10 1-9 1-7 1-5 1,2 1,11 1,16 1,17 1,14 1,13 1,12 1,11 1,9 1,9 1,7 1,5 1,4 1,4 1,2 1,2 1,1 1,1 1,0 1,0 1,1 1,0 1,0 1,0 1,0 1,0 1,0"/>
<path class="k c8 d1" transform="scale(7 1)" d="M54.660,1491l1,0 1,0 1-1 1,0 1-1 1-1 1-1 1-2 1-3 1-3 1-5 1-6 1-8 1-9 1-9 1-11 1-10 1-11 1-10 1-9 1-8 1-6 1-7 1-4 1,0 1,6 1,11 1,12 1,11 1,13 1,14 1,12 1,9 1,8 1,6 1,5 1,4 1,4 1,3 1,2 1,2 1,1 1,1 1,0 1,0 1,1"/>
<path class="k c8 d2" transform="scale(7 1)" d="M49.611,1491l1,0 1,0 1,0 1,0 1,0 1,0 1-1 1,0 1-1 1-1 1-1 1-2 1-2 1-3 1-5 1-5 1-7 1-8 1-9 1-11 1-13 1-13 1-12 1-11 1-12 1-11 1-8 1,0 1,4 1,8 1,9 1,12 1,15 1,15 1,13 1,10 1,7 1,6 1,5 1,6 1,5 1,5 1,4 1,4 1,2 1,2 1,1 1,1 1,1 1,0 1,1 1,0 1,0 1,0 1,0 1,0 1,0 1,0 1,0 1,0"/>
<path class="k c8 d3" transform="scale(7 1)" d="M47.536,1491l1,0 1,0 1,0 1,0 1,0 1-1 1,0 1,0 1-1 1-1 1-1 1-2 1-2 1-4 1-4 1-5 1-7 1-7 1-9 1-8 1-9 1-7 1-8 1-12 1-12 1-9 1-5 1-2 1-2 1,0 1,1 1,4 1,9 1,11 1,12 1,11 1,11 1,10 1,9 1,8 1,7 1,6 1,5 1,4 1,3 1,2 1,1 1,2 1,0 1,1 1,0 1,1 1,0 1,0 1,0 1,0 1,0 1,0"/>
<path class="k c9" transform="scale(7 1)" d="M28.966,1491l1,0 1-1 1,0 1,0 1-1 1-1 1-1 1-2 1-2 1-3 1-4 1-5 1-5 1-7 1-8 1-8 1-8 1-9 1-9 1-9 1-8 1-4 1,1 1,4 1,6 1,3 1,3 1,4 1,7 1,8 1,8 1,8 1,8 1,6 1,5 1,5 1,5 1,3 1,3 1,2 1,2 1,1 1,1 1,1 1,0 1,0 1,1 1,0 1,0 1,0 1,0 1,0 1,0"/>
<path class="k c9 d1" transform="scale(7 1)" d="M22.402,1491l1,0 1,0 1,0 1,0 1,0 1,0 1,0 1,0 1-1 1,0 1,0 1-1 1-1 1-1 1-2 1-2 1-3 1-4 1-5 1-6 1-6 1-7 1-7 1-7 1-8 1-11 1-10 1-8 1-5 1-3 1-1 1,1 1,3 1,6 1,7 1,9 1,9 1,9 1,9 1,9 1,7 1,6 1,6 1,4 1,4 1,3 1,2 1,2 1,1 1,0 1,1 1,0 1,1 1,0 1,0 1,0 1,0 1,0 1,0 1,0 1,0 1,0"/>
<path class="k c9 d2" transform="scale(7 1)" d="M18.466,1491l1,0 1,0 1,0 1,0 1,0 1,0 1,0 1,0 1,0 1,0 1-1 1,0 1-1 1,0 1-1 1-2 1-1 1-2 1-3 1-3 1-4 1-5 1-6 1-7 1-7 1-8 1-8 1-7 1-7 1-6 1-4 1-3 1-1 1,0 1,0 1,1 1,2 1,4 1,6 1,8 1,9 1,9 1,9 1,8 1,8 1,6 1,5 1,2 1,2 1,2 1,1 1,2 1,1 1,0 1,1 1,0 1,0 1,1 1,0 1,0 1,0 1,0 1,0 1,0"/>
<path class="k c9 d3" transform="scale(7 1)" d="M25.729,1491l1,0 1,0 1,0 1,0 1,0 1-1 1,0 1-1 1-1 1-1 1-3 1-4 1-4 1-4 1-5 1-6 1-7 1-8 1-10 1-10 1-10 1-9 1-9 1-7 1-5 1-2 1,1 1,4 1,8 1,13 1,14 1,9 1,8 1,9 1,9 1,7 1,6 1,5 1,4 1,3 1,2 1,2 1,1 1,1 1,0 1,0 1,1 1,0 1,0"/>
<path class="k c0" transform="scale(5 1)" d="M92.347,1491l1,0 1-1 1,0 1,0 1-1 1-1 1-2 1-2 1-3 1-3 1-5 1-6 1-8 1-8 1-10 1-11 1-12 1-13 1-16 1-21 1-27 1-19 1-2 1,10 1,13 1,13 1,10 1,4 1,3 1,9 1,12 1,14 1,13 1,11 1,11 1,10 1,8 1,7 1,6 1,5 1,3 1,3 1,2 1,1 1,1 1,1 1,0 1,0 1,1 1,0 1,0 1,0 1,0 1,0 1,0 1,0"/>
<path class="k c0 d1" transform="scale(7 1)" d="M60.394,1491l1,0 1,0 1,0 1,0 1-1 1,0 1-1 1-2 1-2 1-3 1-4 1-6 1-8 1-10 1-12 1-14 1-15 1-15 1-15 1-19 1-18 1-8 1,1 1,3 1,6 1,10 1,13 1,16 1,16 1,17 1,15 1,13 1,11 1,9 1,7 1,5 1,4 1,3 1,1 1,1 1,1 1,0 1,1 1,0 1,0 1,0 1,0"/>
<path class="k c0 d2" transform="scale(5 1)" d="M84.165,1491l1,0 1,0 1,0 1,0 1,0 1,0 1,0 1,0 1-1 1,0 1,0 1-1 1-1 1-1 1-2 1-2 1-4 1-3 1-5 1-6 1-7 1-9 1-12 1-15 1-18 1-20 1-22 1-19 1-14 1-8 1-1 1,4 1,4 1,3 1,4 1,6 1,9 1,12 1,13 1,14 1,14 1,14 1,13 1,11 1,10 1,9 1,7 1,7 1,4 1,4 1,3 1,2 1,1 1,1 1,1 1,0 1,0 1,1 1,0 1,0 1,0 1,0 1,0 1,0 1,0"/>
<path class="k c0 d3" transform="scale(7 1)" d="M62.061,1491l1,0 1,0 1-1 1,0 1-1 1-1 1-2 1-3 1-4 1-5 1-7 1-10 1-11 1-14 1-15 1-18 1-17 1-15 1-12 1-10 1-3 1,6 1,11 1,8 1,5 1,7 1,12 1,17 1,17 1,16 1,12 1,10 1,8 1,6 1,5 1,3 1,2 1,2 1,1 1,0 1,0"/>
<path class="k c1" transform="scale(7 1)" d="M44.564,1491l1,0 1,0 1,0 1,0 1,0 1,0 1-1 1,0 1-1 1-1 1-2 1-2 1-4 1-6 1-7 1-10 1-12 1-14 1-15 1-17 1-16 1-15 1-11 1-8 1-2 1,5 1,13 1,19 1,21 1,12 1,4 1,4 1,10 1,11 1,11 1,10 1,7 1,6 1,4 1,2 1,2 1,1 1,1 1,0 1,1 1,0 1,0"/>
<path class="k c1 d1" transform="scale(7 1)" d="M50.060,1491l1-1 1,0 1-1 1-1 1-1 1-3 1-3 1-3 1-2 1-6 1-15 1-22 1-21 1-19 1-18 1-16 1-13 1-9 1-4 1,2 1,7 1,12 1,14 1,12 1,12 1,24 1,23 1,14 1,10 1,9 1,6 1,5 1,3 1,2 1,1 1,1 1,0 1,1 1,0 1,0 1,0 1,0"/>
<path class="k c1 d2" transform="scale(5 1)" d="M71.319,1491l1,0 1,0 1,0 1-1 1,0 1-1 1-1 1-1 1-2 1-3 1-3 1-5 1-7 1-8 1-9 1-12 1-14 1-18 1-24 1-23 1-17 1-9 1-7 1-6 1-6 1-1 1,4 1,11 1,13 1,11 1,12 1,13 1,14 1,15 1,15 1,13 1,13 1,10 1,9 1,6 1,6 1,4 1,3 1,2 1,1 1,1 1,1 1,0 1,1 1,0 1,0 1,0 1,0 1,0 1,0"/>
<path class="k c1 d3" transform="scale(7 1)" d="M49.825,1491l1,0 1,0 1-1 1,0 1-1 1-1 1-3 1-3 1-5 1-7 1-9 1-12 1-15 1-17 1-17 1-16 1-18 1-29 1-27 1,1 1,16 1,12 1,13 1,16 1,19 1,20 1,18 1,16 1,13 1,11 1,8 1,7 1,4 1,3 1,1 1,2 1,0 1,1"/>
<path class="k c2" transform="scale(7 1)" d="M57.620,1491l1-1 1,0 1-1 1-1 1-1 1-3 1-5 1-6 1-8 1-9 1-8 1-9 1-11 1-12 1-13 1-13 1-11 1-8 1-7 1-7 1-3 1,0 1,6 1,10 1,12 1,13 1,13 1,11 1,8 1,10 1,12 1,12 1,9 1,7 1,5 1,4 1,2 1,1 1,1 1,0 1,0 1,1 1,0 1,0"/>
<path class="k c2 d1" transform="scale(7 1)" d="M55.035,1491l1,0 1-1 1,0 1-1 1-1 1-1 1-2 1-2 1-3 1-4 1-5 1-7 1-9 1-11 1-13 1-10 1-6 1-3 1-4 1-9 1-12 1-11 1-7 1-3 1,2 1,3 1,6 1,9 1,11 1,13 1,12 1,12 1,10 1,10 1,8 1,7 1,5 1,5 1,3 1,3 1,2 1,1 1,1 1,1 1,0 1,0 1,1"/>
<path class="k c2 d2" transform="scale(7 1)" d="M51.138,1491l1,0 1,0 1,0 1,0 1,0 1-1 1,0 1-1 1,0 1-2 1-1 1-3 1-3 1-4 1-5 1-7 1-8 1-9 1-11 1-11 1-13 1-13 1-13 1-10 1-3 1,0 1-1 1-1 1-1 1,3 1,7 1,10 1,11 1,11 1,12 1,12 1,11 1,9 1,8 1,7 1,5 1,4 1,3 1,3 1,2 1,1 1,0 1,1 1,0 1,1 1,0 1,0 1,0 1,0 1,0 1,0 1,0 1,0"/>
<path class="k c2 d3" transform="scale(7 1)" d="M51.734,1491l1,0 1,0 1,0 1,0 1,0 1,0 1,0 1-1 1,0 1-1 1-1 1-2 1-3 1-4 1-5 1-7 1-8 1-11 1-12 1-14 1-15 1-15 1-15 1-14 1-11 1-4 1,3 1,5 1,3 1,4 1,8 1,14 1,16 1,16 1,16 1,13 1,12 1,9 1,7 1,6 1,3 1,3 1,2 1,1 1,1 1,0 1,1 1,0 1,0 1,0 1,0 1,0 1,0"/>
<path class="k c3" transform="scale(7 1)" d="M42.992,1491l1,0 1,0 1,0 1-1 1,0 1-1 1,0 1-1 1-2 1-1 1-3 1-2 1-3 1-3 1-8 1-12 1-13 1-12 1-11 1-11 1-11 1-10 1-7 1-5 1-2 1-2 1-3 1,0 1,6 1,9 1,12 1,13 1,12 1,12 1,10 1,10 1,9 1,7 1,6 1,4 1,4 1,3 1,2 1,2 1,1 1,1 1,0 1,0 1,1 1,0 1,0 1,0 1,0 1,0 1,0"/>
<path class="k c3 d1" transform="scale(7 1)" d="M44.480,1491l1,0 1,0 1,0 1,0 1-1 1,0 1-1 1-1 1-1 1-3 1-3 1-4 1-6 1-9 1-11 1-14 1-17 1-18 1-17 1-13 1-10 1-7 1-5 1-4 1,0 1,2 1,8 1,12 1,16 1,17 1,15 1,13 1,11 1,11 1,10 1,8 1,6 1,5 1,3 1,3 1,2 1,1 1,1 1,0 1,1 1,0 1,0 1,0 1,0 1,0"/>
<path class="k c3 d2" transform="scale(7 1)" d="M46.377,1491l1,0 1-1 1,0 1,0 1-1 1-2 1-2 1-3 1-3 1-6 1-6 1-7 1-10 1-12 1-14 1-14 1-15 1-13 1-12 1-9 1-4 1,0 1,1 1,3 1,6 1,11 1,14 1,16 1,14 1,13 1,10 1,10 1,9 1,7 1,6 1,4 1,3 1,3 1,1 1,1 1,1 1,0 1,1 1,0"/>
<path class="k c3 d3" transform="scale(7 1)" d="M38.925,1491l1,0 1,0 1,0 1,0 1,0 1,0 1,0 1,0 1-1 1,0 1,0 1-1 1-1 1-2 1-3 1-3 1-4 1-6 1-7 1-8 1-10 1-12 1-13 1-15 1-17 1-17 1-15 1-9 1-2 1,4 1,8 1,9 1,10 1,10 1,9 1,10 1,10 1,12 1,12 1,12 1,11 1,8 1,6 1,5 1,3 1,2 1,2 1,1 1,1 1,0 1,0 1,1 1,0 1,0 1,0 1,0 1,0 1,0 1,0"/>
<path class="k c5" transform="scale(10 1)" d="M38.836,1491l1,0 1,0 1,0 1,0 1,0 1,0 1-1 1,0 1,0 1-1 1-1 1-1 1-2 1-2 1-2 1-4 1-3 1-5 1-5 1-6 1-7 1-7 1-7 1-6 1-6 1-4 1-1 1,0 1,3 1,4 1,3 1,4 1,3 1,4 1,4 1,4 1,4 1,3 1,3 1,5 1,5 1,4 1,4 1,3 1,3 1,2 1,2 1,1 1,1 1,1 1,0 1,0 1,1 1,0 1,0 1,0 1,0 1,0"/>
<path class="k c5 d1" transform="scale(10 1)" d="M40.857,1491l1,0 1,0 1,0 1-1 1,0 1,0 1-1 1,0 1-1 1-2 1-1 1-2 1-3 1-3 1-4 1-4 1-5 1-6 1-5 1-6 1-7 1-6 1-5 1-5 1-5 1-3 1-2 1,0 1,0 1,1 1,0 1,1 1,3 1,8 1,10 1,11 1,9 1,7 1,5 1,4 1,2 1,3 1,3 1,2 1,2 1,2 1,1 1,1 1,1 1,0 1,0 1,1 1,0 1,0 1,0 1,0 1,0 1,0 1,0 1,0"/>
<path class="k c5 d2" transform="scale(10 1)" d="M37.938,1491l1,0 1,0 1,0 1,0 1,0 1-1 1,0 1,0 1-1 1,0 1-1 1-1 1-2 1-1 1-2 1-3 1-3 1-3 1-5 1-5 1-5 1-7 1-6 1-7 1-7 1-6 1-5 1-4 1-2 1,0 1,0 1,1 1,2 1,3 1,2 1,4 1,4 1,5 1,5 1,7 1,6 1,7 1,5 1,5 1,4 1,4 1,3 1,2 1,2 1,1 1,2 1,0 1,1 1,1 1,0 1,0 1,1 1,0 1,0 1,0 1,0"/>
<path class="k c5 d3" transform="scale(10 1)" d="M36.833,1491l1,0 1,0 1,0 1,0 1,0 1,0 1,0 1-1 1,0 1,0 1-1 1-1 1,0 1-1 1-1 1-1 1-2 1-4 1-5 1-5 1-6 1-6 1-6 1-7 1-7 1-7 1-5 1-4 1-3 1-2 1-1 1,0 1,1 1,2 1,3 1,4 1,5 1,6 1,6 1,6 1,6 1,6 1,5 1,5 1,4 1,3 1,3 1,3 1,2 1,1 1,2 1,1 1,0 1,1 1,0 1,0 1,1 1,0"/>
<path class="k c9" transform="scale(7 1)" d="M46.109,1491l1,0 1,0 1,0 1,0 1,0 1,0 1,0 1,0 1,0 1-1 1,0 1,0 1-1 1,0 1-1 1-1 1-2 1-2 1-3 1-3 1-4 1-5 1-6 1-6 1-7 1-7 1-6 1-5 1-3 1-5 1-7 1-10 1-12 1-11 1-5 1-1 1,1 1,3 1,4 1,9 1,11 1,11 1,10 1,9 1,8 1,8 1,6 1,6 1,5 1,5 1,4 1,3 1,3 1,2 1,2 1,1 1,1 1,0 1,1 1,0 1,0 1,1 1,0 1,0 1,0 1,0"/>
<path class="k c9 d1" transform="scale(7 1)" d="M46.811,1491l1,0 1,0 1,0 1,0 1,0 1,0 1,0 1,0 1,0 1-1 1,0 1,0 1-1 1-1 1-1 1-1 1-2 1-2 1-3 1-4 1-4 1-6 1-6 1-7 1-8 1-7 1-7 1-6 1-7 1-8 1-7 1-7 1-6 1-3 1,0 1,3 1,6 1,7 1,8 1,9 1,8 1,7 1,5 1,5 1,4 1,5 1,5 1,6 1,5 1,5 1,4 1,3 1,2 1,2 1,2 1,1 1,1 1,1 1,0 1,0 1,1 1,0 1,0 1,0 1,0 1,0 1,0"/>
<path class="k c9 d2" transform="scale(7 1)" d="M53.763,1491l1,0 1,0 1-1 1,0 1,0 1-1 1-1 1-1 1-1 1-2 1-3 1-3 1-4 1-5 1-6 1-8 1-9 1-10 1-10 1-9 1-8 1-5 1-4 1-4 1-3 1-4 1-3 1-2 1,2 1,3 1,4 1,6 1,8 1,8 1,10 1,9 1,10 1,8 1,7 1,7 1,5 1,5 1,4 1,3 1,2 1,2 1,1 1,1 1,1 1,0 1,0 1,1 1,0 1,0"/>
<path class="k c9 d3" transform="scale(7 1)" d="M53.491,1491l1,0 1,0 1,0 1-1 1,0 1,0 1-1 1-1 1-1 1-1 1-2 1-3 1-3 1-4 1-5 1-6 1-7 1-8 1-8 1-9 1-8 1-9 1-7 1-5 1-3 1-2 1-3 1-1 1,0 1,3 1,5 1,5 1,5 1,4 1,5 1,7 1,7 1,8 1,8 1,7 1,7 1,6 1,5 1,3 1,4 1,2 1,2 1,1 1,2 1,0 1,1 1,0 1,0 1,1 1,0 1,0 1,0 1,0 1,0"/>
<path class="k c5" d="M74.2,1490.9l75.8-0.3 80-1.7"/>
<path class="k c7" d="M900,1490.9l239,0"/>
<path class="k c4" d="M202,1490.9l10.1,0 10.2,0 10.1,0 10.2,0 10.1-0.1 10.2,0 10.1-0.1 10.2-0.2 10.1-0.3 10.1-0.5 10.2-0.8 10.1-1.1 10.2-1.6 10.1-2.3 10.2-3.1 10.1-4 10.1-4.9 10.2-6 10.1-6.9 10.2-7.5 10.1-7.8 10.2-7.8 10.1-7.1 10.2-5.9 10.1-4.2 10.1-2.3 10.2-0.2 10.1,0.3 10.2,0.6 10.1,0.9 10.2,1.1 10.1,1.5 10.2,1.7 10.1,1.9 10.1,2.2 10.2,2.3 10.1,2.5 10.2,2.7 10.1,2.7 10.2,2.8 10.1,2.9 10.1,2.9 10.2,2.9 10.1,2.9 10.2,2.8 10.1,2.8 10.2,2.7 10.1,2.6 10.2,2.5 10.1,2.4 10.1,2.2 10.2,2.2 10.1,2 10.2,1.8 10.1,1.7 10.2,1.6 10.1,1.5 10.2,1.3 10.1,1.2 10.1,1.1 10.2,1 10.1,0.8 10.2,0.8 10.1,0.7 10.2,0.6 10.1,0.5 10.1,0.5 10.2,0.4 10.1,0.4 10.2,0.3 10.1,0.2 10.2,0.2"/>
<path class="k c4 d1" d="M202,1490.9l10.1,0 10.2,0 10.1,0 10.2,0 10.1-0.1 10.2,0 10.1-0.1 10.2-0.1 10.1-0.3 10.1-0.4 10.2-0.7 10.1-0.9 10.2-1.5 10.1-2 10.2-2.7 10.1-3.6 10.1-4.5 10.2-5.5 10.1-6.3 10.2-7.1 10.1-7.4 10.2-7.5 10.1-7 10.2-5.9 10.1-4.5 10.1-2.7 10.2-0.6 10.1,0.2 10.2,0.3 10.1,0.7 10.2,0.8 10.1,1 10.2,1.3 10.1,1.4 10.1,1.6 10.2,1.8 10.1,1.9 10.2,2 10.1,2.2 10.2,2.2 10.1,2.3 10.1,2.4 10.2,2.4 10.1,2.5 10.2,2.4 10.1,2.5 10.2,2.4 10.1,2.4 10.2,2.3 10.1,2.3 10.1,2.2 10.2,2.1 10.1,2 10.2,2 10.1,1.8 10.2,1.8 10.1,1.6 10.2,1.6 10.1,1.4 10.1,1.4 10.2,1.2 10.1,1.2 10.2,1 10.1,1 10.2,0.9 10.1,0.8 10.1,0.7 10.2,0.7 10.1,0.6 10.2,0.5 10.1,0.5 10.2,0.4"/>
<path class="k c4 d2" d="M202,1490.9l10.1,0 10.2,0 10.1,0 10.2,0 10.1,0 10.2-0.1 10.1,0 10.2-0.1 10.1-0.2 10.1-0.3 10.2-0.5 10.1-0.7 10.2-1.1 10.1-1.7 10.2-2.2 10.1-3 10.1-4 10.2-4.9 10.1-5.9 10.2-6.8 10.1-7.4 10.2-7.8 10.1-7.7 10.2-7.1 10.1-5.9 10.1-4.3 10.2-2.3 10.1-0.2 10.2,0.3 10.1,0.6 10.2,0.9 10.1,1.1 10.2,1.5 10.1,1.7 10.1,1.9 10.2,2.2 10.1,2.3 10.2,2.5 10.1,2.6 10.2,2.8 10.1,2.8 10.1,2.9 10.2,2.9 10.1,2.9 10.2,2.8 10.1,2.9 10.2,2.7 10.1,2.7 10.2,2.6 10.1,2.5 10.1,2.4 10.2,2.2 10.1,2.1 10.2,2 10.1,1.9 10.2,1.7 10.1,1.5 10.2,1.5 10.1,1.3 10.1,1.1 10.2,1.1 10.1,1 10.2,0.8 10.1,0.8 10.2,0.7 10.1,0.5 10.1,0.6 10.2,0.4 10.1,0.4 10.2,0.3 10.1,0.3 10.2,0.3"/>
<path class="k c4 d3" d="M202,1490.9l10.1,0 10.2,0 10.1,0 10.2,0 10.1-0.1 10.2,0 10.1-0.1 10.2-0.2 10.1-0.3 10.1-0.5 10.2-0.7 10.1-1.1 10.2-1.6 10.1-2.2 10.2-3 10.1-3.9 10.1-4.8 10.2-5.8 10.1-6.7 10.2-7.4 10.1-7.6 10.2-7.6 10.1-7 10.2-5.8 10.1-4.2 10.1-2.3 10.2-0.2 10.1,0.3 10.2,0.6 10.1,0.9 10.2,1.2 10.1,1.5 10.2,1.8 10.1,2 10.1,2.2 10.2,2.3 10.1,2.6 10.2,2.7 10.1,2.7 10.2,2.9 10.1,2.9 10.1,2.9 10.2,2.9 10.1,2.9 10.2,2.8 10.1,2.8 10.2,2.7 10.1,2.5 10.2,2.5 10.1,2.3 10.1,2.2 10.2,2 10.1,2 10.2,1.7 10.1,1.7 10.2,1.4 10.1,1.4 10.2,1.2 10.1,1.1 10.1,1 10.2,0.9 10.1,0.8 10.2,0.7 10.1,0.6 10.2,0.5 10.1,0.5 10.1,0.4 10.2,0.3 10.1,0.3 10.2,0.3 10.1,0.2 10.2,0.2"/>
<path d="M215,1490.9H938" stroke="#933708" stroke-width="4" fill="none"/>
</g>
<g clip-path="url(#cr3)">
<g transform="translate(1276.17 1387) scale(36.7267 1)">
<path class="s c0" d="M8,0V-14.2M17,0V-18.6M28,0V17.3M29,0V-72"/>
<path class="d c0" d="M0,65.1h0M1-4.2h0M2,31.7h0M3,29.8h0M4,15.1h0M5,10.6h0M6,11.6h0M7,0.1h0M8-14.2h0M9,2.8h0M10,16.9h0M11-3h0M12-13.8h0M13,17.3h0M14-7.9h0M15-11h0M16-9.5h0M17-18.6h0M18-4.4h0M19-21.2h0M20,0.9h0M21-18.4h0M22-10.3h0M23-4.4h0M24-34.7h0M25-21.9h0M26,5h0M27-21.9h0M28,17.3h0M29-72h0"/>
<path class="s c1" d="M11,0V16.2M13,0V18.2M22,0V15"/>
<path class="d c1" d="M0,15.4h0M1,2.3h0M2,3.4h0M3-3.1h0M4,1.9h0M5,0.4h0M6,4.6h0M7,5.5h0M8,16.7h0M9-10.9h0M10-11.7h0M11,16.2h0M12,2.6h0M13,18.2h0M14,5.7h0M15,11.2h0M16,13.3h0M17-8.1h0M18,15.3h0M19,18.8h0M20,4.3h0M21,7.7h0M22,15h0M23-5.4h0M24-2.4h0M25,2.3h0M26-8.1h0M27,1.6h0M28-4h0M29,5h0"/>
<path class="s c2" d="M12,0V17.2M16,0V-17.9M27,0V-51.5M29,0V-75.9"/>
<path class="d c2" d="M0,11.9h0M1,15.4h0M2,5.1h0M3,26.7h0M4,5h0M5,11.8h0M6,17.1h0M7,13.1h0M8,7.1h0M9,5.9h0M10,7.6h0M11,6.8h0M12,17.2h0M13,4.4h0M14,4.6h0M15-7.9h0M16-17.9h0M17,4.5h0M18,13.6h0M19,10.6h0M20,11.9h0M21,0.1h0M22-2.8h0M23-18h0M24-10.8h0M25-14.8h0M26-16.8h0M27-51.5h0M28-33.7h0M29-75.9h0"/>
<path class="s c3" d="M7,0V29.5M9,0V26.3M10,0V-34.5M15,0V-26.5M26,0V70.5"/>
<path class="d c3" d="M0-11.7h0M1-22h0M2-16.2h0M3,1.2h0M4-34.2h0M5-41.8h0M6-12.2h0M7,29.5h0M8,0.2h0M9,26.3h0M10-34.5h0M11,17.7h0M12,20.7h0M13,4.2h0M14-9.5h0M15-26.5h0M16,47.9h0M17,8.5h0M18,1.2h0M19,56.2h0M20,46.5h0M21,28.6h0M22,22.3h0M23,40.6h0M24,21.1h0M25,61.8h0M26,70.5h0M27,41.7h0M28,48.2h0M29,38h0"/>
<path class="s c0" d="M13,0V20"/>
<path class="d c0" d="M0,25.5h0M1,40h0M2,37.1h0M3,22.7h0M4,8.8h0M5,8.3h0M6,22.8h0M7,10.4h0M8-10.4h0M9-2.3h0M10,14.6h0M11,17.4h0M12,10.3h0M13,20h0M14-17.1h0M15-5.5h0M16-11.8h0M17-3.1h0M18-5.2h0M19-10.1h0M20-24.6h0M21-24.8h0M22-4.3h0M23-23.1h0M24-10.5h0M25-14.8h0M26-1.4h0M27-1.6h0M28,13.8h0M29-36.1h0"/>
<path class="s c1" d="M21,0V21"/>
<path class="d c1" d="M0,18.4h0M1,5.9h0M2-3.1h0M3,6h0M4-0.5h0M5-2.8h0M6-7.2h0M7-4.7h0M8,20.6h0M9-5.5h0M10,4.6h0M11-6.2h0M12,9.2h0M13-9.8h0M14-1h0M15,9.4h0M16,9.8h0M17,4h0M18,9.1h0M19,15.8h0M20,7.6h0M21,21h0M22-8.3h0M23,3.7h0M24-12.1h0M25-16.5h0M26-3.1h0M27,30.3h0M28-1.6h0M29,18.7h0"/>
<path class="s c2" d="M9,0V19"/>
<path class="d c2" d="M0-6h0M1,26.6h0M2,22.4h0M3,25h0M4,14.6h0M5,4.3h0M6,8.2h0M7,24h0M8,10.4h0M9,19h0M10,6.3h0M11,8h0M12,0.9h0M13-16h0M14,15.9h0M15-0.4h0M16,6.9h0M17-14.4h0M18-8.3h0M19,12.3h0M20-5h0M21-2.6h0M22-1.5h0M23,0.6h0M24-21.8h0M25-12.1h0M26-12h0M27-37.4h0M28-36.6h0M29-51h0"/>
<path class="s c3" d="M2,0V46.4M15,0V47.2M22,0V55"/>
<path class="d c3" d="M0-43.2h0M1,1.5h0M2,46.4h0M3-43.5h0M4-43.6h0M5-32.2h0M6-35.3h0M7-9.1h0M8-22.9h0M9,8.4h0M10-6h0M11-2.1h0M12,10.1h0M13-11.8h0M14,2.9h0M15,47.2h0M16,28.7h0M17-11h0M18,11.3h0M19,41.5h0M20,50.7h0M21-2.3h0M22,55h0M23,29.8h0M24,65.8h0M25,39.8h0M26,57h0M27,49.2h0M28,58.6h0M29,66.5h0"/>
<path class="s c0" d="M0,0V16.4M4,0V26.8M12,0V-17.6M29,0V28"/>
<path class="d c0" d="M0,16.4h0M1,13.1h0M2,32.4h0M3,15.6h0M4,26.8h0M5,15.1h0M6,6.9h0M7,8h0M8-7.7h0M9-8.9h0M10,18.6h0M11,7.6h0M12-17.6h0M13-6.8h0M14,8h0M15,3.7h0M16-6.9h0M17-14.5h0M18-11.7h0M19-1.7h0M20-2.7h0M21-17.4h0M22-7.1h0M23,0h0M24-31.7h0M25-35.4h0M26-5.1h0M27-11h0M28-3.5h0M29,28h0"/>
<path class="d c1" d="M0,8.1h0M1-1.2h0M2-2.5h0M3,6.8h0M4-6.3h0M5-8h0M6,2.6h0M7,2.3h0M8,11.7h0M9,9.1h0M10,6.8h0M11,14.6h0M12,4.6h0M13,14.4h0M14-12.6h0M15,5.2h0M16,11.1h0M17-5.1h0M18-3.8h0M19,23.5h0M20-9.9h0M21-3.4h0M22-12h0M23,5h0M24-6.2h0M25-3.5h0M26-11.2h0M27,14h0M28-7.1h0M29,10h0"/>
<path class="s c2" d="M1,0V30M13,0V-19.5M15,0V23.2M24,0V-36"/>
<path class="d c2" d="M0,48.4h0M1,30h0M2,18.1h0M3,6.3h0M4,12h0M5,15h0M6,24.2h0M7,9.7h0M8,4.3h0M9,12.2h0M10,13.2h0M11-12.3h0M12,1.9h0M13-19.5h0M14-0.3h0M15,23.2h0M16-13.9h0M17,10h0M18,1.4h0M19,3h0M20,6.9h0M21-21.3h0M22-13.9h0M23-14.2h0M24-36h0M25-16.4h0M26-7.2h0M27-50.7h0M28-27.5h0M29-15.2h0"/>
<path class="s c3" d="M20,0V58M25,0V17"/>
<path class="d c3" d="M0-28.8h0M1-90.3h0M2-57.6h0M3-51.8h0M4-21.7h0M5-7.5h0M6-33.3h0M7-29.8h0M8,7.2h0M9-24.6h0M10-20.3h0M11,9.2h0M12,26.7h0M13,0h0M14-3.5h0M15,33.5h0M16-5.2h0M17,22.5h0M18,25.1h0M19,7.8h0M20,58h0M21,4.7h0M22,15.7h0M23,28.2h0M24,28.9h0M25,17h0M26,17.8h0M27,67.4h0M28,53h0M29,75h0"/>
<path class="s c0" d="M10,0V25M26,0V-30M27,0V63"/>
<path class="d c0" d="M0,62h0M1,22.4h0M2,26.8h0M3,28.1h0M4,13.5h0M5,19h0M6,26.5h0M7,10h0M8,12.9h0M9,4h0M10,25h0M11-11.3h0M12-0.1h0M13,7.9h0M14,4.1h0M15-14.8h0M16,2h0M17,2.7h0M18-8.2h0M19-11.6h0M20-9.2h0M21-20.1h0M22-18.2h0M23-21.5h0M24-36.6h0M25-33.6h0M26-30h0M27,63h0M28,5.1h0M29-44h0"/>
<path class="s c1" d="M8,0V25M11,0V-16M22,0V13.5"/>
<path class="d c1" d="M0,17.4h0M1,5.3h0M2-4.5h0M3,0.6h0M4-5h0M5-1.8h0M6-1.7h0M7,5h0M8,25h0M9-9.5h0M10,9.6h0M11-16h0M12-0.7h0M13-7.2h0M14,7.5h0M15,19.3h0M16,8.6h0M17,7.2h0M18,3.1h0M19-4h0M20-2.2h0M21,17.3h0M22,13.5h0M23-9.2h0M24-3.6h0M25-4.5h0M26-10.4h0M27-0.7h0M28-0.8h0M29,15.4h0"/>
<path class="s c2" d="M10,0V14.3M11,0V17.9M17,0V-28.1M28,0V-20"/>
<path class="d c2" d="M0,31.2h0M1,10h0M2,18.9h0M3,18.1h0M4,17.8h0M5,18h0M6,24.9h0M7,7.8h0M8,10h0M9,2h0M10,14.3h0M11,17.9h0M12,10.1h0M13,8.8h0M14,10h0M15,7.7h0M16,21.9h0M17-28.1h0M18-0.2h0M19-10h0M20,5.6h0M21-19.9h0M22-18.5h0M23-21.4h0M24-14.6h0M25-14.3h0M26-11.2h0M27-34.8h0M28-20h0M29-65.3h0"/>
<path class="s c3" d="M24,0V14M27,0V69.9M29,0V94.4"/>
<path class="d c3" d="M0-18h0M1-80.9h0M2-63.9h0M3-24.7h0M4,0.6h0M5-2.8h0M6,0.8h0M7,19.4h0M8,28.1h0M9-3.1h0M10,20.7h0M11-7.8h0M12-27.8h0M13,9.1h0M14,16.3h0M15-14.5h0M16-27.3h0M17,5.2h0M18,22.1h0M19,21h0M20,17.2h0M21,9.2h0M22,42.5h0M23,42.1h0M24,14h0M25,47.8h0M26,20.5h0M27,69.9h0M28,43.3h0M29,94.4h0"/>
<path class="s c0" d="M27,0V58"/>
<path class="d c0" d="M0,43.3h0M1,28.1h0M2,21.5h0M3,9.6h0M4,19.5h0M5,36.6h0M6,14.6h0M7,4h0M8-1.3h0M9,1h0M10,21.4h0M11,14.2h0M12,19.1h0M13,14.8h0M14,1.4h0M15-12h0M16,0.6h0M17-6.1h0M18-2.1h0M19-19h0M20,5h0M21-27.6h0M22-8h0M23-20.5h0M24-25h0M25-30.1h0M26-23h0M27,58h0M28-19h0M29-22.9h0"/>
<path class="s c1" d="M14,0V20.5M27,0V36M28,0V118M29,0V114"/>
<path class="d c1" d="M0-1.3h0M1,7.2h0M2-0.3h0M3,5.5h0M4,2.2h0M5-6.8h0M6-3h0M7-4.3h0M8,11.3h0M9-3.5h0M10-1.8h0M11,7h0M12-13.1h0M13,1.4h0M14,20.5h0M15-11.7h0M16,4.7h0M17,12.5h0M18-4.5h0M19,4h0M20,3.2h0M21,6.2h0M22-3.5h0M23-2h0M24-10.9h0M25-13.7h0M26-6.7h0M27,36h0M28,118h0M29,114h0"/>
<path class="s c2" d="M4,0V32.6"/>
<path class="d c2" d="M0,19.4h0M1,8.9h0M2,9.6h0M3,18.8h0M4,32.6h0M5,16.7h0M6,15.6h0M7,12.3h0M8,2h0M9,14.8h0M10,9.8h0M11,4.3h0M12,11.8h0M13,0.2h0M14,2.9h0M15-3.4h0M16,13h0M17,2.7h0M18-9.4h0M19-3.7h0M20,11.3h0M21,7.9h0M22,2.7h0M23,3.3h0M24-6.1h0M25-18.3h0M26-10.4h0M27-41.9h0M28-26.1h0M29-61.6h0"/>
<path class="d c3" d="M0-57.1h0M1-30.6h0M2,29.2h0M3-46.2h0M4-19.1h0M5-13.1h0M6-24.7h0M7,14.1h0M8,5.4h0M9,15.7h0M10-32.1h0M11-16.2h0M12-0.8h0M13-3.2h0M14,1.3h0M15,43.6h0M16-12.2h0M17,11.2h0M18,34.1h0M19,43.7h0M20,3.6h0M21,18.6h0M22,34.1h0M23,16.3h0M24,17h0M25,30.1h0M26,15.1h0M27,47.4h0M28,31.6h0M29,77.3h0"/>
<path class="s c0" d="M22,0V-18.9M24,0V-39M25,0V-36.9"/>
<path class="d c0" d="M0,60.6h0M1,30.6h0M2,38.7h0M3,5h0M4,22.2h0M5,16.2h0M6,10.7h0M7-1.5h0M8-6.5h0M9,6.1h0M10,5h0M11-4.4h0M12,8.9h0M13,1h0M14,6.4h0M15-18.6h0M16-10.9h0M17,3.3h0M18-7.1h0M19-16.3h0M20,2.8h0M21-8h0M22-18.9h0M23-12h0M24-39h0M25-36.9h0M26-2.4h0M27-24.4h0M28,3.8h0M29,2.7h0"/>
<path class="d c1" d="M0,5.8h0M1-2.6h0M2,5.2h0M3,1.8h0M4,0.5h0M5-0.1h0M6-0.9h0M7,1.8h0M8,5h0M9-7.5h0M10,10.6h0M11,3.3h0M12,7.9h0M13,5.7h0M14-11h0M15,15h0M16,20.2h0M17,18.9h0M18,2h0M19-6.3h0M20,23h0M21,5.5h0M22-13.8h0M23,1.7h0M24-8.8h0M25-1.8h0M26-7.1h0M27,9.6h0M28-0.6h0M29,23.1h0"/>
<path class="s c2" d="M22,0V-26.3M28,0V122M29,0V125"/>
<path class="d c2" d="M0-9h0M1,0.5h0M2,5.9h0M3,21.7h0M4,19h0M5,8.9h0M6,12h0M7,17.9h0M8,6.1h0M9,14.3h0M10,12.2h0M11,12.2h0M12,7.8h0M13,1.5h0M14-5.1h0M15,6.7h0M16-10.4h0M17-1.7h0M18-4.2h0M19-2.9h0M20-1.8h0M21-16.5h0M22-26.3h0M23-23.6h0M24-15.6h0M25-13.6h0M26-27.9h0M27-48.9h0M28,122h0M29,125h0"/>
<path class="s c3" d="M2,0V-92.7M3,0V37.8M12,0V38.5M13,0V-39.2M26,0V66.9"/>
<path class="d c3" d="M0,13.8h0M1-42.9h0M2-92.7h0M3,37.8h0M4-39.5h0M5-34.2h0M6-23.5h0M7-3.5h0M8,12.9h0M9-7.8h0M10-18.3h0M11-27.5h0M12,38.5h0M13-39.2h0M14,28.1h0M15-7.7h0M16,22.3h0M17,25h0M18-6.7h0M19,47h0M20,35.5h0M21,34.5h0M22,40.3h0M23,21.4h0M24,46.9h0M25,55.9h0M26,66.9h0M27,7h0M28,51.6h0M29,55.7h0"/>
<path class="s c0" d="M14,0V-20.1"/>
<path class="d c0" d="M0,19.2h0M1,8.4h0M2,13.9h0M3,8.7h0M4,12.5h0M5,38.4h0M6,25.2h0M7,5.9h0M8-2h0M9-3.4h0M10,20.9h0M11-16.2h0M12,6.8h0M13-4.5h0M14-20.1h0M15,1.8h0M16-19.6h0M17-10.9h0M18-12.8h0M19,5h0M20-1.2h0M21-9.9h0M22-3.6h0M23-5.6h0M24,0.6h0M25-6.2h0M26-15.9h0M27-18.6h0M28,14.8h0M29-53.9h0"/>
<path class="s c1" d="M10,0V15.1M11,0V-14.3M20,0V26.1"/>
<path class="d c1" d="M0,4h0M1,6.3h0M2,1.1h0M3-3.8h0M4-4h0M5-3.5h0M6-1.2h0M7,8h0M8,13.3h0M9,5.8h0M10,15.1h0M11-14.3h0M12,1h0M13,4.1h0M14-5.6h0M15,1.9h0M16,1.7h0M17,8.8h0M18,6.2h0M19,11.8h0M20,26.1h0M21-2.6h0M22-9.5h0M23-10.9h0M24-7.9h0M25-5.2h0M26-10.9h0M27-5.5h0M28-4.6h0M29,7.6h0"/>
<path class="s c2" d="M15,0V-14.2"/>
<path class="d c2" d="M0-0.4h0M1,20.4h0M2,2.8h0M3,21.1h0M4,24.5h0M5,6.9h0M6,17.9h0M7,10.4h0M8,2.5h0M9,11.2h0M10,4.8h0M11,10.7h0M12-6h0M13,2.9h0M14-12.2h0M15-14.2h0M16,20.2h0M17-4.8h0M18,2.9h0M19,6h0M20-2.6h0M21,4.3h0M22,2h0M23,10h0M24-28.5h0M25-16.7h0M26-13.2h0M27-36.7h0M28-32.2h0M29-18.9h0"/>
<path class="s c3" d="M5,0V-48.8M8,0V34.6"/>
<path class="d c3" d="M0-119.6h0M1-52.8h0M2,12.6h0M3,16.5h0M4-3h0M5-48.8h0M6,2.4h0M7-22h0M8,34.6h0M9-0.8h0M10,5.3h0M11-19.9h0M12,13.9h0M13-5.5h0M14-11.5h0M15-1.8h0M16,24.9h0M17,17h0M18,39.8h0M19-0.4h0M20,43.9h0M21-0.3h0M22,35.9h0M23,10.6h0M24,37.8h0M25,25.7h0M26,47.2h0M27,38.9h0M28,46.9h0M29,85.6h0"/>
<path class="d c0" d="M0,33.7h0M1,44.4h0M2,17.5h0M3,31.3h0M4,23.2h0M5,7.1h0M6,9.3h0M7-4h0M8,10.6h0M9,6.9h0M10,6.2h0M11-7.9h0M12-7h0M13,0h0M14-16h0M15-9.4h0M16-24.5h0M17-0.3h0M18-9.8h0M19-7.6h0M20-25.8h0M21-4.8h0M22-14.2h0M23-6.9h0M24-27.7h0M25-18.5h0M26-7.8h0M27-3.8h0M28-9.9h0M29-59.3h0"/>
<path class="s c1" d="M9,0V-13.8M12,0V19.2M23,0V-13.1"/>
<path class="d c1" d="M0-0.6h0M1,3.2h0M2-1h0M3,7.3h0M4-1.1h0M5-2.2h0M6,3.2h0M7,1.4h0M8,23h0M9-13.8h0M10-8.8h0M11-3.5h0M12,19.2h0M13,7.3h0M14-0.2h0M15-0.7h0M16,0.1h0M17,21.4h0M18,18.2h0M19-1.7h0M20,1.9h0M21,14h0M22-15h0M23-13.1h0M24,0h0M25-6.6h0M26-4.4h0M27,23.3h0M28-7.7h0M29,21.6h0"/>
<path class="s c2" d="M5,0V23.6M6,0V27M7,0V27"/>
<path class="d c2" d="M0,41.2h0M1,19.4h0M2,0h0M3,22.6h0M4,11.2h0M5,23.6h0M6,27h0M7,27h0M8,1.1h0M9,13.5h0M10,4.1h0M11-5.8h0M12,3.3h0M13,12h0M14,6.2h0M15,16.8h0M16,18.1h0M17-20h0M18-15.5h0M19,1h0M20-1.3h0M21-17.3h0M22-25.6h0M23-25.4h0M24,0h0M25-13.2h0M26-18.8h0M27-47h0M28-39.5h0M29-35.4h0"/>
<path class="s c3" d="M0,0V30M16,0V57.3M17,0V-13.8M29,0V97.8"/>
<path class="d c3" d="M0,30h0M1-84.2h0M2-52.6h0M3,10h0M4-4.8h0M5-15.6h0M6-38.3h0M7-27.2h0M8,15.8h0M9,11.1h0M10,7.1h0M11-4.9h0M12-16.9h0M13,7.1h0M14,24.5h0M15,18h0M16,57.3h0M17-13.8h0M18,47.3h0M19,23h0M20,38.6h0M21,39.1h0M22,8.6h0M23,49.6h0M24,45.1h0M25,45.9h0M26,55.1h0M27,34.5h0M28,23.2h0M29,97.8h0"/>
<path class="s c0" d="M5,0V41.7M11,0V-22M18,0V-18.6M23,0V-25.2"/>
<path class="d c0" d="M0,28.9h0M1,42.5h0M2,22.5h0M3,27h0M4,5h0M5,41.7h0M6,17h0M7,2.7h0M8,5.5h0M9,11.8h0M10,22.5h0M11-22h0M12,20.4h0M13-3.6h0M14,5h0M15-16.2h0M16-16.3h0M17-5.3h0M18-18.6h0M19-5.2h0M20-28.7h0M21-13.3h0M22-13.4h0M23-25.2h0M24-15.7h0M25,3h0M26,3.3h0M27-4.7h0M28,7.3h0M29-32.3h0"/>
<path class="s c1" d="M17,0V24.1"/>
<path class="d c1" d="M0,6.9h0M1-0.2h0M2,0.2h0M3-5.1h0M4-9.3h0M5-7.1h0M6-5.4h0M7,0.2h0M8,17.3h0M9-4.5h0M10-2.6h0M11-1h0M12,12.8h0M13,10.2h0M14-6.8h0M15-11h0M16-10.3h0M17,24.1h0M18,0.7h0M19,22.9h0M20,18.3h0M21,4.5h0M22,10.8h0M23-8.4h0M24-2.9h0M25-17.5h0M26-2.5h0M27,26.1h0M28-5h0M29,10.8h0"/>
<path class="s c2" d="M14,0V20.5M19,0V15M28,0V-43.8"/>
<path class="d c2" d="M0,6.8h0M1,23.1h0M2,11.3h0M3,14.3h0M4,22.1h0M5,22.5h0M6,14h0M7,25h0M8,3.4h0M9,8.7h0M10,7.4h0M11-1.2h0M12,8.9h0M13,7.6h0M14,20.5h0M15,9.2h0M16-8.5h0M17-15.9h0M18-13h0M19,15h0M20,3.1h0M21,7h0M22,5.9h0M23-29.3h0M24-29.8h0M25-15.1h0M26-14.9h0M27-35.5h0M28-43.8h0M29-12.5h0"/>
<path class="s c3" d="M4,0V-53.1M11,0V39.8M15,0V-31.6M19,0V58.9"/>
<path class="d c3" d="M0-50.8h0M1-10.4h0M2-68.5h0M3-34.9h0M4-53.1h0M5-20.5h0M6-8.4h0M7-1h0M8,20.6h0M9-21.5h0M10,12.9h0M11,39.8h0M12-30.9h0M13-34.7h0M14,12.9h0M15-31.6h0M16,7.9h0M17,41.9h0M18,28.3h0M19,58.9h0M20,6.6h0M21,16.5h0M22,20.3h0M23,32h0M24,23.8h0M25,54.2h0M26,35.8h0M27,15.8h0M28,69.4h0M29,59.2h0"/>
<path class="s c0" d="M11,0V22M14,0V-22"/>
<path class="d c0" d="M0,55.3h0M1,10h0M2,26.1h0M3,36.8h0M4,11.6h0M5,23.5h0M6,28.3h0M7-6h0M8,2.4h0M9-1.5h0M10,9.9h0M11,22h0M12,5.2h0M13,15.6h0M14-22h0M15,1.2h0M16-14.6h0M17-7.3h0M18-0.3h0M19-9.1h0M20-14.2h0M21-14.7h0M22-4.9h0M23-18.9h0M24-8.6h0M25-27.5h0M26-20.2h0M27-21h0M28,2.2h0M29-62.3h0"/>
<path class="s c1" d="M9,0V-15.6"/>
<path class="d c1" d="M0,19.1h0M1-5h0M2,3.9h0M3,2.9h0M4-1.8h0M5,1.3h0M6-2.4h0M7,6.1h0M8,9.3h0M9-15.6h0M10,11.7h0M11-12.9h0M12,10.4h0M13-4.6h0M14,8.7h0M15,3.8h0M16-8.2h0M17,17.4h0M18-0.5h0M19,13.4h0M20,13.2h0M21,16.5h0M22,7.9h0M23-4h0M24-9.4h0M25-15.7h0M26-8.9h0M27,11.8h0M28-4.4h0M29,8.3h0"/>
<path class="s c2" d="M3,0V28.8M11,0V-14.3M23,0V-33.5M29,0V-81"/>
<path class="d c2" d="M0,9.5h0M1,24h0M2,15.7h0M3,28.8h0M4,30h0M5,10.3h0M6,14.9h0M7,5h0M8,3h0M9,16.7h0M10,5.2h0M11-14.3h0M12-9.1h0M13-7.1h0M14-3.1h0M15-1.6h0M16,10.1h0M17,1.5h0M18-6.4h0M19-5.5h0M20,4.5h0M21-9.2h0M22,8h0M23-33.5h0M24-13.1h0M25-15.5h0M26-14.3h0M27-46.4h0M28-36h0M29-81h0"/>
<path class="s c3" d="M10,0V29.9M11,0V34.9M12,0V-49.4M13,0V-43.4M14,0V41.7M16,0V-34.9M18,0V63.3"/>
<path class="d c3" d="M0,7.5h0M1-96.5h0M2-46.2h0M3-55h0M4-32.9h0M5-43.7h0M6-4h0M7-19.8h0M8,18.1h0M9,2.3h0M10,29.9h0M11,34.9h0M12-49.4h0M13-43.4h0M14,41.7h0M15,31.3h0M16-34.9h0M17-5.3h0M18,63.3h0M19,14.6h0M20,12.6h0M21,36.4h0M22,3.5h0M23,14.6h0M24,57h0M25,49.8h0M26,64h0M27,62.3h0M28,29.6h0M29,43.8h0"/>
<path class="s c0" d="M6,0V32.3M8,0V15.6M15,0V-22"/>
<path class="d c0" d="M0,52.7h0M1,46.5h0M2,7.2h0M3,19.8h0M4,26h0M5,39.9h0M6,32.3h0M7-2.3h0M8,15.6h0M9,9.3h0M10,19.2h0M11,5.7h0M12,15.4h0M13-2.4h0M14,3h0M15-22h0M16,3h0M17-4.2h0M18,5h0M19,1.9h0M20-15.4h0M21-26.3h0M22,0h0M23-14h0M24-7.1h0M25-4.3h0M26-21.3h0M27-16.7h0M28-12h0M29-0.6h0"/>
<path class="s c1" d="M12,0V-16.2M13,0V-17.1M14,0V18.1M16,0V-17.9M27,0V-21.2"/>
<path class="d c1" d="M0-2.6h0M1,1.2h0M2,1.9h0M3,7.8h0M4-8.6h0M5,6h0M6-0.3h0M7-1.6h0M8,18.1h0M9-12h0M10-14.1h0M11,0.5h0M12-16.2h0M13-17.1h0M14,18.1h0M15,12.7h0M16-17.9h0M17-2.3h0M18,21.3h0M19,2.1h0M20,0.6h0M21,10h0M22,3h0M23,3.2h0M24-2h0M25-14.5h0M26-9.8h0M27-21.2h0M28-6.1h0M29,20.1h0"/>
<path class="s c2" d="M14,0V-16M18,0V-25.5"/>
<path class="d c2" d="M0,26.8h0M1,7.8h0M2,8.5h0M3,17h0M4,15.4h0M5,12.8h0M6,21.3h0M7,22.6h0M8,5.4h0M9,3.2h0M10,9.2h0M11-10h0M12-9.9h0M13-11.9h0M14-16h0M15-10.7h0M16-2.3h0M17-23.4h0M18-25.5h0M19,11.4h0M20,0.3h0M21-8.1h0M22-7.1h0M23-12.5h0M24-2.4h0M25-18.7h0M26-16h0M27-41h0M28-40.8h0M29-5h0"/>
<path class="s c3" d="M4,0V-57M14,0V45.5M20,0V70.5M21,0V82.7M22,0V77.6M23,0V80.5"/>
<path class="d c3" d="M0-23.4h0M1-106.1h0M2-74.1h0M3-2.1h0M4-57h0M5-29.1h0M6-20.4h0M7-25.2h0M8,25.4h0M9-10.3h0M10-8.6h0M11,0.4h0M12,17.2h0M13,13.9h0M14,45.5h0M15,27h0M16,34.1h0M17,30.7h0M18,48.9h0M19,10.9h0M20,70.5h0M21,82.7h0M22,77.6h0M23,80.5h0M24,63.9h0M25,43.4h0M26,10.5h0M27,25.7h0M28,39.1h0M29,88.3h0"/>
<path class="d c0" d="M0,45.9h0M1,31.7h0M2,19.9h0M3,11.6h0M4,17.1h0M5,24.7h0M6,0h0M7,13.1h0M8,4.6h0M9-9.7h0M10,23.1h0M11-0.5h0M12-11.9h0M13,6.9h0M14-6.5h0M15-8.4h0M16-17.4h0M17-13h0M18-17.9h0M19-3h0M20-17.5h0M21-12.6h0M22-2.5h0M23-8h0M24-21.1h0M25-16.4h0M26,1.8h0M27-7.9h0M28-2.6h0M29,5.9h0"/>
<path class="s c1" d="M10,0V-17.2M12,0V17.2M13,0V-19.5M27,0V-25"/>
<path class="d c1" d="M0,3h0M1,1.8h0M2,6.5h0M3,2.1h0M4,5h0M5,2h0M6,0.8h0M7-0.2h0M8,23.9h0M9-12.7h0M10-17.2h0M11,10.4h0M12,17.2h0M13-19.5h0M14-4.4h0M15,6.8h0M16,6.6h0M17,13.5h0M18,24h0M19,21h0M20,16.9h0M21,0.9h0M22,1.5h0M23-12.1h0M24-1.3h0M25-11.6h0M26-3.9h0M27-25h0M28-5.5h0M29,20.6h0"/>
<path class="s c2" d="M2,0V25M22,0V-28.8"/>
<path class="d c2" d="M0,34.2h0M1-3h0M2,25h0M3,7.3h0M4,28.1h0M5,5.1h0M6,22.2h0M7,15.7h0M8,7.5h0M9,10.7h0M10,12.6h0M11-9h0M12-11.7h0M13-8.9h0M14-4h0M15,5.2h0M16-5.7h0M17-18.8h0M18-24.1h0M19,0.1h0M20,2.5h0M21-1.1h0M22-28.8h0M23-8.8h0M24-12.2h0M25-19h0M26-19.7h0M27-32.9h0M28-42.8h0M29-29.2h0"/>
<path class="s c3" d="M8,0V-31.6M13,0V35.9M21,0V50"/>
<path class="d c3" d="M0-68.7h0M1-4h0M2-78.4h0M3,23.8h0M4-38.1h0M5-1.1h0M6-1.5h0M7-11.5h0M8-31.6h0M9-14.1h0M10,15.9h0M11,21.7h0M12,31.3h0M13,35.9h0M14,32.3h0M15,7.8h0M16,14.5h0M17,18.4h0M18,44.6h0M19,38.2h0M20,25.2h0M21,50h0M22,6.5h0M23,26.5h0M24,52.9h0M25,59.5h0M26,27.2h0M27,36.1h0M28,59.8h0M29,63.6h0"/>
<path class="s c0" d="M19,0V-26.5M27,0V-28M28,0V20"/>
<path class="d c0" d="M0,66.6h0M1,3.4h0M2,24.5h0M3,38.8h0M4,9.9h0M5,29.9h0M6,20.4h0M7,7.3h0M8,1.2h0M9-0.5h0M10,15.3h0M11-6h0M12-1.5h0M13,11.5h0M14-17.7h0M15-1.8h0M16-2h0M17-16.4h0M18-10.7h0M19-26.5h0M20-27.2h0M21-16.5h0M22-12.9h0M23-10.9h0M24-26.2h0M25-11.5h0M26-3.7h0M27-28h0M28,20h0M29-39h0"/>
<path class="s c1" d="M16,0V-15.7"/>
<path class="d c1" d="M0-3.4h0M1-1.9h0M2-4.2h0M3,4.7h0M4-6.9h0M5,2.6h0M6,5.1h0M7,7.2h0M8,6h0M9-6.8h0M10-12.6h0M11,12.2h0M12,14.3h0M13,3h0M14,16.8h0M15,16.8h0M16-15.7h0M17-1.4h0M18,11.5h0M19-0.6h0M20,21.6h0M21,3.2h0M22,5.1h0M23-7.8h0M24-11.5h0M25-7.4h0M26-0.6h0M27-2.7h0M28-8.5h0M29,13.1h0"/>
<path class="s c2" d="M1,0V28.1M6,0V25.9M7,0V25.9M13,0V16.3M28,0V-45"/>
<path class="d c2" d="M0,29.5h0M1,28.1h0M2,4.2h0M3,12.4h0M4,10.3h0M5,15.8h0M6,25.9h0M7,25.9h0M8,8.1h0M9,9.3h0M10,6.9h0M11-3.5h0M12-5h0M13,16.3h0M14-8.2h0M15,11.3h0M16,11.9h0M17-12.5h0M18-21.7h0M19,4.7h0M20-3.9h0M21-11h0M22,4.6h0M23-4.6h0M24-4.9h0M25-17.6h0M26-23.6h0M27-43.9h0M28-45h0M29-58.2h0"/>
<path class="s c3" d="M21,0V-14"/>
<path class="d c3" d="M0-92.1h0M1-24.9h0M2-5.6h0M3,7.3h0M4-46.3h0M5-27.8h0M6-14.2h0M7,9.4h0M8-24.8h0M9,13.1h0M10-15.1h0M11,24.5h0M12,22.8h0M13-25.5h0M14-22.1h0M15,15.7h0M16-16.2h0M17,46.7h0M18,52.4h0M19,53.2h0M20-1.4h0M21-14h0M22,11.4h0M23,34.1h0M24,40.5h0M25,27.4h0M26,39.7h0M27,64.3h0M28,63.5h0M29,50.8h0"/>
<path class="s c0" d="M4,0V28M22,0V-20M27,0V-26.3"/>
<path class="d c0" d="M0,47.5h0M1,25.7h0M2,10.2h0M3,32.7h0M4,28h0M5,11.8h0M6,1.6h0M7-3.1h0M8-5.9h0M9-13.1h0M10,19.8h0M11,12.4h0M12,3.8h0M13-5.9h0M14-5h0M15,10h0M16-3.2h0M17-7.9h0M18,1.4h0M19-14.9h0M20-12.4h0M21-7.1h0M22-20h0M23-14.8h0M24-23h0M25-7.5h0M26-25.2h0M27-26.3h0M28-0.7h0M29-16.7h0"/>
<path class="s c1" d="M11,0V17.9M16,0V25.8M18,0V26.7M22,0V-18M25,0V-21"/>
<path class="d c1" d="M0,14.4h0M1-2.1h0M2,7.3h0M3,8.6h0M4-5.7h0M5-4.4h0M6-6.2h0M7-2.9h0M8,15.3h0M9,4.8h0M10-10.3h0M11,17.9h0M12,6.5h0M13-0.1h0M14,9.9h0M15,13.5h0M16,25.8h0M17,5.8h0M18,26.7h0M19,14.8h0M20,8.8h0M21,8.6h0M22-18h0M23,0.1h0M24-5h0M25-21h0M26-1.7h0M27,4.9h0M28-9h0M29,19.2h0"/>
<path class="s c2" d="M13,0V-17.2M23,0V-30.5M27,0V-31.4"/>
<path class="d c2" d="M0,22.5h0M1-1.3h0M2,10.2h0M3,9.3h0M4,27h0M5,18.9h0M6,6.4h0M7,20.8h0M8,0h0M9,10.2h0M10,8.9h0M11-11h0M12,6.4h0M13-17.2h0M14-11.3h0M15,0.9h0M16,1.9h0M17,0.3h0M18,9.8h0M19-1.7h0M20,5.2h0M21,1.3h0M22-23.6h0M23-30.5h0M24-26.8h0M25-18h0M26-6.2h0M27-31.4h0M28-33.1h0M29-38h0"/>
<path class="s c3" d="M6,0V-45M12,0V42.7M17,0V53.6M25,0V68.6"/>
<path class="d c3" d="M0-81.6h0M1-75.2h0M2-26.2h0M3-30.4h0M4-6.9h0M5-36.2h0M6-45h0M7,17.9h0M8,2.7h0M9-29.2h0M10-1.2h0M11,33.2h0M12,42.7h0M13,31.5h0M14,34.9h0M15-17.8h0M16,37h0M17,53.6h0M18,17.1h0M19,32.3h0M20,41h0M21-7.2h0M22,47h0M23,23.5h0M24,19.6h0M25,68.6h0M26,23.1h0M27,21.1h0M28,37.2h0M29,53.3h0"/>
<path class="s c0" d="M16,0V-28"/>
<path class="d c0" d="M0,50.3h0M1-8h0M2,28.1h0M3,34.4h0M4,24.2h0M5,5h0M6,22h0M7-0.5h0M8-3.6h0M9-4.4h0M10,7.6h0M11,4h0M12-10.9h0M13,2.2h0M14,0.7h0M15,12h0M16-28h0M17-2.4h0M18-1.3h0M19-23.3h0M20-22.2h0M21-1.9h0M22-15.7h0M23-18.4h0M24-30.1h0M25,0.2h0M26-17h0M27-9.1h0M28-6.4h0M29-13.3h0"/>
<path class="s c1" d="M10,0V-15.4M14,0V-16M19,0V26.5"/>
<path class="d c1" d="M0,4.9h0M1-0.9h0M2,8h0M3-0.1h0M4,1.3h0M5-6.2h0M6-6.5h0M7,0.7h0M8,8.6h0M9,7.3h0M10-15.4h0M11-10.1h0M12,15.9h0M13,13.5h0M14-16h0M15-3.3h0M16-1.8h0M17,5h0M18,19.3h0M19,26.5h0M20,15.6h0M21,12.1h0M22,0.3h0M23-3.4h0M24-8.3h0M25-18.7h0M26-5.3h0M27,27.2h0M28-6.3h0M29,16h0"/>
<path class="s c2" d="M0,0V51.7M11,0V-16M18,0V-28.4M20,0V13M23,0V12.4"/>
<path class="d c2" d="M0,51.7h0M1,17.8h0M2,16.8h0M3,25.9h0M4,23.3h0M5,6h0M6,19.8h0M7,6.5h0M8,9.1h0M9,16.3h0M10,10.8h0M11-16h0M12-7.6h0M13-4.6h0M14-1h0M15,12.3h0M16-6.7h0M17,7.8h0M18-28.4h0M19-7.8h0M20,13h0M21-12.3h0M22-5.4h0M23,12.4h0M24-24h0M25-11.4h0M26-9.2h0M27-45.7h0M28-31.3h0M29-53.9h0"/>
<path class="s c3" d="M6,0V-47.6M8,0V-27.8M10,0V-38.3M11,0V-35.5M16,0V-39.7M25,0V66.2"/>
<path class="d c3" d="M0-105h0M1-69.1h0M2,7.5h0M3-7.1h0M4-23.6h0M5,5.8h0M6-47.6h0M7-33.3h0M8-27.8h0M9,6.8h0M10-38.3h0M11-35.5h0M12,1.5h0M13,29h0M14-24.7h0M15,20.3h0M16-39.7h0M17,39.1h0M18,19.8h0M19,4.5h0M20,52.9h0M21,2.4h0M22,37.6h0M23,25.1h0M24,59.2h0M25,66.2h0M26,32.1h0M27,24.3h0M28,56.2h0M29,61.7h0"/>
<path class="s c0" d="M15,0V-20.4M17,0V-20M24,0V-41.5"/>
<path class="d c0" d="M0,57.4h0M1,20.4h0M2,15.4h0M3,23.8h0M4,18h0M5,31.4h0M6,8h0M7,4.8h0M8,0.3h0M9-12.1h0M10,8.6h0M11-18.1h0M12-8.3h0M13,12.3h0M14-0.6h0M15-20.4h0M16-0.5h0M17-20h0M18,0.5h0M19-22.3h0M20-20.5h0M21-29.2h0M22-8.9h0M23-1.4h0M24-41.5h0M25-31.3h0M26-11.5h0M27-17.5h0M28-13.9h0M29-50.9h0"/>
<path class="s c1" d="M0,0V20.5M12,0V-14.4"/>
<path class="d c1" d="M0,20.5h0M1-3.6h0M2-3.4h0M3-6h0M4-10h0M5,5.3h0M6,0.3h0M7-2.1h0M8,16h0M9,2.7h0M10,1h0M11-2.4h0M12-14.4h0M13-8.8h0M14-2.5h0M15,7.9h0M16,14.7h0M17,1.5h0M18,4.7h0M19,10.2h0M20-6.3h0M21,19.6h0M22,11.7h0M23,2.5h0M24-7.4h0M25-8.4h0M26-3.5h0M27,15.9h0M28-3h0M29,17.5h0"/>
<path class="s c2" d="M0,0V55M12,0V-16.2M18,0V15"/>
<path class="d c2" d="M0,55h0M1,16.9h0M2,15h0M3,8.2h0M4,21.4h0M5,2.5h0M6,8.8h0M7,8.6h0M8,6.8h0M9,4.3h0M10,11.8h0M11,0.2h0M12-16.2h0M13-10.3h0M14,8.3h0M15,3.9h0M16-0.2h0M17-9.6h0M18,15h0M19,7.6h0M20,9.1h0M21,10h0M22-9.5h0M23-19.4h0M24-17.2h0M25-10h0M26-25.9h0M27-47.9h0M28-25.3h0M29-56h0"/>
<path class="s c3" d="M17,0V49.6M24,0V72.4"/>
<path class="d c3" d="M0,19.8h0M1-110.9h0M2-21.4h0M3-38.2h0M4-48.6h0M5-18.1h0M6-17.2h0M7,6.7h0M8-4.3h0M9-19.2h0M10,17.7h0M11,16h0M12-7h0M13-16.8h0M14-5.3h0M15,40.4h0M16,41.6h0M17,49.6h0M18,4.1h0M19-9h0M20-5.6h0M21,46.9h0M22,31.4h0M23,19.5h0M24,72.4h0M25,35.5h0M26,59.8h0M27,11.5h0M28,65.2h0M29,83.2h0"/>
<path class="s c0" d="M1,0V55.5M10,0V23.7M18,0V-20"/>
<path class="d c0" d="M0,36h0M1,55.5h0M2,34.5h0M3,18.3h0M4,10.9h0M5,17.7h0M6,18.1h0M7-4.9h0M8-9.2h0M9,8.3h0M10,23.7h0M11-14.3h0M12,13.8h0M13,4.7h0M14-18.9h0M15-4.4h0M16-22h0M17-8.9h0M18-20h0M19-6.8h0M20-4.5h0M21-21.3h0M22-15.1h0M23-3.6h0M24,2.7h0M25-20.7h0M26-18.5h0M27-6.2h0M28-17.7h0M29-20.8h0"/>
<path class="s c1" d="M8,0V26M10,0V13M23,0V-14"/>
<path class="d c1" d="M0,13.4h0M1,2.7h0M2,6.1h0M3-1.9h0M4-8h0M5,3.1h0M6-4.5h0M7,2.8h0M8,26h0M9-0.2h0M10,13h0M11-7.8h0M12-7.3h0M13-16h0M14,11h0M15-8h0M16,16.3h0M17,2.8h0M18,10.5h0M19,16.7h0M20-7.5h0M21-1.6h0M22-0.9h0M23-14h0M24-5.8h0M25,5h0M26-6.3h0M27-17.3h0M28-1.9h0M29,22.4h0"/>
<path class="s c2" d="M4,0V34M11,0V15.7M25,0V-20"/>
<path class="d c2" d="M0,17.6h0M1,5.3h0M2,7.3h0M3,27.6h0M4,34h0M5,19.7h0M6,20.8h0M7,17.4h0M8,4.9h0M9,6.6h0M10,3.3h0M11,15.7h0M12,13.4h0M13-14.8h0M14,16.7h0M15-11.8h0M16,5.3h0M17-26.3h0M18-18.7h0M19,3.8h0M20,8.4h0M21-18.6h0M22-21h0M23,8.8h0M24-22.8h0M25-20h0M26-26.7h0M27-32.3h0M28-28.4h0M29-8.6h0"/>
<path class="s c3" d="M0,0V-135M1,0V14M2,0V39.5M11,0V-30.7M17,0V-18M18,0V58.3M23,0V54M28,0V76.6"/>
<path class="d c3" d="M0-135h0M1,14h0M2,39.5h0M3-21.1h0M4-15.5h0M5-10.9h0M6,8h0M7,3.7h0M8-6.8h0M9-4.9h0M10,26.7h0M11-30.7h0M12-4h0M13-9.1h0M14-18.8h0M15,23.7h0M16-18.4h0M17-18h0M18,58.3h0M19,35.5h0M20,1.3h0M21,21.4h0M22,52.2h0M23,54h0M24,43.4h0M25,38.2h0M26,7h0M27,55.1h0M28,76.6h0M29,49.2h0"/>
<path class="s c0" d="M7,0V13.9M8,0V-12.5M19,0V-24.6"/>
<path class="d c0" d="M0,30.2h0M1,18h0M2,8.9h0M3,21.4h0M4,24.8h0M5,21.8h0M6,5.8h0M7,13.9h0M8-12.5h0M9-6.9h0M10,12.9h0M11,2.5h0M12-5.5h0M13-8.5h0M14-12.1h0M15-3.3h0M16-13.6h0M17-13.6h0M18-14.6h0M19-24.6h0M20-34.6h0M21-10.8h0M22-11.2h0M23-22.6h0M24-33.3h0M25,1.6h0M26,0h0M27-19.7h0M28-15.3h0M29-26.9h0"/>
<path class="s c1" d="M0,0V22M13,0V16"/>
<path class="d c1" d="M0,22h0M1,8h0M2-5.1h0M3,1.1h0M4,0.2h0M5,3.6h0M6-4.9h0M7-2.5h0M8,7h0M9,11.8h0M10,2.2h0M11,4.4h0M12-11h0M13,16h0M14,12.6h0M15,18.2h0M16-4.9h0M17,9.6h0M18,17h0M19,0.9h0M20,10.2h0M21-0.5h0M22,9.3h0M23-6.3h0M24-4.1h0M25,1.2h0M26,0h0M27,7.2h0M28-5.8h0M29,13.9h0"/>
<path class="s c2" d="M17,0V-30.6M27,0V-30"/>
<path class="d c2" d="M0,38.4h0M1,11.5h0M2,21.3h0M3,11.3h0M4,25.4h0M5,14h0M6,9.5h0M7,11.3h0M8,11.4h0M9,17.5h0M10,10.3h0M11,9.4h0M12-0.5h0M13-13.2h0M14,11h0M15,18.3h0M16,7.9h0M17-30.6h0M18-11.6h0M19,6.7h0M20,6.3h0M21-7h0M22-22.7h0M23-3.2h0M24-32.1h0M25-17.2h0M26-5h0M27-30h0M28-23.2h0M29-46.7h0"/>
<path class="s c3" d="M15,0V51.5M19,0V-14M27,0V73.7M28,0V80.5"/>
<path class="d c3" d="M0,2.2h0M1-59.7h0M2,22.9h0M3,19.9h0M4-13.6h0M5-21.8h0M6-30h0M7-17.3h0M8,23.1h0M9-12.8h0M10-26.3h0M11-10.6h0M12,4.1h0M13-32h0M14,19.5h0M15,51.5h0M16-22.9h0M17,35.4h0M18,7.5h0M19-14h0M20,10.9h0M21,23.9h0M22,44.4h0M23,18h0M24,11h0M25,63.4h0M26,49.3h0M27,73.7h0M28,80.5h0M29,89.5h0"/>
<path class="s c0" d="M7,0V15M8,0V13.9M16,0V-26.3M26,0V-28.4M28,0V-30"/>
<path class="d c0" d="M0,69h0M1-2.4h0M2,35.9h0M3,17.3h0M4,21.3h0M5,20.3h0M6,24.1h0M7,15h0M8,13.9h0M9-8h0M10,15.9h0M11-12.5h0M12,11.7h0M13-1.4h0M14-8.8h0M15,6.2h0M16-26.3h0M17,1.8h0M18-13.9h0M19-19.8h0M20-31h0M21-3.3h0M22-16.7h0M23-24.6h0M24-17.7h0M25-12.6h0M26-28.4h0M27-10.3h0M28-30h0M29,18.2h0"/>
<path class="s c1" d="M20,0V24M21,0V22.5M27,0V32.6M29,0V25"/>
<path class="d c1" d="M0,16.3h0M1-3.3h0M2,4.6h0M3-2.7h0M4-7.3h0M5-1.4h0M6,6h0M7,3.4h0M8,22.5h0M9-8.5h0M10,3.3h0M11,9.6h0M12-3.3h0M13-11.2h0M14-8.2h0M15,0.7h0M16-13.2h0M17,11.3h0M18-6.8h0M19,8.7h0M20,24h0M21,22.5h0M22,4.5h0M23-11.7h0M24-9.9h0M25-9.7h0M26-5.8h0M27,32.6h0M28-6.7h0M29,25h0"/>
<path class="s c2" d="M2,0V23.6M3,0V30M19,0V13.3M21,0V-23.4M23,0V15M26,0V-28.7"/>
<path class="d c2" d="M0,47.1h0M1,3.9h0M2,23.6h0M3,30h0M4,28.7h0M5,3.5h0M6,7.2h0M7,21.6h0M8,12h0M9,5.3h0M10,13.6h0M11,14.6h0M12-12.5h0M13-5.5h0M14,6.9h0M15-4.8h0M16-3.2h0M17,6.3h0M18,11.7h0M19,13.3h0M20,8h0M21-23.4h0M22-20h0M23,15h0M24-7.5h0M25-11.7h0M26-28.7h0M27-34h0M28-34.7h0M29-32.1h0"/>
<path class="s c3" d="M7,0V-39.7M9,0V-34.6M14,0V-31.4"/>
<path class="d c3" d="M0-112.6h0M1-46.2h0M2-42.2h0M3,33h0M4,6.7h0M5-39.9h0M6-40.2h0M7-39.7h0M8,10.1h0M9-34.6h0M10-12.5h0M11-14.1h0M12-19.6h0M13-28.6h0M14-31.4h0M15,5.5h0M16,17.5h0M17-2.2h0M18-1.1h0M19-7.3h0M20,32.4h0M21,31.9h0M22-1h0M23,44.3h0M24,36.5h0M25,57.8h0M26,13.1h0M27,31.5h0M28,66.9h0M29,92.3h0"/>
<path class="s c0" d="M3,0V40.2M9,0V-14.2M11,0V19"/>
<path class="d c0" d="M0,39.9h0M1,5.5h0M2,12.4h0M3,40.2h0M4,7.4h0M5,32.8h0M6,2.9h0M7,12.3h0M8,9.2h0M9-14.2h0M10,12.2h0M11,19h0M12-15.3h0M13-10h0M14-11.2h0M15,5.1h0M16-8.6h0M17-15.5h0M18-2.9h0M19-17.3h0M20-7.3h0M21-24.2h0M22-1h0M23-10h0M24-11.6h0M25,5.1h0M26-13.1h0M27-14.7h0M28-25.6h0M29-9.6h0"/>
<path class="s c1" d="M15,0V20.8M16,0V23M19,0V28.5"/>
<path class="d c1" d="M0,11.1h0M1,4.3h0M2-1.4h0M3,3.4h0M4-2.3h0M5-4h0M6,1.4h0M7-5.3h0M8,8.1h0M9,8.1h0M10-3.9h0M11,8.4h0M12-2.1h0M13-14.8h0M14,1.6h0M15,20.8h0M16,23h0M17,14.7h0M18-1.6h0M19,28.5h0M20-3.3h0M21,11.1h0M22-7h0M23-1.1h0M24-12.8h0M25,0.6h0M26-1.1h0M27-19.6h0M28-2.7h0M29,16.9h0"/>
<path class="s c2" d="M5,0V25M13,0V18.2M16,0V25.8M24,0V-33.9"/>
<path class="d c2" d="M0,24.2h0M1,2.7h0M2,0.5h0M3,14.9h0M4,16.7h0M5,25h0M6,13.2h0M7,19.8h0M8,1.6h0M9,7h0M10,11.3h0M11,1.4h0M12,14.3h0M13,18.2h0M14,12.7h0M15-9.5h0M16,25.8h0M17-3.1h0M18,7.7h0M19,2h0M20-3.1h0M21-4.5h0M22-0.1h0M23-0.9h0M24-33.9h0M25-10.6h0M26-24.7h0M27-42.6h0M28-21.2h0M29-68.2h0"/>
<path class="s c3" d="M5,0V-52.4M13,0V40.4"/>
<path class="d c3" d="M0-85.8h0M1-37.2h0M2,17.7h0M3-15.1h0M4,10h0M5-52.4h0M6-18.8h0M7,1.6h0M8-14.9h0M9,17.6h0M10,24.4h0M11-22.7h0M12,35.4h0M13,40.4h0M14,10.1h0M15,37.9h0M16-30.6h0M17-8.9h0M18,31.9h0M19-3.2h0M20-11.2h0M21,26.9h0M22,29h0M23,39.2h0M24,33.7h0M25,24h0M26,61.7h0M27,59.5h0M28,25.1h0M29,72.6h0"/>
<path class="s c0" d="M2,0V42M21,0V-33.5"/>
<path class="d c0" d="M0,24.1h0M1,15.6h0M2,42h0M3,12.7h0M4,8.2h0M5,27.7h0M6,13.4h0M7,3.1h0M8-11.5h0M9-5.8h0M10,6.7h0M11-9.4h0M12,1.6h0M13,8.9h0M14-3.9h0M15-17.1h0M16-20.8h0M17-11.9h0M18-16.5h0M19-14.1h0M20-32.8h0M21-33.5h0M22-17.5h0M23-2.5h0M24-2.8h0M25-2.6h0M26-6.6h0M27-7.3h0M28-8.1h0M29-5h0"/>
<path class="s c1" d="M15,0V23.2M24,0V-14"/>
<path class="d c1" d="M0-5h0M1-4.2h0M2,5.5h0M3-4.4h0M4,4.3h0M5-5h0M6-8h0M7-3.6h0M8,20h0M9-2.4h0M10,6.1h0M11,1.3h0M12,3.2h0M13-1.6h0M14-9.5h0M15,23.2h0M16,2.9h0M17-6.1h0M18,7.7h0M19,19.8h0M20,6.3h0M21,18.4h0M22-2.1h0M23-0.3h0M24-14h0M25,3.5h0M26-12h0M27-7.5h0M28-3.6h0M29,11.4h0"/>
<path class="s c2" d="M14,0V18M18,0V18M26,0V-30"/>
<path class="d c2" d="M0-2.9h0M1,1.4h0M2,12.4h0M3,19.8h0M4,31.2h0M5,8.4h0M6,5h0M7,16.6h0M8,9.4h0M9,18.3h0M10,2h0M11-7.4h0M12,4.7h0M13,6.1h0M14,18h0M15,19.9h0M16,2.7h0M17-8.2h0M18,18h0M19,9.8h0M20,10.5h0M21-15.1h0M22-12.7h0M23,6.5h0M24-18.5h0M25-12.4h0M26-30h0M27-38.2h0M28-22.6h0M29-44.7h0"/>
<path class="s c3" d="M1,0V-125M4,0V51.3M7,0V-36.2M9,0V-31.5M10,0V33.6M20,0V-22M27,0V-126M28,0V-160M29,0V-128"/>
<path class="d c3" d="M0-60.6h0M1-125h0M2-36.9h0M3-60.4h0M4,51.3h0M5-5.6h0M6-6.4h0M7-36.2h0M8-10.6h0M9-31.5h0M10,33.6h0M11,3.5h0M12-9.6h0M13-22.3h0M14,38.6h0M15,2.1h0M16-8.6h0M17,13h0M18-4.1h0M19,27h0M20-22h0M21,13.9h0M22,48.7h0M23,37.2h0M24,50.2h0M25,51.5h0M26,51.7h0M27-126h0M28-160h0M29-128h0"/>
<path class="s c0" d="M0,0V73.3M9,0V-15.6M12,0V-20M21,0V-31.7"/>
<path class="d c0" d="M0,73.3h0M1,50.1h0M2,5h0M3,13.9h0M4,18.8h0M5,13.5h0M6,4.5h0M7,1.7h0M8,3.2h0M9-15.6h0M10,11.5h0M11,11.3h0M12-20h0M13,5.8h0M14-2.8h0M15-0.3h0M16-18.2h0M17,5h0M18-15.5h0M19,1.1h0M20-19.3h0M21-31.7h0M22-1.8h0M23-16.9h0M24,5h0M25-25.8h0M26-24.2h0M27-23.1h0M28,10.8h0M29-46.4h0"/>
<path class="s c1" d="M17,0V22.5"/>
<path class="d c1" d="M0,0.6h0M1,0.7h0M2-6h0M3,9.2h0M4-4.4h0M5,4.6h0M6-3.8h0M7-6h0M8,14.1h0M9-1.2h0M10-5.3h0M11,13.7h0M12,11.7h0M13,11.6h0M14,14.5h0M15-9.1h0M16,21.6h0M17,22.5h0M18,25.4h0M19,5.1h0M20,19.6h0M21-6.3h0M22,7.1h0M23-7.1h0M24-0.7h0M25-0.5h0M26-4.9h0M27,20.6h0M28-1.2h0M29,6.2h0"/>
<path class="s c2" d="M9,0V20M10,0V15M12,0V-14.3M14,0V-14.2"/>
<path class="d c2" d="M0,37.1h0M1,14.2h0M2,13.5h0M3,13h0M4,6.5h0M5,20.9h0M6,16.5h0M7,18.9h0M8,0.8h0M9,20h0M10,15h0M11-4.7h0M12-14.3h0M13-3.3h0M14-14.2h0M15,14h0M16,15h0M17-17.4h0M18-16.6h0M19-8.5h0M20-0.4h0M21-13.8h0M22-11.2h0M23-15.9h0M24-3.2h0M25-14.1h0M26-18.1h0M27-44.3h0M28-30.2h0M29-42.1h0"/>
<path class="s c3" d="M3,0V-64.1M14,0V-35.5M24,0V68.5M27,0V-69.9M28,0V-62.4"/>
<path class="d c3" d="M0-100.9h0M1-62.5h0M2,32.4h0M3-64.1h0M4-50.9h0M5,4h0M6-27.5h0M7,12.7h0M8-11.8h0M9-26.5h0M10-3.5h0M11,27.2h0M12-22.5h0M13,25.8h0M14-35.5h0M15-23.7h0M16-1.6h0M17,32.5h0M18-10.8h0M19,49.6h0M20,22.3h0M21-5.6h0M22,13.7h0M23,35.5h0M24,68.5h0M25,21.5h0M26,25.8h0M27-69.9h0M28-62.4h0M29,68.3h0"/>
<path class="s c0" d="M2,0V39.9M20,0V-38.3M25,0V-39.7"/>
<path class="d c0" d="M0,37.6h0M1,35h0M2,39.9h0M3,35.9h0M4,14.4h0M5,34.3h0M6,15.2h0M7,0.7h0M8-4.7h0M9,1.6h0M10,17.7h0M11,9.1h0M12-3.1h0M13,9.9h0M14-14.6h0M15,7.7h0M16-23.6h0M17,0.6h0M18,3.6h0M19,3h0M20-38.3h0M21,0h0M22-5.9h0M23-9.1h0M24-1.8h0M25-39.7h0M26-26.8h0M27-25.2h0M28,9.3h0M29,22.7h0"/>
<path class="s c1" d="M22,0V-16.3M25,0V-19.8"/>
<path class="d c1" d="M0,10.2h0M1,4.8h0M2-2h0M3-0.6h0M4-2.9h0M5,1h0M6,2h0M7,4.4h0M8,21.6h0M9,10.3h0M10,8.6h0M11-8.7h0M12-4.6h0M13-3.1h0M14,4.2h0M15-6.1h0M16-3.2h0M17,16.1h0M18,13.1h0M19-2.9h0M20,14.6h0M21,13.2h0M22-16.3h0M23-2.9h0M24-4.5h0M25-19.8h0M26-2h0M27-10.2h0M28,0h0M29,14.8h0"/>
<path class="s c2" d="M15,0V20.8"/>
<path class="d c2" d="M0,44.1h0M1,6.8h0M2,19.9h0M3,15.9h0M4,20.3h0M5,21.9h0M6,18.8h0M7,13.9h0M8,4h0M9,15.3h0M10,8.3h0M11,5.5h0M12-3.1h0M13,13h0M14-7.2h0M15,20.8h0M16,16.7h0M17-6.4h0M18-19.9h0M19-0.9h0M20,1.6h0M21,5.3h0M22-15.5h0M23-27.5h0M24-26h0M25-11h0M26-21.8h0M27-39.9h0M28-24.3h0M29-24.7h0"/>
<path class="s c3" d="M2,0V-84.2M7,0V25.6M26,0V-46.6"/>
<path class="d c3" d="M0-5.6h0M1-100.3h0M2-84.2h0M3-12.3h0M4-29h0M5,10h0M6,4.9h0M7,25.6h0M8-2.5h0M9-17.2h0M10-28.8h0M11,29.2h0M12,7.1h0M13-18.6h0M14-15.6h0M15,12.4h0M16,9.9h0M17,28.1h0M18,38.5h0M19,16.8h0M20,19h0M21,12h0M22,26.3h0M23,45.6h0M24,54.8h0M25,32.1h0M26-46.6h0M27,18.4h0M28,73.9h0M29,80.8h0"/>
<path class="s c0" d="M3,0V42M5,0V43.6M20,0V-36.1M23,0V-27M29,0V-66.3"/>
<path class="d c0" d="M0,20.8h0M1,0.8h0M2,11.1h0M3,42h0M4,6.4h0M5,43.6h0M6,29.4h0M7,6.6h0M8,7h0M9-10.7h0M10,10.8h0M11,1.3h0M12,17.5h0M13,3h0M14-9.8h0M15,8.9h0M16-5.4h0M17-17.7h0M18-6.1h0M19-0.4h0M20-36.1h0M21-5.7h0M22-9.4h0M23-27h0M24-18.8h0M25-9.9h0M26-14.5h0M27-13.3h0M28-23.5h0M29-66.3h0"/>
<path class="d c1" d="M0,1.7h0M1,3.9h0M2,2.7h0M3,10h0M4,3h0M5-0.8h0M6,4h0M7,3.9h0M8,12.6h0M9,3.9h0M10-0.4h0M11-5.3h0M12-5.6h0M13-6h0M14,3.2h0M15-5.1h0M16-6.5h0M17-3.4h0M18,22.1h0M19,25.3h0M20-0.8h0M21,2h0M22-11.3h0M23-10.2h0M24-10.6h0M25-2.6h0M26-7.7h0M27,17.8h0M28-8.2h0M29,12.2h0"/>
<path class="d c2" d="M0,14.9h0M1,25.2h0M2-1.5h0M3,23.5h0M4,8.7h0M5,1.7h0M6,11.3h0M7,23.1h0M8,8.6h0M9,12.8h0M10,5.7h0M11,13.1h0M12,15.7h0M13,10.6h0M14,1.5h0M15,15.5h0M16-11.8h0M17-24.9h0M18-2.7h0M19-6.7h0M20,0.9h0M21,2.8h0M22-4.2h0M23-6.3h0M24-31.2h0M25-12.9h0M26-8.5h0M27-39.5h0M28-38.7h0M29-70.7h0"/>
<path class="s c3" d="M0,0V68M3,0V-71.6"/>
<path class="d c3" d="M0,68h0M1,7.5h0M2-31.2h0M3-71.6h0M4-10.2h0M5-46.4h0M6-41.6h0M7-13.8h0M8-20.1h0M9,19.8h0M10,10.3h0M11,13.1h0M12-25.5h0M13,22.7h0M14,6.5h0M15-11.5h0M16,3.7h0M17,0.4h0M18,55.7h0M19,1.7h0M20-8.3h0M21,40.7h0M22,2h0M23,51.6h0M24,62h0M25,33.6h0M26,45.3h0M27,28.5h0M28,40.8h0M29,71.2h0"/>
<path class="s c0" d="M0,0V73.3M12,0V25M13,0V18"/>
<path class="d c0" d="M0,73.3h0M1,51.7h0M2,30.1h0M3,25.8h0M4,20.4h0M5,35.5h0M6,19.5h0M7,8.8h0M8,8.1h0M9,5.1h0M10,13.9h0M11,16h0M12,25h0M13,18h0M14-1.9h0M15-7h0M16,5h0M17-1.3h0M18,2.5h0M19-12.7h0M20-10.4h0M21-30.6h0M22-6.4h0M23-13.3h0M24-5.2h0M25,8h0M26-10.7h0M27,0h0M28-21.3h0M29,11.6h0"/>
<path class="s c1" d="M14,0V-13.8M15,0V-14.2M18,0V28.5"/>
<path class="d c1" d="M0,9.1h0M1,6.9h0M2,0.7h0M3,4h0M4-3.4h0M5,4h0M6,3.6h0M7,6.5h0M8,10.2h0M9,0.7h0M10-6.3h0M11-11.7h0M12-8.6h0M13-13.1h0M14-13.8h0M15-14.2h0M16,17.9h0M17,0.1h0M18,28.5h0M19,8.1h0M20-4.7h0M21-4.5h0M22-5h0M23-4.9h0M24-6.6h0M25-10.8h0M26-8.4h0M27-14.6h0M28-2.2h0M29,6.9h0"/>
<path class="s c2" d="M16,0V-15.4M21,0V-25M27,0V-53"/>
<path class="d c2" d="M0,1.9h0M1,13h0M2,2h0M3,10.3h0M4,13.7h0M5,0h0M6,23h0M7,14.5h0M8,5.8h0M9,3.8h0M10,2.7h0M11,3.1h0M12-1.6h0M13-1.1h0M14-9.9h0M15,2.2h0M16-15.4h0M17-22.2h0M18,4.2h0M19,8.9h0M20,10h0M21-25h0M22-16.7h0M23-10.2h0M24-8.7h0M25-15.9h0M26-22.8h0M27-53h0M28-41.4h0M29-74.2h0"/>
<path class="s c3" d="M1,0V13.7M3,0V44.5M8,0V31.1M9,0V22.6M16,0V52.2M18,0V-15M19,0V63.3"/>
<path class="d c3" d="M0-73.6h0M1,13.7h0M2,0h0M3,44.5h0M4,3.5h0M5-24.6h0M6-10.1h0M7,22.5h0M8,31.1h0M9,22.6h0M10,2h0M11-25.4h0M12-13.2h0M13,16.4h0M14-27.8h0M15-3.6h0M16,52.2h0M17,3.3h0M18-15h0M19,63.3h0M20-14.6h0M21,43.3h0M22,17.4h0M23,8h0M24,25.8h0M25,42h0M26,42.5h0M27,56.5h0M28,19h0M29,41.1h0"/>
<path class="s c0" d="M0,0V14.1M1,0V55.5M6,0V30.8M11,0V-19.2M12,0V22.3M28,0V-27.5M29,0V27.8"/>
<path class="d c0" d="M0,14.1h0M1,55.5h0M2,18.2h0M3,6.8h0M4,16.2h0M5,26.7h0M6,30.8h0M7,11.4h0M8,11.4h0M9,10.5h0M10,9.4h0M11-19.2h0M12,22.3h0M13,13.5h0M14-13.1h0M15-13.2h0M16-4.7h0M17-10.1h0M18-8.9h0M19-4.4h0M20-5.7h0M21-22.6h0M22-12h0M23-15.9h0M24-13.3h0M25-24.5h0M26-8.8h0M27-2.8h0M28-27.5h0M29,27.8h0"/>
<path class="s c1" d="M0,0V-41.7M24,0V-13.3"/>
<path class="d c1" d="M0-41.7h0M1,0.2h0M2,2.3h0M3-1.2h0M4,3.4h0M5-5.6h0M6-3.5h0M7-0.8h0M8,19.1h0M9,1.8h0M10-8.1h0M11,5.6h0M12-9.9h0M13,9.1h0M14,15.7h0M15-1.6h0M16-12.5h0M17,20.1h0M18,14.6h0M19,6.5h0M20,11.3h0M21,15.1h0M22-6h0M23,1h0M24-13.3h0M25-12.7h0M26-9.5h0M27-12.5h0M28-3.2h0M29,23.7h0"/>
<path class="s c2" d="M12,0V19.2M16,0V23.6M25,0V-19.5"/>
<path class="d c2" d="M0,4.6h0M1,21.4h0M2-3h0M3,5h0M4,7.6h0M5,11.2h0M6,10.3h0M7,7.2h0M8,11h0M9,7.8h0M10,3.6h0M11-2.3h0M12,19.2h0M13,14.4h0M14,13.9h0M15-6.6h0M16,23.6h0M17-11h0M18,6.8h0M19-4.6h0M20,3.5h0M21-5.3h0M22-8h0M23,5.1h0M24-20.3h0M25-19.5h0M26-20.6h0M27-49.9h0M28-29.3h0M29-21h0"/>
<path class="s c3" d="M0,0V-127M1,0V-117.1M12,0V-36M20,0V-16.9M25,0V20.6M29,0V-25"/>
<path class="d c3" d="M0-127h0M1-117.1h0M2-10.2h0M3,29.1h0M4-26.1h0M5,1.8h0M6-31.4h0M7-6.8h0M8-18.4h0M9,4.7h0M10-23.5h0M11,6.5h0M12-36h0M13,20.3h0M14,21.8h0M15-20.5h0M16,44.6h0M17,43.2h0M18,12.8h0M19,28.3h0M20-16.9h0M21,7.6h0M22-4h0M23,12.7h0M24,31.8h0M25,20.6h0M26,30.9h0M27,13.7h0M28,33.9h0M29-25h0"/>
</g>
<path d="M1222,1387H2394" stroke="#000" stroke-width="5.8" stroke-dasharray="15.4 6.7" fill="none"/>
</g>
<text class="tt" x="606.5" y="44.4">company_alpha</text>
<text class="tt" x="1808.6" y="44.4">company_alpha</text>
<text class="tk" x="90.5" y="345.6">19</text>
<text class="tk" x="345.2" y="345.6">20</text>
<text class="tk" x="599.9" y="345.6">21</text>
<text class="tk" x="854.6" y="345.6">22</text>
<text class="tk" x="1109.3" y="345.6">23</text>
<text class="tk" x="1257.8" y="345.6">0</text>
<text class="tk" x="1395.6" y="345.6">10000</text>
<text class="tk" x="1533.4" y="345.6">20000</text>
<text class="tk" x="1671.2" y="345.6">30000</text>
<text class="tk" x="1809" y="345.6">40000</text>
<text class="tk" x="1946.8" y="345.6">50000</text>
<text class="tk" x="2084.6" y="345.6">60000</text>
<text class="tk" x="2222.4" y="345.6">70000</text>
<text class="tk" x="2360.2" y="345.6">80000</text>
<text class="xl" x="1808" y="395.2">Rank (all chains)</text>
<text class="tt" x="606.5" y="444.4">team_alpha</text>
<text class="tt" x="1808.6" y="444.4">team_alpha</text>
<text class="tk" x="187.1" y="745.6">−4</text>
<text class="tk" x="391.1" y="745.6">−2</text>
<text class="tk" x="595.2" y="745.6">0</text>
<text class="tk" x="799.3" y="745.6">2</text>
<text class="tk" x="1003.3" y="745.6">4</text>
<text class="tk" x="1257.8" y="745.6">0</text>
<text class="tk" x="1395.6" y="745.6">10000</text>
<text class="tk" x="1533.4" y="745.6">20000</text>
<text class="tk" x="1671.2" y="745.6">30000</text>
<text class="tk" x="1809" y="745.6">40000</text>
<text class="tk" x="1946.8" y="745.6">50000</text>
<text class="tk" x="2084.6" y="745.6">60000</text>
<text class="tk" x="2222.4" y="745.6">70000</text>
<text class="tk" x="2360.2" y="745.6">80000</text>
<text class="xl" x="1808" y="795.2">Rank (all chains)</text>
<text class="tt" x="606.5" y="844.4">company_beta_lmx</text>
<text class="tt" x="1808.6" y="844.4">company_beta_lmx</text>
<text class="tk" x="178.3" y="1145.6">0.4</text>
<text class="tk" x="427.7" y="1145.6">0.6</text>
<text class="tk" x="677.1" y="1145.6">0.8</text>
<text class="tk" x="926.5" y="1145.6">1.0</text>
<text class="tk" x="1175.9" y="1145.6">1.2</text>
<text class="tk" x="1257.8" y="1145.6">0</text>
<text class="tk" x="1395.6" y="1145.6">10000</text>
<text class="tk" x="1533.4" y="1145.6">20000</text>
<text class="tk" x="1671.2" y="1145.6">30000</text>
<text class="tk" x="1809" y="1145.6">40000</text>
<text class="tk" x="1946.8" y="1145.6">50000</text>
<text class="tk" x="2084.6" y="1145.6">60000</text>
<text class="tk" x="2222.4" y="1145.6">70000</text>
<text class="tk" x="2360.2" y="1145.6">80000</text>
<text class="xl" x="1808" y="1195.2">Rank (all chains)</text>
<text class="tt" x="606.5" y="1244.4">team_beta_lmx</text>
<text class="tt" x="1808.6" y="1244.4">team_beta_lmx</text>
<text class="tk" x="265.9" y="1545.6">−1</text>
<text class="tk" x="519.5" y="1545.6">0</text>
<text class="tk" x="773.1" y="1545.6">1</text>
<text class="tk" x="1026.7" y="1545.6">2</text>
<text class="tk" x="1257.8" y="1545.6">0</text>
<text class="tk" x="1395.6" y="1545.6">10000</text>
<text class="tk" x="1533.4" y="1545.6">20000</text>
<text class="tk" x="1671.2" y="1545.6">30000</text>
<text class="tk" x="1809" y="1545.6">40000</text>
<text class="tk" x="1946.8" y="1545.6">50000</text>
<text class="tk" x="2084.6" y="1545.6">60000</text>
<text class="tk" x="2222.4" y="1545.6">70000</text>
<text class="tk" x="2360.2" y="1545.6">80000</text>
<text class="xl" x="1808" y="1595.2">Rank (all chains)</text>
</svg></body></html>
